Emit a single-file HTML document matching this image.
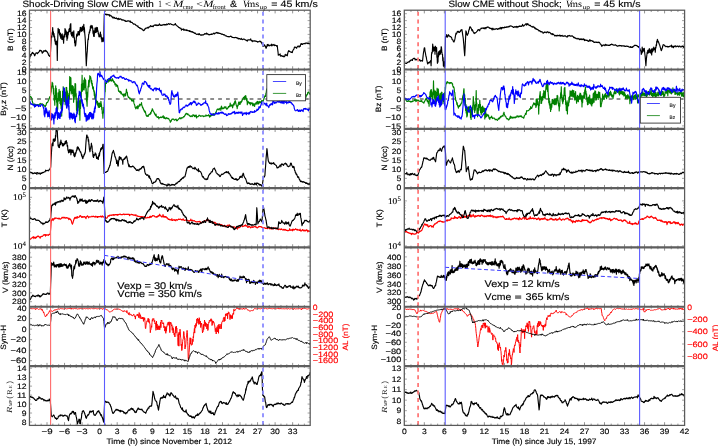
<!DOCTYPE html>
<html><head><meta charset="utf-8"><title>CME plots</title>
<style>html,body{margin:0;padding:0;background:#fff;width:718px;height:446px;overflow:hidden}svg{display:block;filter:blur(0.3px)}text{text-rendering:geometricPrecision}</style>
</head><body>
<svg width="718" height="446" viewBox="0 0 718 446"><defs><clipPath id="cL0"><rect x="29.45" y="10.2" width="280.75" height="59.31"/></clipPath><clipPath id="cL1"><rect x="29.45" y="69.51" width="280.75" height="59.31"/></clipPath><clipPath id="cL2"><rect x="29.45" y="128.83" width="280.75" height="59.31"/></clipPath><clipPath id="cL3"><rect x="29.45" y="188.14" width="280.75" height="59.31"/></clipPath><clipPath id="cL4"><rect x="29.45" y="247.46" width="280.75" height="59.31"/></clipPath><clipPath id="cL5"><rect x="29.45" y="306.77" width="280.75" height="59.31"/></clipPath><clipPath id="cL6"><rect x="29.45" y="366.09" width="280.75" height="59.31"/></clipPath><clipPath id="cR0"><rect x="404.3" y="10.2" width="280.3" height="59.31"/></clipPath><clipPath id="cR1"><rect x="404.3" y="69.51" width="280.3" height="59.31"/></clipPath><clipPath id="cR2"><rect x="404.3" y="128.83" width="280.3" height="59.31"/></clipPath><clipPath id="cR3"><rect x="404.3" y="188.14" width="280.3" height="59.31"/></clipPath><clipPath id="cR4"><rect x="404.3" y="247.46" width="280.3" height="59.31"/></clipPath><clipPath id="cR5"><rect x="404.3" y="306.77" width="280.3" height="59.31"/></clipPath><clipPath id="cR6"><rect x="404.3" y="366.09" width="280.3" height="59.31"/></clipPath></defs><rect width="718" height="446" fill="#fff"/>
<line x1="29.45" y1="99" x2="310.2" y2="99" stroke="#6a6a6a" stroke-width="1.3" stroke-dasharray="3.8,4.07" stroke-dashoffset="0.2"/>
<line x1="404.3" y1="99" x2="684.6" y2="99" stroke="#6a6a6a" stroke-width="1.3" stroke-dasharray="3.8,4.07" stroke-dashoffset="0.2"/>
<path d="M29.4 57.7l .3-.1 .3-.7 .2-.6 .3-1.9 .3 1.3 .3-.5 .3-.7 .2-.6 .3-.5 .3-.5 .3-.5 .3 .2 .2 .5 .3 .5 .3 0 .3 0 .3 .6 .2 1 .3 .6 .3-.5 .3-1.1 .3-.5 .3-.7 .3-.1 .3-.1 .2 .1 .3 .3 .3 .5 .3-.2 .3-.4 .2-.5 .3-.2 .3-.2 .3-.5 .3-.2 .4-1.2 .3 .5 .3-.5 .3 0 .3 .5 .3-.1 .3 .3 .3 .8 .2 .5 .3 .9 .3-.5 .2-.6 .3 .3 .3-1.6 .3 .4 .3 0 .2 .1 .3-.6 .3 .1 .3 0 .3 .4 .2-1 .3 1 .3 .1 .3-.3 .3 .4 .3 .4 .2 .6 .3 .4 .3 .2 .3 1.1 .3 .6 .3 .8 .3 .1 .3 .4 .2 .2 .3 .2 .3-.1 .3-4.3 .3-5.2 .2-3.9 .3-6.1 .3-1 .3 1.3 .2-4.4 .3 .2 .3-5.3 .3 6.5 .4-2.2 .3 4.4 .3-2.8 .3 4 .3-1.4 .2 5 .3-2.2 .3 5.1 .3-2.8 .3 3.5 .4-3.6 .3 3.8 .3 .1 .3 15.4 .3-19.2 .2-3.4 .3-9.4 .3 4.5 .3-3.6 .3 2.4 .3-2.2 .3 5.3 .3-2.2 .3 3.7 .3-2.9 .2 4.8 .3-3.6 .3 1.9 .3-1.7 .3 4.7 .3-5.6 .3 5.5 .2-3.6 .3 3.6 .3-.3 .3 4 .3-6.1 .3-2.4 .3 .9 .2 1.4 .3-8.3 .3 2.6 .3-1.5 .3 4.6 .3-3.2 .3 5.5 .2-3.5 .3 7.2 .3-8.1 .3 5.9 .3-5.4 .3 2.3 .3-3.5 .3 .4 .2-2.9 .3 2.8 .3-3.4 .3 3.1 .3-6.8 .3 6.8 .3-8 .2 10.6 .3-1.9 .3 3.8 .3-2.6 .3 2.1 .3-3.5 .4 5.3 .3-5.3 .3 2.8 .3-4 .3 7.1 .3-.3 .2 5.2 .3-2.2 .3 5.4 .3-.2 .3-1.5 .4-4.5 .3-3.7 .3-2.1 .3 2.1 .3-2.3 .3 2 .3-4.3 .2 2.1 .3-2.1 .3 3.2 .3-2.8 .3 3.1 .3-5 .3 2.1 .3-4.7 .3 2.3 .3-2 .3 3.2 .3-1.7 .3 2.1 .3-4.3 .3 3.5 .3-4.1 .3 3.4 .3-4 .2 3.3 .3-4.8 .3 7.7 .3-4.5 .3 5.6 .4 3.9 .3 5.2 .3 8.1 .3 7.5 .3 7.9 .3-5.8 .4-5.9 .3-3.1 .3-6.2 .3-4.7 .3-1.4 .2 1.1 .3-5.3 .3-.2 .3-2.3 .3 .8 .3-3 .3 .9 .2-4.2 .3 1.6 .3-2.7 .3 2.5 .3-.8 .3 1 .3-2.3 .2 1.4 .3 .8 .3 5.4 .3-.8 .3 3.7 .3-5.4 .3 5.6 .3-5.1 .3 1.7 .2-4.9 .3 4 .3-2.9 .3 3.2 .3-5.1 .3 4.7 .3-2.9 .3 1.4 .3-2.9 .3 3.8 .3-.7 .3 3.3 .3-.8 .3 3.4 .3-1.8 .3 2.1 .3-1.9 .3 1.6 .3-4.5 .3 4.4 .3-1.9 .3 4.3 .3-1.8 .3 4.5 .3-3 .3 2.3 .4-3 .3 3.7 .3-1.3 .3 0 .2-12.7 .3-13.6 .3 .8 .3-.3 .3-.1 .3-.3 .4 0 .3 .8 .3-.6 .3 .1 .3 .3 .3-.3 .3 .2 .3 .3 .3-.2 .3 .3 .3-.2 .3-.2 .3 1.5 .3-.6 .3-.3 .3 .3 .3 .2 .3 .2 .3 0 .3 .3 .2 .7 .3 0 .3 .2 .3 .7 .3-.9 .3 1.1 .3-.2 .3 0 .3 .1 .3-.5 .3 .6 .3 .5 .3 0 .3-.2 .3 0 .3-.4 .3 .7 .3-.2 .3 .2 .3 .2 .3 .5 .3 .3 .3-1.1 .3-.2 .3 .6 .3 .2 .3 .3 .3-.1 .3-.5 .3 .1 .3 .3 .3 0 .3 .1 .3 .5 .3 .5 .3-.4 .3 .1 .3-.1 .3-.1 .3 .3 .3 .1 .3 .1 .3 .4 .3-.2 .3-.1 .3 1 .3-.5 .3 .2 .3 .2 .3 .1 .3 0 .3-.3 .3-.1 .3-.2 .3 .3 .3-.3 .3 .1 .3 .1 .3 0 .3 .1 .3 .6 .3 .2 .3-.9 .3 1.2 .3 .3 .3-.1 .3-.1 .3 .1 .2 .2 .3 .2 .3 .4 .3 .3 .3 .4 .3 .3 .3-.3 .3 .3 .3 0 .3 0 .3 .1 .3 .2 .3 .4 .3 .5 .3 .2 .3 .1 .4 .1 .3 .2 .3 .3 .3-.3 .3 1.1 .3 .1 .3 .3 .3 0 .3 .1 .3 .4 .3 .5 .3-.1 .3-.2 .3 .4 .3 .3 .4-.1 .3 .1 .3 .4 .3 .5 .3 0 .3 .3 .3 .5 .3-.1 .3-.1 .3-.7 .3 .1 .2-.9 .3 0 .3-.2 .3-.4 .3-.2 .3 .1 .3-.1 .3-.2 .3 .1 .3-.5 .3-.1 .3 .7 .4-.7 .3-.1 .3-.4 .3 .1 .3 0 .3-.2 .3-.8 .3-.4 .3 .4 .3 .2 .3 .2 .3-.1 .3 .3 .3-.3 .3-.2 .3 .2 .3 .3 .3-.9 .3-.2 .3-.3 .4-.1 .3 .1 .3-.2 .3-.1 .3 .6 .3-.7 .3 .3 .3 0 .3 .5 .3-.1 .3-.4 .3 .2 .3-.1 .3 .2 .3-.5 .3 .1 .3-1.2 .3 1.2 .3-.3 .3 .4 .3 .3 .3-.2 .3-.2 .3 .4 .3-.1 .3-.3 .3 .2 .4-.3 .3 .1 .3-.2 .3-.1 .3-.3 .3 .5 .3-.2 .3-.2 .3 .3 .3-.1 .3 0 .3 .4 .3-.8 .3-.3 .3 .3 .3 0 .3 .3 .3-.6 .3 0 .3-.2 .3-.2 .3 .4 .3 .4 .3-.3 .3-.2 .3 .1 .3-.1 .3 .1 .3 0 .3 .5 .3 0 .3 .1 .3 .1 .3 .1 .3 .1 .3 .1 .3 0 .3 .1 .3-.4 .3-.2 .3-.3 .3 0 .3-.6 .3 1.3 .3 0 .3 .2 .3 .3 .3 .3 .3 .2 .3 .3 .3 .2 .3 .3 .3 .2 .3 .5 .3 .2 .3 0 .3 .2 .3 .3 .3 0 .3 .2 .3 .2 .3-.2 .3 1.9 .3-.6 .3-.1 .3 0 .3-.2 .3 0 .3-.3 .3 1.2 .3-1.1 .3 .3 .3 .3 .3 .6 .3 0 .4 0 .3-.1 .3-.7 .3 .7 .3 .2 .3 .2 .3-.5 .3 .3 .3 .2 .3-.1 .3 .2 .3 .1 .3 .2 .3 .4 .3-.8 .3 .7 .3-.1 .3 .2 .3-.2 .3 .8 .3-.2 .3-.1 .3 0 .3 .4 .3-.3 .3 .1 .3 .7 .3 0 .3 0 .3 .1 .3 .3 .3 .4 .3-.2 .3-.2 .3 .6 .3 .3 .3 .1 .3 .3 .3 .1 .3 0 .3-.3 .4 .1 .3 0 .3 .4 .3-.1 .3-.9 .3 0 .3 .8 .3 .2 .3 .3 .3 0 .3 .1 .3 .3 .3-.4 .3 0 .3 0 .3 .2 .3-.2 .3-.2 .4 .3 .3-.3 .3-.2 .3-.1 .3-.5 .3-.1 .3-.2 .3 .1 .3 .1 .3 .5 .3-.5 .3-.7 .3 .3 .3 .6 .3 .1 .2-.2 .3 .3 .3 .1 .3 .3 .3-.2 .3 .4 .3-.3 .3 .1 .3 0 .3-.2 .3 .1 .3 0 .3-.6 .3 .2 .3 .3 .3-.3 .3 0 .3-.3 .3 .1 .3-.4 .3-.4 .3 .3 .3-.1 .3 .6 .3-.5 .3-.1 .3-.1 .3-.3 .3-.3 .3 .3 .3-.4 .3-.1 .3 .2 .3 .6 .3 .1 .4-.5 .3 .1 .3 .2 .3 .3 .3-.1 .3 0 .3 .2 .3 .2 .3-.1 .3 .1 .3 .1 .3 .5 .3 .1 .3 0 .3-.3 .3 .2 .3 0 .3 .4 .3 .3 .3-.4 .3 .4 .3-.1 .3 .3 .3 .5 .3 .1 .3 .1 .3 0 .3 0 .3 .3 .3 .3 .3 0 .3 0 .3 .2 .3-.2 .3 .2 .3 0 .3 .2 .3-.1 .3-.2 .3-.1 .3 0 .3-.2 .3-.2 .3 .3 .3 .5 .3 .1 .3 0 .2 .4 .3 0 .3-.1 .3 .3 .3-.1 .3 0 .3 0 .3 .2 .3-.1 .3 .1 .3-.3 .3 .1 .3 0 .3 .1 .3 .3 .3 .1 .3-.2 .3 .2 .3 .3 .3-.1 .3 .8 .3-.6 .3 .3 .3-.1 .3-.1 .3 .4 .3 .1 .3 .2 .3-.1 .3 .3 .3-1 .3 .8 .3 0 .3 .1 .3 .3 .3-.1 .3-.2 .3-.2 .3-.1 .3 .1 .3 .1 .3 .1 .3 .5 .3 0 .3 .1 .3 .1 .3 .4 .3 .2 .3-.3 .3-.1 .3 1 .3-1.2 .3 .2 .3-.3 .3 0 .4-.1 .3 .1 .3-.1 .3 .1 .3 0 .3-.1 .3-.9 .3 1.4 .3 0 .3 .3 .3-.2 .3 1.3 .3-.5 .3-.4 .3 .4 .3-.1 .3-.2 .3 0 .3-.1 .3 .1 .2 .3 .3-.3 .3 .1 .3 .3 .3 0 .3 .2 .3-.1 .3 .1 .3 .1 .3 .5 .3-.2 .3-.2 .3 .1 .3-.1 .3 0 .3-.2 .2-.3 .3 0 .3 0 .3 .1 .3 .7 .3 .1 .3 0 .3 0 .3 1.7 .3-.9 .3 1.4 .2 1 .3 1 .3-.1 .3 0 .4-1.2 .3-.1 .3 0 .3 1.3 .3-.3 .2 .3 .3 1.2 .3 .8 .3-.2 .3-1.3 .3-.8 .3-1.4 .2 .8 .3 .6 .3-1.5 .3 1.1 .3-.5 .3 .3 .3 .7 .3-.7 .3 0 .3-.1 .4 .1 .3-.2 .3 .5 .3 0 .3-1.6 .3 1.8 .3-.4 .3-.4 .3-.2 .3 .1 .3 .3 .3-.3 .3-.5 .3 1 .3 .3 .2-.1 .3-.3 .3-.1 .3 .1 .3 .3 .3 .2 .3 .5 .3-.6 .3 0 .3 3.2 .4 2.9 .3 3.4 .3-.4 .3-.1 .3 .1 .3-.2 .3 .1 .3-.8 .3 2 .3 .3 .3-.3 .3-.3 .3 .2 .3 .1 .3 .5 .3-.3 .3-.1 .3 .3 .3-.1 .3 0 .3 .7 .3-.3 .3-.5 .3 0 .3-1.8 .3 .8 .3 0 .3 .2 .3-.3 .3-.2 .3 .1 .3 .9 .3-1.9 .4-1.5 .3-1 .3-.7 .3 .7 .3-.5 .2 .2 .3 .3 .3 .3 .3 .1 .3 0 .3 .5 .3-.3 .2 .4 .3-.4 .3 .1 .3 .5 .3-1.7 .2-.1 .3-.9 .3-.2 .3-.5 .3-.2 .3-1.4 .3-.5 .3-.1 .3 .1 .3 .3 .3 0 .3 .2 .3 .6 .3-.1 .3-.8 .3-.5 .3-.5 .3-.1 .3-.2 .3 0 .3 .6 .2 .5 .3-.5 .3-.3 .3-.5 .3 .6 .3-1.3 .3-.8 .3-.7 .3 0 .3 .8 .3-.6 .3 .5 .3 .2 .3-.5 .3-.2 .3-.1 .3 0 .2 0 .3 0 .3-.3 .3 .3 .3 .1 .3-.5 .3-.2 .3-.2 .3 .2 .3 .1 .3 .1 .3-.3 .3 .5 .3 .1 .3-.4 .2 .4 .3-.4 .3-.1 .3 .6 .3-.2 .3 .4 .3-.3 .3 .5" fill="none" stroke="#000" stroke-width="1.15" stroke-linejoin="round" clip-path="url(#cL0)"/>
<path d="M29.7 95.9l .3 1.4 .3-.6 .3-.3 .4 .8 .3-.1 .3 .8 .3 1.5 .3 1.4 .2 1 .3 .7 .3 1.2 .3 .9 .3 .1 .3-.4 .3-.3 .3 .5 .3 .2 .3-.3 .3 1.1 .3-1 .3 .5 .3-.1 .3 0 .3-.2 .3 .2 .3-.4 .3 .3 .3 .5 .3-.3 .4-.4 .3 0 .3-.2 .3-.3 .3-.2 .3-.5 .3 .3 .3 0 .3 .8 .3 .1 .3-.8 .3 0 .3 .2 .3 .3 .3 0 .4 1 .3-.4 .3 .4 .3 .3 .3 .5 .3-.4 .3 1.1 .3-.6 .3-1 .3-.1 .3-1.7 .3-.7 .2 .1 .3-.2 .3 0 .3-.6 .3-.7 .3-1 .3-.3 .3-.7 .3-.8 .3-1.4 .3-.4 .3-.3 .3-.4 .3-2.8 .4-1.6 .3-5.1 .3-.8 .3-3.5 .3 4.5 .3-3.6 .2 5.1 .3-2.5 .3 8.4 .3-5.7 .4 12.2 .3-1.7 .3 6.3 .3-9.9 .3 3.9 .3-13.4 .3 11 .3-8.4 .3 13.9 .2-3.9 .3 12.8 .3-11.5 .3 9.5 .3-16.3 .2 8.5 .3-7.6 .3 2 .3-6.4 .3 11 .3-7.5 .3 10.6 .3-12.3 .3 13.7 .3-6.2 .2 9.7 .3-6 .3 13.7 .3-17.8 .3 7.6 .3-14.8 .3 9.1 .3-13.5 .3 10.2 .3-8.1 .2 12.7 .3-11.9 .3 11 .3-7.2 .3 11.4 .3-12.6 .3 10.5 .3-15.4 .3 9.5 .3-9.2 .3 17 .3-13.8 .3 11.6 .4-9.2 .3 13.4 .3-11.3 .3 8.5 .3-8.3 .2 2.8 .3-21.7 .3 13.2 .3-12.3 .3 13.2 .3-13 .3 16.2 .4-7 .3 4.9 .3-6.2 .3 7.8 .3-7.3 .3 9.8 .2-9.3 .3 15.7 .3-6.5 .3 3.6 .3-10.5 .2 7.4 .3-12.8 .3 6.2 .3-5.8 .3 15.4 .3-5.7 .3 16.7 .3-3 .3 5.9 .3-11.4 .2 9.4 .3-11.1 .3 6.6 .3-9.2 .3 9.7 .3-6.6 .2 14.1 .3-7 .3 12.6 .3-20.2 .3 8.3 .3-7.4 .4-1.6 .3-15.4 .3 4.8 .3-13.6 .3 16 .2-7.9 .3 5.4 .3-4.4 .3 5.3 .3-9.3 .3 9.7 .4-12.1 .3 9.9 .3-8.4 .3 3.4 .3-2.6 .3 13.6 .2-5.2 .3 12.4 .3 .3 .3 4.9 .3-14 .3 5 .4-10.9 .3-.5 .3-5.5 .3 6.5 .3-6.9 .3 2.1 .2-6.3 .3 3 .3-2.2 .3 .8 .3 1.5 .4 4.3 .3-2.5 .3 4.5 .3-1.9 .3 5.1 .3-1.9 .3 3.1 .2-2.5 .3 4.2 .3-1 .3 5.3 .3-3.6 .2 6.4 .3-4.6 .3 2.8 .3 2.2 .3 2.2 .3-.9 .3 3 .3-1.6 .3 3.1 .3-3.1 .2 3.9 .3-2.7 .3 4.7 .3-3.6 .3 3 .2-3.4 .3 4.2 .3-4.5 .3 3.7 .3-1.8 .3 1.5 .3-5.1 .3 2.2 .3 1.7 .3 4.4 .3-2.3 .2 6.2 .3-1.3 .3 5.9 .3-6.3 .2 1.4 .3-5.9 .3 3.8 .3-8.8 .3-3.1 .3-7.4 .3 0 .3-8.1 .3-1.4 .3 1.1 .3 0 .3-2.4 .3 .9 .3-2.2 .3 1.2 .3-1.2 .3 2.4 .3-1.7 .4 .2 .3-.9 .3 1.4 .3-1.5 .3-.4 .3-1.2 .3 2.8 .3-.9 .4 1.2 .3-1 .3 .7 .3-2.2 .3 2.1 .3-.8 .3 .4 .3 1.2 .3 .9 .3-.8 .3 .7 .3 .5 .3 2 .3-1.2 .3 .8 .2-.3 .3 2.2 .3-1.7 .3 1.2 .3-.7 .3 1.3 .3-.9 .3 2.3 .3 .2 .3 3.1 .3-.1 .3 .4 .3-.4 .3 1.3 .3-.7 .3 .6 .3-.8 .3 2.2 .3-1.6 .3 1.5 .3 0 .3 1.1 .3-.1 .3 .4 .3-.5 .3 1.5 .3-1.8 .3 2.9 .3-1.8 .2-1.1 .3 .4 .3 .7 .3-1.5 .3 2.1 .3-2.2 .2-1 .3-3.4 .3 2.2 .3 1.1 .3-.3 .3 3.1 .3 .8 .3 .9 .3 .6 .3-.5 .3 .8 .4 0 .3 1.1 .3-1 .3 .9 .3-.1 .3 .8 .3-.7 .3 1.8 .3 .2 .2 .2 .3-.8 .3-.3 .3 .4 .3 .9 .3-1.6 .3 3.2 .3 1 .3 .6 .4 1.3 .3 1.8 .3-.3 .3 1.6 .3-1.6 .3 .3 .3-.9 .3 1.4 .3-.4 .3-1.9 .3 3 .3-1.2 .3-1.3 .3 .3 .3-1.5 .3 .7 .3-1.6 .3 1.7 .3-1.2 .3-.1 .3-.4 .3 .3 .3-1.9 .3 2.9 .3 0 .3 1.8 .4-.3 .3 1.8 .3-.2 .3 1.5 .3-.3 .3 1.7 .3-.7 .3 1.6 .4-1.1 .3 1.7 .3 1.2 .3 1.2 .3 .2 .3 .8 .3-1 .3 .6 .3-.1 .3 .6 .2-.1 .3-1.4 .3-.5 .3 0 .3-.5 .3 .7 .3-.9 .3 .3 .3-1.7 .3 1.4 .2-1.7 .3-.3 .3-1.5 .3 .2 .3-1.8 .3 1 .3 .1 .3 1.6 .3 .1 .4 .8 .3 .1 .3 1.5 .3-.1 .3 1 .3-.4 .3 1.4 .3-1.7 .3 1.8 .3 .4 .2 .1 .3 .8 .3 .2 .3-.6 .3 .3 .3-.4 .3 1.2 .3 1 .3-1.4 .3 0 .3 0 .4-.2 .3-.3 .3 .6 .3-.2 .3-.2 .3 .4 .3-.3 .3-.4 .3 .2 .3-.7 .3-.7 .3 1.8 .3 .5 .3 .3 .3-1.5 .4 1.4 .3 0 .3 .6 .3-.8 .3 .1 .3-.4 .3 .3 .3 .6 .3-.5 .3 .2 .3 .4 .3-.1 .3-.3 .4 .4 .3 .8 .3 .6 .3 .2 .3 .2 .3 1.8 .3-1.3 .3 .1 .3 .1 .3-1 .3-.6 .3-.5 .3 .3 .3-.3 .3-.1 .3 .1 .3-.1 .3 .7 .3 .1 .3 .4 .3-.4 .3 .1 .3-.4 .3-.1 .3-.4 .3 .6 .3 .9 .3 .3 .3-.3 .3-.1 .3-.6 .3-.3 .3-.2 .3-.4 .3-.2 .3-.2 .4-.8 .3 .3 .3 .2 .3 .6 .3-.9 .3 .7 .3-.8 .3 .2 .3-.1 .3-.2 .3 .1 .3-.1 .3-.7 .3-.5 .3 .2 .3 .1 .4-1.1 .3 0 .3-.6 .3-.8 .3-.3 .3-.7 .3 .1 .3 .2 .3 .7 .3 .1 .3 .3 .3-1 .2 .9 .3 .4 .3-.1 .3 .2 .3 .3 .3 0 .3 .8 .3 .1 .3 .3 .3-.2 .3-.6 .3 .3 .4-.2 .3 .8 .3-.3 .3-.3 .3-1.5 .3 .9 .3 0 .3-.3 .3 .4 .3 .9 .3-1.1 .3 1.4 .3-1.6 .3 .6 .3 .1 .3-.8 .3 2.9 .3-1.2 .3-.1 .3-.1 .3-.1 .3 .2 .3-.3 .3-.5 .3-.7 .3 0 .3 .5 .3 0 .3 0 .3 .2 .3 .6 .3-.5 .3 0 .3-.2 .3 0 .3 0 .3 .2 .3-.2 .3 .6 .3 .3 .3-.7 .3 .3 .3-.1 .3-.1 .3 .2 .3-.4 .3-.4 .3-.6 .3 1 .3-.2 .3-.3 .3 .3 .3-.1 .3 .1 .3-.3 .4 .3 .3-1 .3 1 .3 .2 .3 1.2 .3-1.6 .3 1.1 .3-1.1 .3 .6 .3-.3 .3-.3 .3-.7 .3 .2 .3 .2 .3-.9 .3 1 .3-.1 .3-1.7 .3 .9 .3-.4 .3 0 .3 1.2 .3-1.3 .3-.4 .3-.7 .3-.8 .3-.1 .3-1 .3-.7 .3-.8 .3-.3 .3-.1 .3 .4 .2-.3 .3 .5 .3-.4 .3 .8 .3-1 .3-.5 .3-.1 .3-.2 .3 .3 .2 1.8 .3-1.4 .3-2.8 .3 1 .3 .6 .3 1.1 .3-.1 .3-.5 .3 .5 .3-.6 .3 .4 .3-1.3 .3 .2 .3-.6 .3 1 .3-.1 .3 .2 .3-1.2 .3 1.3 .3 .3 .3 1 .4-.2 .3-.8 .3-.1 .3-.6 .3-1 .3 .7 .3-1 .3 .2 .3-.8 .3 .9 .3-3.6 .3 3 .3-.6 .3 .4 .3-.5 .3 .5 .3-1.3 .3 1.9 .3 1.4 .3-1.4 .3-1.1 .3-.5 .3-1.4 .4 1.5 .3-3.1 .3 1.5 .3-2.4 .3-.1 .3 1.6 .3 1.7 .3 1.2 .3 1 .3 0 .3 2.3 .3-2.9 .3-.5 .3 .6 .3-2.2 .2-1.1 .3-.6 .3 .7 .3 1.8 .3-2.3 .3 2.4 .3-2.6 .3-.2 .3 1.1 .3-.9 .3-1.1 .2 .9 .3-1.8 .3 0 .3-.5 .3-.3 .3-1.6 .3 .2 .3-.5 .3 .9 .4-1.6 .3 3.1 .3-3.7 .3 .5 .3-.7 .3 2.1 .3 1.2 .3 1.9 .3-2.4 .3 6.3 .3-2.7 .3 .7 .3-1.5 .3 1.3 .3-.3 .3 1.1 .3-1 .3 1.1 .3-.5 .3 2 .3-2.4 .3 .4 .3-.1 .3 .9 .3-1 .3 .4 .3-.2 .3 2.7 .3-2.5 .4 1.3 .3-.3 .3 1.7 .3-2 .3 2.6 .3-2.4 .3 .1 .3-.1 .3-.9 .3-.8 .3 .7 .3-1 .3 2.2 .4-2.9 .3 1.9 .3-1.5 .3 1.4 .3 .7 .3-1.4 .3-1.2 .3 1.5 .3-.8 .3 .8 .3-.9 .3 .7 .3-1.1 .3 .8 .3-1.8 .3 1.1 .3-1 .3 1.3 .3-.2 .3 0 .3-1.4 .3-.5 .3-1.6 .3-.2 .4-1.9 .3-.3 .3-.5 .3 1.2 .3-3.2 .3-.5 .4-3.4 .3-.6 .3 1.9 .3 .6 .3-.1 .3 .2 .3 .2 .4 .4 .3-2.4 .3 .4 .3-1.2 .3 1.5 .3-1.5 .3 2 .3-.1 .3 .1 .3-1.8 .3 .8 .3 0 .3-.7 .3-1.1 .3 1.8 .3-2.6 .3 2.5 .3-1 .3 1.8 .3-1.4 .3 .4 .4-.1 .3 1.7 .3-3.6 .3 2.2 .3 .4 .3 0 .3-.6 .3-1.3 .3 .7 .3 1.3 .3-.5 .3 .8 .3-3.4 .3 3.4 .3-1.5 .3-.9 .3-.9 .3 1.5 .3-.7 .3 .8 .3-.5 .3 .6 .3-.6 .3 .1 .3-.6 .3 1.4 .3 1.1 .3-1.8 .3-1.5 .3 2.4 .3-1 .3-1.4 .3-.4 .4 1.2 .3-1.2 .3 .4 .3-.3 .3 1.8 .3 .3 .3 1.5 .3-1.1 .3 .5 .3-2.8 .3 2.1 .3-1.1 .3 .1 .3-.3 .3 .9 .3 .7 .3 .2 .3 .7 .3 0 .3-1.3 .3 .6 .3-.5 .3 1.2 .3 .1 .3 .6 .3-.6 .3 .5 .3-.6 .3-.1 .3-.3 .3 0 .3 0 .3 .5 .4-.4 .3 .7 .3-.2 .3 1.2 .3-.7 .3 .8 .3-.7 .3 .3 .3 .1 .3 .3 .3 .5 .3-.1 .3 .1 .3 .8 .3-.2 .3 .9 .3-.3 .3 .2 .3 .5 .3-.8 .3-.2 .3 .2 .3-.1 .3 .6 .3 1.3 .3-1.5 .3-.4 .3 0 .3 .1 .3 .4 .3-.9 .3 .7 .3 .1 .3 .1 .3 .7 .3 .9 .3 2 .3-1.5 .3-.9 .2 .2 .3-.1 .3-.7 .3-1.8 .3 .7 .3-1.2 .3 .7 .3-.7 .3 .9 .4 1 .3 .2 .3-.4 .3 1.3" fill="none" stroke="#008000" stroke-width="1.15" stroke-linejoin="round" clip-path="url(#cL1)"/>
<path d="M29.7 100.6l .3 1.2 .3 1.7 .3-.7 .3 1.5 .3-.6 .3 .1 .3 .5 .3-.2 .4 .2 .3 .7 .3-.2 .3 .4 .3-.2 .3 .4 .3 .6 .3 1.2 .3-3.1 .3 .8 .3 1.5 .3-.4 .4-.5 .3-.4 .3 .1 .3 .6 .3-.6 .3-.4 .3 .1 .3 .5 .3 1.2 .3-1.2 .3 .8 .3-.4 .3 .1 .4 0 .3 .5 .3-1.3 .3-.4 .3-.4 .3 .3 .3-.1 .3 .3 .3 1 .3 .5 .3 .7 .3 1.5 .3-1.4 .4 7.9 .3-1 .3 2.8 .3-6.2 .2 3.2 .3-6 .3 2.7 .3-2.5 .3 4.5 .3-2.8 .3 4.1 .3-1.9 .3 4.9 .3-4 .3 2.9 .3-3.7 .3 4.5 .3-5.8 .3 5.3 .3-.2 .4 2.8 .3-3 .3 4.8 .3-4.2 .3 3.4 .4-6.3 .3 3.7 .3-2.1 .3 2.9 .3-3.5 .3 5.3 .3-3.3 .3 7.6 .3-8.4 .3 2.8 .3-5.1 .3 4.7 .3-5.6 .4 3 .3-6.9 .3 4 .3-5.2 .3 6.1 .3-3.6 .2 9.6 .3-6.5 .3 4.2 .3-4.4 .3 5.2 .3-2.8 .4 3.2 .3-4.8 .3 5 .3-6.1 .3 4.2 .3-5 .3 1.6 .3-4 .3 3.1 .3-5.7 .3 3.8 .3-7.1 .3 1.1 .3-8.2 .3 .5 .3-9.1 .3 6.6 .2-5.8 .3 7.4 .3-3.8 .3 6.4 .3-1.7 .3 7 .3-3.9 .3 7.6 .3 .9 .3-.9 .3-6.6 .2 4.9 .3-6.5 .3 1.8 .3-4.2 .3 13 .2-4.2 .3 12.1 .3-1.8 .3 3.3 .3-6.3 .3 2.1 .4-1.6 .3 4.5 .3-4.6 .3 4.4 .3-2.9 .3 4.3 .3-4.9 .3 4.2 .3-2.4 .3 2.2 .3-5.1 .3 3.7 .3-2.2 .2 6.7 .3-4.7 .3 6.2 .3-6.4 .3 .5 .3-2.2 .4 2.1 .3-4.9 .3 2.1 .3-5.2 .3 2 .3-9.4 .2 .3 .3-6 .3 2.4 .3-6.8 .3 4.3 .3-3.4 .3 2.2 .3-2.3 .3 5.5 .3-1.7 .3 5.4 .3-2.3 .3 4.2 .3-3.3 .3 6 .3-2.9 .3 4 .3-2.7 .4 4.4 .3-1.1 .3 6.1 .3 1.2 .3 1.9 .3-3.3 .3 .3 .3 .4 .3 7.1 .3-5.6 .3 4.5 .3 .1 .3-4.6 .3 .8 .4 3.3 .3-5.1 .3 3.7 .3-4.7 .3 5.3 .3-6.3 .3 4.6 .3-4.8 .3 3.8 .3-3.6 .3 3.9 .3-3.1 .3 5.2 .3-4.6 .4 2.5 .3-2.6 .3 5.1 .3-2.8 .3 1.8 .3-6.9 .3 .7 .3-4 .3 4.4 .3-6.1 .3 2.3 .3-8.4 .3-1.9 .3-2.4 .3-7.2 .3-4.5 .4-3.5 .3-6.6 .3 .3 .3-1 .3 .9 .3 .7 .3 .4 .3-.3 .3 2 .3-5.2 .3 4.1 .3-1.1 .4 1.6 .3-.9 .3 .9 .3-.6 .3 1.3 .3-.1 .3 1.2 .3 .2 .3 .9 .3-.5 .3 1.1 .3 0 .3 .5 .3-.9 .4 1.4 .3-.4 .3 .8 .3 .8 .3 .4 .3-.9 .3 .3 .3-1 .3-.2 .3-1 .3-.7 .3 .1 .3 .2 .3-.7 .3-.2 .3 .3 .3 .1 .3-.7 .4-1.2 .3 1 .3-.4 .3-.6 .3-.5 .3-.5 .3 .4 .3 0 .3-.3 .3-.2 .3-.7 .3 1.1 .3 .8 .3-.4 .2 .9 .3 0 .3 0 .3 0 .3 .7 .3-.1 .3-.2 .3 .1 .3 .1 .3 0 .3-.6 .3 .5 .3 .4 .3-.2 .4-1 .3-.3 .3 .1 .3-.7 .3 .2 .3 .4 .3-.5 .3 .7 .3 0 .3 .7 .3 .6 .3-.5 .3 .4 .3-.7 .3 .3 .4-.1 .3 .6 .3 .1 .3 .9 .3-.2 .3 .1 .3 .3 .3-.3 .3-.6 .3 .1 .3 .4 .3 .3 .3 .3 .4 .1 .3-.4 .3 .6 .3 1.2 .3-.8 .3 .3 .3-.6 .3 .3 .3 .4 .3 .2 .3-.1 .3 0 .3 .1 .4 .2 .3 1.2 .3 .2 .3 .1 .3-.1 .3-.4 .3-.4 .3-.2 .3 .3 .3 0 .3-.1 .3 1.5 .3-.3 .3 1 .3 .2 .3 .6 .3 .9 .3 .1 .3-.6 .3 1.3 .3 .6 .3 1.4 .3 2 .3 1.6 .3 .6 .3 1.2 .3-1.5 .3-.5 .3-1.7 .3 .6 .3-2.3 .3-.1 .3-1.3 .3-.4 .3-1.9 .3-1.5 .3-.2 .3 .1 .3 .2 .3 .1 .3 1.2 .4-2.4 .3-1 .3 .1 .3 .3 .3 .3 .3-.1 .3 .4 .3 .4 .3 1.3 .2-.9 .3 1.4 .3 .9 .3 .4 .3-.3 .3 .7 .3 .9 .3-1.8 .3 1.7 .3 .4 .3-2 .2 2.5 .3 .7 .3 .4 .3-.4 .3-.3 .3 .5 .3 .3 .3 .5 .3 .5 .3 .1 .3-.7 .3 1.4 .3-1 .4-1.1 .3 .1 .3-.8 .3 .7 .3-.5 .3-.3 .3 .1 .3 2.6 .3-2.5 .3 .4 .3 .4 .3 .2 .3-.6 .3 .7 .3 .1 .3 .2 .3-.7 .3 1 .3-1.9 .3 2.8 .3-.1 .3-.1 .3 1.2 .3 .4 .2-1.9 .3 2.8 .3 .2 .3 1.5 .3 .5 .3 0 .3-.1 .3-.1 .3 0 .3-1.2 .2 .5 .3 0 .3 .3 .3-.6 .3 1.3 .3 1 .3-1 .3 .4 .3 .1 .4 1 .3-.8 .3 1.7 .3-.8 .3 1.7 .3-1.1 .3 2.5 .3-.5 .3 1.5 .2 1.5 .3 .4 .3 1.5 .3-1.4 .3 .9 .3-2.5 .4-6.4 .3-3.2 .3-1.3 .3 2.6 .3-.3 .3 2.3 .2-1.2 .3 1.6 .3 1.2 .3-.2 .3-.8 .3 1.4 .3-1 .3 .4 .3-1.9 .3 1.6 .3-1.4 .3 1.2 .3-2.1 .3 1.8 .3-1.9 .3 .9 .3-2.8 .3 3 .3 2.6 .2 6.7 .3 3.9 .3 4.5 .3 .1 .3-.9 .3-1.3 .3-.7 .4-.5 .3 .4 .3-.9 .3 0 .3-.1 .3 .3 .3-.3 .3-.8 .3-.8 .3 .2 .3 0 .3 .2 .3-.4 .3 0 .3-.7 .3-.6 .3-.2 .3-.3 .3-.5 .3 .6 .3 .4 .3 .4 .3-.7 .4 .4 .3-.5 .3-.7 .3 .1 .3-.2 .3-.9 .3 .8 .3-.1 .3-1.6 .3-.4 .3 1.2 .3-1 .3 2.1 .3-1.9 .3 .7 .2-.8 .3 .4 .3-.6 .3-.4 .3-1.1 .3 .9 .3-.5 .3 1.1 .3-1.6 .3 .6 .3 .6 .3 .7 .3 0 .3 1 .3 1.5 .3-.5 .3-.3 .3 .2 .3-.7 .3 .1 .3-1.3 .3 .3 .3 .2 .4 0 .3 .3 .3 .2 .3 .1 .3 .9 .3-.3 .3 .9 .3-.4 .3-.4 .3 0 .3-.1 .3-.7 .3 .5 .4-.9 .3-.5 .3 .1 .3-.2 .3 .1 .3-.2 .3 .4 .3-.8 .3-1.7 .3 2.2 .3 .5 .4 .2 .3-.1 .3 1.6 .3-1.1 .3 1.4 .3 .6 .3 .8 .3 .5 .3 1.8 .2 1.3 .3 1.2 .3 .7 .3 1.3 .3 .1 .3 .4 .3-.3 .3 1.3 .3-1.2 .4 .2 .3-.2 .3 .5 .3-.1 .3 .4 .3 .5 .3-.5 .3 .1 .3 .1 .3-.5 .3-.6 .3 0 .3 .1 .3-.8 .3 .6 .3-.8 .3 .9 .3 .4 .3-.2 .3-.4 .3-.2 .3-.8 .3 1.2 .3 .3 .3-.8 .3 .2 .3-.9 .3 .5 .3-.7 .3 0 .3 .3 .3 .4 .3-1.1 .3 .9 .3-.3 .3-.4 .3 .9 .3 .3 .3-.6 .4 .5 .3 .6 .3 .4 .3 0 .3 .2 .3-.4 .3-.2 .3-.1 .3 .7 .3 1 .3 .2 .3-.3 .3-.4 .3 .2 .3-.3 .3-1.3 .3 .4 .3-.2 .3 .5 .3-.5 .3 0 .3 .5 .3-.3 .3-.4 .3-.1 .3 .3 .3-.7 .3 .3 .3-.7 .3 .1 .3-.8 .3 .6 .3-.7 .3 .7 .3 .2 .3 .1 .3-1.6 .3 2.7 .4-1.3 .3 .6 .3 .1 .3-.1 .3-1 .3 .7 .3-.4 .3 .5 .3-.7 .3 1 .3-.2 .3-1.2 .3 .6 .3 0 .3 .4 .3-.2 .3-1 .3 1.1 .3-.2 .3 .6 .3-1 .3 0 .3-.4 .3 1.2 .3 2.4 .3-1.2 .3 0 .3-.3 .3-.7 .3-.4 .3-.1 .3 .8 .3 .4 .3-.4 .3 .1 .3-.9 .3-.5 .3 2.4 .3-1.7 .3 .4 .3-.2 .3 .4 .3-.6 .3 .1 .3 .1 .3 1.1 .3-1.9 .3 .8 .3 .5 .3-1.2 .3-.8 .3 .3 .3-.6 .3 .1 .4 .5 .3 .3 .3 .2 .3 0 .3-.9 .3 .5 .3 .2 .3-.1 .3-.3 .3 .4 .3-1.8 .3 1.2 .3 .1 .3-.2 .3-.3 .3 0 .3-.8 .3-.2 .3-1.2 .3 1.3 .3-.3 .3-.2 .3-.9 .3 .3 .3-1.7 .2-1 .3 1.5 .3-1 .3 .4 .3 .1 .3-1.6 .3-.4 .3-1.3 .3-.3 .3-1.6 .3 .5 .3-1.2 .3 2.8 .3-2 .3 0 .4 .2 .3 .4 .3 .2 .3 .6 .3-.2 .3-.3 .3 .4 .4 1.3 .3 .1 .3-.4 .3-1.8 .3 2.9 .3-.5 .3 .6 .3-.1 .3 .3 .3 .3 .3 1.1 .3-1.2 .3-.8 .3-.9 .4 .7 .3-.9 .3-.6 .3 0 .3 .8 .3-1 .3 .4 .3-1.1 .4 2 .3-4.2 .3 1 .3-.1 .3-.4 .3 1.7 .3 .4 .3-1.1 .3 .9 .2-1.3 .3 1.1 .3-.3 .3 .3 .3-.6 .3-.4 .3-.7 .3 .6 .3-.2 .3 .2 .3-.5 .3 .7 .3 0 .4-.7 .3-.9 .3 1 .3 1 .3 .1 .3-.8 .3 1 .3-1.5 .3 .6 .3-1.2 .3 2.7 .3-.9 .3-1.1 .4-.6 .3 1 .3 1.9 .3-.4 .3-2.4 .3 .8 .3 0 .3 .1 .3 .6 .3-.3 .3-.7 .3 1 .3 1.4 .2-1.8 .3 .1 .3 .2 .3 .1 .3 .5 .3-1.2 .3 .4 .3-.3 .3 .6 .4-1 .3 .9 .3-.3 .3 .8 .3-.1 .3-.2 .3 .5 .3 1 .4-.2 .3 .9 .3 .1 .3 0 .3 .5 .3 .8 .2 .3 .3 2.1 .3 .7 .3 1 .3 .3 .3 .2 .3 .1 .3-.1 .3-.3 .3-.4 .3 .2 .3 .1 .3-.7 .3 .5 .3 1.2 .3 .1 .3-.5 .3 .3 .3-1 .3 0 .3 1.1 .4 .2 .3-1.3 .3 .3 .3-.4 .3-.2 .3 1 .3-.6 .3 .3 .3-.5 .3 1.5 .3-2 .3-.9 .3 .3 .2-.4 .3 .3 .3-.4 .3 .8 .3-1 .3 .8 .3-.1 .3 .2 .3-.4 .3 .2 .3 .2 .3 .1 .3 .6 .3-.6 .3 1.6 .3-2.1 .3 .9 .3-.8 .3 0 .3-.7 .3-.5 .3 .2" fill="none" stroke="#0000ff" stroke-width="1.15" stroke-linejoin="round" clip-path="url(#cL1)"/>
<path d="M29.6 172.2l .3-.1 .3 .2 .3-.1 .3 .1 .3 0 .3 .6 .4-.4 .3 0 .3 .6 .3 .5 .3-.2 .3 .3 .3-.3 .3 0 .3-.6 .3 .4 .3 0 .3-.3 .3 .5 .3 0 .3-.1 .3-.4 .3 0 .3 1.5 .3-1.9 .3 .2 .3 .1 .3 .2 .3 0 .3 .7 .3-.4 .3-.3 .3 .4 .3 .1 .3 .9 .3-1.3 .3 .4 .3-.3 .3-.2 .3 .3 .3-.4 .3-.5 .4 .4 .3-.1 .3-.2 .3-.1 .3-.2 .3-.2 .3-.2 .3-.1 .3 .1 .3-.6 .3-1.1 .3 .8 .3-.1 .3-.3 .3 .1 .3-.2 .2 0 .3 .2 .3 0 .3 .2 .3-.1 .3-.5 .3-.7 .3-.4 .3 .1 .3-.7 .3-.8 .3-.5 .3-6.4 .4-7 .3-5.4 .3-4.6 .3 1.8 .4-3 .3 3 .3-6.5 .3 1.7 .3-1.6 .2 1.4 .3-1.3 .3 2.2 .3-3.1 .3 2 .2-5.1 .3 1.6 .3-7.2 .3 .7 .3-1 .3 1.9 .3-.6 .3 6.8 .2 2 .3 6.4 .3-1.1 .3 2.5 .3-1.6 .4 1.9 .3-3.6 .3 0 .3-2.1 .3 2.7 .3-4.6 .3 2.4 .3 0 .3 .8 .3 .4 .3 1.9 .3-2 .3 2.6 .3-1.7 .3 1.1 .3-1.8 .3 1.3 .3-1.6 .3 .9 .3-2.6 .3 1.9 .3-2.4 .3 2.1 .3-2.8 .3 1.9 .3-.1 .3 3.8 .4-.6 .3 4.7 .3-.4 .3 3 .3-2.2 .3 .7 .3-1.4 .3 2.4 .3-3 .3 2.4 .3-1.7 .3 4.8 .3-4.7 .3 .9 .3-1.1 .3 2.8 .3-1.3 .3 .8 .3-2.2 .3 2.3 .3-.2 .3 3.6 .3-2 .3 3.1 .3-2.7 .3 2.2 .3-3.4 .3 1.1 .3-1.6 .2-.2 .3-2.2 .3 .8 .3-3 .3-.8 .3-.1 .3 2.1 .3-1.8 .3 1.1 .3 0 .3 1.9 .3-.6 .3 1.4 .3 .5 .3 .7 .3-.3 .3 1.2 .3 .9 .3 1.8 .2-1.2 .3 2.3 .3-.3 .3 2 .3-.5 .3-1.9 .3 0 .3-.2 .3-1.8 .3 .4 .3-1.8 .3 .3 .3-1.8 .3-4.8 .4-5.8 .3-2.7 .3-3 .3 .1 .3 1.6 .4 1.1 .3-.8 .3 4.2 .3-1.6 .3 4.6 .2 1.2 .3 3.9 .3 1.1 .3 1.4 .3-3 .3 .1 .2-2.2 .3 0 .3-3.5 .3 2.5 .3 .1 .3 5.1 .4 .8 .3 4.4 .3 .9 .3 .5 .3-2.9 .3 .9 .4-1 .3 .7 .3-2.4 .3 1.6 .3-.5 .3 .2 .2 2.1 .3 2.3 .3-1.8 .3 2 .3-.6 .3 .5 .3-1.4 .2 2.3 .3-4 .3 1.2 .3-3.3 .3 2.3 .3-3.6 .3-.3 .2-.2 .3-2.2 .3-1.1 .3 1.5 .3-2.1 .3 1.3 .3-1.2 .2 .4 .3-1.7 .3-2.2 .3 .1 .3 11.6 .3 7.3 .3 10.2 .3-.5 .3-.3 .3-.4 .3-.1 .3 .2 .3 0 .3-.4 .3-.2 .3-.3 .3-.1 .3 .1 .3-.6 .3-.6 .3-.7 .3-1.2 .3-.6 .3-.4 .3-.9 .3-1.3 .3 .1 .3-2.3 .3-1.5 .3-.9 .2-1.4 .3-1.9 .3-1.8 .3-1.9 .3-.9 .4-.9 .3-.1 .3-1.4 .3 1.5 .3 .9 .3 1.1 .3 .5 .2 2 .3 0 .3 1.4 .3 .3 .3 1.7 .3 .1 .3 3.7 .3-2.2 .2-.9 .3 2 .3 2.6 .3 1.1 .3-.5 .3-4.9 .2 .3 .3-3.2 .3-1.1 .3 .4 .3 2.2 .3-2 .3 .9 .4-.6 .3 1.4 .3 0 .3 1.1 .3 0 .3 .8 .3 3.3 .3-4.3 .3-.7 .3 .2 .3 .1 .3-.1 .3-1.3 .3 .7 .3-1.1 .3 .4 .4-1.4 .3-.2 .3-.5 .3 1 .3 1.3 .3 1.6 .3 1.1 .3 1.9 .3 1.1 .3 1.5 .3 1.1 .3-1.7 .3 1.3 .3 .5 .3-.1 .3 .4 .3-.4 .3-.1 .3 .1 .3 .4 .3-.2 .3-.2 .3-.5 .3-.1 .3 .3 .3 .3 .3 .4 .3 .1 .3 .7 .3-.1 .4 .8 .3 .2 .3 0 .3 1 .3 .3 .3 .4 .3 .1 .3-.2 .3-.6 .3 .6 .3-.1 .3-.2 .3 0 .3 .9 .3-1.7 .3 .1 .3-.3 .3 .3 .3-.6 .3-.1 .3 .2 .3-.3 .3-1 .3 .4 .3-1.1 .3-.3 .3 .1 .3 .4 .3 .2 .3-1 .3 1.6 .3 .9 .3 1 .2 1.9 .3 1.1 .3 .8 .3 .8 .3-.1 .3 .6 .3 .5 .3-.3 .2 .2 .3-.5 .3 .6 .3-.2 .3 .7 .3 .8 .3 .6 .3 .6 .3-1.9 .3 1.9 .3 .6 .3 0 .4 1.1 .3 .7 .3 .9 .3 1.1 .3 1 .3 .2 .3 .2 .3 .2 .3-.5 .3-.9 .3-.2 .3 .3 .3-.2 .3-.1 .3 0 .3-.5 .3-.7 .3 .3 .3-1.2 .3-.1 .3-.8 .2-.6 .3 .1 .3-.2 .3 .4 .3-.1 .3-.2 .3 .6 .3 .4 .3 .4 .2 1 .3-.5 .3 2 .3 .5 .3 .3 .3 .5 .3-.4 .3 .4 .3-.5 .3 .8 .4-.6 .3 .5 .3 0 .3 .2 .3 .2 .3 .1 .3 .1 .3 0 .3 .1 .3 .1 .3 .1 .3 .3 .2-.1 .3-.2 .3 1.3 .3-.9 .3 .3 .3-.5 .3-1.2 .3 1.2 .3-.3 .3 .1 .3-.7 .3 1.1 .3-.6 .3 .4 .3 .3 .3 .1 .3-.4 .3 0 .3-.4 .3-.4 .3 .4 .3 .2 .3-.1 .3-.2 .3 .3 .3-.3 .3 0 .3 .7 .3-.1 .3-.4 .3-.4 .3-.3 .3-.2 .3-.8 .3 .5 .2-.4 .3 .4 .3-.6 .3-.3 .3-.4 .3-.2 .3-.5 .3 0 .3 0 .3-.4 .3 .2 .3-.3 .3-.8 .3-.6 .3 .2 .3-.8 .3 .5 .3-.7 .3-.6 .3 .2 .3-.8 .3-.1 .3 .7 .3-1.3 .3 .3 .3-.2 .3-.2 .3 0 .3-.4 .3-1.3 .3-1.1 .3-1.1 .3-1.7 .3-.8 .3-1.5 .3-1.1 .3 .1 .3-.1 .3-.8 .3-.5 .3 .3 .3 .4 .3-.7 .3 .6 .3-.7 .3-.9 .3 1.3 .3 0 .3 .1 .3-.5 .3 .3 .3 .5 .4 .6 .3 .3 .3 .4 .3 0 .3-.1 .3-.5 .3 .2 .3 0 .3 1 .3-2 .3 1.1 .3-.1 .3 .6 .4 .6 .3-.1 .3 .7 .3 .3 .3 .1 .3-.2 .3 .8 .3-2.3 .3 2.9 .3-1.2 .3 .4 .3 .3 .3 .3 .3 .2 .3 .2 .3 .3 .3 .7 .3 .4 .3 1.1 .3 1 .2 .9 .3 .2 .3 .5 .3 .5 .3-.7 .3 1.1 .3 .3 .3 .6 .3 .3 .3 .1 .3-.3 .3 .3 .3-.1 .3 .7 .3-.5 .3 .1 .3-.2 .3-.8 .3 1 .3-1.6 .3-.7 .3-1.1 .3-.8 .3-.1 .3-.2 .3-.7 .3-.5 .3 .2 .3-.6 .3-.4 .3-.9 .3 .1 .3-.1 .3 0 .3-.5 .3-1.5 .3-.8 .3-.1 .3-.2 .3-.2 .3-.3 .3-.2 .3 1.3 .3 .1 .4 .9 .3 .7 .3 1.3 .3 .6 .3 0 .3 .4 .3 .5 .3 .1 .3 .3 .4 .6 .3-.1 .3-.1 .3 .6 .3 .9 .3-.1 .3 .5 .3-.4 .3-.8 .3-.3 .3-.4 .3-.5 .3 0 .3 .2 .2 .1 .3-.4 .3 0 .3-.1 .3-.2 .3-.4 .3-.1 .3-.6 .3 0 .3-.1 .3-.1 .3-.4 .3 .3 .4-.9 .3 1.1 .3 0 .3 0 .3-.4 .3-.4 .3 .4 .3-.4 .3 1.8 .3-.3 .3 .2 .3 .5 .3 .2 .4 1.4 .3 0 .3 .5 .3 .8 .3 .6 .3-.1 .3 .9 .3-.9 .3 1 .3 .1 .3-.2 .3 .7 .3 .1 .3-.1 .3 .5 .2-.2 .3 .1 .3-.2 .3-.4 .3-.3 .3 1.3 .3-.3 .3-.1 .3 .9 .3-.2 .3-.7 .3 .3 .3-.3 .3-.3 .3-.3 .4-.4 .3-1.1 .3-.7 .3 .4 .3 .4 .3-1.3 .3 .9 .3-.1 .3-.4 .3 1.1 .2-2.6 .3 .3 .3-1.1 .3-1 .3 .5 .3 1.6 .3 1 .2 0 .3 1 .3 .3 .3 .8 .3 .1 .3 .7 .3 .6 .2 .9 .3 .7 .3 1.4 .3 .4 .3 .4 .3-.4 .3 .2 .3-.5 .3 .4 .3-.1 .3 0 .3 .7 .2 0 .3 0 .3 .4 .3-.2 .3 .1 .3-.3 .3 .3 .3-.1 .3 .1 .3-.5 .3 .3 .3 .2 .3 .3 .3 .1 .3-.3 .3 .4 .3-1.6 .2 .7 .3 .1 .3 .3 .3-.5 .3-.7 .3 2 .3-1.1 .3-.9 .3 0 .3 .2 .3 .2 .3 0 .3 .3 .3 .6 .3 .2 .3 .4 .3-.8 .3 1 .3 .1 .3-.4 .3-.3 .3 .7 .3 .3 .3 .6 .3 .1 .3 0 .3-3 .4-2.9 .3-4.1 .3 .6 .3 .1 .4 .2 .3-.8 .3-.7 .3-5 .4-4.5 .3-4.8 .3-4.4 .4-4 .3-4.4 .3 2.2 .3 3 .2 2.6 .3 2.2 .3 2.4 .3 .5 .3 .8 .3 .1 .2 .6 .3 .6 .3-.1 .3 .3 .3-.2 .3-.7 .3 .7 .3 .6 .3-.9 .3 .1 .3 .1 .3 .1 .3 .2 .3-.8 .3-.3 .3 .7 .3 .7 .3 .3 .3-.2 .3 .4 .4 .5 .3 .2 .3 .1 .3 .3 .3 1 .3 1.3 .3-.4 .3 .1 .3 .3 .3-.8 .3 .3 .3-.3 .3-.2 .3-.7 .3-.3 .3-.6 .3-.2 .3-.1 .3 1.8 .3-2.3 .3 .1 .3-.9 .3 0 .3 .7 .3-.1 .3 .3 .3 .8 .3-.5 .3-.2 .3-.8 .3-.1 .3-.1 .3-.3 .3-.3 .3 .3 .3 1 .3-.5 .3 .2 .3 .5 .3 1.2 .3 .4 .3-.1 .3 .2 .3 .4 .3 0 .3-.5 .3 0 .3-.4 .3 .1 .3-.6 .2-1.5 .3-.6 .3-.2 .3 .4 .3 1.3 .3 .8 .3 .4 .3 .8 .3 .7 .4-.2 .3-.8 .3 1.4 .3-1 .3 2.6 .3 1.1 .3 .2 .3 1.6 .2 .7 .3-.3 .3 1.5 .3 .4 .3-.4 .3 .8 .3 .9 .3 .6 .3 1 .3-.6 .4 0 .3 1.3 .3 .5 .3 1.1 .3-.1 .3 .7 .3 1 .3 .2 .3-.3 .3-.2 .3 .4 .3 .3 .3-.2 .4 .5 .3 .1 .3-.6 .3 .1 .3 .2 .3 .3 .3 .3 .3-.3 .3 .2 .3 .2 .3 .7 .3 .1 .3 0 .3-.5 .3-.1 .3 .6 .3 .1 .4 .6 .3-.4 .3 .1 .3 .2 .3 .7 .3-.2 .3-1.3 .3 1.2 .3-.1 .3-.5" fill="none" stroke="#000" stroke-width="1.15" stroke-linejoin="round" clip-path="url(#cL2)"/>
<path d="M29.6 239.1l .3-.2 .3 .2 .3 .1 .3-.2 .3-.5 .3-.3 .4-.3 .3 0 .3-.6 .3 0 .3 .2 .3-.8 .3 .4 .3 1.6 .3-1.7 .3 .8 .3-.3 .3 .1 .3-.3 .3 1.1 .3-1.3 .3 0 .3 .2 .3-.4 .3-.6 .3 0 .3 0 .3-.4 .3 .3 .3 .2 .3 .5 .3 .3 .3-.1 .3 .2 .3 .9 .3-1.1 .3-.6 .3 0 .3 0 .3 .1 .3-.4 .3 .2 .3-.1 .2-.3 .3-.4 .3-.6 .3 .2 .3-.5 .3 .4 .3-.4 .3-.2 .3 .1 .3 1.6 .3-1.2 .3-.3 .3 .1 .3 .2 .3 .3 .3-.2 .3-.2 .3-.2 .2 .4 .3 .2 .3-.4 .3-.4 .3-.2 .3 .2 .3 0 .3 .2 .3-3.9 .3-3.4 .2-3.3 .3-3.8 .3-.1 .3-.4 .3-1.2 .3 .4 .3 .5 .3 1.1 .3-1.6 .2-.1 .3-.3 .3 .5 .3-.2 .3-1.1 .3 .9 .3-.4 .3-.2 .3-.2 .3 .3 .3 .1 .3-.1 .3 0 .3 .2 .3 .3 .3-.2 .3-.2 .2 .6 .3-.6 .3 .5 .3-.5 .3 .7 .3-.1 .3 .3 .3-.4 .3 0 .3-.6 .3 0 .3-.8 .3 .6 .3-.2 .3-.3 .3-.3 .3 .3 .3 0 .3 .7 .3-.4 .3-.5 .3 .1 .3 .4 .3 .3 .3 .1 .3-.5 .3-.1 .3 .4 .3-.4 .3 .3 .3 .1 .3 .4 .3 .3 .3-.3 .3 1.2 .2-1.4 .3 .3 .3 .6 .3 .1 .3-.2 .3 .2 .3 .8 .3 .2 .3 .8 .2 1 .3 1 .3 .7 .3 .5 .3-1 .3-.8 .3-1.3 .2-.6 .3-.7 .3-1.2 .3-.6 .3-.6 .3 .9 .3-.1 .3-.9 .3 .1 .3 .2 .3-.4 .4 1.3 .3-2 .3 .7 .3 .1 .3 .1 .3-.1 .3-.1 .3 0 .3-.8 .3 0 .3-.9 .3 .1 .3 .6 .3-.2 .3 .7 .3 .4 .3 .3 .3-.1 .3-.8 .3 .6 .3 .3 .3-.3 .3-.4 .3-.1 .3 .1 .3-.2 .3 .1 .3 1.1 .3-.2 .3-.1 .3 1.2 .3-1.6 .3-.3 .3-.4 .3 0 .3-.5 .3 .8 .3-.1 .3 .5 .2 .8 .3-.8 .3-.2 .3 .1 .3-.2 .3 0 .3 .2 .3-.2 .3 0 .3 0 .3 0 .3-.5 .3 .5 .3-.1 .3-.1 .3-.2 .3 .1 .3-.2 .3 .5 .2 .1 .3 .2 .3-.2 .3-.4 .3-.2 .3 .9 .3 0 .3-.2 .3-.3 .3-.3 .3 .5 .3 .7 .3-1 .3 .4 .3-.4 .3 .3 .3-.2 .3-.1 .3 .2 .3 .1 .3-.6 .3 0 .3-.1 .3 .8 .3 .2 .3-.8 .3 .3 .3-.7 .3 .4 .3 .6 .3-.2 .3 .2 .3 .3 .3-.4 .3 .1 .2 .6 .3-.8 .3 .1 .3 1.2 .3-.4 .3 .4 .3 .1 .3 0 .3-.1 .3-.6 .3-.7 .3-.5 .3-.6 .3 .6 .3-.1 .3 0 .3-.5 .3-.4 .3 .2 .3-.2 .3-.1 .3 .1 .3 .1 .3 .1 .3-.5 .3 .3 .3 0 .3-.3 .3-.1 .3 0 .3-.2 .3 .9 .3-.8 .3 .3 .3-.3 .3-.1 .3 .2 .3-.3 .3 .2 .3 .1 .3-.2 .3 .2 .2-.2 .3 0 .3 .7 .3-1 .3 .3 .3-.1 .3 .1 .3-.2 .3-.2 .3 0 .3-.2 .3 .2 .3 .3 .3 .2 .3-.2 .3 .2 .3-.1 .3-.1 .3 .1 .3-.1 .3-.3 .3 .1 .3-.3 .3 0 .3 .2 .3 .4 .4-.1 .3 0 .3-.1 .3-.2 .3 .3 .3-.2 .3 0 .3 .2 .3-.2 .3-.1 .3 .1 .3 .2 .3-.2 .3-.1 .3 .1 .3 1.4 .3-1.1 .3 .3 .3 0 .3-.4 .3 0 .3-.2 .3 .1 .3 .2 .2 .2 .3-.2 .3-.1 .3 .3 .3 0 .3 .3 .3-.1 .3 .4 .3-.3 .3-.2 .3 .3 .3 .1 .3 .3 .3-.9 .3 .8 .3 .4 .3 .1 .3 0 .3-.2 .3 .7 .2-.2 .3 0 .3 .1 .3 0 .3-.1 .3 .4 .3 .1 .3 .1 .3-.4 .3 .6 .3 .3 .3-.6 .3-.2 .3 .1 .3-.1 .3 .1 .3 0 .3 .1 .3 0 .3 .2 .3 .3 .3-.6 .3 0 .3 .1 .3 1.2 .3-1 .3 .6 .3 .4 .3 0 .3-.2 .3 .2 .3-.2 .3-.5 .3-.1 .3 .2 .3 .3 .3 0 .3-.3 .3 .2 .2-.7 .3-.5 .3-.2 .3 .2 .3 1.1 .3-.8 .3 .3 .3-.6 .3-.2 .3-.1 .3-.5 .3-.1 .3 .2 .3 0 .3 .3 .3-.2 .3 .5 .3-.1 .3 .6 .3 .2 .3 0 .2-.1 .3 .2 .3-.4 .3 .5 .3-.4 .3-.3 .3 .3 .3-.4 .3-1 .3 .6 .3 .2 .3-.4 .3-.2 .3-1.4 .3 1 .3 .5 .3 0 .3-.1 .3 1 .3-.1 .3 .2 .3 .4 .3-.6 .3-.8 .3-1.1 .3 1.4 .3 .8 .3 .4 .3-.4 .3-.2 .3-.2 .3 .8 .3-.6 .3 .5 .3-.5 .2 .6 .3 0 .3 .1 .3 .9 .3-.3 .3 .4 .3 .7 .3 .3 .3-.3 .3 .3 .3-.1 .3 .6 .3-.3 .3 0 .3 .2 .3 .2 .3 0 .3 .1 .3 .2 .3-1.5 .3 1 .3 .7 .3 0 .3-.4 .3-.1 .3 .1 .3-.1 .3-.3 .3 .7 .3 .2 .3-.3 .3 .4 .3 .1 .3-1.2 .3 .2 .3 .1 .3 0 .3 .4 .3-.2 .3-.5 .3 0 .3-.5 .3 .3 .3 .1 .3-.1 .3 .1 .3-.4 .3 0 .3 .1 .3 .4 .3 .1 .3 .3 .3-.4 .3 .5 .3-.3 .3 .1 .3-1 .3 .2 .3 .8 .3 .5 .3 .1 .3 0 .3-.1 .3-.2 .3 0 .3 .1 .3-.1 .3-.1 .3 .4 .3-.5 .3 .6 .3-.2 .3 .4 .3-.1 .3 .1 .3 .2 .3 .2 .3 0 .3-.4 .3 .1 .3-.5 .3 .2 .3-1.5 .3 1.3 .3 .3 .3-.2 .3 .2 .2-.2 .3-.2 .3 .2 .3 .4 .3 .1 .3-.2 .3 0 .3-.2 .3 .6 .3 .2 .3 .1 .3 .2 .3 .2 .3-.1 .3 .2 .3-.1 .3-.1 .3 .3 .3-.2 .3-.1 .3-.2 .3 .1 .3 .1 .3-.3 .3 0 .3 .5 .3-.2 .3 .7 .3-.4 .3 .2 .3 .3 .3 .1 .3-.1 .3 .1 .3-.1 .3-.3 .3 .2 .3-.7 .3 0 .3-.7 .3 0 .3-.3 .3 .5 .3 .1 .3-.4 .3-.2 .3-.3 .3 0 .3-.5 .3-.1 .3 .3 .3 .5 .3 .2 .3-.9 .3-.1 .3 .4 .3 .5 .3 0 .3 .7 .3 .5 .3-.7 .3 0 .3 .3 .3 .5 .3 0 .3-.4 .3 0 .3 .2 .3 .2 .3 .6 .3 .1 .3-.4 .3 .2 .3 .6 .3-.3 .3-.6 .3 .1 .3 .6 .3 .4 .3-.1 .3 0 .3 .6 .3 1 .3 .2 .3 0 .3-.4 .3 .1 .3-.3 .3-.1 .3 .4 .3-.4 .3-.4 .3 .4 .3 .1 .3 .6 .3-.3 .3-.2 .3 .5 .3-.3 .3 .3 .3 .1 .3 .2 .3 .5 .3-.3 .3 0 .3 .2 .3 .1 .3-.6 .3 .9 .3 .5 .3-.2 .3 .1 .3-.3 .3-.1 .3 .5 .3-.4 .3-.5 .3-.4 .3-.1 .3 .8 .3 0 .3 .1 .3 .2 .3-1.8 .3 1.2 .3 0 .3 .7 .3-.3 .3 .3 .3 .3 .3-.3 .3 .4 .3 .2 .3-.2 .2 .2 .3 .3 .3 .3 .3 .1 .3-.6 .3-.2 .3 .1 .3 .2 .3-.1 .3-.1 .3 .6 .3 .2 .3 .4 .3-.1 .3-.2 .3-.1 .3-.2 .3 1.6 .3-1.2 .3-.4 .3 .2 .3-.1 .3-.2 .3-.2 .3 .3 .3-.2 .3-.3 .2-.8 .3 0 .3-.4 .3-.4 .3 .1 .3-.1 .3 .1 .3 1.1 .3-.5 .3 .2 .3-.2 .3 0 .3-.3 .3-.3 .3 .2 .3-.2 .3 .3 .3-1.1 .3 .8 .3 .4 .3-.6 .3 .6 .3 .2 .3 .3 .3 .3 .3 .6 .3 0 .2-.2 .3-.7 .3-.3 .3 .4 .3 0 .3-.1 .3 .7 .3 .5 .3 .1 .3-.4 .3-.3 .3 .1 .3-.3 .3-.3 .3 .8 .3-.1 .3 .1 .3-.7 .3 0 .3 0 .3 0 .3-.1 .3 .1 .3-.1 .3 0 .3 .5 .3-.2 .3 .3 .3 .4 .3 0 .3 .4 .3-.5 .3-.1 .3-.2 .3-.5 .3-.2 .3-.1 .3 .2 .3 0 .3 .1 .3-.1 .3 0 .3 .2 .3-.1 .3 .4 .3 .3 .3-.2 .3 .6 .3 0 .3 .5 .3-.2 .3-.4 .3 0 .3-.1 .2 .2 .3 0 .3 0 .3 .5 .3 .2 .3-.1 .3-.1 .3 0 .3 .1 .3 .2 .3 0 .3-.5 .3 0 .3-.2 .3-.1 .3 .4 .3 .1 .3 .5 .3-.8 .3 .1 .3-.3 .3 .7 .3 .5 .3-.2 .3 .1 .3 .1 .3-.3 .2 0 .3 .2 .3-.5 .3-.4 .3 .1 .3-.4 .3 .7 .3 .1 .3-.3 .3 .3 .3 0 .3 .3 .3-.7 .3 .3 .3 .4 .3-.1 .3 .2 .3-.3 .3 .5 .3 0 .3 .5 .3-.1 .3-.3 .3-.2 .3 .1 .3 .2 .3 .1 .2 .2 .3-.3 .3-.2 .3 .3 .3-.5 .3 .4 .3 .3 .3 .4 .3-.2 .3 .2 .3-.6 .3 0 .3 .6 .3 .2 .3-.7 .3-.1 .3 .1 .3 0 .3 .8 .3-.2 .3 .4 .3-.3 .3 .3 .3 .1 .3-.2 .3 .2 .3-.1 .2 .1 .3-.3 .3 .2 .3 0 .3-1.8 .3 1.3 .3-.3 .3 .2 .3 .5 .3-.6 .3 .3 .3-.1 .3-.3 .3-.1 .3 1.2 .3-1.8 .3 .6 .3-.3 .3 .3 .3 .5 .3-.6 .3 .1 .3-.1 .3-.2 .3-.6 .3 .6 .3 .1 .3 .4 .3-.1 .3-.4 .3 .4 .3 .5 .3-.5 .3 .2 .3 .1 .3 .1 .3-.1 .3 .5 .3 0 .3-1.4 .3 1.6 .3 .2 .3-.1 .3 .2 .3 0 .3-.7 .3-.1 .3-.7 .3 .2 .3 .2 .3 .8 .3-.3 .3 .5 .3 .1 .3-.9 .3 .1 .3 .3 .2 .1 .3 .4 .3-.4 .3-.9 .3 0 .3 .2 .3 .5 .3 .2 .3 1.3 .3-1.2 .3 .4 .3-.2 .3 .2 .3-.1 .3 .4 .3-.1 .3-.2 .3-.4" fill="none" stroke="#ff0000" stroke-width="1.15" stroke-linejoin="round" clip-path="url(#cL3)"/>
<path d="M29.6 217.3l .3 .7 .3 .1 .3 .6 .3-.6 .3 .6 .3 .1 .4 .2 .3 .1 .3 .3 .3-.1 .3 .1 .3-.4 .3 .4 .3-.4 .3-.1 .3-.2 .3-.1 .3 .3 .3 .4 .3 .6 .4 .5 .3-.2 .3 0 .3-.2 .3 .1 .3 .1 .3 .2 .3 0 .3 0 .3-.1 .3 .3 .3 .4 .3 .4 .3 .2 .3 .1 .3 .3 .3 .7 .3 .4 .3 0 .3 .1 .3-.3 .3 .4 .3 0 .3 1.3 .3-1.2 .3-.1 .4 .2 .3 .1 .3-.4 .3-.1 .3-.2 .3-.3 .3-.8 .3 .7 .3-.3 .3-.3 .3 .6 .3-.3 .3 .2 .4-.3 .3-.5 .3-.4 .3 .1 .3-.9 .3 0 .3-.6 .3-.7 .3-1.3 .3 0 .3-4.6 .4-4 .3-3.7 .3-.3 .3 .4 .3-.4 .2-1.2 .3 .8 .3-.4 .3-.4 .3-.2 .3 .5 .3-.4 .3-1 .3 .5 .3 1.8 .4-2.9 .3 .2 .3 .4 .3 .1 .3-1 .3-.2 .3 .4 .3 0 .3-.7 .3 .6 .3-.3 .3 .1 .3 .1 .3-.2 .3-1.1 .3 1.3 .3-.5 .3 .2 .3-.8 .3-.4 .3-.3 .3 .1 .3 .4 .3 .7 .3-.6 .3 .2 .4-.7 .3-2.6 .3 .7 .3 .5 .3 .6 .3 .1 .3-1.1 .3 .5 .3-1.2 .3-.1 .3-.8 .2 1 .3 0 .3 .2 .3 .1 .3-.3 .3-.5 .3 .1 .3 .4 .3 .7 .3-.6 .3 2.2 .3-2 .3 .1 .3-.9 .3-.4 .3 0 .3-.1 .3-.7 .3 .2 .3 .1 .3-.7 .3 .3 .4 .6 .3-.4 .3 1.2 .3-1.4 .3-.3 .3-.2 .3 .4 .3 .9 .3 .6 .3 0 .3 1.1 .3 .6 .2 1.3 .3 .7 .3 2.2 .3-.5 .3-.7 .3-.7 .3 .7 .3-1.2 .3-.4 .3-1.4 .3-.2 .4 1.4 .3 .8 .3-1.6 .3 .4 .3 .5 .3-1.7 .3 1.6 .3 .9 .3-.6 .3 .5 .3-.3 .3 .4 .3-.6 .3-.3 .3 .4 .4-.8 .3 2.1 .3 1.1 .3-.9 .3-1.6 .3 2.6 .3-2.1 .3 1.4 .3-.3 .3-.3 .3-1.7 .3 .4 .3 .6 .3-1.4 .4-.1 .3 .4 .3 1.4 .3-.2 .3-.4 .3-.8 .3 .2 .3-.9 .3 .4 .3-.1 .3 .5 .3 .3 .3 .1 .3 0 .4 .7 .3-.9 .3 .6 .3 0 .3-.5 .3 .5 .3-.1 .3-.4 .3 .9 .3-.9 .3 .4 .3-.8 .3 .4 .3-.7 .3 1.4 .4 0 .3 .7 .3-.9 .3 .4 .3-.9 .3 .3 .3-.5 .3 .3 .3-.1 .3 1 .3-.2 .2 0 .3-.2 .3 .5 .3 .2 .3 1.4 .3-2.5 .3-.5 .4-3.1 .3 .4 .3 7.5 .4 7.3 .3 7.6 .3 0 .3 1 .3 .1 .2-.5 .3 .8 .3 .2 .3 .9 .3-.8 .3 .1 .3 .2 .3 0 .3-.4 .3 0 .4-1.1 .3-.4 .3-.5 .3 .1 .3 .1 .3-.9 .3-.3 .3 .5 .3-.5 .3-.1 .3 .2 .3-.2 .3 .2 .3-.3 .3 .4 .3-.3 .2 0 .3 .5 .3-.5 .3 .6 .3 .1 .3 .4 .3 .6 .3-1 .3 1.6 .3-1.5 .3 .1 .3 .4 .3 .5 .3-.4 .3 0 .3 0 .3 1.3 .3-1 .3 .1 .3 .6 .3-.1 .2-.3 .3 .4 .3-.1 .3 .3 .3-.5 .3-.5 .3-.3 .3-.3 .3 .6 .3 .2 .3-.3 .3 .6 .3 .1 .3-.4 .3-.2 .3 .5 .3 .8 .3-.3 .3-.5 .3 .5 .3 .2 .3-.2 .3 1.2 .3 .2 .3-.2 .3 .4 .3 .1 .3 0 .3-.2 .3-.8 .3-.2 .3 .9 .3-.3 .3-.4 .3 .1 .3 0 .3 1 .3-.2 .3 0 .3-.2 .3 .9 .3-.1 .3-.4 .3-.3 .3-.5 .3-.6 .3-.3 .3-.5 .3 1 .3-.4 .3-.3 .3-.4 .3-.3 .3-.6 .3 0 .3-1.5 .3 .3 .3 .8 .3 0 .3 .4 .3 .2 .4-.2 .3-.6 .3-.1 .3-.5 .3 .2 .3 .5 .3-.8 .3-.1 .3-.1 .3-.5 .3 .4 .3-.2 .3 .2 .3-.5 .4 .5 .3 0 .3 .1 .3 1.4 .3-2 .3-.3 .3-.6 .3 0 .3-.7 .3-.8 .3-.5 .3-.3 .3-.9 .3-.9 .3 .1 .3-.9 .3-.6 .3-.2 .3-.2 .3 .2 .3-.1 .2-1.3 .3-.1 .3-.3 .3 .3 .3-.6 .3-2.6 .3 1.4 .3-1 .3-.9 .2-1.2 .3 .6 .3-1.4 .3-2.4 .3 2.7 .3-.4 .3-.7 .3-.2 .3 .2 .3 .4 .3 .8 .3-.2 .3-.1 .3 1.1 .3 .2 .3 .4 .3 .4 .3 .3 .2-.3 .3 .6 .3-.4 .3 .5 .3 .4 .3 1.1 .3-.9 .3 .7 .3-.4 .3-.9 .3-.5 .3 .5 .4-.3 .3-.2 .3 .5 .3-1.4 .3 1.7 .3 .4 .3-.5 .3 .3 .3-.3 .3-.2 .3 .2 .3 .6 .3-.1 .3 .7 .3 .8 .3-.8 .3-1.2 .3 .8 .3 .6 .3 1.1 .3-.3 .3 .4 .4 .8 .3 1.2 .3-1.1 .3-.2 .3-.1 .3-.8 .3-1.9 .3 1 .3 .4 .3 .1 .3-1 .3 2 .3-1.7 .3 .2 .3-.8 .3 .7 .3-1.3 .3 .2 .3-1.2 .3-.1 .3-.4 .3-.5 .3-.6 .3 1.3 .3 0 .3 .7 .3-.4 .3 .6 .3-.1 .3-.3 .3 .6 .3 .4 .3-.3 .3 .2 .3-.1 .3-1.6 .3 2.8 .3 .7 .3-1.1 .3 .3 .3 .5 .3 .9 .3-.3 .3 .1 .3 .5 .3 .4 .3-.2 .3 1.1 .3-.3 .3 1.8 .3 0 .3 .4 .3 .9 .3 .9 .3-.1 .3 .9 .3-.3 .4 .5 .3 .4 .3 1.1 .3-.6 .3 .5 .3 0 .3 1 .4 2.3 .3 2.1 .3 .3 .3-.3 .3 .2 .3-.1 .3-.6 .3 .2 .3 1 .3 .6 .2-1 .3 .6 .3 .3 .3 .2 .3-.6 .3-.3 .3-.7 .3 0 .3-.5 .3 .7 .3 .6 .3 .8 .3-.4 .3-.2 .3 0 .3 .5 .3-.4 .3 .8 .3-.4 .3 .1 .3-.2 .3 .2 .3-.2 .3 .4 .3 .2 .3-.2 .3-.7 .3 .3 .3 .7 .3-.3 .3 .6 .3-.6 .3-.3 .3-.1 .3 0 .4-.4 .3-.7 .3 .3 .3 .3 .3-.2 .3-.3 .3-.4 .3-.6 .3-.2 .3 .5 .3 .5 .3-.8 .3 .3 .3-1.5 .3 .7 .3 .7 .3 .1 .3 .3 .3-.2 .3-1.2 .3-.5 .3-.7 .3 .3 .3 0 .3-2.3 .3 2.4 .3-.2 .3 .1 .3 .3 .3 .8 .3 1.3 .3-2.1 .3 0 .3-.1 .3 2.2 .3-1 .3 .5 .3-.4 .3 .2 .3-.5 .3 2.1 .3-1.4 .3 .1 .4 1.1 .3 .3 .3-.3 .3 .6 .3 .4 .3 .7 .3 .4 .3-.1 .3-.9 .3-.1 .3 .2 .3 .2 .3-.1 .3-.1 .3-.5 .2-.1 .3 1 .3 .3 .3-.8 .3 .2 .3-.2 .3 .6 .3-.3 .3 .7 .3 .5 .3-.4 .3 .4 .3-.3 .3-.1 .3 .4 .3-.1 .3-.1 .3 .7 .4-.3 .3 .1 .3 0 .3-.3 .3-.1 .3-.1 .3 .3 .3 .3 .3 .6 .3-.2 .3 .2 .3 .1 .3-.2 .3 .1 .3 .4 .3 .3 .3 0 .3-.1 .3-1.1 .3 .2 .3-.4 .3-.1 .3 0 .3 0 .3 .1 .3-.3 .3 1.4 .3-.7 .3 .5 .3 0 .3-.1 .3 .5 .3 .4 .3-.7 .3 .6 .3 1.1 .3 .7 .3 .2 .3-.3 .3-.7 .3-.4 .3 .1 .3 .3 .2-.6 .3-.4 .3-1.1 .3-.2 .3-.2 .3 .2 .3 .7 .3 0 .3-.9 .3-.3 .3-.3 .3-.1 .3 .4 .2 .3 .3-.9 .3 0 .3 1 .3-1.2 .3 0 .3 .1 .3-.7 .3 .3 .3 .2 .3-1.6 .3-.6 .2-.2 .3-.7 .3-1.3 .3-.4 .3-1 .3-.9 .2-1.1 .3-1.3 .3-1.4 .3 1.9 .3 2.9 .4 1.3 .3 1.2 .3 1.8 .3-.3 .3 1.8 .3-1.3 .3-.2 .3 .6 .3-.6 .3 .9 .3-.4 .2 .5 .3 .3 .3-.5 .3 .3 .3 .1 .3-.1 .3 .2 .3 .7 .3-1 .3 .4 .3 0 .3 .1 .3 0 .3-.1 .3-.2 .4-.3 .3 .2 .3-.5 .3 .7 .3-.5 .3-.1 .3 .3 .3-8.6 .3-8.3 .3 4 .3 4.2 .2 3.8 .3 4.2 .3-.8 .3-1 .3-.1 .3-.4 .3-.1 .3-.8 .3-.9 .3-.7 .3 .7 .3 .1 .4 .8 .3 .2 .3 1 .3-3.4 .3-3.3 .2-2.9 .3-3.2 .3-3 .3 1.6 .3 1.4 .3 1.4 .2 1.8 .3 1.8 .3 2.1 .3 .6 .3 1.7 .3 1.5 .3 .6 .2 2.1 .3 1.6 .3 1.7 .3 1.7 .3-.4 .3 .5 .3-.3 .3-.7 .3 .3 .3 0 .3 .1 .3 .4 .2 .5 .3-.2 .3 .1 .3 0 .3 .1 .3 .3 .3-1 .3 1.3 .3-.3 .3-.3 .3-.3 .3 .4 .3 .6 .3-.7 .3 .3 .3 .1 .3-.1 .3 0 .2-.2 .3-.2 .3 .1 .3 .3 .3 0 .3 .3 .3-.6 .3 .1 .3 .3 .3 .5 .3-2.4 .2-1.7 .3-3.1 .3 .1 .3 .7 .3 .7 .3 .3 .3-.2 .3 .1 .3-.5 .3-.2 .3-.4 .3-2 .3 1.1 .3 .2 .3 .1 .3 1.1 .3-.3 .3 .3 .3 0 .3 .6 .3-.4 .3 1.2 .3-1.5 .3 .1 .3 .2 .3-1.5 .3 2.1 .3 .2 .3-.9 .3-.3 .3 .6 .3 .3 .3-.3 .3-.9 .3-.4 .3 2.4 .3 .5 .2 .4 .3 .1 .3 .8 .3-.5 .3-.5 .3-1.2 .3-.5 .2-.7 .3-1 .3-.2 .3-1.1 .3-.1 .3 0 .3 0 .3-.3 .3-.6 .3-.2 .3-.3 .2-.4 .3-.7 .3-1 .3-1.3 .3-.4 .3-.6 .3 .8 .3-.2 .3-.2 .3-1.8 .3 2.3 .3-.5 .3 .1 .4-.6 .3-.8 .3 .9 .3-.1 .3-1.1 .3 .2 .3-.3 .3 4.1 .3 .8 .4 2.8 .3 2.4 .3 2.2 .3-.9 .3-.8 .3-.9 .3 .5 .3-1.2 .3 .3 .3-.6 .3-.9 .3-.7 .3-.1 .3 .1 .3 .3 .3 .1 .3-.3 .3-.2 .3 .5 .3 0 .3 .6 .3 .2 .3 .2 .3 .2 .3-.1 .4 .2 .3-.1 .3-1.2 .3-.4 .3 .2 .3-.5" fill="none" stroke="#000" stroke-width="1.15" stroke-linejoin="round" clip-path="url(#cL3)"/>
<path d="M29.6 299.9l .3-.3 .3 0 .3-.7 .3-.3 .3-.9 .3-1.1 .3 0 .3 0 .3-.4 .3-.6 .3-.4 .3 .3 .3 .2 .3 .4 .3 .3 .3 0 .3-.2 .3 0 .3-.1 .3 .6 .3-.7 .3 0 .3-.2 .3 0 .3-.3 .3 .6 .3-.6 .4-.6 .3 1.1 .3-.6 .3 0 .3 .2 .3 1.2 .3-1 .3 .4 .3 .6 .3-.8 .3 .2 .3-.4 .3-.2 .3-.7 .3 0 .3-.7 .3 0 .3-.6 .3 .6 .3-.2 .3 .2 .3-.2 .3 .3 .3 .2 .3-.2 .3 0 .4 .2 .3-.6 .3 .2 .3-.1 .3-.8 .3-.2 .3 0 .3 .1 .3 .3 .3 .8 .3-.5 .4-.1 .3-.2 .3 1 .3 0 .3-9.9 .4-9.1 .3-9.5 .3-3.1 .3 2.5 .3-1.4 .3 .9 .3-1.1 .3 1.4 .3-.4 .3-2.7 .3 2.3 .3 2.7 .3-2.2 .3 1.8 .3-.7 .3 .6 .4-1.6 .3 2.2 .3-2.2 .3 1.8 .3-2 .3-.2 .3 .2 .3 .9 .3-.9 .3 2.2 .3-2.8 .3 3.1 .3-2.3 .3 1.5 .3-2.8 .3 3 .3-2.1 .3 1.2 .3-2 .3 2.8 .3-1.7 .3 .9 .3-.8 .3 1.4 .3-1.6 .3 .6 .3-.7 .3 .2 .3-.9 .3 1.2 .3-.4 .3 .7 .3-.8 .3 .7 .3-.9 .3 2.7 .3-1.9 .3 2.9 .3-1 .3 1 .3-1.5 .3 1.3 .3-2.5 .3 .9 .2-1.7 .3 1.3 .3-2.4 .3 .4 .3 .6 .3 2.5 .4 .1 .3 2 .3-4.1 .3 10.9 .4-.2 .3 2.6 .3-2.2 .3-1 .2-4.1 .3-1.2 .3-2.9 .3-.7 .3 2.6 .4-2.9 .3-1.5 .3-.1 .3-3.9 .3 2.7 .3-1.7 .4-1.3 .3-1.6 .3 1.3 .3-.4 .3 1.5 .3 .4 .2 3.8 .3-1.6 .3 2.9 .3-.9 .3 .3 .3-2.1 .3-2.8 .3 1.6 .3 1.6 .3-2 .4 3 .3-.9 .3 1.1 .3-1.1 .3 0 .3-.5 .3 1.2 .3-2.9 .3 1.9 .3-1.9 .3 .8 .3 0 .3 1.3 .3-1.1 .3 1.3 .3-2.6 .3 1 .3-.2 .3 1.3 .3-2 .3 2.2 .3-1.8 .3 2.2 .3-1.7 .3 .2 .3-1 .4 2 .3 .1 .3 .5 .3-.6 .3 .3 .3-.5 .3 1.8 .3-1.8 .3 .9 .3-1.1 .3 2.7 .3-3.8 .3 1.5 .3-1.9 .3 1.6 .3 .2 .3-1.3 .3 .2 .3 2.3 .3-1.6 .3 0 .3-.2 .3-.1 .3-2.4 .3 1.1 .3-1.8 .4 2.3 .3-.9 .3 .2 .3-1 .3 1.7 .3-1.2 .3 2.4 .3-.6 .3 1.5 .3-1.2 .3 0 .3-1.1 .3 1.8 .3-1.2 .3 .7 .3-1 .3 2.8 .3-3 .3 1 .4-1.4 .3 .8 .3-2.9 .3 .4 .3 .3 .3 1.5 .3-1.3 .2 1.6 .3-.4 .3 1.5 .3 .5 .3 .4 .3-1 .3 1.4 .2-.4 .3 .4 .3 .4 .3 .8 .3-1.5 .3 1 .3-.5 .3 .1 .3-.9 .3-.1 .3-1 .3-.1 .3-3.5 .3-.2 .3-.3 .3-.8 .3 .3 .3 .9 .3-.9 .3 1.5 .3-2.1 .3 1.7 .3-.6 .3 0 .3-.8 .3-.1 .3-.1 .3 0 .3 .1 .3-.2 .3-.1 .3-.4 .3 .2 .3 .5 .3-.6 .3 .1 .3-1.2 .3 1.1 .3 1.1 .3-1 .3-.1 .3 .6 .3-.3 .3 .4 .3-.7 .3 0 .3-.2 .3 .9 .3-1.2 .3 .3 .3-.3 .3-.1 .3 .2 .3 .4 .3-.5 .3-.7 .3 .2 .3-.2 .3 .2 .3 .8 .3-.2 .3-.6 .3 .2 .3 .4 .3-.1 .3 .4 .4 .1 .3 .3 .3 .5 .3 1.5 .3-2.1 .3-.3 .3-.2 .3 .3 .3 1.1 .3 .6 .3-.2 .3 0 .3-.9 .3 .3 .3 .3 .3-.1 .3 .5 .3-.6 .3 .5 .3-1.3 .3 1.3 .3 .4 .3-.9 .3 .2 .3 2.8 .3-1.4 .4 .6 .3 1.4 .3 .2 .3-.3 .3-.4 .3-.1 .3-.1 .3 1.7 .3-2 .3 .4 .3 1.1 .3 .2 .3-.2 .3 .9 .3-.4 .3 .3 .3-.3 .2-.3 .3-.2 .3 .1 .3-.4 .3 .8 .3 .4 .3 0 .3 .3 .3-.1 .3 .1 .3 0 .3 .1 .3 .8 .3 .1 .3 .9 .3 .6 .3-.1 .3-.2 .3 .6 .3 .1 .3-.1 .3 0 .3-.7 .3 .1 .2-1.3 .3 .2 .3 0 .3 .3 .3 0 .3 .6 .3-.8 .3-.6 .3 .8 .3-.4 .3 0 .3-.5 .3 .4 .3-.1 .3-.6 .3-1.1 .3 .9 .3-1.8 .3-.8 .2-1.3 .3-.1 .3-2.1 .3-.7 .3-.7 .3-1.4 .3 3 .3 2.8 .3-2 .3 2.4 .3-3 .3 2.7 .3-2.1 .3 2 .3-.8 .3 1 .4-2.3 .3 1.1 .3-3.4 .3-1.6 .3 1.7 .3 3.4 .3-.5 .2 2.6 .3-.4 .3 1.7 .3-.5 .3 .3 .3-3.2 .3-.5 .2-2.2 .3 1 .3-2.2 .3 .2 .3 1.7 .3 1.6 .3 .9 .2 1.1 .3 1.8 .3 1.1 .3 1.9 .3 0 .3-.8 .3 1.3 .4-1.8 .3-.1 .3-.9 .3 .6 .3-.5 .4 0 .3 .4 .3 .7 .3-.4 .3 .7 .3-1.6 .3 2.6 .3-.8 .3 .6 .4-.6 .3 .4 .3-.1 .3 1 .3 .4 .3 1.4 .3-.7 .3 1.9 .3-.9 .3-.2 .3-.5 .3 .5 .3 .5 .3 .6 .3-.9 .2 2.4 .3-1.5 .3 .9 .3-1.6 .3 .7 .3 .1 .3 1.1 .3-1 .3 0 .3 1 .4 2 .3 1.3 .3-3.1 .4-2.2 .3-2.7 .3 .8 .3 .3 .3 .5 .3-.2 .3-.9 .3 .1 .3 .1 .3-.2 .2 .6 .3 .5 .3 1 .3 .2 .3-.5 .3-.3 .3-.3 .3 .5 .3 .4 .3-.1 .3 1.4 .3-1.6 .3-.5 .3 2.1 .3-1.5 .3 .4 .3-.1 .3 .1 .3 .2 .4 .3 .3-.2 .3 .1 .3-2.5 .3 2.8 .3 .6 .3-.3 .3-.5 .3 .3 .3-.5 .3 .8 .3-.4 .3 .4 .3-.4 .3 .3 .3-.2 .3 .8 .3-.1 .3 .7 .3-.1 .3 .8 .3 .4 .3 0 .3 .1 .3-.4 .3-.1 .3-.4 .3-1 .3 .3 .3 .2 .3 .8 .3-.3 .3-.4 .3 .2 .3 .4 .3-.8 .3 1.3 .3-.5 .3 .8 .3-.9 .3-.9 .4 .1 .3-1.1 .3-.2 .3-.3 .3 .3 .3 2 .3-2.5 .3 2.7 .3-2.2 .3-.5 .3-.3 .3 .1 .3 0 .3 .5 .3 0 .3 .3 .3 0 .3-.8 .3-.5 .3 1.2 .2-.6 .3 .8 .3-1 .3-.3 .3 1.3 .3-.8 .3-.7 .3-.6 .3-.7 .3 1 .3 .3 .3 1.5 .3-.8 .3 1 .3 .8 .3 1.2 .3-.4 .3 .9 .3 0 .3 .4 .3-1.1 .3 .6 .3-.2 .3 1.5 .3 .2 .3-.4 .3-.6 .2 1.5 .3-.5 .3 .7 .3 .1 .3-.3 .3 .2 .3-.1 .3 0 .3 1.2 .3-.7 .3 .8 .3 .5 .3-1 .3-.6 .3 .8 .3 2.2 .3-1.6 .2 .5 .3-.4 .3-1.7 .3 2 .3-.6 .3 .7 .3 .1 .3 .3 .3-.9 .3 1.4 .3-3.3 .3 2.4 .3 .4 .3 0 .3 0 .3 .5 .3-.8 .3 1.2 .3-.9 .3 .1 .3-.2 .3-.2 .3-.3 .3 .3 .3 .1 .3-.2 .3 .2 .3 .6 .3-.1 .3 .2 .3-.4 .3 .5 .3-.3 .3 .7 .3-.3 .3 .6 .3 1.4 .3-.6 .3 0 .3 1.6 .3-1 .3-.5 .3-.1 .3 1.2 .3 .8 .3 .1 .3-.8 .3 .6 .3-.6 .3 .7 .3-.7 .3 .1 .3-.4 .3 .7 .3-.8 .3-.1 .3 .3 .3-.1 .3 .4 .3 .4 .3-.5 .3 1 .3-.9 .3-.6 .3-.2 .3 1.7 .3-.8 .3-.5 .3-1 .3 .2 .3-1 .3-2.1 .3 1.6 .3-.3 .2-.3 .3 .7 .3-1 .3 .7 .3 .4 .3-.4 .3-.6 .3 .7 .3-1.6 .3 1.3 .3-.4 .3 .6 .3-.9 .3 .9 .3 .5 .3 .4 .3 1.7 .3-.4 .3-1 .3 3.9 .3-2.8 .3 1.6 .3-1.5 .3-.3 .3 1.8 .3-2 .3-.1 .3 .3 .3 .2 .3 1.3 .3 2.2 .3-1.2 .3 .6 .3 .6 .3-.9 .3-.5 .3-.3 .3 .9 .3-.6 .3 .6 .3 .1 .3 .4 .3-.9 .3-1.8 .3 1.7 .3 .2 .3-.8 .2 1.2 .3-.5 .3 2.4 .3-1.7 .3 .3 .3-.6 .3-.3 .3 .3 .3 .4 .3 .4 .3-.7 .3-1.3 .3-.1 .4 .7 .3-.1 .3-1.6 .3 .1 .3 1.8 .3-1.6 .3 .7 .3-.8 .3 1.1 .2 .5 .3-.8 .3 1.2 .3 1 .3-.9 .3 .9 .3 .5 .3 .5 .3-.1 .3-1.2 .4 .5 .3-.3 .3 1.1 .3-.7 .3 .2 .3-.8 .3 .4 .3 .6 .3-.2 .3-.6 .3-.5 .3 1.1 .3 .7 .3 .1 .3-.3 .3-.5 .3 0 .3 .1 .3-.3 .3-.2 .3 .6 .3 .9 .3-.7 .3 .7 .3-1.1 .3 .3 .3 .4 .3 .1 .3 .3 .3 .7 .3-.7 .3-.1 .3 .3 .3 .3 .3-2 .3 1.6 .3 0 .3-.5 .3 .5 .3 .3 .3-.2 .3 .4 .3-.4 .3-.2 .3-.2 .3-.2 .3 .6 .3 0 .3-1.4 .3 1.8 .3 0 .3 .5 .3 .7 .4 0 .3-.1 .3 .3 .3-.4 .3 .8 .3 .6 .3-.1 .3-.2 .3 .7 .3-.2 .3-.2 .3-1 .3-.5 .3-.5 .3-.6 .3 .1 .3-.1 .3 .3 .3 .7 .3 1.2 .3-.6 .3-.5 .3 .1 .3 .8 .3-.4 .3 0 .3-.8 .3 .1 .3-.2 .3 .1 .3-.5 .3 .4 .3-.6 .3 .6 .3 1.2 .3-.1 .4-.3 .3 .3 .3 .1 .3 .5 .3 .3 .3-1.3 .3-.8 .3 1.7 .3 1.2 .3-.1 .3-1.1 .3-.4 .3-.3 .3 1 .3-.6 .3 0 .3-.8 .3 .2 .3-.8 .3 .8 .3 .2 .3-.2 .3-.5 .3-.2 .3 1.2 .3 .3 .3-.3 .3 .4 .3 .2 .3-.1 .3 .1 .3-.2 .3 .1 .3 0 .3-.2 .3-.6 .3 0 .3-2 .3 1 .3-.3 .3-.1 .3-.4 .3 .9 .3-.6 .3-.9 .3-1.7 .3 1.6 .3 .5 .3-.1 .3-.3 .3 .3 .3 .9 .3-.3 .3 1.2 .2 .2 .3-.6 .3 .7 .3 1.4 .3-.3 .3-.4 .3-.5 .3 .1 .3-.9 .3-.4 .3 0" fill="none" stroke="#000" stroke-width="1.15" stroke-linejoin="round" clip-path="url(#cL4)"/>
<path d="M29.6 308.4l .3 0 .3 .2 .3-.2 .3 0 .3 .4 .3 0 .4-.2 .3 .2 .3-.1 .3-.1 .3-.2 .3 .3 .3-.3 .3 .1 .3 .2 .3-.1 .3 .4 .3 .1 .3-.2 .3 .8 .4-1 .3-.4 .3 .2 .3-.1 .3 .1 .3 .3 .3 0 .3 .3 .3 .3 .3 .2 .3-.4 .3-.2 .3 .1 .3-.4 .3 0 .3 .5 .3 .1 .3 .2 .3 .1 .3-.7 .3 1.4 .3-.6 .3 1.2 .2 .4 .3 .1 .3 1.5 .3-.6 .3 1 .3 1.2 .4 .9 .3 .7 .3 .8 .3-.5 .3-.4 .3-.1 .3-1.3 .3 .8 .3-.8 .3-.2 .3-.4 .3-.1 .3-.9 .3-.4 .3-1 .3 0 .3 .2 .3-1.3 .3-.7 .3 .1 .3 .3 .3 .2 .3 .4 .4 .2 .3 .6 .3-.3 .3 0 .3-.1 .3-.2 .3-.5 .3-.3 .3-.2 .3 0 .3 .2 .3 .2 .3-.7 .3 .1 .3 .2 .3-.1 .3-.3 .2-.4 .3 .3 .3-.3 .3-.4 .3-.2 .3 .2 .3 .2 .3 0 .3 .1 .2 .2 .3-.5 .3-.2 .3-.2 .3 .2 .3 0 .3 .2 .3-.3 .3 .3 .3-.1 .3 .2 .3-.2 .3 .3 .3-.1 .3 .1 .3-.2 .4 0 .3 .2 .3-.1 .3-.4 .3 .1 .3-.1 .3 .4 .3-.1 .3 .3 .3-.2 .3-.2 .3 0 .3-.2 .3 .1 .3-.1 .3 0 .3-.3 .3 .2 .3 0 .3 .2 .3 .4 .3-.2 .3-.1 .3-.7 .3 1.1 .3-.1 .3 0 .3-.2 .2-.2 .3 .2 .3 .1 .3 0 .3-.2 .3-.5 .3 .1 .3 .1 .3 .1 .3 .2 .3-.2 .3 .1 .3-.1 .3 .4 .3-.1 .3 .1 .3 .2 .3-.2 .3 0 .3 0 .3 .1 .3-.5 .3 .1 .3 .1 .3 .1 .3-.1 .3-.2 .3 0 .3 0 .3-.1 .3 .1 .3-.1 .3 .2 .3 .1 .3-.1 .3-.1 .3 .5 .3-.1 .3 0 .3-.3 .3-.1 .3 0 .3 .1 .3 .3 .3-.2 .3 .1 .3-.2 .3-.2 .3 0 .3 .2 .3 .2 .3-.1 .3 .2 .3-.1 .3 0 .3-.4 .3 0 .3 .2 .3 0 .3 .2 .3-.1 .3-.2 .3-.2 .3-.2 .3 .1 .3 .2 .3 .1 .3 .2 .3 0 .3 .2 .3-.3 .3 .2 .3-.1 .3-.1 .3 .1 .3-.1 .3-.2 .3 .1 .3 0 .3 .2 .3 0 .3 .1 .3 0 .3 0 .3 0 .3-.1 .3 0 .3-.2 .3 .2 .3 0 .3 .1 .3 0 .3-.2 .3 0 .3 0 .3 .4 .3-.3 .3 0 .3 .2 .3 0 .3 .5 .3-.7 .3 .1 .3-.2 .3 0 .3 .2 .3 .1 .3-.1 .3 0 .3 .1 .3 .2 .3 .4 .3 .1 .3 .1 .3-.1 .3 .1 .3 .4 .3 0 .3 .3 .3 .3 .3 .2 .3 .4 .3 .4 .3 .4 .3-.1 .3 .2 .3-.3 .3-.2 .2-.3 .3-.3 .3 .1 .3-.1 .3-.1 .3 .1 .3-.8 .3-.4 .3-.2 .3 0 .2 0 .3-.3 .3-.3 .3-.1 .3 0 .3-.2 .3 .3 .3 .5 .3-.7 .3 0 .3 .1 .4 .4 .3-.3 .3-.3 .3 .1 .3 .2 .3 0 .3-.1 .3 .3 .3 0 .3 .2 .3 .4 .3-.1 .3 .2 .3 .2 .3 .3 .3-.1 .3 .4 .3 .5 .3-.2 .3 .2 .3 .2 .3-.6 .3 .7 .3-1 .3 .2 .3 .1 .4 0 .3 .3 .3 .2 .3 .5 .3 .1 .3 .4 .3-1.9 .3 2.4 .3 .4 .3-.4 .3 .2 .3 0 .3 1.6 .3-2 .3-.1 .3 1 .3 1.6 .3-.8 .3-.3 .3 .5 .3 .1 .3-.1 .3 .9 .3 0 .3-.3 .3 .7 .4-.2 .3-.6 .3-.8 .3-.1 .3 1 .3 1.4 .3-.3 .3-.3 .3 3.1 .3-3.3 .3-.2 .3-.1 .3-.4 .4-.1 .3-.8 .3 1.5 .3-1.4 .3 .2 .3 2.8 .3 .4 .3-5.1 .3 .8 .3 0 .3 4.9 .2-3.6 .3 1.4 .3-.2 .3 3.1 .3-1.2 .3 .3 .3-.5 .3 1.4 .3-2 .3 1.9 .3-.6 .3 3.1 .3-4.2 .3 1.3 .3 1.3 .3-1.9 .3 3.8 .4 6.6 .3 .4 .3-2.9 .4-2.9 .3-.7 .3-1.4 .3 .6 .3-.9 .2-.8 .3-1.4 .3 4 .3-3.6 .3 .2 .3 1.8 .3 2.3 .4 1.2 .3 8.5 .3-2.6 .3-.4 .3-2.4 .3-1.5 .2 1.6 .3-4.9 .3-2.8 .3 1.4 .3-2.6 .3 .8 .3 0 .3-.7 .3 2.5 .3 .8 .3-1.5 .3 3.5 .3-1.1 .3 1 .3 6.5 .3-.4 .3-8.8 .3 6.9 .2-4 .3 2 .3 3.6 .3-2.8 .3 3 .3-2.6 .3-1.5 .3 2.6 .3-2.1 .3 3.7 .3-1.3 .3-3.7 .3-2.7 .3 5.5 .3-7.6 .3 .9 .3-.8 .3 2.5 .3 0 .3 1.2 .3-.4 .3 .4 .3-1.2 .3 5 .3-1.5 .3 2.2 .3 2.7 .3-3.2 .3-.7 .4 6.1 .3-7 .3 4.9 .3-4 .3-.6 .4-2.7 .3 .5 .3-2 .3 1.2 .3-1.2 .3 3 .3-3.6 .3 3.3 .3 7.5 .3-7 .3-3.4 .3 1.3 .3-.9 .3 2.2 .3 1.3 .3-1.4 .3 5.6 .3-2.7 .3-1 .3 6.4 .3-4.6 .3 2 .3 4.3 .3 .5 .3-1.9 .3 3.7 .2-2.8 .3-2.7 .3-4.7 .3 6.3 .3-7.1 .3 3.1 .3-.8 .2 5.1 .3 3.1 .3 .8 .3 7.9 .3 .6 .3-12.3 .3 12.7 .2-14.2 .3 1 .3 1.8 .3-5.6 .3 2.6 .3 5.4 .3 1.6 .2 6.7 .3-1.3 .3 6.4 .3-.4 .3-3.3 .3-5.2 .4-2.3 .3-.5 .3-7.3 .3-.1 .3 3.8 .3 1.6 .2 3.4 .3 8.7 .3-3.5 .3 1.1 .3-3.4 .3-5 .3-.8 .3-5 .3-2 .3 2.3 .3 8.8 .2 4.2 .3 12.2 .3 2.3 .3-3.6 .3-4.2 .4-5.3 .3-4.9 .3-4.5 .3 6.5 .3-6.1 .3 .6 .2 4.1 .3 2.5 .3-.4 .3-.5 .3 0 .3-5.3 .3 2.5 .2-5 .3 1.3 .3-6 .3-.4 .3-3.1 .3 4.7 .3-8 .3 2.7 .3 .3 .3-4.6 .3 2.8 .3-3.3 .3-3.9 .3 1.6 .3-2.6 .3 1.1 .3 4.1 .3-2.8 .3-1.2 .3 5.2 .3-6.8 .3 1.3 .3 4.9 .3-2.2 .3-.7 .3 6.5 .3-3.8 .3 .8 .3-1.4 .3 2.9 .3 3.2 .3 3.7 .3-2.2 .3 .8 .3-7.2 .3 5.4 .3-2.9 .2-.2 .3-6.5 .3 1.5 .3 4.3 .3-3.6 .3 4.2 .3-3.3 .3 .1 .3 2.2 .3 3.5 .3-3.3 .3-1.5 .3 6.3 .3-.7 .3-6.3 .3-1 .3 .6 .3-2.4 .3 .4 .3-1 .3 1.3 .3-1.8 .3 1.3 .3-2.2 .3 2.4 .3-1.4 .3 5.8 .3-.5 .3-4.2 .3 1.7 .3-1.5 .3 1.9 .3 .2 .3-.5 .3 2.7 .3-.1 .3 3.3 .3 3.1 .3-.9 .3-2.6 .3 5.9 .3-4.9 .3-.7 .3-1.7 .3 5.3 .3-2.2 .2-3.6 .3-1.2 .3 8.3 .3-8.6 .3-.7 .3 4.1 .3-2.1 .3 3 .3-3.3 .3-1.3 .4 .4 .3 4 .3-4.8 .3-1.9 .3-.2 .3-1 .3-.2 .3 .9 .3-3.7 .3-.5 .3 .2 .3 3.9 .3-4.3 .3 3.8 .3-2.9 .3-4.1 .3 1.3 .3-1.7 .3 2 .3-1.2 .3-.1 .3-1.3 .3 5.8 .3-5.8 .3 1.2 .3-2.4 .3 .3 .3 .5 .3 1.1 .3 1 .3 4.9 .3-4.9 .3 2.5 .3 1 .3-1.7 .3-.8 .3 3 .3-3.2 .3 3 .3-4.5 .3-.6 .3-.3 .3 1.3 .3-5.2 .3 1.8 .3-.6 .3 0 .3 .2 .3-.4 .3-1 .3-.4 .3-.1 .3-.4 .3-1.8 .3 1.4 .3 .4 .3 .7 .3-.5 .3 0 .3 .2 .3 .8 .3-1.3 .3 .5 .2 .5 .3-.2 .3-.2 .3-.1 .3 .2 .3-.3 .3 .6 .3-.1 .3 0 .3 0 .3 .1 .3-.5 .3 .3 .3-.9 .3 1.1 .3 0 .3-.1 .2-.2 .3 0 .3-.2 .3 0 .3-.1 .3 0 .3 0 .3 .3 .3 .3 .3 .7 .3 .4 .3-.1 .3 .1 .3 0 .3 .3 .3 .2 .3-.1 .3 .7 .3-.2 .3-.1 .3-.5 .3 0 .3 0 .3-.1 .3 .3 .4-.2 .3 .1 .3-.1 .3-.1 .3-.8 .3-.5 .3-.3 .3-.4 .3 .1 .3 0 .3 0 .3 .2 .3-.1 .3 .2 .3 .1 .3-.2 .3-.5 .4-.1 .3-.1 .3 .1 .3 .2 .3 .4 .3 0 .3-.3 .3 .2 .3-.2 .3 .2 .3 .2 .3 0 .3-.4 .3-.1 .3 0 .3 .3 .3-.2 .3 0 .3-.1 .3 .1 .3 .1 .3 0 .3 .2 .2-.3 .3 0 .3 .1 .3-.3 .3-.1 .3 .2 .3 .2 .3-.1 .3 .4 .3 .2 .3-.3 .3 0 .3-.2 .3-.1 .3 .1 .3 .3 .3-.2 .3-.3 .3 0 .3 .3 .3-.1 .3 .1 .3 .3 .3-.4 .3 .1 .3 .2 .3-.2 .3 .1 .3 .1 .3 0 .4-.4 .3-.1 .3 .1 .3 0 .3 .3 .3 .3 .3-.3 .3-.1 .3-.2 .3 .2 .3-.1 .3 .1 .3-.1 .3-.1 .3-.2 .3 .2 .3 .2 .3-.9 .3 .8 .3 .1 .3 0 .3 0 .3 .1 .3-.6 .3 .5 .3 0 .3 .1 .3-.2 .3 0 .3 .2 .3 .1 .3-.3 .3 .1 .4 0 .3 .1 .3 0 .3 .1 .3-.1 .3 .2 .3-.3 .3 .1 .3 0 .3 0 .3-.1 .3 .2 .3 .1 .3 .1 .3-.2 .3 0 .3-.5 .3 .2 .3 0 .3 .3 .3 .1 .3 0 .3-.2 .3 0 .3-.1 .3-.1 .3-.2 .3 .3 .3 .4 .3-.1 .3-.4 .3 .2 .3 0 .3-.1 .2 .8 .3-.7 .3-.2 .3-.1 .3 .1 .3 .4 .3 0 .3 0 .3 0 .3-.2 .3 0 .3 .1 .3-.1 .3 0 .3-.1 .3 0 .3 .2 .3-.2 .3 0 .3-.2 .3 .1 .3 .1 .3 0 .3 0 .3 .2 .3 0 .3 .9 .3-.9 .3-.2 .3-.7 .3 .9 .3-.2 .3-.1 .3-.2 .3 .1 .3-.2 .3-.1 .4 .3 .3 0 .3 0 .3 .1 .3 .1 .3 .1 .3 .2 .3 0 .3 0 .3 .1 .3-.2 .3 0 .3-.1 .3-.2 .3-.1 .3 .1 .3 .2 .3 .1 .3 0 .3-.3" fill="none" stroke="#ff0000" stroke-width="0.95" stroke-linejoin="round" clip-path="url(#cL5)"/>
<path d="M29.6 324.7l .3 .2 .3-.1 .3 .1 .3-.1 .3-.5 .3 .5 .4 .3 .3 .4 .3-.1 .3 0 .3 .1 .3-.2 .3 .1 .3 0 .3 .2 .3 .1 .3-.3 .3 .1 .3-.1 .3-.1 .4-.2 .3 .3 .3-.1 .3-.5 .3-.2 .3 .2 .3 .5 .3 .9 .3-1 .3 .1 .3 .2 .3-.9 .3 .8 .3-.1 .3-.3 .3 .1 .3 .1 .3 0 .3 .9 .3-.3 .3 .4 .3-.5 .3 .3 .3-.3 .3 .3 .3-.1 .3-.1 .3-.7 .3 0 .3-.6 .3 .4 .3-.4 .3 0 .3 0 .3 .4 .3 .1 .3 0 .3 .1 .3 .1 .3 .3 .3-.3 .3-.1 .3 .1 .3-.1 .3 .2 .3 .1 .3-.4 .3-.2 .3-1.9 .3-2.9 .2-2.7 .3-2.9 .3-.5 .3-.1 .3-.3 .3-.3 .3 .2 .4-.3 .3 .2 .3-.1 .3 .1 .3 0 .3-.5 .3-.4 .3 .2 .3-.6 .3 0 .3 .2 .3 .7 .3-1.3 .3 0 .3-.7 .3 .9 .3-.1 .3 1.2 .3 .6 .4-.1 .3 .5 .3 .5 .3-.4 .3-.6 .3 1.3 .3-.3 .3-.4 .3 0 .4-.1 .3-.3 .3 .2 .3 .2 .3 0 .3 .1 .3-.1 .3 .3 .3-.3 .3 .3 .3 .3 .3-.3 .3 .4 .4-.1 .3-.1 .3-.4 .3-.1 .3 .4 .3-.3 .3 .2 .3 .5 .3-.3 .3 1.3 .3-1.2 .3 .6 .3 .4 .3 .1 .3 0 .3 0 .3 .4 .3 .7 .3 .2 .3-.5 .3 .4 .3-.3 .3 .4 .3 .4 .3-.2 .3 .6 .3-.4 .3 1.2 .3 .1 .3-.1 .3-.1 .3-.4 .3-.3 .3-.9 .3-.4 .2-.5 .3-.7 .3-.3 .3-.9 .3-.2 .3 .3 .3 .5 .3 .6 .3 .4 .3 .6 .3 .3 .3 .4 .3 1 .3 0 .3 .8 .3 .2 .3 .6 .3 .8 .3 .7 .3 .2 .4 .6 .3 .4 .3 1 .3 .1 .3 .7 .3 .2 .3-1.3 .3-.7 .3-.7 .3-1.2 .4-1.2 .3-.3 .3-1 .3-1.1 .3 .5 .3-.4 .3 .5 .3-.1 .3 .2 .3 .3 .3 .3 .3 .5 .3 .3 .3 .3 .3 .1 .3-.3 .3 .9 .3-1.2 .3 .2 .3-.2 .4-1 .3-.3 .3 .8 .3-.1 .3 .6 .3-.6 .3-.1 .3-.2 .3-.3 .3-.1 .3-.2 .3-.3 .3 .9 .3 0 .3-.7 .3 .1 .3-.6 .3 .1 .3-.1 .3-.5 .3 .3 .3 0 .3-.2 .3 .2 .3 .1 .3-.1 .4 0 .3-.4 .3-.2 .3 .1 .3-.3 .3-.2 .3-.1 .3 .7 .3 .1 .3 .4 .3 .4 .3 .6 .3 .5 .3 .4 .3 .1 .3 2.9 .3 3.3 .3 3.4 .3-.4 .3-.7 .4-1 .3-1 .3-1.1 .3-.2 .3 .1 .3-.2 .3 .2 .3-.1 .3-1.7 .3 1.4 .3-.4 .3-.1 .3 .6 .3-.6 .3 .2 .3-.3 .2-1.1 .3 .3 .3 .2 .3-.6 .3-.6 .3-.9 .3-.9 .4-.8 .3-.9 .3-1 .3 .5 .3 .1 .3 0 .2 .2 .3 .1 .3-.7 .3 .2 .3 .5 .3 .4 .3 .6 .2 .9 .3 .4 .3-.4 .3 1.5 .3-.3 .3-.6 .3-.7 .2-.3 .3-.4 .3 0 .3-.2 .3 0 .3-.3 .3 0 .3 .8 .3-.2 .3 0 .3-.4 .3 .1 .3 .4 .3 .1 .3 .2 .3-.4 .3 .1 .3 .8 .3 .2 .3 .6 .3 .3 .3 .9 .3 .4 .3 .3 .3 .1 .3 .7 .3 0 .3 .7 .3 .8 .3 .8 .3 .8 .3 .6 .3 .3 .3 .9 .3 .7 .3 .6 .3 .9 .3 .3 .3 .2 .3 .1 .3 .2 .3 .4 .3 .3 .3 .5 .3 0 .3 .2 .3 .5 .2 .2 .3 .2 .3-.2 .3 .7 .3 .6 .3 0 .3 .5 .3 .5 .3 .2 .3 .7 .3 0 .3 .3 .3 .6 .3 .1 .3 .6 .3 .1 .3 .8 .3 .3 .3-.2 .3 1 .2 .2 .3 .4 .3-.9 .3 1.1 .3 .3 .3 .5 .3 .5 .3 .6 .3-.1 .3 .4 .3 .7 .3 0 .3 .1 .3 .6 .3 .1 .3 .5 .3 .5 .3 .3 .3 .4 .3 .3 .3 .3 .3 .5 .3 .6 .3 .2 .3 .2 .3 .7 .3 .4 .3 .6 .3 .4 .3 .5 .3 .2 .3-.1 .3 .8 .3-.2 .2 .4 .3 .3 .3 .7 .3 .4 .3-.2 .3 1.4 .3-.2 .3 .7 .3 .4 .3 .3 .3 .5 .3 0 .3 .1 .3 .5 .3 .5 .3 .4 .3-.7 .3-.6 .3-.4 .3-.9 .3-.6 .3-.8 .3-.6 .3-.2 .3-1.7 .3-.8 .3-.5 .3-.7 .3-.5 .3-.3 .3-.3 .3-.7 .3-.3 .3-.5 .3-.8 .3-.4 .3-.8 .3 1.5 .3 .1 .3 .6 .3 .6 .2 .5 .3 .5 .3 .7 .3 1.4 .3 0 .3 .4 .3 .3 .3 .5 .3-.2 .3 .3 .3 .1 .4 .2 .3 .8 .3 0 .3 .4 .3 .3 .3 .3 .3 .4 .3 .4 .3 .1 .3-.2 .4 .2 .3-1.2 .3 1.6 .3 0 .3-.5 .3 .5 .3 .2 .3-.1 .3 .4 .3-.1 .3 .3 .4-.3 .3 .3 .3 .3 .3 .4 .3 .2 .3 .5 .3 1.1 .3 .6 .3-1 .3-.4 .3 .1 .3-.2 .3 .4 .3 0 .3 .2 .3-.1 .3 0 .3 .3 .3 0 .3-.2 .3-.6 .3 1.1 .3 .3 .3 .1 .3 .2 .3-.1 .3-.2 .3 .8 .3-.5 .3 .1 .3-.1 .3 0 .3 .3 .3 .1 .3 .3 .3-.7 .3 .8 .3 0 .3 .1 .3 .1 .3-.4 .3 0 .3 .1 .3-.3 .3 .3 .3 .6 .3-.2 .3-.1 .3 0 .3 1.1 .3-1 .3 .1 .3 .1 .2 .2 .3-.1 .3 .2 .3 .4 .3-.1 .3 .2 .3-.1 .3 .4 .3-.9 .3-1.1 .3-.9 .2-.9 .3-.8 .3-.5 .3-1.3 .3-.7 .3-.6 .3 0 .3-.7 .3 0 .3-1 .3-.5 .3-.2 .3-.3 .3-.3 .3 .1 .3-.2 .3 .3 .3 .3 .3 0 .3 .3 .3 0 .3 .7 .2-.8 .3-.1 .3 .4 .3 .5 .3 0 .3 0 .3 1.2 .3-1.1 .3-.2 .3-.1 .3 .3 .3 .3 .3 0 .3 .4 .3 .1 .3 .1 .3 .3 .2 .1 .3 .1 .3 .9 .3-.5 .3-.2 .3 .4 .3-.1 .3 .1 .3 .6 .3 0 .3 .2 .3 .1 .3 .2 .3 .1 .3 0 .3 .2 .3 .3 .2 0 .3 .1 .3-.5 .3 1.1 .3 .1 .3 0 .3 .3 .3 .1 .3 .4 .3 .4 .3 .6 .3 0 .3 .1 .3 .2 .3 .1 .3 .1 .3 0 .2 .6 .3-.1 .3-.5 .3 .6 .3 0 .3 .2 .3 1.1 .3-1.1 .3 .2 .3 .3 .3 .3 .3 0 .3 .2 .3 .1 .3 .2 .3 .4 .3 .3 .3 1.5 .3-.6 .3-.7 .3-.3 .3-.3 .2-.2 .3-.1 .3-.5 .3-.9 .3-.3 .3-.2 .3 .5 .3 .1 .3 0 .3-1 .3 .6 .2-.4 .3-.4 .3 .5 .3-.3 .3-.6 .3 0 .3-.5 .3 .1 .3-.6 .3-.1 .3 .1 .3-.5 .3-.2 .4 .1 .3-.4 .3-.4 .3-.3 .3-.2 .3-.5 .3-.2 .3 0 .3-.3 .3-.8 .3 .6 .3-.3 .3-.1 .4-.2 .3 .2 .3-.2 .3-.2 .3-.2 .3-.2 .3-.5 .3-.3 .3-.4 .3 .3 .3-.2 .3 0 .3-.2 .3 .4 .3-.2 .3 .2 .3 .2 .3 .1 .3-.1 .3 0 .3-.3 .3 .2 .3-.1 .3 .2 .3-.2 .3-.1 .3 0 .3-.4 .3-.3 .3-.2 .3 .4 .3 .7 .3-.7 .4 .2 .3-.3 .3-.4 .3 .1 .3-.3 .3 .1 .3 .4 .3-.4 .3-.1 .3-.1 .3-.5 .3 .1 .3 0 .3 .1 .3-.5 .3-.3 .3 .1 .3 .6 .3-.9 .3 .4 .3 .4 .3 .2 .3 .5 .3 .2 .3 0 .3 0 .2 .5 .3 0 .3-.3 .3 .1 .3 .1 .3 .8 .3-.1 .3 .1 .3 0 .3 .2 .3-.3 .3-.6 .3 .7 .3-1.1 .4 .1 .3-.2 .3-.2 .3-.4 .3 .1 .3-.1 .3-.1 .3 .7 .3-.6 .3 0 .3-.2 .3 0 .3-.4 .3 0 .3 .4 .2-.2 .3-.2 .3-.1 .3-.5 .3 0 .3 .2 .3-.4 .3-.4 .3-.1 .3 .2 .3 0 .3-.3 .3-.1 .3 .1 .3 .8 .3-1 .3 .1 .3-.2 .3 .3 .3-.1 .3-.2 .3-.1 .3 1.1 .3-.8 .3 0 .3 .1 .3-.7 .3-.4 .3-.4 .3-.5 .3-.9 .3-.4 .3 .1 .3-.3 .3-.4 .3 0 .3-1.1 .3-.5 .3-.7 .2-.9 .3-.9 .3-1.1 .3-.3 .3-.5 .3-.5 .3-.4 .2-.1 .3-.3 .3-.1 .3-.6 .3 .4 .3 .6 .3 .7 .2 .4 .3 .6 .3 .7 .3 .2 .3-.4 .3 .1 .3-.3 .3-.3 .3-.1 .3-.3 .3-.3 .3 .1 .3-.3 .3-.2 .3 .1 .3 .2 .3-.5 .3 1 .3-.1 .3 .4 .4 .1 .3 .2 .3 0 .3-.4 .3 .2 .3 .5 .3 .6 .3-.3 .3-.1 .3-.1 .3-.7 .3 .3 .3 .1 .3 .3 .3-.4 .3 .1 .3 .3 .3-.2 .3 .2 .3-.5 .3 .3 .3 .1 .3-.1 .3-.3 .3 .4 .3-.1 .3 .1 .3-.4 .3 .1 .3 .1 .3 .1 .3-.2 .3-.3 .3-.2 .3-.1 .3-.3 .3-.1 .3 0 .3 .4 .3-.4 .2 0 .3 0 .3-.3 .3 0 .3-.1 .3 .2 .3-.3 .3-.2 .3 .2 .3-.2 .3 0 .3-.1 .3-.3 .3-.3 .3 .3 .3 .3 .3 .2 .3 .1 .3 .3 .3-.1 .3 0 .3-.1 .3-.1 .4 .3 .3 .8 .3 .1 .3 .1 .3-.1 .3-1 .3 1.1 .3 .1 .3 .2 .3 .1 .3 .6 .3-.2 .3 .1 .3 0 .3 .4 .3 0 .3 .1 .3 .5 .3-.3 .3 .4 .3-.6 .3 .8 .3 .1 .3 .1 .3 .2 .3-.1 .3 .5 .3 .2 .3 .3 .3-.1 .3 .3 .3 .2 .3-.2 .3-.2 .3-.3 .3 .4 .3-.6 .3 1 .3-.7 .3-.3 .3 .4 .4 .3 .3 .3 .3 .3 .3 0 .3-.5 .3 0 .3 1.1 .3-1.2 .3 .2 .3 .1" fill="none" stroke="#000" stroke-width="1.0" stroke-linejoin="round" clip-path="url(#cL5)"/>
<path d="M29.6 397.5l .3-.9 .3 .4 .3-.6 .3 .4 .3 .2 .3 .4 .3-.3 .3 0 .3 .2 .3 .3 .3 .1 .3 .2 .3 0 .3 .4 .3 .4 .3 .5 .3 .2 .3 .1 .3 .5 .3 .5 .3 0 .3 0 .3-.3 .3-.2 .3-.9 .3-.4 .3 .3 .4-.1 .3-.6 .3 .1 .3-1.7 .3 1.5 .3-.4 .3-.2 .3 .3 .3 .2 .3 .2 .3 .8 .2-.2 .3 .2 .3-.3 .3-.3 .3 .5 .3 .1 .3 .3 .3-.1 .3 .5 .3 1 .3-1 .3 .2 .3 .2 .3 .1 .3 .2 .3 .4 .3-.2 .3 .2 .3-.1 .3 .1 .3-.7 .3 .6 .3-.3 .2 .2 .3 .1 .3-.1 .3-1 .3-.7 .3 1.2 .3 .4 .3 .1 .3 3.1 .3 4.2 .2 3.5 .3 4.3 .3 .3 .3 .1 .3 .6 .3-.6 .3-.1 .3-.6 .3-.2 .3-.3 .3 .5 .3 .5 .3 .9 .3 .8 .3 .1 .3 .7 .3-.6 .3 .3 .3 .7 .3 .4 .3-.9 .3 .2 .3-.2 .3-.3 .3-.6 .2-1.3 .3-.1 .3 .1 .3-.4 .3-.1 .3 .2 .3-1.1 .3 .5 .3 .4 .3-.4 .3-.1 .4-.2 .3 .1 .3 .7 .3 .2 .3 .2 .3 0 .3-.6 .3 .2 .3-.2 .3 0 .3-.6 .3 .1 .3 .3 .4 .3 .3 0 .3 .2 .3 0 .3-.1 .3 .9 .3 .3 .3 2.2 .3 .2 .3 1.2 .3-2.1 .4-2.5 .3-.9 .3-1 .3 .1 .3-.7 .3-.2 .3 .6 .3-.5 .3 0 .3-1.3 .3-.5 .3-.3 .3 0 .3 1.3 .3-1.3 .3 .8 .3 .8 .3 1.5 .3-1.3 .3 0 .3-.5 .3-.1 .3 2.2 .3 1.7 .3 .9 .4 2.4 .3 2.2 .3 2.1 .3-1 .3-.8 .4-1.2 .3-.6 .3-1.4 .3 1.3 .3-.7 .2 3.8 .3-.2 .3 .6 .3-3.7 .3-.4 .3-1.5 .2-.9 .3-4 .3 0 .3-2.2 .3 0 .3 0 .3-.3 .2-.1 .3 1 .3 .3 .3 .9 .3 .5 .3 1.1 .4 .9 .3 2 .3-.1 .3 1.1 .3-.8 .3-1.2 .3-.3 .3-.8 .3-.5 .3 .4 .3-.2 .3-.8 .3-.1 .3-1 .3-1.1 .3-.9 .3 1 .3-.9 .3 .3 .3 .5 .3 .1 .3-.7 .3-.2 .3-.2 .3 .2 .3 .2 .3-.9 .3 2.9 .3 .6 .2 .8 .3-.1 .3 .4 .3 .3 .3 0 .3-.6 .3-.1 .3-1 .3-.1 .3-.4 .3-.6 .3-.8 .3-.5 .3 .4 .3-.6 .3 .1 .3-.5 .3 1 .3 1.2 .3-.5 .3 .6 .3 1.1 .3 .5 .3 1 .3-1.1 .3 .9 .3 .9 .3 1 .3 .2 .2 .8 .3 1.1 .3 .9 .3 1.4 .3 .5 .3-7.1 .3-7.4 .3-6.6 .3 0 .3 .8 .3-.5 .3 .1 .3 .6 .3 .3 .3-.2 .3-.3 .3 .2 .3 .2 .3 .1 .3 .1 .3-.2 .3 .3 .3 .9 .3 .6 .3 .1 .3 .1 .3 1 .3 1 .3 .8 .3 .7 .3 1.1 .2 1.2 .3 1 .3 .9 .3 .8 .3 .7 .3-.5 .3 .1 .3-.7 .3 0 .3-1.2 .3-.2 .3-.1 .3-.3 .3-.6 .3-.7 .3 .6 .3 .2 .3-.7 .3 .4 .3-.1 .3 .1 .3 .7 .3-.2 .3-.2 .3 .7 .3-.2 .3 .4 .3-.3 .3 1.2 .3-1.5 .3 .9 .3 .2 .3-.6 .3 0 .3 0 .3 .1 .3 .5 .3-.1 .3 .1 .3 .7 .3-.3 .3 1.4 .3-.8 .3 .1 .4 .3 .3 .2 .3 .8 .3-.7 .3-.5 .3-.1 .3 .4 .3-.8 .3-.3 .3-.6 .2-.2 .3-.8 .3-.1 .3-.3 .3-.1 .3 .3 .3 .3 .3-.9 .3-.3 .3-.5 .3 .1 .3-.3 .3-.3 .3 1.1 .3 0 .3-.3 .3-.5 .3 1.1 .3 .5 .3 .1 .3 .4 .3 0 .3 1.5 .3-.7 .3 .6 .3 .3 .3 .3 .3-.2 .3-.7 .3-.9 .2-.5 .3-.2 .3-.8 .3-.6 .3-.6 .3 0 .3 .7 .3 .6 .3-.3 .3-.1 .3 .5 .3 0 .3-.2 .3 .3 .3-.2 .3-.1 .3 .4 .3-.5 .3 1.3 .3 .2 .3 .1 .3 .5 .3 .5 .4 .2 .3 .1 .3 .3 .3 .1 .3-.1 .3 .3 .3 .6 .3-.9 .3-.7 .3-.8 .3-.8 .2-.4 .3 .2 .3-.7 .3-.9 .3-.5 .3 0 .3 .4 .3-1.4 .3-.2 .3-.3 .3-.3 .3 .1 .3 .2 .3 .1 .3-.9 .3 .3 .3-2.1 .3-3.1 .2-3 .3-2.4 .3-3.8 .3 1.4 .3 .9 .4 1.3 .3 1.6 .3 1.7 .3 .9 .3 1 .3 .5 .2 .3 .3 0 .3 .2 .3 .5 .3 1.3 .3 2.3 .4 0 .3 2.1 .3 1.4 .3 1.3 .3-1.9 .3-1.8 .3-2.1 .2-.8 .3-2.4 .3-1.4 .3-1.6 .3-.1 .3-.3 .3 .5 .3-.3 .3 .3 .3-1.2 .4 1 .3-.9 .3 .2 .3-1.9 .3 1.6 .3 .5 .3-.1 .3-.5 .3-.3 .3 1.2 .3-1.4 .3-1 .2 .1 .3-1.2 .3-.3 .3-1.2 .3 .7 .3 .6 .3 .1 .3 .1 .3 .3 .2-.9 .3 .7 .3 1.2 .3 .4 .3 0 .3-.9 .4-1.6 .3-.8 .3 .3 .3 .4 .3 .1 .3 .8 .3 .7 .3-.2 .3 .7 .3 .1 .3 .4 .3 .8 .3 .5 .3-.2 .3-.3 .3 .2 .3-1.1 .3 1.6 .4 1 .3 .3 .3-.3 .3-.4 .3 .7 .3 .2 .3-.6 .3 .9 .3 1.4 .3 1.5 .2 1 .3 .6 .3 .7 .3 .7 .3 .5 .3 1.8 .3-.1 .3 .6 .3 .4 .3 1 .3-.4 .3-1.1 .3 2.3 .3 .4 .3-.2 .3 .5 .3 .1 .3 .7 .4-.2 .3 .2 .3-.3 .3 .5 .3-.5 .3-1.6 .3 2.6 .3 .3 .3 0 .2 .9 .3 .2 .3 .4 .3 .7 .3-.3 .3 .7 .3 .4 .3 .4 .3-.2 .3 .4 .4 .2 .3 0 .3-.8 .3 .7 .3 .2 .3 1 .3 .1 .3 0 .3-.9 .3 .2 .3 .4 .3-.5 .3 .1 .4 1.3 .3-1.3 .3 0 .3-.1 .3-.9 .3-.6 .3-.2 .3-.1 .3 .2 .3 .3 .3-.2 .3-1.6 .3 1.3 .4 0 .3-.2 .3-.6 .3-.4 .3-.6 .3-.1 .3 .1 .3-.8 .3-.1 .3-.3 .3-.3 .3-.9 .3-.2 .3-.3 .3-.7 .3-1.3 .3-.5 .3-.5 .3-1.1 .3-.4 .3-.5 .3 .2 .3-.7 .3-.5 .3-.3 .3-.3 .3-.4 .3 1.9 .3 .8 .3 1.6 .2 .1 .3 1.2 .3 1.1 .3 .7 .3 .2 .3 .5 .3 .7 .3-.8 .3-.4 .3 1.3 .3 .6 .3-.6 .3-1.2 .3 2.3 .3 .2 .3-.4 .3-.1 .3 .2 .3 .2 .4-.9 .3 .6 .3 1.5 .3-.2 .3 .3 .3-.3 .3-.7 .3-1.8 .3 .1 .3-1.2 .2-.3 .3-.8 .3-.6 .3-.9 .3-.8 .3-.6 .3-.6 .3 .1 .3-.1 .3-1.5 .3-.6 .3-1 .3-1 .3 .1 .3-.3 .3-.6 .3 0 .3 .2 .3-.1 .3 1.5 .3 .4 .3 .3 .2-.3 .3-.4 .3-.2 .3-.4 .3 .3 .3 0 .3 .4 .3-.2 .3 0 .3 .2 .3 .3 .3-.1 .3 1.1 .4-1.7 .3 .9 .3 .8 .3-.1 .3 0 .3-.5 .3 .2 .3-1 .3-.5 .3-.3 .3-.6 .3-.5 .3-.9 .3-.5 .3-.8 .3-.5 .3-.3 .3-1.1 .3-.8 .3-.9 .2-.9 .3-1.4 .3-.3 .3-.9 .3 .1 .3 1 .3 .1 .3-.3 .3 .6 .3-.1 .3 .1 .3 .8 .3 1.1 .3 .1 .3 .2 .3 .1 .3 1.2 .3-1.8 .3 .3 .3-.5 .4 1.2 .3 .4 .3-1.3 .3 .2 .3-.3 .3 .2 .3 .3 .3 .6 .3 .1 .3 0 .3 1.1 .3 .1 .3 1.2 .3 .4 .3 .1 .3 .6 .3 .6 .3-.7 .3-1 .3-1.2 .2-1.1 .3-1.6 .3-.3 .3-1 .3-1.3 .3-3.3 .3 1.4 .2-1.7 .3-1.5 .3-1 .3-1.3 .3-.5 .3-.3 .3-2.5 .3 1.8 .3-1 .3 0 .3-1.2 .3 .3 .3 .4 .3-1 .3 .1 .3-.7 .3-.9 .2-.6 .3 0 .3 0 .3-1.7 .3 .9 .3 1.5 .3 2.1 .2-.5 .3 1 .3 .7 .3 1.3 .3-1.4 .3-.5 .3 .6 .3-.1 .3 .4 .3 1 .3-.6 .3 1 .3 0 .3 .2 .3-1.8 .3-1 .3-1 .3-1.5 .3-1.6 .3-1 .3-.6 .3-.3 .3 .2 .3-.6 .3-.5 .2-.7 .3 1.4 .3-2.2 .3-.9 .3-.8 .3 7.5 .2 7.8 .3 8.1 .3 .3 .3 0 .3 0 .2 1.1 .3 .4 .3-.2 .3 .5 .3 2.2 .3 2.6 .4 .4 .3 2.8 .3 1.9 .3 .6 .3-.2 .3-.8 .2-.6 .3-.7 .3-.6 .3-.2 .3 .6 .3-.2 .3 .4 .3-1 .3 .7 .3-.3 .4-.3 .3-.1 .3 .3 .3 .3 .3-.5 .3 .7 .3 0 .3 .6 .3-.4 .3 1.4 .3-1.5 .3-.1 .3-.7 .3-.2 .3 0 .2 0 .3 .2 .3-.4 .3 .6 .3-.3 .3-.4 .3-.4 .3-.4 .3 .8 .3-.5 .3 .2 .3-.7 .3 .6 .3 .1 .3-.1 .3 0 .3 .1 .2 .2 .3-.3 .3 .5 .3-.5 .3-.6 .3 .4 .3 0 .3 .4 .3 0 .3 .5 .3 .2 .3-.2 .3 .3 .3 .4 .3 .4 .3 0 .3-.1 .3-.1 .3-1 .3-.3 .3 .1 .3-.3 .3 .3 .3 0 .3-.4 .3 .4 .3-.2 .3 .4 .3-.4 .3-.1 .3 .5 .3 0 .3-.3 .3 .2 .3-.3 .4 0 .3-.5 .3-.2 .3-.5 .3-.2 .3-.2 .3 .2 .3-.3 .3-1 .3-.6 .3-1 .3-.2 .4-1.9 .3 .3 .3-1.2 .3-1.1 .3-1.3 .3-.2 .3-.7 .3-.7 .3-.7 .3 .2 .3-.9 .3-.3 .3-.5 .3 .2 .3-.2 .3-2 .3-.2 .3-.5 .2-.3 .3-.6 .3-.3 .3-.8 .3-1.2 .3-2.2 .4 0 .3-3.6 .3-1.9 .3 1.6 .3-.3 .3 .7 .3 .7 .3 .3 .3 .5 .3-.2 .3 2.5 .3-1 .3-1.1 .3-.7 .3-.5 .3-.6 .3-.8 .3-.9 .3-.2 .3 1.8 .3-1.9 .3-.8 .3 .6 .3-1 .3 0 .4 .1 .3-.7 .3-.3 .3-.5 .3-1.3 .3 .4" fill="none" stroke="#000" stroke-width="1.15" stroke-linejoin="round" clip-path="url(#cL6)"/>
<path d="M404.6 63l .3 .1 .3 .2 .3-.1 .3 0 .3 .1 .3 .2 .3-.3 .3-.3 .3-.1 .3-.5 .3 0 .3-.3 .3-.1 .3 0 .3-.3 .3 .4 .3-1 .3-.2 .3 .2 .3-.9 .3 0 .3 .1 .3 0 .3-.5 .3-.1 .3 .9 .3-1.3 .3-.5 .3-.1 .3-.2 .3-.2 .3 0 .3 .2 .3 0 .3 1.4 .3-.6 .3 .2 .3 .5 .3-.2 .3-.1 .3-.4 .3 0 .3-.1 .3 0 .3 .1 .3 .2 .4 .6 .3 .1 .3-.4 .3-.1 .3 .6 .3 .7 .3 .2 .3-.3 .4-.2 .3 .2 .3 .1 .3 0 .3 .3 .3-2.6 .3-2.7 .3-2.6 .4-2.4 .3-2.1 .3-1.1 .3 0 .3 3.4 .4 1.7 .3 2 .3 1.7 .3 .7 .3 2.2 .4 1.4 .3 1.5 .3 1.6 .3-.2 .3-.6 .4-.7 .3 .3 .3 .2 .3-.4 .3-.9 .3 .1 .3-.5 .3-.7 .4 5.3 .4-10.9 .3-2.6 .3 .9 .3-2.5 .3-6.7 .3 3 .3 4.2 .3-3.8 .3 2.1 .3-2.3 .3 3.2 .3-2.5 .2 6.3 .3-8 .3 .5 .3 2.2 .4 2.5 .3-3.9 .3 9.7 .2-1.5 .3 7.6 .3-7.5 .3 6.3 .2-9.3 .3 4 .3-5.1 .3 3.2 .4-4 .3 3.7 .3-2.6 .3 1.9 .3-4 .2 2.3 .3-5.5 .3 1 .3 3.7 .4 3.1 .3-.1 .3 6.4 .3-3.3 .3 8.5 .3-4.5 .3 5.1 .3-4.5 .2 5.1 .3-.9 .4-14.1 .3-15.6 .3 0 .3 .1 .3 .1 .3-2.3 .3 2.3 .3 .4 .3-.6 .3-.5 .3-.9 .3-.5 .3 .9 .3 .4 .3-.2 .3 .3 .3 .6 .3-.1 .3 0 .3 0 .3 .8 .3 0 .3 .9 .3 1.4 .3 0 .4 .1 .3 .8 .3 .9 .3 .4 .3 .1 .3-1 .3-.5 .3-1.5 .2-.8 .3-2 .3-1.5 .3-1.5 .3 .9 .3-.9 .3-.2 .3-1.1 .3-.5 .4 .5 .3-.5 .3 0 .3 1 .3-.2 .3-.1 .3 .2 .3-.5 .3-.9 .3 .4 .4-1.4 .3 .3 .3-.2 .3-.5 .3 1.8 .3 2.1 .2 1.4 .3 1.8 .3 2 .3 3.8 .3 3.1 .2 3.3 .3 3.6 .3 3.3 .3-5.2 .3-6.7 .3-5.9 .3-7 .3 .6 .3 1.1 .2 1.5 .3 .6 .3 .6 .3-.6 .3-1 .3-.1 .3-1.4 .2-1.4 .3-1.2 .3 .1 .3-2.2 .3-.7 .3 .1 .3 .2 .3 .9 .2-.2 .3 .8 .3 .8 .3 1.2 .3-1 .3 .3 .3 .9 .3 .9 .2 .2 .3 .6 .3 .5 .3 .6 .3-.5 .3-.4 .3 .4 .3-.3 .3-.1 .3-.3 .4-.3 .3-.4 .3-.3 .3-.3 .3-.8 .3-.3 .3-.5 .3 .2 .3 .4 .3-.2 .3 .2 .3 .7 .3-1.4 .3-.3 .3-.2 .3-.3 .3-.4 .3 .4 .3-.2 .3-.3 .3 0 .3 .1 .3-.1 .3 .2 .3 0 .3-.5 .3 1 .3-.3 .3-.4 .2-.4 .3-.1 .3 .3 .3 .9 .3-1.2 .3-.3 .3 .1 .3 .1 .3-.2 .3-.3 .3-.1 .3 .2 .3 .1 .3 .2 .3 .7 .3-.2 .3 .1 .3 .4 .3 .1 .2-.2 .3 .2 .3 .2 .3 .2 .3-.6 .3 1.7 .3-.9 .3 0 .3-.9 .3 1 .3 .1 .3 .3 .3-.5 .3 0 .3 0 .3 .1 .3 .1 .4-.6 .3-.1 .3 .2 .3 0 .3 0 .3 .1 .3 .5 .3-.1 .3-.1 .3-.7 .3 .1 .3 0 .3-.5 .3 .2 .3 .6 .3-.6 .3-.5 .3-.4 .3 .3 .3 1.3 .3-1.5 .3 .4 .3-.5 .3 .6 .3-.2 .3-.3 .3 .1 .3 .4 .3-.2 .3-.8 .3 .3 .3 0 .3 .2 .3-.4 .3 .3 .3-.2 .3-.1 .2-.5 .3 .6 .3-.1 .3-.2 .3 .1 .3-.1 .3 0 .3-.6 .3 .1 .3 .2 .3-.3 .3-.4 .3 .2 .3-.2 .3 .1 .3 0 .3 0 .3 .4 .3 .2 .3-.1 .3 .3 .2 0 .3 .5 .3 .2 .3-.1 .3-.3 .3-.2 .3-.4 .3 .5 .3 .2 .3-.3 .3-.3 .3-.1 .3-.1 .3 1.3 .3-.7 .3-.4 .3 .2 .3-.2 .3 .3 .3-.6 .3 0 .3-.4 .3 .4 .3 0 .3 .1 .3-.3 .3-.1 .3 .4 .3 0 .3-.6 .3 .1 .3-.2 .3-1.4 .3 1.4 .3 0 .3 .4 .3-.2 .4-.4 .3-.3 .3-.3 .3-.2 .3-.5 .3 0 .3-.6 .3 .6 .3 1 .3-1.2 .3 0 .3 .4 .3-.9 .3 1.2 .3 .2 .4 0 .3 .1 .3 .4 .3 0 .3 .3 .3-.3 .3 .1 .3 .6 .3 .4 .3 .2 .3 0 .3 .1 .3 0 .3 .3 .3-.7 .4 .7 .3 0 .3 0 .3 .3 .3-.1 .3 1.4 .3-.8 .3 .6 .3 .2 .3 .4 .3-.1 .3-.1 .3 .5 .3 .2 .4 0 .3 .2 .3 .2 .3 .4 .3 .4 .3-.2 .3 .3 .3-.3 .3 .6 .3 .1 .3 .4 .3 .3 .3-.4 .3 .3 .3-.2 .3 .1 .3 .5 .3 .3 .3 .6 .3-.1 .3-.3 .3-.3 .3-.5 .3 .3 .3-.3 .3 .1 .4 .3 .3-.1 .3 .5 .3-.4 .3 .1 .3-.8 .3 .1 .3 0 .3 .4 .3-.1 .3 .7 .3-.2 .3-.1 .3-.2 .3 .2 .3 .1 .3 .5 .3 .4 .3 .3 .3 0 .3-.1 .3 .5 .3 .5 .3-.4 .3-.8 .3 1 .3-.1 .3 .3 .3 0 .3 .5 .3 .3 .3 .6 .3-.4 .3-.3 .3 .2 .3-.2 .3 .5 .3-.2 .3 .2 .3-.1 .3-.6 .3 .1 .3 .4 .3-.1 .3 .1 .3-.3 .3 .2 .3-.4 .3 .7 .4-.5 .3 .7 .3 .1 .3-.7 .3 .1 .3-.1 .3-.1 .3 .5 .3 .1 .3 .4 .3-.4 .3 .2 .3-.1 .3 .1 .3-.3 .3 0 .4-.1 .3 .2 .3 .3 .3 .4 .3 0 .3 .1 .3 .3 .3-.5 .3-.9 .3 .4 .3-.1 .3-.1 .3-.3 .4-.2 .3 .3 .3 .3 .3-.1 .3 .2 .3 .2 .3-.1 .3-.1 .3-.3 .3 0 .3 0 .3 .5 .3 0 .4 .4 .3 .7 .3 0 .3 .4 .3-.5 .3 .1 .3 .5 .3 .1 .3 .4 .3-.2 .3 .5 .3 .1 .3-.1 .3 .1 .3 0 .3-.4 .3 0 .3 .2 .3 .1 .3 .2 .2 .8 .3-.7 .3 0 .3 .6 .3-.4 .3-.3 .3 .4 .3-.4 .3 .2 .3 .5 .3 0 .3-.3 .3-.2 .3 .3 .3 .3 .3-.9 .3 .4 .3 .3 .3 1.2 .3-1 .3 .2 .3 .2 .3 .2 .3 0 .3 .1 .3-.4 .3 0 .2 .4 .3 .4 .3 .2 .3-.2 .3 .6 .3-.1 .3-.6 .3 .1 .3 0 .3-1.3 .3 1.4 .3 .1 .3-.3 .3 .1 .3-.2 .3 .1 .3 .1 .3 .1 .3 .5 .3 .1 .3-.3 .3 1 .3 0 .3 .1 .3 0 .3-.3 .3 .3 .3-.1 .3-.1 .3 .1 .3 .3 .3-.4 .3 .2 .3 .1 .3-.1 .3 .2 .3 .1 .3-.4 .3 .3 .3 0 .3-.2 .3 .2 .3 .5 .3 .6 .2 .4 .3 .2 .3 .1 .3 .8 .3 .4 .3 .9 .3-.3 .3-.8 .3 .2 .3-.2 .3-.2 .3-.2 .3 .2 .3-.2 .3 .2 .3 .6 .3-.7 .3 .1 .3-.8 .3 .8 .3 0 .3-.2 .3 .4 .3-.1 .3-.1 .3-.1 .3 .4 .3-.3 .3 .4 .3-.3 .3 0 .3 .3 .3-.2 .3-.7 .3 .3 .3-.1 .3-.3 .3-.1 .3-.3 .3 .2 .3 .3 .3-.1 .3 .3 .3 .1 .3 .1 .3 .2 .3 0 .3 0 .3-.2 .3-.1 .3-.1 .3 .1 .3 .4 .3 .2 .3 0 .3 .2 .3 .4 .3-.1 .3 .2 .3-.3 .3 0 .3-.3 .3 .3 .3-.2 .3-.3 .3 .3 .3 0 .3-.2 .3 .1 .3 .2 .3 .3 .3-.1 .3-.3 .3 .1 .3 .1 .3 .1 .3-.1 .3 .1 .3-.1 .3 .3 .3-.4 .3 .5 .3 .1 .3 0 .3 0 .3 .1 .3-.3 .3-.1 .3-.1 .3 .3 .3 .1 .3 .1 .3-.2 .3 .1 .3 .1 .3 .4 .3 .2 .3 0 .3 0 .3 .1 .3-.1 .3-.6 .3 1 .3 0 .3-.2 .3 0 .3-.5 .3 .1 .3 .5 .3-.9 .2-.1 .3-.2 .3-.1 .3-.2 .3-.5 .3 0 .3 0 .3-.1 .3 .1 .3-.1 .3 0 .3 .4 .3-.2 .3 .2 .3 .5 .3 .2 .3 0 .3 .7 .3-.5 .3 .4 .2 .5 .3 .5 .3 .2 .3 .9 .3 .6 .4 1.1 .3 .9 .3 2.7 .3-2.8 .3 1.5 .3-6.1 .2 5.3 .3-3.3 .3 2.7 .3-3 .3 2.1 .3-1.2 .4-1.3 .3 3.4 .3 2.6 .3 2.2 .4 5.1 .3 4 .3-4.2 .4-4.1 .3-2.4 .3-2.9 .3 1.5 .3-3.1 .3 2.1 .3-2 .3 2.4 .3-3.9 .3 3 .3-3.3 .3 3.6 .3-2.3 .3 3 .3-1.2 .3 .8 .3-3.3 .3 5.6 .3-6.2 .3 3.5 .3-1.7 .3 .8 .3-3.3 .3 2.2 .3-3.1 .3 2.4 .3-1 .3 1.3 .3-1.8 .3 4.2 .3-4.8 .3 .5 .3-3.2 .3 .9 .3-4.5 .3 1.2 .3-2.9 .3 .8 .3 1.6 .3-.3 .3 .5 .2 .8 .3 1 .3 .7 .3 .6 .3 1.1 .3 1.1 .4 1.4 .3 1.2 .3 .7 .3-.4 .3-1.1 .3-.8 .2-.8 .3-1 .3-1.4 .3-.4 .3 .2 .3 0 .3 .1 .3 .6 .3-.1 .3 .7 .4 0 .3 .4 .3 0 .3 0 .3-.2 .3 .1 .3-.1 .3 .6 .3-.3 .3 .1 .3-.2 .3 .2 .3-.1 .2 0 .3-.4 .3-.1 .3-.2 .3 0 .3 .1 .3 .2 .3-1.2 .3 1 .3 1.2 .3-1.1 .3 .1 .3 .5 .3 .3 .4 .6 .3-1.6 .3 .2 .3 .1 .3-.2 .3-.2 .3-.2 .3 .7 .3 .5 .3-.5 .3 0 .3-.3 .3 .1 .3-.3 .3 .1 .3 .2 .3 .3 .3 .4 .3-.6 .3-.3 .3-.1 .3 0 .3 .6 .3 .3 .3-.1 .3 0 .3 .1 .3-.3 .3-.5 .3 .4 .3-.4 .3-.1 .3 .1 .3 1.3 .3-.7 .3-.2 .3 .2 .3 .3 .3-.5" fill="none" stroke="#000" stroke-width="1.15" stroke-linejoin="round" clip-path="url(#cR0)"/>
<path d="M404.4 98.7l .3-.1 .3 .2 .3-.1 .3 .5 .2 .9 .3-.1 .3 .8 .3 .4 .3 .2 .3 0 .3 0 .3 0 .3 0 .3-.9 .3 .7 .3-.2 .4 .3 .3-.1 .3 .2 .3 .4 .3-.4 .3 .5 .3-.3 .3-.1 .3 .3 .3-.7 .3 .4 .3-.6 .3 .2 .3-.1 .4 0 .3-.6 .3-.3 .3-.4 .3 .7 .3-.3 .3-.4 .3 1.9 .3-2 .3 1.2 .3 0 .3 .2 .3-1 .3 .5 .3 .1 .4-.4 .3 .9 .3-.3 .3 .4 .3-.1 .3 .4 .3-.5 .3-.1 .3 .5 .3 0 .3 0 .3-1 .3 1.4 .3 .1 .3 .2 .3 .1 .3 .4 .3 .3 .3 .2 .3-.5 .3-1.1 .3-.3 .4-.6 .3-1.1 .3-.6 .3-.1 .3-.9 .3 2 .3-.2 .3 1.7 .4-1 .3 1.2 .3 1.4 .3 .3 .3-2.3 .3 5.3 .3-10 .3 4.7 .4-9.1 .3 6.6 .3-8.4 .3 6.5 .3-7 .3 5.3 .2-3.4 .3 7.1 .3-4.7 .3 5.9 .3-7.3 .2 2.2 .3-13.8 .3 12.4 .3-3.5 .3 8.4 .4-6.9 .3 8 .3-8.3 .3 10.7 .3-5.7 .3 4.9 .3-8.9 .2 4.1 .3-7.9 .3 7.5 .3-6.3 .3 5.1 .3-5.4 .4 7.5 .3-1.9 .3 6 .3-1.3 .3 .7 .3-6.7 .3 12.5 .3-8.4 .3 5.6 .3-10.7 .3 3.2 .3-3.4 .3 7.8 .3-5.5 .4 9.1 .3-9.4 .3 7.3 .3-4.5 .3 3.3 .3-7.7 .3 6.4 .4-11.8 .3 2.2 .3-4.5 .3-.8 .3-1.3 .2 .6 .3-1.5 .3 .1 .3-.4 .3 1.3 .3-.7 .3 .8 .3 0 .4 0 .3-.3 .3 1 .3-.4 .3-.6 .3-.2 .3 .6 .3-.6 .4 .3 .3 0 .3 1.2 .3-.3 .3 2.2 .3 .7 .2 .7 .3-.6 .3 .7 .3 1.4 .3 3.4 .3 .2 .3 4.7 .3 0 .3 3.3 .3 0 .3 1.1 .3 .9 .3 2.1 .3-1.6 .3 2.9 .3 0 .3 .9 .3 1.5 .4-1.5 .3-1.3 .3 .7 .3 .3 .3-1.2 .3-.5 .3 .5 .3-1.2 .3-.9 .3-.1 .3 .1 .3-2.5 .3-1.4 .3-2.7 .4-1.4 .3-.3 .3-4.7 .3-1.4 .3 8.6 .4-2.5 .3 10.2 .3-6.8 .3 12.2 .3-6 .3 8.5 .3-6.7 .3 10.8 .3-5.8 .3 4.7 .3-8.3 .4 3.9 .3-4.3 .3 3.9 .3-4.6 .3 3.4 .3-2.8 .3 5.3 .3-3.2 .3 8.5 .3-6.7 .3 8.5 .3-11.5 .3 5.8 .3-6.3 .4 7.1 .3-8.7 .3-1.3 .3-8.1 .3 6.7 .3-1.3 .2 7.9 .3-4.2 .3 6.9 .3-7.5 .3 5.2 .3-5.9 .3 .1 .3-13.9 .3 15.6 .3-3.3 .2 11 .3-5.5 .3 8.4 .3-7.1 .3 5.1 .3-10.2 .4 5.6 .3-4.3 .3 1.7 .3-7.3 .3 6.9 .3-2.8 .2 8.1 .3-5.4 .3 7.6 .3-5.1 .3 3.4 .3-6.1 .3 5.9 .3-6.6 .3 4.9 .3-2.8 .3 3.2 .3-3.5 .3 4.4 .3-3.8 .3 10.5 .2-9.1 .3 7.5 .3-8.4 .3 8 .3-.3 .3-.1 .3-2.6 .3 1.7 .3-.7 .3 .5 .3-.8 .3 1.7 .3-1 .3 2.1 .3 1.2 .3-.5 .3 1.1 .3-1.9 .3 .2 .3 0 .3-.5 .3 .4 .3-1.5 .3 1.3 .3 .7 .3 .6 .3-.6 .3 .1 .3-.1 .3 .1 .3 .2 .3 0 .3-.1 .3 .8 .3 .8 .4-.3 .3 0 .3-.1 .3-.1 .3 .5 .3 .3 .3 .3 .3-.6 .3-.6 .3-.8 .3-.1 .2 .8 .3-.1 .3-1.2 .3 .7 .3-1.3 .3-.1 .3-.8 .3 1.1 .3-1 .2 .1 .3-.6 .3 0 .3 0 .3-.3 .3 .8 .3-1.2 .2-1.6 .3-.1 .3-1.3 .3 1.7 .4 1.3 .3 1 .3-.2 .3 .2 .3 .6 .3 1 .3 .3 .3 .7 .3-.2 .3 .4 .3-.3 .3 .3 .3 .8 .3 .2 .3-.2 .3-.4 .3-.7 .3-.9 .3-.2 .3-1.5 .4 2.3 .3-.6 .3-.9 .3 .3 .3 .4 .3-.3 .3-.1 .3 1.1 .3-.8 .3 .1 .3-.5 .3 .3 .3-.2 .3 .1 .3 .8 .4-1 .3-.2 .3 .5 .3-.5 .3-.4 .3-.6 .3 1.1 .3-.7 .3-.5 .3 .4 .3-.1 .3 1 .3-.1 .4-.6 .3 .1 .3-.8 .3 .3 .3 .3 .3 .3 .3-.7 .3 .2 .3 .9 .3 .2 .3 0 .4 .2 .3-.1 .3 .7 .3 .2 .3-.9 .3-1.3 .3-.5 .3-.4 .3-.6 .3-1.2 .3 .4 .3 .7 .3-1.9 .3-2 .3 .2 .2 .3 .3-.1 .3-.1 .3 0 .3-.3 .3 0 .3-.3 .3-.7 .3-.7 .3 .3 .3 .2 .2-.5 .3-2.3 .3 1.8 .3-.3 .3 .5 .3-.8 .3-.8 .3-1.4 .3 .3 .3-1.4 .3-.3 .3-1.3 .3 1.4 .3-1 .3 1.4 .4-.8 .3 1.2 .3-1.3 .3 3.7 .3-8.2 .3 6.8 .3-7 .2 4.8 .3-4.9 .3 5.8 .3-3.1 .3 2.9 .2 .6 .3 9 .3-9.4 .3 1 .3-9.5 .3-1.7 .3-2.9 .3 7.3 .3-2.2 .2 6.8 .3-6.3 .3 6.1 .3-6.5 .3 3.9 .3-4.3 .4 3.3 .3-6.2 .3 3.8 .3-6.7 .3 7 .3-6.3 .2 6.1 .3-4.4 .3 5.7 .3-6.5 .3-2.9 .3-3.8 .3 3.8 .3-6.9 .3 5.7 .3-7 .3 10.5 .3-6.7 .3 8.7 .3 3 .3 6.2 .3-4.6 .3 6.7 .3-3.8 .3 7.2 .3-4.4 .3 7.6 .3-6.5 .3 4.4 .3-5.8 .3 3.5 .4-7.7 .3 4 .3-3.7 .3 2.1 .3 .7 .3 1.4 .3-4.1 .3 4.8 .3-5.2 .3 5 .3-3.5 .3 2.4 .3-4.2 .3 5.6 .4-6.4 .3 4.9 .3-7.8 .3 1.5 .3-1.1 .3 4.4 .3 1.5 .3 4.3 .3-2.6 .3 7.5 .3-3.9 .3-1 .3-8.5 .3 .9 .3-5.7 .3 1.7 .3-7.7 .3 11 .3-2.8 .3 6.4 .3 .1 .3 2.3 .3-6 .3 3.4 .3-5.7 .3 .3 .3-7.7 .3 2.5 .3-3.1 .3 10 .2-2 .3 9.1 .3-1.9 .3 8 .3-.8 .2 .5 .3-9.5 .3 13.2 .3-8.9 .3 1 .3-3.4 .3 3.1 .3-8.2 .3 4.5 .3-5.7 .3 3.2 .3-8.9 .3 5.6 .3-4.8 .3 3.3 .3-3.3 .3 4.7 .3-5.3 .4 5.1 .3-5.9 .3 6.9 .3-5.2 .3 5.1 .3-6.4 .3 4.8 .3-1.1 .3 5.7 .3-6.5 .3 4.2 .3-6.1 .3 8.3 .3-2.6 .4 5.9 .3-4.8 .3-1.9 .3-1 .3 5.8 .3-4.4 .3 4.9 .3-5.2 .4 2.8 .3-4.5 .3 3.2 .3-4.8 .3 5.4 .3-5.3 .3 4.3 .3-2.6 .3 6.2 .3-3.5 .2 9.3 .3-11.2 .3 6.8 .3-6.3 .3 2.7 .3-3.5 .3 2.2 .3-5.4 .4 5.9 .3-8.4 .3 2.6 .3-5.6 .3 7.1 .3-2.9 .3 7.4 .3-4.7 .3 7.6 .3-3.4 .3 6.7 .3-5.8 .3 5.6 .3-7.3 .4 5.7 .3-4.7 .3 4.7 .3-7.7 .3 8.4 .3-4.9 .3 5 .3-3.8 .3 5.1 .3-6.1 .3 7.2 .3-6.2 .3 4 .3-5.7 .3 4.9 .2-9.2 .3 5.7 .3-6.5 .3 9.2 .3-10.1 .3 3.1 .3-4.5 .3 6.7 .3-6.1 .3 8.9 .3-4 .2 3.5 .3-5.4 .3 1.5 .3-1.5 .3 3.2 .3-1.1 .3 3 .3-7.6 .3 5.6 .3-5 .3 4.8 .3-4.8 .3 5.5 .3-.1 .2 8.8 .3-2.6 .3 2.8 .3-3 .3-.5 .3-3.6 .3 1.6 .3-7.2 .3 3.9 .3-2.1 .4 2.9 .3-1.2 .3 1.7 .3-4.5 .3 2 .3-1.8 .3-1.6 .3 .8 .3 3.3 .3-1.6 .3 2.7 .3-3.6 .3 2.3 .3-2.6 .3 1.4 .3-1.5 .3 .4 .3-2 .2 4.3 .3-3.9 .3-.6 .3-.5 .3 2.8 .3-3.9 .3 1.5 .3-.4 .3 3 .3-1.1 .2 2.6 .3-1.9 .3 1.8 .3-1.4 .3 3.3 .3-2.2 .3-.1 .3-3.6 .3 1.1 .3-2.6 .3 2.5 .2-1.9 .3 1.9 .3-1.9 .3 1.8 .3-4.5 .3 2.9 .3-2.4 .3-.7 .3 1.9 .3 1.4 .3-1.5 .3 .9 .3-1.7 .3 3.8 .3-3.3 .3 4.5 .3-4.4 .3 2.3 .3-3.8 .3 4.8 .3-2.1 .3 2.2 .3-2.7 .3 1.7 .3-1.3 .4 3.1 .3-2.8 .3 2.2 .3-2 .3 3.8 .3-4 .3 3 .3-2.1 .3 3 .3-1.5 .3 4.2 .3-2.5 .3 1.7 .4-2.1 .3 2.7 .3-.9 .3-1.5 .3-1.3 .3 4 .3-2.9 .3 1.4 .3-1.2 .3 2.1 .3-1.1 .3 6.7 .3-4.7 .2 .3 .3-2.9 .3 3.9 .3-3.6 .3 1.3 .3-2.6 .3 2 .3-.6 .3 1.5 .2-2.1 .3 3.6 .3-2.2 .3 .6 .3-2.8 .3 2.9 .3-1.8 .3 0 .3-1.8 .3 4.4 .4-3.2 .3 2.8 .3-2 .3 .4 .3-1.2 .3 7.2 .3-8.5 .3 2.2 .4-1.5 .3 1.4 .3-1.8 .3 1.2 .3-1 .3 2.7 .3-3.2 .3 2.4 .3-2.8 .3 1.3 .3-.9 .3 1.7 .2-3.3 .3 2 .3-3.4 .3 3.6 .3-2 .3 2.1 .3-2 .3 2.7 .3-2.9 .3 1.8 .3-1.7 .3 2.5 .3-1.2 .3 1.8 .3-1.7 .3 2.1 .3-3.7 .3 3.1 .4-3.1 .3-.8 .3-.7 .3 2.5 .3-2.3 .3 2.6 .3-2.2 .3 3.1 .3-1.8 .3 1 .3-2 .3-1.5 .3-1.2 .3 5.9 .3-.3 .3 .5 .3-2.4 .3 3.7 .3-2.5 .3 1.8 .3-4.1 .3 2.5 .3-1.9 .3 3.1 .3-6.3 .3 5.1 .3-.2 .3 4 .3-5.9 .3 3.8 .3-1.7 .3 .8 .3-1.5 .3 1.2 .3-3 .3 3.8 .3-3.6 .3 3.2 .3-1.9 .3 .9 .3-4 .3 3.5 .3-2.2 .3 3.2 .3-2.8 .3 3.2 .3-.2 .3-.9 .3-2.2 .3 1.3 .3-2.1 .3 3.3 .3-3 .3 2.4 .3 2.7 .3-.1 .3-2.3 .4 1 .3-3.7 .3 1.3 .3-1.2 .3 1.4 .3-2.3 .3 2.2 .3-2.4 .3 2.2 .3-2.7 .3 5.4 .3-4 .3 .5 .3-2.1 .3 1.4 .3-2 .3 3 .3-2 .3 2.7 .3-3.7 .3-.1 .3 1.9 .3 2.7 .3-3.2 .3 2.4 .3-1.8 .3 .1 .3-3.5 .3 4.2 .3-.8 .3 .5 .3-2.3 .3 2.2 .3-1.9 .3 4.7 .3-3.5 .3 3.1 .3-.9 .4 .6 .3-.9 .3 .2 .3-.8 .3 2.8 .3-1.6 .3 1.1 .3-1.8 .3 1.7 .3-1.9 .3 2.8 .3-2.9 .3 1.2 .3-1.3 .3 1 .3-2.2 .3 3.6 .3-2.6 .3 3.9 .3-2.9 .3 3 .3-3.1 .3 2.5 .3-3.5 .3 4.7 .3-3.1 .3 3 .3-3 .3 1.8 .3-2.7" fill="none" stroke="#008000" stroke-width="1.15" stroke-linejoin="round" clip-path="url(#cR1)"/>
<path d="M404.4 98.1l .3 .5 .3-.3 .3-.1 .3 .2 .2 .5 .3 .1 .3-.1 .3 .7 .3-.2 .3 .2 .3 .2 .3-.4 .3-.6 .3 .4 .3-.4 .2 .5 .3 .2 .3-.3 .3 0 .3-.4 .3-.2 .3-.6 .3 0 .3-.5 .4-.6 .3 0 .3-.2 .3 .2 .3-.3 .3 .3 .3-.6 .3 .5 .3 .1 .2-.2 .3 .2 .3-.1 .3-1 .3 .1 .3 0 .3-.8 .3 .2 .3-.2 .3 .2 .3 .1 .2-.1 .3-.1 .3 .5 .3-.1 .3-.1 .3 1.5 .3-1.6 .3 .3 .3-.1 .2 .2 .3 1.1 .3-1.4 .3 .1 .3 .8 .3-.9 .3-.3 .3 .1 .3-.8 .3 0 .3-.6 .3-.8 .3-.4 .3 .6 .3-.2 .3 .5 .4 .2 .3 .4 .3 .3 .3 .8 .3 .8 .3 .5 .3 .8 .3 0 .3 .8 .3-.4 .3 .3 .3 .7 .3-.2 .3-.6 .4-.3 .3 1 .3 .6 .3-1.2 .3 .2 .3 6.5 .2-2.5 .3 2.6 .3-1.8 .3 3.8 .3-3.3 .2 0 .3-3.9 .3 3.9 .3-3.4 .3 3.4 .3-4.4 .4 3.7 .3-1.9 .3 4.6 .3-.4 .3 1.1 .3-4.3 .3 2.2 .3-6.2 .3 3.6 .3-2.6 .3 .9 .3-3.2 .3 3.6 .3-4.5 .3 6.7 .3-2.9 .3 5 .3-4.6 .3 7.1 .2-7 .3 3.5 .3 .9 .3 1.3 .3-4.6 .4 3.3 .3-5.5 .3 1.9 .3-5.8 .3 2.9 .3-3.1 .2 4.8 .3-6.1 .3 5.3 .3-.6 .3 6.9 .3-2.2 .4 6.3 .3-2.7 .3 3.1 .3-1.6 .3-.3 .2-2.3 .3 .8 .3-1.7 .3-.6 .3-3.1 .3-.8 .3 .3 .3-3.3 .3-2.1 .3 .1 .3-3.4 .3 1.4 .3-.4 .3 .9 .4 .1 .3 1.3 .3-.4 .3 1.2 .3-2.8 .3 .2 .2-1.9 .3-1.3 .3 6.9 .4 8.7 .3 9.5 .3-2.1 .3 0 .3 .6 .4 .2 .3 1.5 .3 0 .3 .7 .3-.2 .3 .5 .3-.2 .3 .1 .3-.4 .2 1.5 .3-1 .3 .8 .3-1.3 .3 .3 .3 .5 .3 1.5 .3-.9 .3 .9 .3-.2 .3 .3 .3 .9 .3-1.5 .3-1.1 .2 .2 .3-1.8 .3-2.4 .3-3.5 .3-4 .3-3.7 .3-3.6 .3-3.8 .3 4.3 .4 2.4 .3 5.2 .3 .2 .3 1.8 .3-.6 .3 .6 .3-.3 .3-1.4 .3 3 .3 .8 .3 .4 .4 1.3 .3-.4 .3-.5 .3 1.8 .3-2 .3-1.2 .2-1.2 .3-1.5 .3-.9 .3 .8 .3 1.1 .3 1 .4 2.2 .3 .9 .3 2.7 .3 2 .3 .5 .3-.8 .3-.8 .3 .2 .2 .8 .3-.9 .3 3.1 .3-3.2 .3 .7 .3-1.1 .3 .5 .3-.1 .3-.4 .3-.1 .4 .4 .3-.2 .3 .2 .3-.9 .3 .7 .3 .1 .3 .2 .3-.2 .3 .2 .3 .5 .2 .7 .3 .1 .3 .9 .3 .4 .3-.1 .3-.8 .3 0 .3-1 .3-.1 .2-.1 .3-.6 .3-.9 .3 .1 .3-1.1 .3 .5 .3-.9 .3 .6 .3-.7 .3-1.2 .3-3 .3 1.8 .3-2 .3 1 .3-1.4 .3-.9 .4-1 .3 .9 .3-2.2 .3-.1 .3-1 .3 .7 .3-1.8 .3-.1 .3-1.9 .3-.1 .3-.7 .3 .5 .3-.2 .3 .5 .4-.5 .3 1.4 .3-.4 .3 .8 .3-1.1 .3-.3 .3-2.3 .3 .8 .3-1 .3-1.8 .3 .5 .3-.3 .3-1.1 .3 1.4 .4 .1 .3 .7 .3-.3 .3 .5 .3 1.7 .3 3.4 .3 1.8 .3 2.3 .3 2.1 .3 1.5 .3-4.6 .3-2.2 .3-2.5 .3-2.8 .3-3.5 .3-2.4 .3-2 .2-1.2 .3-1.7 .3 1.2 .3-1.3 .3 .8 .4 1.7 .3-.4 .3-3.4 .3 .7 .3-.9 .3 3.2 .2-1.2 .3 6.3 .3-.1 .3 5 .3-1.2 .3 3.7 .3 .5 .3 5 .3-2.7 .3 2.1 .2-2.9 .3 4 .3-4 .3 .5 .3-4.9 .2 1.8 .3-5 .3 3.1 .3-3.3 .3 2.7 .3-4.2 .4 1.6 .3-3.5 .3 .8 .3-3.1 .3 2.3 .3-.8 .3 1.9 .3-7.1 .3 7.7 .3-4.8 .3 4.8 .4 1.3 .3 8 .3-3.5 .3-.5 .3-6.6 .3 .7 .3-3.7 .3 3.3 .3-1.7 .3 2.8 .3-2.8 .2 2.2 .3-1.2 .3 3.3 .3-4.9 .3 3 .3-1.9 .3 3.8 .3-1.1 .3 1.9 .3-1.4 .4 2.4 .3-4.2 .3 .5 .3-1.9 .3 1.5 .3-4.7 .4-3.8 .3-1.2 .3 .9 .3 0 .4 .4 .3 .6 .3 .1 .3-.8 .3 .9 .3-1.2 .3 .3 .3-1.6 .2 1.9 .3-1.8 .3 .1 .3-1 .3 .4 .3-1.1 .3 .5 .3-.8 .3 1 .3 2.4 .4-1.9 .3-.6 .3-.4 .3-.2 .3-.5 .3-.1 .3 .3 .3 .5 .3-.2 .3 .2 .3 2.1 .3-3.5 .3 1.2 .3-1.6 .3-1.9 .3 1.3 .3 1.1 .3-1.3 .3 1.3 .3-.8 .4 1.5 .3-.3 .3 1.6 .3-.9 .3 1.3 .3-.2 .3 .4 .3-.6 .4 0 .3-.7 .3-.4 .3 1.4 .3-1.1 .3-1 .3 .7 .3-1.3 .3-1 .3 .1 .3 2.1 .3 .4 .3 1.2 .3 .3 .3 1.1 .3 .5 .3 1.3 .3-.2 .3 .5 .3-.7 .4-.2 .3-2.1 .3 0 .3-.5 .3 .9 .3-.5 .3 .3 .3 .2 .3 .2 .3-.9 .3-2 .3 1.6 .3 .4 .3-3 .3 3 .2-1.5 .3 1.1 .3 .3 .3 1.7 .3-2.2 .3 1.5 .3-1.8 .3 0 .3-.8 .3 1.3 .3-.8 .3 1.2 .3-.4 .3-.2 .3-.3 .3 .5 .3 .3 .3 1 .3-1 .3 1.4 .3-1.5 .3-.1 .3 .1 .3 .3 .3 .3 .4 .2 .3-.4 .3 .6 .3-1.1 .3 .9 .3-.3 .3 0 .3-1.1 .3 .3 .3-.7 .3 .7 .3 .4 .3 .4 .4-.8 .3 .9 .3-1.3 .3 1.5 .3-1.9 .3 1.5 .3-.4 .3 .7 .3-.7 .3-.7 .3 0 .3 1.1 .3-1.3 .3 1.2 .3-.2 .4 1 .3-1 .3 1.7 .3-1 .3 .3 .3-.5 .3 0 .3-1 .3-.4 .3-.3 .3 .9 .3-.1 .3-.5 .4 1.5 .3 .2 .3-.7 .3 2.8 .3-1.7 .3 .8 .3-1.2 .3 1 .3-1.5 .3 .9 .3-.4 .3-.1 .3-1.9 .3 2.2 .3-1.2 .4 1.6 .3-.9 .3 .2 .3 .6 .3 .8 .3-.1 .3-1.1 .3 .7 .3 .4 .3-.7 .3 .7 .3-.9 .3 .8 .4-1.1 .3 1.9 .3-1.5 .3 .7 .3-1 .3-1.3 .3 1.9 .3 .4 .3 1.1 .3-.8 .3-.2 .3 0 .3-.3 .3 1.7 .3-.9 .4 .2 .3-1.3 .3 1.1 .3-.1 .3 .3 .3 0 .3-.3 .3 .8 .3 .2 .3-.2 .3-2.7 .3 1.8 .3-.2 .4-.1 .3 .1 .3-.4 .3 .7 .3 .4 .3 1.4 .3-1.1 .3 .2 .3-.5 .3 1.2 .3 0 .4-1.1 .3 .9 .3-1.1 .3 2.3 .3-.6 .3-.7 .3 2.9 .3-.6 .3 .1 .2-.2 .3-1.5 .3-.1 .3 0 .3 1.5 .3-1.7 .3-.7 .3 2.5 .3-4.9 .3 2.1 .3 .6 .3 .1 .3-.3 .4 .4 .3 .7 .3 .4 .3-1.6 .3 1.2 .3-.9 .3-.1 .3-1 .3 1.3 .3-.8 .3-.6 .3 .2 .3 .1 .4 .2 .3 .6 .3-.6 .3 .3 .3-2.4 .3 2.4 .3-.9 .3 .5 .3 .3 .3-1 .3 .6 .3 1.1 .4 .9 .3 .3 .3-.1 .3 .1 .3-1.3 .3 2.2 .3-.5 .3 1 .3-1.7 .3 2.7 .2-.6 .3 2.1 .3 0 .3 1.2 .3-.6 .3 .5 .3-1.5 .3 3.2 .4-5 .3 .3 .3-.8 .3-.1 .3-2.5 .3 .9 .3-.4 .3 .3 .3-.5 .3 .7 .3-.5 .3-.1 .3 .6 .3 1.4 .3-2.1 .3 .5 .3 1 .3-.2 .3 .3 .3 .3 .3 .3 .3 1.2 .2-.8 .3 .3 .3-.4 .3 .4 .3-1 .3-.4 .3 1.6 .3 .8 .3-.5 .3 1.7 .3-2.6 .3 .9 .3-1.8 .3 .5 .3 .1 .3 .4 .3-1.8 .3 1.1 .3 1.6 .3-.7 .3 0 .3-1.2 .3-.1 .3 1.5 .3-1.6 .3 .1 .3 .5 .3-1.4 .3 .2 .3 1.6 .3-.1 .3 .7 .3-.4 .3 .9 .3-.3 .3 .3 .3-.7 .3 0 .3-2.1 .3 1.8 .3 0 .3 1.2 .3-.7 .3 .1 .3 .2 .4 .5 .3-.5 .3-1.1 .3 2.2 .3 1.7 .3 1.8 .3 1.7 .3 .7 .3 2.4 .3 .6 .3 2.6 .3-2.5 .3-1.9 .2-2.1 .3-1.6 .3-2.9 .3 .7 .3 .4 .3 .6 .3-.8 .2-.6 .3-.6 .3 .2 .3-.8 .3 1 .3-.7 .3 1.9 .3-.7 .3 3 .3 .4 .2 1.5 .3 1.7 .3 .1 .3 1.1 .3 1.7 .3 .8 .3-2.3 .3-1.5 .2-2.2 .3-1.4 .3-1.4 .3-.9 .3 .1 .3-.4 .3 .4 .3-1.5 .2 .6 .3-2.9 .3 .6 .3-.9 .3-.6 .3-.4 .3 .7 .3 0 .3 2.2 .3-.4 .2-.7 .3 1.1 .3 .9 .3-1.2 .3 4.1 .3-4.3 .3 .5 .3 .4 .3 1.4 .4 0 .3-.1 .3-.4 .3 2 .3-1.7 .3 .8 .3-.5 .3-1.3 .3-2.6 .2 .7 .3-.9 .3-1.3 .3 .4 .3 .9 .3-.9 .3 2 .3-.1 .3 1.8 .3-.7 .3 .8 .2-1.3 .3 .8 .3-.7 .3 .9 .3 .8 .3-1.2 .3-1.2 .3 .1 .3-3.2 .4 3 .3-1.9 .3-1.1 .3 .8 .3 .5 .3-.4 .3 1 .3-.1 .3 1.3 .2-.7 .3 3.1 .3-.5 .3 2.1 .3-1.2 .3 1.9 .3-1.8 .3 .8 .3-2.7 .3 .7 .3-2.8 .2 .3 .3-1.4 .3 .7 .3 .7 .3-.3 .3-1.7 .3 2.3 .3-1 .3 1.4 .4-2 .3 2 .3-.7 .3 1.5 .3-1.5 .3 1.4 .3-.8 .3-.8 .3-1.2 .2 .8 .3-.6 .3 1.5 .3-1.7 .3 .9 .3-.7 .3 .8 .3-.5 .3 1 .3 .4 .2 .7 .3-1.1 .3 1.2 .3-1.5 .3 2.5 .3 .1 .3 .8 .3-1.4 .3 .6 .3-1.4 .3-.7 .3-.2 .4 .6 .3-.8 .3 .8 .3-.2 .3 1.6 .3-1.6 .3 1.1 .3-1.6 .3-3.1 .3 2 .3 4.3 .3-3.7 .3 .7 .3-.5 .3 1 .4-.2 .3 1.6 .3-.7 .3-.7 .3-1.6 .3 2 .3-.1 .3 1.5 .3-.9 .3 .7 .3-1.8 .3 .2 .3-.9 .3 1.7 .4-1.3 .3 .4 .3-.2 .3 .3 .3-.6 .3 1.1 .3-.8 .3 .3" fill="none" stroke="#0000ff" stroke-width="1.15" stroke-linejoin="round" clip-path="url(#cR1)"/>
<path d="M404.6 173.6l .3 .3 .3-.1 .3-.2 .3 0 .3-.2 .3 .4 .4-1.4 .3 1.4 .3 .3 .3-.1 .3 .9 .3-.6 .3-.1 .3-.1 .3 .4 .3-.1 .3 .9 .3-.1 .3-1.6 .3 .7 .4-.2 .3 .5 .3-1.1 .3 .3 .3-.5 .3 .4 .3 0 .3 .7 .3 .2 .3 0 .3 .1 .3-.2 .3-.9 .3 1.3 .4-.1 .3 .5 .3 .1 .3 .3 .3-.5 .3 0 .3 0 .3 .2 .3 .1 .3-1.2 .3-.6 .2-.9 .3-.8 .3-1.6 .3-.5 .3-.4 .3-.5 .3 0 .2-.8 .3-.3 .3-.7 .3 .2 .3-.6 .3-1.4 .3-1.3 .3-1.3 .2-1.3 .3-.6 .3-1.5 .3-1.6 .3 .2 .3 .4 .3-.4 .3-.1 .2 .3 .3 .1 .3 .5 .3 .1 .3-.7 .3-.1 .3 .7 .3-.2 .3 .5 .3 0 .3 .4 .3 .2 .4 .3 .3 0 .3 .2 .3-.1 .3 .2 .3-.3 .3-.3 .3-.7 .3 .4 .3-.3 .3 0 .3-.8 .3-.2 .3 1 .3-1.5 .3 .5 .3-.8 .3 1.8 .3-.1 .3 .7 .4 .7 .3 .9 .3 .5 .3-2.7 .4-2.7 .3-2.6 .3-.9 .3-.5 .3-.4 .3-.3 .3-1.2 .3 .1 .3-.6 .3 .1 .3 .5 .3-.7 .3-.7 .3-1 .3 1 .2 .6 .3 .6 .3 .4 .3 .5 .3-1.8 .4-.9 .3-.8 .3-.8 .3 .3 .4-.8 .3-.5 .3 .3 .3-.4 .3 1.9 .4 2.2 .3 2.7 .3 6.3 .3 6.3 .3-.1 .3-1.1 .3-1.3 .3-1 .3-.1 .3-1 .3-.5 .3-.3 .3 .6 .3 .5 .3 .5 .2 .3 .3 .4 .3 .5 .3 .3 .3-.6 .3-1.2 .3-.8 .4-.6 .3-.4 .3-1.6 .3 1.6 .3 1 .3 1.4 .2 .7 .3 1.1 .3 .5 .3 .4 .3 1.3 .3 3.1 .3 0 .2 1.3 .3 .9 .3 .9 .3 .5 .3 .1 .3-.6 .3-.8 .3 .4 .3 .4 .3-.9 .3-.4 .3 .5 .3 .7 .3 .3 .3-.6 .3-1.2 .4-.9 .3-.1 .3-.2 .3 .6 .3-4.2 .3-3.4 .3-2.7 .2-3.5 .3-3.2 .3-3.1 .3-3.5 .3 .7 .3 1.3 .2 1.3 .3 .6 .3 .5 .3 4 .3 4.4 .4 3.9 .3 3.9 .3 4.8 .3-1.4 .3-.5 .3-.8 .2-.7 .3 .1 .3-1 .3-.8 .3 3.2 .3 1.1 .3 2.9 .4 2.5 .3 2 .3 1.5 .3 .4 .3-.4 .3-.8 .2 .7 .3-.4 .3 0 .3 .2 .3-1.1 .3-1.3 .3-1.3 .2-1.2 .3-1.6 .3-1.5 .3-1.6 .3 .4 .3 0 .3-.2 .3 .2 .3 .4 .3 .9 .4 .1 .3 .5 .3 1.1 .3-.3 .3 .9 .3-.7 .3-.1 .3-.6 .3 .1 .3-.1 .3-.4 .3 .3 .3 .3 .3 0 .3-.1 .3 0 .3 0 .3-.5 .3-.1 .3-.7 .3-.3 .3 0 .3 .7 .3 0 .3-.8 .3-.1 .3-.3 .3-.3 .3 .6 .2-.1 .3-.6 .3-.1 .3-.1 .3 .1 .3 .5 .3 .2 .3 .4 .3-.6 .3 .4 .3-.1 .3-.2 .3-.5 .3-.4 .3 .2 .3 .7 .3 .9 .3-.9 .3-.6 .3 .2 .3 0 .3 .3 .3-.1 .3 .4 .3 .8 .3-1.4 .3-.1 .3-.6 .3-.1 .3-.5 .3 .5 .3 .4 .3-.1 .3-.7 .3 .1 .3 .3 .3 .2 .3 .1 .3 .2 .3 0 .3 .2 .2 .6 .3 .1 .3-.1 .3 .1 .3 .9 .3-.3 .3-.1 .3 .2 .3 0 .3 .1 .3 .6 .3-.3 .3 .2 .3 .2 .3-.4 .3 .3 .3-.1 .3 .1 .3 0 .2 .2 .3-.1 .3 .1 .3 .8 .3-.8 .3 .9 .3-.4 .3 1 .3-.5 .3-.6 .3 .2 .3 .6 .3 .1 .3 .2 .3 .4 .3 .2 .3-1.1 .3 .8 .3 .1 .3-.4 .3 .8 .3 .1 .3-.1 .3 .1 .3 1.1 .3 .1 .3-.4 .3 .4 .3 .7 .3-.1 .3 .6 .3-.4 .3 .1 .3 .6 .3 .4 .3 .5 .3-.2 .3 0 .3 .2 .3 .5 .3 .1 .3-.2 .3 0 .3-.3 .3 0 .3-1 .3 .2 .3 .3 .3 .4 .3-.3 .3-.2 .3 .3 .3-.2 .3 .4 .3-.2 .3-.1 .3 .3 .3-.8 .3 0 .3-.4 .3 .7 .3-.6 .3 .1 .3-.4 .3 .1 .3 .5 .3 .5 .3 .4 .3 0 .3 .2 .3 .7 .4-.1 .3-.7 .3-.1 .3 .1 .3 .1 .3 .1 .3 .6 .3 .4 .3 .2 .3 .2 .3-.7 .3-.8 .3 .6 .3-.2 .3 .1 .4 .5 .3-.1 .3 .1 .3-.7 .3 .1 .3 .1 .3-.2 .3 .8 .3-.1 .3 0 .3-.4 .3-.4 .3 .4 .3-.2 .3 0 .3 .2 .3 0 .3 .8 .3-.5 .3 .4 .3-.6 .3-.2 .3-.6 .3-1 .2-.2 .3-.1 .3-.5 .3-.4 .3-.5 .3-.3 .3-.3 .3 .3 .3 .3 .3 1 .3-.8 .3-.2 .2-.1 .3-.3 .3 .1 .3-.1 .3-.5 .3-.2 .3 .2 .3 .7 .3-.8 .3 0 .3-.8 .3-.1 .3 .5 .3 0 .3-.3 .3-1 .3 .3 .3-.2 .3-1 .3-.4 .3-.5 .3-.4 .3 .1 .3 .4 .3 .6 .3 .4 .3 .7 .3 0 .3 .2 .3 .4 .3 .9 .3 .1 .3 .2 .3 .1 .3-.1 .3 .3 .3 .2 .3-.5 .3 0 .3-.6 .3 1 .3-.7 .3-.2 .3-.1 .3-.2 .3 .3 .3 .5 .3 1.4 .3-1.1 .3-.3 .3-.6 .3 .6 .3 0 .3-.3 .3 .3 .3 .5 .3 .4 .3-.9 .3 .1 .4-.2 .3-.1 .3 .2 .3-.4 .3-.2 .3 .2 .3 .6 .3-.5 .3-.7 .3-1 .3 1.5 .4-1.7 .3-.5 .3-.1 .3-1 .3-.9 .3-1.1 .3 .5 .3 .1 .3 0 .3 .1 .3-1.6 .3 1.2 .3-.2 .3 .5 .3-.5 .3 0 .3 .7 .3 .1 .3-.1 .3 .5 .3 1.9 .3-1.4 .4-.3 .3 .1 .3 .4 .3-1.4 .3 1.3 .3-.2 .3 .2 .3 .3 .3 .4 .3 .7 .3 .2 .3-.1 .3 0 .4 .6 .3-1.1 .3 .9 .3-.5 .3 0 .3 .7 .3-.5 .3-.5 .3 .1 .3 0 .3 0 .3 .3 .3 0 .4-.3 .3-.4 .3-.8 .3 .6 .3 .2 .3 .2 .3-.5 .3-.1 .3 0 .3-.2 .3-.3 .3-.6 .3 .4 .3-.3 .3 .6 .3-.2 .3-.1 .3 .2 .3 .1 .3-.6 .2-.3 .3 .7 .3 .4 .3 .8 .3-1.1 .3-.4 .3-.3 .3 .4 .3 .2 .3 .1 .3-.3 .3 .4 .3 .1 .3-.1 .3-.2 .3-.2 .3-.9 .3-.1 .3-.1 .3 .2 .3-.1 .3 .3 .3 .3 .3 .3 .3 0 .3-.4 .3 .2 .2-.5 .3 .8 .3-.1 .3 .2 .3-.5 .3 .3 .3 .5 .3-.1 .3-.5 .3-.3 .3 .2 .3 .6 .3 .4 .3-.3 .3 .3 .3-.2 .3-.3 .3-.3 .3 0 .3 .1 .3-.3 .3 .6 .3 .8 .3-1 .3 .1 .3-.3 .3-.4 .3-.4 .3 .2 .3 .7 .3 .2 .3-.7 .3-.2 .3-.2 .3 .3 .3-.4 .3-.2 .3-.5 .3-.2 .3 .6 .3-.4 .3-.2 .3 .4 .3 .1 .3 1 .3-.4 .3-.2 .3 .6 .3-.1 .3-.2 .3-.4 .3 0 .3-.2 .3 .2 .3-.4 .3-.3 .3 .6 .3 .5 .3-.4 .3 .3 .3 .1 .3 0 .3 .1 .3 0 .3 .5 .3-.4 .3 .1 .3-.2 .3 .5 .3-.8 .3 .6 .3 .2 .3 .1 .3-.2 .2 .1 .3-.3 .3 .6 .3 .3 .3-1.1 .3 1 .3-.1 .3-.5 .3 .1 .3-.2 .3 0 .3 .3 .3 .1 .3 .4 .3 .1 .3-.1 .3 0 .3-.2 .3 .2 .3-.1 .3-.1 .3-.2 .3 .1 .3 1.2 .3-.7 .3 .4 .3-.4 .2 0 .3-.2 .3-.4 .3 .4 .3 0 .3-.1 .3 .5 .3 .3 .3 .1 .3 .2 .3 .1 .3-.1 .3 .3 .3-.1 .3 .3 .3-.4 .3-.4 .3-.4 .3 .4 .3 .6 .3 .1 .3-.4 .3-.1 .3 .4 .3-.2 .3 0 .3-.2 .2 .4 .3-.1 .3 .1 .3-.2 .3-1 .3 1.2 .3 .6 .3-.4 .3 .6 .3 0 .3 .1 .3-.3 .3 .2 .3-.1 .3-.3 .3-.1 .3-.2 .3 .1 .3 .9 .3-.5 .3 .5 .3 0 .3-.2 .3-.7 .3 0 .3-.1 .3-.4 .3 .5 .3-.5 .3 .2 .3-.1 .3-.3 .3 .1 .3 .2 .3 1 .3-.1 .3-.3 .3-.7 .3-.1 .3 .3 .3-.6 .3 .1 .3 .1 .3-.1 .3 0 .3 .1 .3-.1 .4 .2 .3 0 .3-.2 .3 .3 .3-.2 .3-.1 .3-.1 .3 0 .3-.2 .3 .3 .3 .2 .3 0 .3-.1 .3 0 .3 .4 .3-.3 .3 .3 .3 .3 .3-.3 .3 .2 .2 .9 .3 0 .3 0 .3 .3 .3 0 .3-.2 .3 .3 .3 .1 .3-.6 .3 .1 .3-.1 .3 .3 .3-.3 .3-.1 .3-.4 .3-.2 .3 .2 .3-.1 .3 .5 .3-.2 .3 .2 .3 0 .3 .1 .3 .1 .3 .4 .3-.4 .3 .4 .2-.1 .3-.1 .3 .1 .3-.2 .3 .1 .3 0 .3-.1 .3 .5 .3 .4 .3-.2 .3-.3 .3-.2 .3-.4 .3 .1 .3 0 .3 0 .3 .3 .3 .2 .3-.5 .3-.1 .3 .2 .3-.2 .3-.1 .3 .4 .3 0 .3-.2 .3 .1 .2-.2 .3-.1 .3 0 .3 .1 .3-.1 .3-.3 .3 .3 .3 .1 .3-.8 .3 .3 .3 .3 .3 0 .3 .1 .3-.2 .3 .2 .3 .3 .3-.5 .3 .3 .3 .2 .3 .2 .3-.6 .3 .4 .3-.2 .3 .8 .4-.3 .3-.7 .3-.1 .3 .4 .3 .5 .3 0 .3-.1 .3-.1 .3 .1 .3 .3 .3 .2 .3-.4 .3-.1 .3-.3 .3 .5 .3 0 .3-.4 .3 .2 .3-.1 .3 .4 .3-.7 .3 .3 .3 0 .2 0 .3 .1 .3 .3 .3 .1 .3 .2 .3 .1 .3-.3 .3-.3 .3 .3 .3-.5 .3-.5 .3 .2 .3 .2 .3 .1 .3-.2 .3-.8 .3 0 .3-.3 .3-.2 .3 .1 .3 .1 .3 .3 .3-.5 .3-.1 .3-.3 .3 .7" fill="none" stroke="#000" stroke-width="1.15" stroke-linejoin="round" clip-path="url(#cR2)"/>
<path d="M404.6 231.9l .3 .2 .3-.6 .3 .2 .3-.2 .3 .5 .3-.8 .4 .6 .3 .2 .3 .5 .3 0 .3 .1 .3 .3 .3-.3 .3 .4 .3 0 .3 .3 .3-.1 .3-.2 .3 .6 .3-.1 .3 .3 .3-.3 .3 1.1 .3-1.3 .3 .2 .3-.1 .3 .4 .3 .2 .3-.2 .3-.1 .3 .5 .3 0 .3 0 .3-.1 .3-.1 .3-.2 .3 .2 .3-.3 .3-.6 .3-.4 .3-1.2 .3 1.2 .3 .1 .3-.1 .3 0 .3 .4 .3-.6 .3-.8 .3 0 .3 .1 .3-.7 .3 .2 .3-.3 .3 0 .3-.1 .3-.3 .3-.2 .3-.8 .3-.7 .3-.9 .3-.6 .2-.8 .3-.3 .3-1 .3-.4 .3-.5 .3-.5 .3 .4 .3-.1 .3 .9 .3-.1 .3 0 .3-.6 .3 .7 .3 .5 .3 .1 .3-1 .3 1.8 .3 .3 .3 .2 .3-.4 .3-.5 .3 .3 .4-.6 .3-.1 .3-.1 .3 0 .3 0 .3 .6 .3 .8 .3-.4 .3 0 .3-.2 .3-.4 .3 1.3 .3-1.9 .3 0 .3-.6 .3-.4 .3-.6 .3 .3 .3-.1 .3-.3 .3-.4 .3-.3 .3 .1 .3-.4 .3 .2 .3-.5 .4-.7 .3-.1 .3-.1 .3-.1 .3 .3 .3-.7 .3 .1 .3 .2 .3-.1 .3-.3 .3 .2 .3 .3 .3 .2 .3 .2 .3-.1 .4 .4 .3-.6 .3 .2 .3 .3 .3 .1 .3 0 .3-.1 .3 0 .3-.2 .3 0 .3-.7 .3 .2 .3-.6 .3 0 .3-.4 .3-.2 .3 1 .3-.8 .3-.4 .3 .2 .3 .1 .3-.2 .3 .6 .3-.3 .3-.3 .3-.2 .3-.2 .3 0 .3 .3 .3-2.1 .3 .7 .3-.1 .3-.2 .3 .1 .3 0 .3-.1 .3 .2 .2 .2 .3-.4 .3 0 .3 .1 .3-2 .3 1.8 .3-.4 .3-.4 .3 .1 .3 .6 .3-.4 .3 .6 .3 .1 .3-.5 .3 .6 .3-.4 .3-.3 .3-.7 .3-.1 .3 .1 .3-.2 .2-.1 .3 1.1 .3-.4 .3-.1 .3 1.2 .3-1.2 .3-.1 .3 0 .3-.7 .3-1.7 .3 2.1 .3 .1 .3 .1 .3 .4 .3 0 .3 0 .3-.8 .3-.4 .3-.1 .3 .6 .3-.2 .3 .7 .3-.3 .4 .2 .3-1 .3 .6 .3-.7 .3-.3 .3-.5 .3 .3 .3-.3 .3 .2 .3-.1 .3 .4 .3 .3 .3 .5 .3-.8 .3-1.1 .3 2.2 .3-.6 .3-.5 .3 .2 .3 .2 .3-.2 .3-.1 .3-1.5 .3 1.7 .3 0 .3 .2 .2 0 .3-.2 .3 1.2 .3-1.6 .3 .1 .3 .5 .3-.1 .3 0 .3 .3 .3-.5 .3-.5 .3 .5 .3-.3 .3-.3 .3 .1 .3 .5 .3-.6 .3 .9 .3-.2 .3-.2 .3 0 .3 .4 .3-.5 .3-.8 .3 0 .3 .1 .4 .3 .3 .5 .3-.3 .3 .4 .3 0 .3 .3 .3 .4 .3-.8 .3 .3 .3 .4 .3-.2 .3-.3 .3 .2 .3 .4 .3-.9 .3 .5 .3-.1 .3-.2 .3-.5 .3 .1 .3 .2 .3 .4 .3 .1 .3-.8 .3 .1 .3 .6 .3-.1 .4-1.1 .3 1.2 .3 .4 .3-.1 .3-.6 .3 .1 .3-.3 .3 .2 .3 .4 .3 1.4 .3-1.3 .3-.1 .3 .2 .3 .4 .3 .1 .3 .1 .3-.3 .3 .1 .3 .5 .3 .4 .3 0 .3-.9 .3 .4 .3 .3 .3-.6 .3-.3 .3 .1 .2 .5 .3-.5 .3-.2 .3 .4 .3-.2 .3-.1 .3 .2 .3-.4 .3-.1 .3 .3 .3-.1 .3 .2 .3 .2 .3-.5 .3-.4 .3 0 .3 .4 .3 .8 .3 0 .3 .6 .3 .3 .2 .1 .3 .7 .3 .2 .3 .3 .3-.2 .3 .1 .3-.8 .3 .7 .3-.4 .3 .2 .3 .1 .3-.3 .3 .6 .3-.3 .3 0 .3-1.4 .3 1.3 .3-.2 .2 .4 .3 .3 .3 0 .3-.3 .3 .5 .3-.3 .3-.3 .3-.2 .3-.2 .3 .3 .3-.5 .3 .1 .3 .2 .3-.5 .3-.2 .3 0 .3-.1 .3 .4 .3 .2 .3-.3 .3 .5 .3 0 .3 0 .3-.8 .3 .2 .3 .4 .4 .3 .3 .3 .3-.8 .3 0 .3 1.3 .3-.9 .3-1.6 .3 1.2 .3 0 .3 .2 .3 .2 .3 .4 .3-.1 .3 .1 .3-.3 .3-.5 .3-.6 .3 0 .3-.2 .3-.1 .3 .2 .3 .1 .3 1.3 .3-1.2 .3-.2 .3-.2 .4 .8 .3-1.2 .3 2.3 .3-.2 .3 .2 .3-.4 .3 .3 .3 .1 .3-.6 .3-.4 .3 .1 .3-.4 .3 .1 .3 .6 .3-.9 .3-1.4 .3 1.8 .3 .3 .3-.3 .3 .2 .3-.1 .3-.2 .3-.3 .3 .4 .3-.2 .3-.3 .4 1 .3 0 .3-.1 .3-.4 .3-.2 .3 0 .3 .2 .3 .3 .3-.1 .3 .1 .3 .7 .3 .2 .3-.2 .3-.5 .3-.1 .3-.6 .3 .7 .3-1 .3 .6 .3 .2 .3 1 .3 .5 .3-1.2 .4 .3 .3-.3 .3-.5 .3 0 .3 .6 .3 .4 .3-.2 .3-.5 .3-.5 .3 .6 .3-.2 .3 .6 .3-.9 .3 .4 .3-1.2 .3 .6 .3 .5 .3 .3 .3 .4 .3 .3 .3 .1 .3-.2 .2-.4 .3 1.1 .3-.4 .3 0 .3 .1 .3 0 .3 0 .3-.6 .3-.3 .3-.1 .3 .1 .3 .1 .3-.8 .3-.1 .3 .1 .3 .8 .3-.4 .3 .3 .3 .2 .3 .6 .3 .2 .3-.7 .3 .2 .3 .2 .3 .1 .3-.4 .3 .3 .2-.9 .3 .5 .3-.3 .3-.4 .3 1.1 .3 .5 .3 0 .3-.5 .3-.4 .3 .6 .3-.6 .3-.1 .3-.5 .3 .4 .3-.2 .3-1.3 .3 1.1 .3 .2 .3 .2 .3 .2 .3 .5 .3 .4 .3-.3 .3-.1 .3-.4 .3-.4 .3-.1 .3 0 .4 0 .3 .4 .3 .6 .3-.2 .3-.3 .3-.3 .3-.4 .3-.1 .3 .1 .3 .1 .3-.1 .3-.6 .3-.2 .3 .7 .3-.4 .3 .4 .3 .2 .3 0 .3 1.3 .3-.2 .3-.3 .3 .2 .3-.5 .3 .4 .3 .1 .3 1.3 .3-.6 .3 .1 .3 .9 .3-.2 .3 1.4 .3-1.6 .3-.5 .3 1.1 .3-.1 .3-.1 .3-.1 .3 .2 .3 .2 .2 .6 .3-.9 .3-.8 .3 .5 .3-.2 .3-.7 .3 .1 .3 .7 .3-.2 .3 .6 .3-.6 .3-.7 .3 .1 .3 .2 .3 .1 .3 .5 .3 .1 .3-.2 .3 .4 .3 0 .3 .2 .3-.3 .3-1.2 .3 .6 .3-1.3 .3 1.3 .3-1 .2 0 .3 .5 .3 .3 .3-.2 .3 0 .3-.4 .3 .6 .3-.4 .3 0 .3 .3 .3-.1 .3-.2 .3 .3 .3-.3 .3 .7 .3-.3 .3 .9 .2 .5 .3-.6 .3 .1 .3 .8 .3 .3 .3 .1 .3-.4 .3 .5 .3-.6 .3 .2 .3-.7 .3 .1 .3-.5 .3-.5 .3-.6 .3-.1 .3 .1 .3 .9 .3-.2 .3-.2 .3-.1 .3 0 .3-.6 .3-.2 .3 .1 .3-.3 .3-.1 .3 .3 .3-.1 .3-.7 .3-.3 .3 .4 .3 .4 .4-.4 .3-.1 .3 0 .3-.4 .3-.4 .3-.2 .3 .2 .3-.1 .3 .1 .3-.3 .3-.1 .3-.2 .3 1 .3-.5 .3-.2 .3-.2 .3 0 .3-.2 .3 .3 .3 .3 .3 .4 .3-.8 .3 .8 .3-.3 .2 .1 .3-.1 .3 .7 .3-.1 .3-.3 .3-.1 .3 .4 .3 .3 .3-.5 .3 .4 .3 .6 .3-.1 .3-.2 .3-.4 .3 .5 .3-1 .3 1.1 .3 .5 .3 .8 .3-1.2 .3 .6 .3-.3 .3 .3 .3-.3 .3-.3 .3-.3 .3 0 .2-.3 .3-.3 .3-.4 .3 .2 .3-.1 .3 .1 .3 .4 .3 .3 .3-.4 .3 .3 .3-.6 .3 .7 .3-.1 .3 0 .3 .4 .3 .3 .3 .5 .3-.2 .3 .3 .3-.1 .3-.2 .3 .3 .3-.3 .3 0 .3-.3 .3 .3 .3-.2 .2 .8 .3-.3 .3 .8 .3-.2 .3 .3 .3 .3 .3-1 .3 .2 .3-.8 .3 .1 .3-.3 .3 .6 .3-.3 .3-.1 .3 .4 .3 .8 .3-.1 .3 .1 .3 .1 .3 .5 .3 1 .3 .2 .3 .2 .3-.4 .3 .4 .3 0 .3 .1 .3 .1 .3-2 .3 1.7 .3 .3 .3 .2 .3 0 .3 .6 .3-.5 .3-.3 .3 0 .3 .9 .3 .3 .3-.9 .3 .2 .3-.2 .3-.1 .3-.2 .3 .2 .3 .3 .2-.9 .3-.2 .3 .2 .3 .8 .3-.4 .3 0 .3 .9 .3-.2 .3 0 .3 .1 .3-.2 .3-.1 .3-1.6 .3-1.2 .3 0 .2-.9 .3-.5 .3-.4 .3 .1 .3-.1 .3 .2 .3-.4 .3 .1 .3-.2 .3-.1 .3-.4 .3 1 .3-.6 .3 .3 .3 .1 .4-.9 .3-.4 .3 .1 .3-.2 .3 .1 .3-.4 .3 .4 .3-.4 .3-.6 .3 0 .3-.8 .3 .3 .3-.3 .3 .4 .3 .4 .3 .1 .3 .4 .3-.4 .3 .6 .3 0 .3 0 .3-1 .3 .1 .3-.3 .3-.2 .2-.2 .3 .6 .3 .2 .3 0 .3 .7 .3 0 .3-.1 .3 .5 .3 .6 .3-.7 .3 0 .3 0 .3 .2 .3-.7 .3 1 .3 0 .3-.3 .3 1.1 .3-.1 .3 .8 .4 .5 .3-.1 .3 .2 .3-.3 .3 0 .3-.2 .3 .3 .3-.3 .3 .3 .3 .1 .3 .4 .3 .4 .3-1.2 .3 .8 .3 .1 .3 .7 .3-.7 .3 .7 .3 .2 .3 0 .2 .1 .3 .1 .3-.1 .3 .5 .3-.3 .3-.5 .3 0 .3 .2 .3 .5 .3-.2 .3 .5 .3-.8 .3 2.8 .3-1.2 .3-.5 .3-.6 .3-.4 .3 .2 .3-.5 .3 0 .3 .1 .3 .5 .3 .7 .3-1.2 .3 1.4 .3 .5 .3-.5 .3 0 .3 .2 .3-.5 .3 .2 .3 .2 .3-.3 .3-.8 .3-.2 .3 .1 .3-.2 .3 1.2 .3-1 .3 .2 .3 .3 .3 1.5 .3-1.2 .3 .5 .3-.7 .3 .5 .3-.3 .3 .8 .3-.5 .3-.8 .3 .3 .3 .9 .3 .3 .3 .2 .3 .4 .3 .7 .3-.2 .3 .3 .3-.8 .3 .3 .3-.6 .3 .4 .3-.3 .3 .6 .3-.2 .3 .9 .3-1.5 .3 .5 .3-.2 .3-.1 .3 .6 .3-.5 .3 .4" fill="none" stroke="#ff0000" stroke-width="1.15" stroke-linejoin="round" clip-path="url(#cR3)"/>
<path d="M404.6 230.1l .3-.8 .3 .3 .3 .9 .3-.5 .3 0 .3-.5 .4 .1 .3-.5 .3-.2 .3 .1 .3 .1 .3 .1 .3-.2 .3-.5 .3-.3 .3 .6 .3 .5 .3 .2 .3-.3 .3 0 .3-.1 .3-.1 .2 .3 .3 .3 .3 .2 .3 .1 .3-.5 .3-.2 .3 .3 .3 .3 .3-.3 .3 .2 .3 1 .3-.1 .3-.8 .3 .6 .3 .1 .3 .5 .3 0 .3 .1 .3 .9 .3-1.3 .3 0 .3-.4 .3 0 .3-.6 .3-.6 .3 0 .3 .8 .3-1.5 .3 .3 .3-.5 .3-.4 .3-1.1 .3-.2 .3-.3 .3-1 .2-.8 .3 .8 .3-1.3 .3-.4 .3-.5 .3-.5 .3-.6 .2-.5 .3-.8 .3-.7 .3-.9 .3-.1 .3-.1 .3 .2 .3 1.3 .2-.2 .3 .9 .3 .2 .3-.3 .3 .2 .3-.3 .3-.3 .3-.2 .3-.4 .3-.1 .3 .6 .3 .1 .3-.7 .3-.3 .3 0 .3-.9 .3 0 .3 .6 .3 1.4 .3-1.5 .3-.5 .3 0 .3-.4 .3 .2 .3-.3 .3-.2 .3 .4 .3 .8 .3-1.3 .3-.6 .3 .2 .2 .2 .3-.4 .3 .2 .3 .7 .3-1.5 .3-.1 .3 .2 .3-.2 .3 .2 .3-.1 .3-.3 .4-.4 .3 .5 .3-.6 .3-.6 .3 .4 .3-.3 .3 .7 .3 .2 .3-.4 .3 .7 .3-.6 .3-.6 .3 .3 .3-.1 .3-.1 .3 .1 .3-.2 .3 .5 .3-.5 .3-.2 .3 .8 .3 .4 .3 1.5 .2-1.6 .3-.1 .3 0 .3 .5 .3-.5 .3-.4 .3-.2 .3 .3 .3 .4 .3 0 .4 .1 .3-.5 .3-1 .3-.2 .3-.2 .3-.3 .3-.1 .3-.1 .3-.4 .3-.4 .4-.5 .3-.5 .3-.3 .3 .4 .3-1.2 .3-2.1 .3 .3 .3-.5 .3 .8 .3-1.8 .3-.3 .3 .7 .3 .6 .4 2.2 .3-.6 .3 1.2 .3 0 .3 1 .3 .5 .3 0 .3 .1 .3-1.3 .3 .3 .3 1 .3-.2 .3-.3 .3 1.2 .3 .8 .4 0 .3 .1 .3-.1 .3 1.1 .3 .5 .3-1 .3 1.7 .2 .4 .3 .4 .3-.2 .3-.1 .3-1.1 .3-1.4 .3-.9 .2 .1 .3-2.6 .3-.6 .3-.3 .3 1.7 .3 1.5 .3 .9 .2 .7 .3 1.4 .3 1.3 .3 .2 .3 .1 .3-.3 .3 .2 .2-1.3 .3 .1 .3-.9 .3-.8 .3-1 .3-1 .3-1.2 .4 0 .3-.8 .3-.9 .3-.4 .3 .1 .3 0 .3 .6 .3-.4 .3 .7 .3-.9 .3 .7 .2-.3 .3 .1 .3 .2 .3 .4 .3-.5 .3-.7 .3 2.1 .3-.4 .3-.8 .3-.2 .3-.3 .3 .4 .3 .1 .3-.4 .3 .9 .3-1.1 .3 0 .3 .5 .3 .3 .2-.3 .3 0 .3-.2 .3 0 .3 .1 .3 0 .3-.4 .3 .8 .3-.6 .3-.3 .3 .9 .3-.5 .3 .3 .3 .6 .3-.8 .3-1.6 .3 .2 .3 .7 .3-.5 .2 .6 .3 .1 .3 .2 .3-.4 .3 .3 .3 .5 .3 0 .3 .5 .3-.7 .3-.5 .3 1.4 .3-1 .3 0 .3-.8 .3 0 .3 1.5 .3-.9 .3 1.5 .3-2 .3 .5 .3-.1 .3-.8 .3-.1 .3 .6 .3 .4 .3 .1 .3 .2 .3-.7 .3 .6 .3-.2 .3-1 .3 .1 .3-.5 .3 0 .3 .2 .3-.2 .3-.3 .3-.2 .3 .1 .3-.2 .3 .1 .3 .3 .3 .3 .4 .1 .3-.2 .3 .3 .3-.2 .3-.3 .3 .1 .3-.2 .3 1.7 .3-1.4 .3 .2 .3 .3 .3-.8 .3 0 .3 .3 .3 .3 .3 .3 .3 .3 .3-.8 .3 1.4 .3 0 .3 0 .3 .5 .3 .5 .3-.3 .3 .4 .3 .2 .3 .6 .3 1.2 .3-1.3 .3-.3 .3-.1 .3-.9 .3 0 .4-.6 .3-.5 .3-.1 .3 .1 .3-.5 .3 .3 .3-.5 .3 .5 .3 .2 .3 .4 .3-.3 .3 .2 .3-.5 .4 .5 .3 .4 .3 .1 .3 0 .3-.1 .3 .3 .3 0 .3-.4 .3 .4 .3-.2 .3-.2 .3 0 .3 .2 .3-.1 .3-.2 .3 .7 .3-.5 .3 1.2 .3-1.4 .3-.8 .3 1.2 .3-.6 .3-.1 .3-.3 .3-.2 .3 .5 .4 .2 .3-.1 .3 .5 .3 .2 .3-.1 .3 0 .3-.2 .3 .4 .3-.2 .4 2.6 .3 .6 .3 .6 .3 1.3 .3 .4 .3 0 .3 .1 .3 .7 .3-.8 .3-.5 .3 .4 .3-1.8 .3 1.8 .3-.8 .3-2 .3 1.2 .3-.2 .3-.9 .3-.4 .3 .4 .3-.3 .3 .1 .3-.4 .3 .7 .3-.9 .3-.1 .3-1.1 .3-.5 .2 0 .3 0 .3-.7 .3-.6 .3 1.4 .3-2.5 .3 1.3 .3 .8 .3 1.1 .2 1.7 .3 .8 .3 .8 .3 1 .3-.7 .3 0 .3-.2 .3-.3 .3-.3 .3 .9 .3-.1 .3-.6 .3 .3 .3-.3 .3-.4 .3-.9 .3-.4 .3-.5 .3-.5 .3-.9 .3 2.1 .3-2.9 .3-1.1 .3-.9 .3 2 .3-.3 .3 .9 .4 .4 .3 .2 .3 .7 .3 1.4 .3 1.1 .3-.6 .3 .4 .3 .5 .3 0 .3-.3 .3-.3 .3 1.4 .3-1.3 .3-.4 .3 .4 .3-.2 .3-.2 .3 .3 .3-.8 .3 0 .3 .5 .3 .3 .3 .1 .3-.1 .3-.2 .3-.2 .3 .8 .3-1.7 .3 1.1 .3 .2 .3 .4 .3-.1 .3 .4 .3 .3 .3 .3 .3-.6 .3-.2 .3 .7 .3-2.3 .3 1.7 .3-.1 .3-.2 .3 .1 .3 .1 .3 .7 .3-.6 .3-.5 .3 .3 .3 .2 .3 .4 .3-.4 .3-.2 .3 .1 .3 .2 .3-.3 .4-1.9 .3 1.3 .3-.6 .3 .7 .3-.4 .3 .4 .3-.3 .3 .5 .3 0 .3-.8 .3 .2 .3 .1 .3 .1 .3-.8 .3 .5 .3 0 .3 .5 .3 .1 .3-.5 .3-.4 .3-.2 .4 0 .3-.2 .3-.3 .3 .4 .3 .3 .3-.2 .3-.4 .3 .4 .3 .6 .3-.5 .3 0 .3-.1 .3 0 .3-.3 .3 .6 .3 .6 .3 .8 .3 1.4 .3 1 .3 0 .3 .3 .3 0 .3-.4 .3-.7 .3 .2 .3 .2 .3 .4 .3-.2 .4 .1 .3-.9 .3 .2 .3-.2 .3-.7 .3-.1 .3-.5 .3 .3 .3 .2 .3-.3 .3 .1 .3 0 .3 .1 .3 0 .3-.3 .3 0 .3 .5 .3-1.3 .3 .7 .3 .4 .2-.4 .3 .5 .3 .7 .3-.8 .3 .6 .3-.4 .3-.1 .3 .2 .3-.3 .3-.5 .3-1.6 .3 .8 .3 .1 .3 0 .3-.2 .3 .3 .3 .2 .3 0 .3 .7 .3-.1 .3 .3 .3 .3 .3 .3 .3 .1 .3-.1 .3 0 .3-.3 .2-.5 .3 0 .3 .1 .3 .1 .3 .5 .3-.5 .3 .1 .3 2.4 .3-1 .3-.4 .3-.7 .3 .2 .3-.4 .3-.7 .3-.4 .3 .3 .3 .4 .3-.5 .3 .5 .3-2 .3 1.2 .3 .4 .3 .6 .3 .1 .3 .1 .3-.4 .3-.2 .3-.4 .3 .6 .3 .1 .3-.3 .3 0 .3 1.5 .3-1.5 .3-.2 .3 0 .3 .1 .3 .2 .3-.8 .3 .7 .3-.2 .3 .2 .3 .2 .3-.7 .2-.4 .3-.2 .3-.4 .3-1.1 .3-.4 .3 .5 .3-.1 .3-.5 .3 .4 .3-.6 .3 0 .3 .4 .3-.3 .3 0 .3 0 .3-.5 .3 .6 .3-.4 .3 .9 .3-1.6 .3 .2 .3 .6 .3 .1 .3 .2 .3-.1 .3 .1 .3-.1 .3-.4 .3 .3 .3-.4 .3 .4 .3 .2 .3-.8 .3 .8 .3 0 .3 .5 .3-.4 .2-.5 .3-.2 .3 .2 .3 0 .3-.3 .3 .7 .3-.1 .3-.5 .3 .3 .3 .2 .3-.1 .3 .3 .3-.1 .3-.4 .3-.2 .3-.8 .3 .1 .3 .4 .3-.6 .3 .3 .3 0 .3 .2 .3 .4 .3-.7 .3 .5 .3-.3 .3-.4 .2 .7 .3-.2 .3 .2 .3-.4 .3 .7 .3 1 .3 .1 .3 .3 .3-.1 .3 .1 .3-.3 .3-.2 .3-.3 .3-.7 .3 .4 .3-.3 .3 .4 .3 .3 .3 1.5 .3-.5 .3-.4 .3-.1 .3 1 .3-.1 .3-.4 .3-.3 .3 .5 .2-.2 .3 .4 .3 .3 .3-.3 .3 .8 .3 0 .3 .5 .3-.8 .3 .1 .3 1.2 .3-.7 .3 .6 .3-.1 .3 .2 .3-.6 .3 .1 .3-.4 .3-.9 .4-1.1 .3-.6 .3-.1 .3-.4 .3-1.4 .3-.5 .3-.1 .3-.3 .3 0 .3-.5 .3 .4 .3-.1 .3 .1 .3 0 .3 .2 .3-.8 .3-.1 .3-.3 .3 .2 .3-.5 .3-.5 .3-.6 .3-.8 .3-1.2 .3-.6 .3-.1 .3 .6 .3 .1 .3 0 .3-.4 .3 .2 .3 .7 .3 0 .3-1.5 .2 .5 .3 .1 .3-.3 .3 .1 .3 .5 .3-.6 .3 .3 .3 .5 .3 1.6 .3-1.2 .3-.8 .3-.1 .3 .1 .3 .2 .3-.2 .3 .2 .3 .5 .3 .1 .3-.1 .3-.4 .3 .8 .3 .1 .3-.1 .3 .1 .3-.2 .3 .3 .3-.1 .3 0 .3-.2 .3 .3 .3-.4 .3 0 .3-.2 .3-.5 .3 .3 .3 0 .3-.3 .3 .1 .3 0 .3 .6 .3-.7 .3-.2 .3 .4 .3 .7 .3-.5 .3-.6 .3-.1 .3-.3 .3 .5 .3 .6 .3 .3 .3 .8 .2 .8 .3 1.1 .3 0 .3 .7 .3-.3 .3-.1 .3 .5 .3 .1 .3-.6 .3 1 .3-.2 .3-.1 .3 .2 .3-.3 .3-.1 .3-.2 .3 .4 .3 .1 .3-.8 .3 .5 .3 0 .3 .3 .3-.7 .3 0 .3 .1 .3-.2 .3-.3 .3-.5 .3 .3 .3 0 .3 .8 .3-1.1 .3 .2 .3 .4 .4 .9 .3-1.3 .3 .4 .3-.6 .3-.1 .3-.1 .3 .4 .3 .3 .3-.1 .3 0 .3 .7 .3-.2 .3 1 .2-.2 .3 .6 .3 .7 .3 .3 .3 .2 .3 0 .3 .2 .3-.1 .3 .3 .3 .7 .3 0 .3-.2 .3 .3 .3-.5 .3-.3 .3 .1 .3 1.5 .3-1.9 .3 .4 .3 .3 .3 .3 .3 .8 .3-.2 .3-1.1 .3 .2 .3 .3 .3 0 .3 .2 .3 .2 .3 .9 .3-.5 .3-.2 .3 .7 .2-.5 .3 0 .3-.1 .3-.5 .3 0 .3 1 .3-.2 .3 .2 .3-.2 .3 .3" fill="none" stroke="#000" stroke-width="1.15" stroke-linejoin="round" clip-path="url(#cR3)"/>
<path d="M404.6 297.4l .3 .1 .3-.4 .3 .3 .3-.1 .3-.3 .3-.1 .3 .1 .3 .2 .3-.5 .3 .1 .3-.1 .3 .4 .3 .3 .3 .1 .3 .2 .3-.4 .3-.3 .3 .2 .3 .1 .3 0 .3 .5 .3 .3 .3 .6 .3-.7 .3 .1 .3 .6 .3 .1 .3 0 .3 .3 .3 1 .3-.9 .3-.1 .3 .5 .3-1.1 .3-.2 .3 .3 .3-.1 .3 .3 .3-.2 .3-.3 .3 .9 .3-.9 .3-.2 .3 0 .3-.6 .3-.5 .3-.9 .3-.5 .3 .1 .3-.3 .3-1 .3-.6 .3-.9 .3-.6 .3-1 .3-1.7 .3-.8 .2-1.1 .3-1 .3-1 .3-1.3 .3-.3 .3-1.1 .4-1.5 .3-.6 .3-1.1 .3 .6 .3 .9 .3-.3 .3 .4 .2 .4 .3 .5 .3 .2 .3 1 .3 0 .3 .5 .3 .5 .2 .4 .3 .1 .3 .3 .3 .5 .3-.3 .3 0 .3-.5 .2 .7 .3-.7 .3 .1 .3-.1 .3 .9 .3 .1 .3-.5 .3 .3 .3-.2 .3 1.1 .3 .8 .3 .4 .3 .6 .3-.2 .3-.1 .3-1.1 .3-.2 .4-1.2 .3 .1 .3 0 .3-2.7 .3-.7 .3-1 .2-1.5 .3-1.5 .3-1.4 .3-1 .3 .6 .3 .2 .3-.2 .3-.3 .3 .7 .3-.1 .3 .3 .3 .2 .3-.3 .3 .2 .3-.3 .3-1.6 .3 1.2 .3 .6 .2 .1 .3-.3 .3-.3 .3-.6 .3 1.2 .3-2 .3 .4 .3 1.1 .3-1 .2 1.8 .3 .3 .3 1.6 .3-2.2 .3 3.1 .3-2 .3 1.9 .2-4.2 .3 1.9 .3-3.8 .3 .1 .3-1.7 .3 2.9 .3-3.8 .3 3.9 .3-2.4 .3 1.1 .3-2.5 .3 1.7 .3-3.3 .3 3.8 .3-4.2 .3 1.5 .3-1.6 .4 2.8 .3-7 .3 6.8 .3-1.2 .3 1.8 .3-1.9 .3 1.5 .3-1.2 .3 1.2 .3-2.4 .3 1.2 .3-2.2 .3 1.3 .3-1.6 .3 1.7 .3-2.7 .3 2.4 .3-2.4 .3 2.4 .3-2.8 .3 2.8 .3-4.1 .3 2.7 .3-1.8 .3-.5 .3-1.7 .3 1.2 .3-4.8 .3 5.5 .3-1.5 .3 1.7 .3-3.3 .3 1.9 .3-1.1 .3 2.3 .3-2.5 .3 3.4 .3-2.7 .3 1.6 .3-1.2 .3 1.6 .3-2.1 .4 1.9 .3-1.4 .3 1.9 .3-1.8 .3 2.2 .3-3 .3-.1 .3-.2 .3 3 .3-2.8 .3 2.8 .3-3.4 .3-.5 .3-1.9 .3 4 .3-3.8 .3 1.1 .3-2.6 .3 2 .3-2.7 .3 3.5 .3-2.2 .3 1.1 .3-2.7 .3 4.1 .3-1.5 .4 2 .3-1.4 .3 .8 .3-.9 .3 1.2 .3-2.3 .3 1.9 .3-2 .3 .7 .3-1.6 .3 2.3 .3-.1 .3 3 .4-2 .3 2.4 .3-2.4 .3 .7 .3-2.4 .3 2.8 .3-3.9 .3 3.5 .3-2.7 .3 .6 .3-2 .3 4.4 .3-5.3 .3-.3 .3 .4 .3 2.2 .3-1 .3 1 .3-1.2 .3 4.1 .3-4.3 .3 2.3 .3-2.2 .3 2.7 .3-3.2 .3 1.9 .4-1.7 .3 1.1 .3-.2 .3-1.2 .3 2.5 .3 1.1 .3-1.6 .3 1.8 .3-.1 .3 1.2 .3-1.7 .3 1.9 .3-1.9 .3 2.3 .3-2.3 .3 .5 .3 1.1 .3-1 .3-1 .3 1.2 .3-1.1 .3 1.9 .3 .2 .3-1.4 .3-1.2 .3 3.2 .4-.6 .3-.2 .3-2.7 .3 3.2 .3-1.8 .3 1.4 .3-1 .3 .5 .3-2.8 .3 3.9 .3-6.1 .3 5.1 .3-2.5 .3 2.1 .3-1.1 .3 2.8 .3-1.2 .3 1.7 .3-1.2 .3-.7 .3 2 .3-.7 .3-1.6 .3 4.6 .3-4.7 .3 2.7 .4-5.2 .3 4 .3-3.4 .3-1.3 .3 0 .3 1.8 .3-1.6 .3 1.9 .3 .7 .3-1.4 .3 2.9 .3 1.6 .3 1.3 .3 .7 .3-2 .3 2.3 .3-3.9 .3 3 .3 .4 .3 1.7 .4 .4 .3 3.3 .3-.4 .3 2 .3-3.8 .3 3.2 .3-1.9 .3-.7 .3-1.3 .4 0 .3-.2 .3 .8 .3-1.7 .3 1.9 .3-2.6 .3 1.3 .3-.7 .3 1.4 .3 .6 .3 1.4 .3-1.6 .3 1.5 .3-2.6 .3 2.5 .3-2.1 .3 2.5 .3-2 .3 2.9 .3-1.4 .3 1.9 .3-2.2 .3 .7 .3-4.7 .3 4.4 .3-3.4 .3 1.2 .3-1.8 .3-1.3 .3 1.6 .3 3.5 .3-4.5 .3 1.8 .3-2.1 .3-.4 .3 1.1 .4 2.4 .3-1.3 .3 2.9 .3-1.7 .3 1.4 .3-3.9 .3 3 .3-4.4 .3 2.2 .4-2.8 .3 4.9 .3-6.2 .3 1.7 .3-.7 .3 1.9 .3 .1 .2 1.9 .3-.3 .3 3.2 .3 .2 .3 1.5 .3-.8 .3-.9 .3-1.3 .3 1.9 .3-3.6 .4 1 .3-2.4 .3 1.8 .3-1 .3 3.5 .3-3.5 .3 3.5 .3-.8 .3 2.3 .3-2.2 .3 1.3 .3-2 .3 3.3 .3-2.9 .3 1.5 .3-.9 .3 3.9 .3-3.8 .3 .9 .3-3 .3 1.3 .3-2 .3 3.5 .3-4.9 .3 3.9 .3-1.7 .4 2 .3-1.1 .3 1.9 .3-.8 .3 .9 .3-.9 .3 1.5 .3-3.2 .3-1.3 .3-3.6 .2-.4 .3-2.1 .3-.5 .3-3.8 .3 3 .3-1.4 .3 4.4 .2-1.4 .3 3.5 .3-.1 .3 3.5 .3-1.6 .3 2.2 .3-4 .3 1.4 .3-1.3 .2 2.5 .3-2.5 .3 1.6 .3 .4 .3-.3 .3-2.1 .3 2.7 .3-2 .3 2.9 .3-2.9 .2 1.8 .3-1.9 .3 2.4 .3-.7 .3 .3 .3 1.2 .3 2.6 .3-2.7 .3 1.2 .3-1.4 .4 1.3 .3-1.9 .3 3.1 .3-.8 .3 1.4 .3 .2 .3 .6 .3-2 .3 .7 .3-1 .3-.6 .3 2.5 .3 1.4 .4-1.1 .3 0 .3-2.5 .3 .4 .3-1.6 .3 .7 .3-1.2 .3 .6 .3 .7 .3-.6 .3-3.7 .3 3.8 .3-.8 .3 2.4 .3-.9 .3 1.5 .3-2 .4 .7 .3-1.2 .3 2.3 .3-3.3 .3 1.6 .3-1.5 .3 2.9 .3 .3 .3 1.9 .3-1.7 .3-2.1 .3 .8 .3 1.1 .3-2.2 .3 4 .3-1.4 .3 .5 .3 1.9 .3-1 .3-1.3 .3-.3 .3-1 .3 .2 .3 .6 .3 .7 .3-1.6 .3 2.8 .3-3.3 .3 1.7 .3-1.6 .3-1.4 .3-1.5 .3 .6 .2-3.2 .3 1.1 .3-3.2 .3-.5 .3 3.9 .4 3.8 .3 2.5 .3 2.7 .3-2.7 .3 1.3 .3-.3 .3 2 .3-1.6 .3 1.1 .3-2.1 .2 .8 .3-1.6 .3 1 .3 0 .3 1.2 .3-1.3 .3 1.9 .3-1.6 .3 1.5 .3-2.1 .3 1.4 .3-3.6 .3 .4 .3 .6 .3 2.4 .3-2.2 .3 1.2 .3-1.6 .3 4 .3-1.8 .3 3.6 .3-3.9 .3 1.8 .3-2.8 .3 4.4 .3-3.2 .3 .8 .3-2.6 .3 2.8 .3-1.7 .3 .8 .3-2.4 .3 .8 .3-.9 .3 .9 .3-2.8 .3 3.6 .2-1.5 .3 .4 .3-1.1 .3 2.6 .3-1.7 .3-.1 .3-2.3 .3 .3 .3-.5 .3 2.1 .3 .3 .3 1.1 .2 1.1 .3 1.1 .3 .8 .3 2.5 .3-1 .3 .2 .3-1.2 .3 .3 .3-1.3 .3 1.8 .3-3.6 .3 2.2 .2-1.2 .3 2.8 .3-.6 .3 .8 .3-.9 .3-.3 .3-.3 .3 .8 .3-.7 .3 .9 .3-.2 .3 .5 .3-1.8 .3 .8 .3-1.6 .3-.2 .2 2.1 .3-1.2 .3-1.1 .3 1 .3-.3 .3 1.1 .3-1.7 .3 1.7 .3-3.4 .3 1 .3-2.2 .3 1.4 .3-2.1 .4 .4 .3-1 .3 .2 .3-3.9 .3 3.2 .3-1.9 .3-.1 .3-1.8 .3 3.4 .3-1.2 .3 1 .3-1 .3 .5 .4-.4 .3 1.5 .3-1.5 .3 .9 .3-1.8 .3 .8 .3-1.5 .3 2.3 .3-1.7 .3 1.6 .3 0 .3 .9 .3-.6 .4-.8 .3-.9 .3 .7 .3-.1 .3 1.2 .3-.6 .3 .4 .3-1.1 .3 1.3 .3 .1 .3 2.2 .3-2 .3 2.6 .3-1 .3 .5 .3-2.2 .3 1.1 .3-1.1 .3 3.3 .3-3.5 .3 1.8 .3-1.3 .3 1.2 .3 1.5 .3-1.7 .3-.8 .3 1.2 .3-2.2 .3 3.1 .3-2.2 .3 4.1 .3-4.9 .3 1.1 .3 0 .3 1.3 .3-.2 .3-.3 .3-1.4 .3 3.1 .3-3.4 .3 2.8 .3-1.7 .3 1.2 .3-1.5 .3 2.3 .3-.3 .3 1.7 .3-2.7 .3 1.7 .3 .4 .3-.8 .3-2.1 .3-.4 .4 .9 .3 1.9 .3-.8 .3-.1 .3 1.3 .3 1.2 .3-1.4 .3 1.1 .3-1.4 .3 2.2 .3-.4 .3 .1 .3-.4 .4 2 .3-1.3 .3 2.3 .3-1.1 .3 2.2 .3-.4 .3 .2 .3-1.5 .3 4 .3-2.5 .3 1.5 .3-1.6 .3 1.8 .2 0 .3 .4 .3-.5 .3 1 .3-.2 .3 1.6 .3-1.8 .3 3.6 .3-1.7 .3 3.3 .3-5.1 .3 2.8 .3-1.7 .3 .2 .3-1.4 .3 1.2 .2-1.4 .3 2.8 .3-2.6 .3 .3 .3-2.1 .3 .8 .3 .3 .3 2.9 .3-2 .3 0 .3-3.5 .3 1.8 .2-5 .3-.1 .3-2.9 .3 .5 .3-1.6 .3 1 .3-3.9 .3 2.2 .3-2 .3 .9 .3-1 .3 1.4 .3-.8 .3 .9 .3-1.4 .3 1.6 .3-1.9 .3 .5 .3-1 .3 .1 .3-.2 .3 .3 .2-2.3 .3 1.6 .3-.5 .3-.3 .3-.9 .3 1.6 .3-1.5 .3 1.9 .3-1.4 .3 .1 .3-.8 .3 1.9 .3 0 .3 2.1 .3 1 .4-.9 .3-1.6 .3 2.6 .3-1 .3 2.2 .3-.9 .3 1.1 .3-.9 .3 1.6 .3-3.5 .3 1.3 .3-1 .3 1.1 .4-2.4 .3 .3 .3-.8 .3 .9 .3-1.6 .3 1.7 .3-1.3 .3 2 .3-.4 .3 2.3 .3-.9 .3 3.4 .3-1.4 .3 2 .3-1.1 .3 3.6 .3-.9 .3 1.8 .3-.8 .3 1.2 .3-.9 .3 .3 .3-1.7 .4 .8 .3-2.5 .3 3.3 .3-2.4 .3 1.7 .3-.8 .3 .7 .3-1.3 .3 1.2 .3-1.3 .3 1.6 .3 .1 .3 3 .3-2.5 .3 1.8 .3 .9 .3 1.5 .3-.9 .3 1.2 .3-.4 .3 .1 .3-.8 .3 3 .3-.3 .3 .9 .3-1.7 .3 .8 .3-2.6 .3 1.4 .3-1.7 .3 .3 .3-1.5 .3 .7 .3-2.1 .3 .6 .3-1.3 .3 2.2 .3-.4 .3 1.8 .3 0 .4-.7 .3-.3 .3 1.2 .3 1.1 .3 3 .3-2.6 .3 .1 .3-1.2 .3 .8 .3-1.1 .3 .8 .3-1 .3 .3 .4 0 .3-.6 .3-.5 .3 1.3 .3-.3 .3 .1 .3-1.3 .3 1.8 .3-.8 .3 .5 .3-1.6 .3 1.1 .3-1.2 .3 2.6 .3-2.5 .3 1.9 .2-1 .3 1.5 .3-.8 .3-.8 .3 1.9 .3 2.1 .3-.9 .3 2.1 .3-.8 .3 .5" fill="none" stroke="#000" stroke-width="1.15" stroke-linejoin="round" clip-path="url(#cR4)"/>
<path d="M404.6 308.8l .3 0 .3 .1 .3 .1 .3 0 .3 .2 .3 .2 .3 .1 .3 .4 .3-.8 .3-.3 .3 .3 .3-.1 .3 .5 .3 .2 .3-.3 .3-.2 .3-.2 .3 .1 .3 .1 .3 .1 .3-.1 .3 .3 .3 .1 .3-.2 .3 .2 .3 0 .3-.4 .4 .7 .3-.5 .3 .3 .3 .1 .3 .1 .3-.2 .3 .1 .3 .6 .3 .8 .3 .6 .4 .7 .3 .7 .3 .5 .3-.8 .3 .4 .4-1.4 .3-.4 .3-.5 .3 0 .3 0 .3 .3 .3-.2 .3-.3 .3 .1 .3 0 .2-1 .3 .6 .3 .2 .3 0 .3-.1 .3-.1 .3-.3 .3-.2 .3 .3 .3 .2 .3 .1 .3 .2 .3 .1 .3 .2 .3 0 .3 .1 .3 .2 .3-.1 .3-.1 .3 .5 .3 0 .3 .3 .3 .1 .3 .1 .3-.2 .3 .4 .3 .5 .4 .4 .3 .3 .3-.4 .3 .3 .3 .2 .3 0 .3 .3 .3-.7 .3 0 .3 .3 .3-.4 .3-.2 .3 .2 .3-.1 .3 .3 .3-.4 .3-.1 .3-.1 .3-.2 .3-.1 .3-.4 .3 0 .2-.3 .3 .1 .3-.3 .3 .1 .3-.2 .3 1.2 .3 1.5 .4 1.6 .3 1.3 .3 1.7 .3 .5 .3 .7 .2 1.2 .3 .7 .3 .4 .3-1.4 .3-2.3 .2-.8 .3-2.1 .3-1.8 .3-.7 .3-.6 .3-.6 .3-.8 .4-.4 .3-.6 .3-.6 .3-.9 .3 0 .3 .1 .3 .1 .3 .1 .3 0 .3 .1 .4-.2 .3 .3 .3-.4 .3-.1 .3-.1 .3 .1 .3 0 .3 0 .3 .8 .3-.3 .3 .2 .3-.3 .3 .2 .3-.3 .4 0 .3 .2 .3 .1 .3-.1 .3 .1 .3 .4 .3 0 .3-.3 .3 .4 .3-.1 .3-.1 .3-.2 .3-.1 .3-.3 .3 0 .3-.3 .3 .2 .3 0 .3 0 .3 .1 .3-.4 .3 .4 .3-.1 .3 .2 .3 0 .3-.1 .3 .7 .3-1.4 .3 .6 .3 0 .3 .1 .3 .1 .3 .3 .3-.1 .3 0 .3 .3 .3 .4 .3-.1 .3 0 .3 0 .3 .1 .3-.1 .3 1 .3 .3 .3 .2 .3 .5 .3-.2 .3 0 .3 .5 .3 .6 .3 .2 .3 .4 .3 .4 .3 .3 .3 .4 .2 .2 .3-.1 .3 .8 .3 .9 .3-.4 .3 .1 .3-.6 .3-.3 .3-.2 .2-.6 .3 .4 .3-.5 .3-.3 .3-.1 .3 .5 .3 0 .3 .4 .3 .3 .3 .5 .3 .5 .3 .6 .3 .6 .3 1 .3 1 .3 .4 .3-.1 .3 1.7 .2 .6 .3 .9 .3-.4 .3 1.1 .3 2.2 .3 2.8 .2 2.8 .3 2.5 .3 2.4 .3 2.4 .3 3 .3 2 .3 3.5 .3-1.9 .3-2.1 .4-2.3 .3-2.9 .3-1.9 .3-1.5 .3-1.1 .2-2 .3-1.5 .3-1.3 .3 1.6 .3-4.4 .3-.2 .3 .1 .2 1 .3-1.6 .3 3.1 .3-4.7 .3 .5 .3-1 .3 1.7 .3 1.6 .3-3.4 .3 1.5 .3 4 .3-5.4 .3 4.6 .3-1.9 .3 1.4 .3-.6 .3-.1 .3-.5 .3 .8 .2 .3 .3 5.4 .3-4.7 .3 0 .3-1.1 .3 6 .3-4.3 .3 1.4 .3 .8 .3 1.2 .3 .4 .3 1.2 .3 .8 .3 .5 .3-1.4 .3 .8 .3 .7 .3 5.5 .3-4.9 .3-.3 .3-.2 .3 1.5 .3 .3 .3-.3 .3 .9 .3 1.3 .3-.4 .3 3.9 .3-.3 .4 1.1 .3-.3 .3 1.6 .3 .1 .3 5.4 .3-4.9 .3 6.1 .3-4.6 .3-.7 .3-2.7 .3 1.9 .3 3.3 .3-.1 .3-.8 .3 3.7 .2 .5 .3 4.2 .3 6 .3-2 .3 4.8 .4-.8 .3 1.5 .3-1.7 .3-2.1 .2-2.5 .3-3.6 .3 2 .3-1.8 .3-4.6 .3 .8 .3-1.6 .3-2.4 .3 2.2 .3 3.7 .4 7.2 .3-1.7 .3 4.4 .3-2.2 .3 1.7 .3-6.4 .2-2.5 .3-.9 .3 2.2 .3-5.7 .3 2.8 .3 4.1 .3-.8 .2 1.2 .3 2.2 .3-1.1 .3 7.4 .3-2.8 .3-5.3 .3-2.3 .2 .2 .3-2.9 .3-1.2 .3-2.3 .3 .4 .3 3.5 .3-5.5 .3-2.1 .2 .2 .3 .5 .3-2.5 .3-1.6 .3-1.2 .3-1.2 .3-.4 .2-1.4 .3 4.2 .3-5 .3-1.9 .3 7 .3 0 .3-1.3 .2 2.7 .3-.6 .3 4.4 .3 2.3 .3 3.9 .3-8.8 .3 2.6 .2-5.2 .3-4.7 .3-8.4 .3 .6 .3 1.3 .3 .6 .3 2.1 .3-2.8 .3-.9 .2 3 .3-.9 .3-.1 .3-1.4 .3 8.7 .3-8.6 .3-1.1 .3 2.2 .2-3.6 .3-2 .3 1.4 .3-1.7 .3-.2 .3-2.3 .3 5.7 .3-4.5 .3 .6 .3 6.9 .3-2.2 .3-7.9 .3 1.2 .3-1.5 .3 2.1 .3 3.8 .3 .1 .2-1.2 .3 7.1 .3 1.6 .3 2.6 .3-7.2 .3-.5 .4-1.1 .3 .3 .3-2.5 .3-.1 .3-.4 .3 2.2 .3 3.8 .2 1 .3-1.9 .3 2.9 .3 .8 .3 .6 .3-2.8 .3 1 .2-2.8 .3 4.1 .3-9.1 .3 1.3 .3-3.5 .3 3.8 .3-5.4 .2 2.2 .3-2.7 .3 1.4 .3 3.3 .3-2.4 .3-2.1 .3 2.9 .3-2.2 .3 2.4 .2 0 .3 1.7 .3-1 .3 .6 .3-.5 .3 1.7 .3-1.2 .3 4.6 .3-5.1 .4 1.3 .3-1.1 .3 1.1 .3 .6 .3-3.3 .3 2.2 .3-.5 .3-5.3 .3-.6 .3-1.9 .3 2.1 .3-2.7 .3-.2 .3-.5 .3-1.2 .3 1.4 .3-.3 .4-.3 .3 .1 .3-1 .3 1.3 .3-2.3 .3-.6 .3-.7 .3 .2 .3 .3 .3-.3 .3 1 .3-.3 .3-.3 .4 .1 .3-.7 .3 .1 .3 .2 .3-.3 .3-.8 .3-.4 .3 0 .3 0 .3-.5 .3-1.1 .3 1.7 .3 .3 .4 .2 .3 .4 .3 .4 .3-.1 .3-.4 .3-.4 .3-.2 .3-.2 .3-.2 .3-.2 .3 .3 .3 .5 .3-.1 .2 1 .3-.9 .3-.6 .3 .4 .3 0 .3 0 .3 .1 .3-.2 .3 .3 .3 .4 .3-.1 .3-.2 .3 .1 .3-.1 .4 .4 .3 .4 .3 0 .3 2 .3-1 .3 .2 .3 .2 .3 .3 .3 .4 .3 .2 .3 .6 .3 .2 .3 .5 .3 .2 .3-.2 .3 .1 .3 .1 .3 .2 .3 0 .3-.4 .3-.3 .3-.1 .3-.9 .3 .3 .3-.1 .3-.4 .3-.4 .3-.7 .3-.6 .3-.2 .3-.3 .3 .1 .3 .1 .4-.4 .3-.1 .3 .1 .3-.3 .3-.2 .3 .2 .3-.9 .3-.4 .3-.2 .3 .2 .3-.2 .3-.3 .3 0 .4-.1 .3-.3 .3 .2 .3 .1 .3-.4 .3-.6 .3 .2 .3-.2 .3-.1 .3 .7 .3-.1 .3-.3 .3-.2 .3 0 .3-.3 .3 .4 .3-.9 .3 .5 .3 0 .3 .1 .3-.2 .3-.4 .3-.4 .3 .2 .3-.3 .3 .1 .3-.1 .3-.9 .3 1 .3-.2 .3 .8 .3 0 .3 1 .3-1 .3-.3 .3 .3 .3 .1 .3-.1 .3-.1 .3 .3 .2-.5 .3 0 .3-.1 .3-.3 .3 .3 .3 .3 .3 .2 .3-.2 .3-.2 .3 1.1 .3-.7 .3-.3 .3 .2 .3 0 .3-.1 .3-.4 .3 .4 .3-.4 .3-.9 .3 .8 .3 .2 .3 .1 .3 .1 .4-.3 .3-.1 .3-.3 .3 .4 .3 .2 .3-.1 .3-.2 .3 0 .3 .1 .3 0 .3-.1 .3 2.7 .4 2.3 .3 2.3 .3-.1 .3 .4 .3 .6 .3 1 .2 .7 .3 .7 .3 .6 .3 .6 .3 .6 .3-1.4 .3-.3 .3-.1 .3-.4 .3 .1 .3-.8 .3-1.2 .3-.4 .3-.2 .3-.8 .3 .1 .3-.1 .3 .2 .3-.4 .3-.9 .3 .3 .3-.4 .3-.9 .3-.5 .3-.6 .3 .8 .3-1.2 .3-.2 .3 0 .3-.6 .3-.5 .3-.6 .3-.3 .3-.3 .3 0 .3-.2 .3 .1 .3-.4 .3 .3 .3 .3 .3 .1 .3-.4 .3-.2 .3-.2 .3-.3 .3 0 .3-.1 .3 .3 .3 0 .3 .2 .3-.1 .3-.3 .3 0 .3 0 .3 .6 .3-.3 .3 0 .3 0 .3-.1 .3 .2 .3 .4 .3 0 .3-.3 .3 .1 .3 .5 .3 0 .2-.1 .3-.2 .3-.5 .3 .1 .3-.1 .3 .2 .3 .1 .3 .3 .3 .1 .3-.1 .3-.2 .3-.1 .3 0 .3 .1 .3 .3 .3-.3 .3 .3 .3-.3 .3 .2 .3-.2 .3 .1 .3 .3 .3-.2 .3 0 .3 .2 .3-.1 .3 .1 .3 0 .3 .2 .3-.6 .3 .1 .3-.2 .3-.1 .3-.2 .3 .1 .3 0 .3 .2 .3 .1 .3 .1 .3-.3 .3-.2 .3 .1 .3 .1 .3 0 .3-.2 .3 0 .3 .1 .3 .2 .3 .1 .3-.1 .3 .2 .3-.2 .3 .3 .3-.2 .2-.2 .3 .4 .3-.2 .3 .3 .3 .2 .3-.3 .3 .2 .3 .1 .3 .2 .3-.2 .3 .2 .3-.2 .3-.2 .3-1.2 .3 2.1 .4 1.1 .3 .8 .3-.4 .3 .4 .3-.6 .3-.2 .3-.5 .3-1.3 .3 .9 .3 0 .3-.2 .3-.4 .3-.3 .3 0 .3 .4 .3-.8 .3 .6 .3 0 .3-.3 .3 .2 .3 .2 .3 .5 .3 0 .3 .1 .3 0 .2-.1 .3-.2 .3-.1 .3 0 .3 .3 .3-.1 .3-.2 .3 .1 .3 0 .3-.3 .3-.1 .3 .1 .3 .2 .3-.2 .3 0 .3-.1 .3-.1 .3 0 .3-.3 .3-.1 .4-.1 .3-.1 .3 0 .3 0 .3-.2 .3 .2 .3-.4 .3 .3 .3-.4 .3 .4 .3-.1 .3 .1 .3 1 .4 0 .3-.2 .3-.2 .3 .3 .3 .2 .3 0 .3-.2 .3-.1 .3-.1 .3 .1 .3-.1 .3 0 .3-.8 .3 1.2 .3 0 .3-1.2 .3 .5 .3-.2 .3 0 .3-.3 .3-.1 .3 0 .3-.2 .3 .4 .3-.9 .3 1.2 .3 0 .3-.1 .3 .9 .3-1.3 .3 0 .3 0 .3-.5 .3 .2 .3 .1 .3 0 .3 .4 .3-.3 .3 .5 .3-.1 .3-1.1 .3 1.2 .3-.1 .3-.2 .3 0 .3-.3 .3 .8 .2-.3 .3 .2 .3-.3 .3 0 .3 .3 .3 .3 .3-.2 .3-.3 .3 .2 .3-.2 .3 0 .3 .1 .3-1 .3 .9 .3 .1 .3 0 .3-.3 .3 .1 .3-.9 .3 1.1 .3-.1 .3-.2 .3 .5 .2 .3 .3-1.2 .3 1.1 .3-.1 .3 .2 .3-.5 .3 0 .3 .3 .3 .1 .3-.1" fill="none" stroke="#ff0000" stroke-width="0.95" stroke-linejoin="round" clip-path="url(#cR5)"/>
<path d="M404.6 316.2l .3 .8 .3-.2 .3 .2 .3-.1 .3 .1 .3-.4 .4 0 .3 0 .3-.1 .3 .1 .3-.2 .3 .1 .3-.3 .3-.3 .3-.1 .3 .2 .3 0 .3 .2 .3-.2 .3-.1 .3 .1 .3 0 .3 .2 .3-.2 .3 .4 .3 .1 .3-.2 .3-.1 .3 .1 .3-.1 .3-.2 .3 .2 .3 .2 .3 0 .3 .2 .3-.1 .3 0 .3-.2 .3 .5 .3 .2 .3-.1 .3-.3 .3 .2 .2 0 .3-.3 .3 .2 .3 .1 .3 .2 .3 0 .3-.1 .3 0 .3-.1 .3 .1 .3 .1 .3-.4 .3-.2 .3-.1 .3-.3 .3-.4 .3-.4 .4-.4 .3-.6 .3 .3 .3-.2 .3-.7 .3 .7 .3-.2 .3-.1 .3-.3 .3 .1 .3-.1 .3-.2 .3-.2 .3 .5 .3-.4 .3 0 .3 .4 .2-.9 .3 0 .3 .2 .3-.3 .3 0 .3-.3 .3-.2 .3-.2 .3 .1 .3-.3 .3 .1 .3 .3 .3-.5 .3 0 .3-.2 .3 0 .3-.1 .3-.3 .3 .1 .2-.1 .3-.1 .3-.2 .3 0 .3 0 .3-.1 .3-.1 .3 0 .3 0 .3-.3 .3-.1 .3-.2 .3 0 .3-.1 .3 .1 .3-.2 .3 .1 .3-.2 .3-.2 .3 .1 .3 .1 .3 0 .3-.3 .3 .1 .3-.1 .3 .1 .3-.5 .3 .2 .3 .8 .3-.9 .3-.3 .3 .3 .3 0 .3-.3 .3 .1 .2 0 .3-.3 .3 .1 .3 .3 .3-.1 .3-.2 .3 .6 .3 .3 .3 .5 .3 .6 .3 .5 .3 .9 .3 .4 .3 .6 .3 .4 .3 .5 .3-.3 .3-.3 .3-.3 .3 .4 .3-.8 .3-1.3 .3 .9 .3-.3 .3-.2 .3-.4 .3 .1 .3 .4 .3-.8 .3 0 .3-.1 .3-.3 .3 .3 .3-.3 .3 .1 .3-.1 .3-.1 .3 .1 .3 .1 .3 0 .3-.2 .3-.1 .3 0 .3-.1 .3-.1 .3 0 .3-.4 .3 .8 .3-.1 .3-.2 .3-.1 .3-.3 .3 .2 .3-.1 .3-.2 .3 1 .3-1.1 .3-.4 .3 0 .2-.1 .3-.1 .3-.1 .3-.3 .3-.1 .3-.9 .3 .4 .3-.2 .3-.1 .3 0 .3 .2 .3-.2 .3 0 .2-.1 .3-.2 .3-.1 .3-.1 .3 1.4 .3 .3 .3-.3 .3 .1 .3 .4 .3 .2 .3 .4 .3 .2 .3 .2 .3 .1 .3 1.1 .3 1 .3 .7 .4 .9 .3 1.2 .3 .6 .3 1.6 .3 1.5 .2 1.3 .3 1 .3 1.4 .3-.8 .3 .6 .3-.2 .3 .1 .2-.9 .3 .7 .3 0 .3-.4 .3 0 .3-.3 .3-.1 .3-.1 .3 0 .3-.2 .3 0 .3-.1 .3 .1 .3-.1 .3-.5 .3-.1 .3 .1 .3-.1 .3 .2 .3-.1 .3 .2 .3-.2 .3 .1 .3-.1 .3-.1 .3 .3 .3 .2 .3-.2 .3-.2 .3 0 .3-1 .3 1.6 .3-.6 .3-.5 .4-.3 .3 .1 .3 .3 .3-.3 .3-.2 .3 0 .3 0 .3 .1 .3 0 .3 .3 .3 .2 .3 .3 .3-.4 .3 .9 .3 .1 .3 .5 .3 .3 .3 .2 .3 .5 .3 .4 .3 .3 .3 .2 .3 0 .3 .3 .3 0 .3 .3 .3 .1 .3 .4 .3 .2 .4 0 .3 .1 .3 .3 .3 .1 .3 .5 .3-.4 .3 .7 .3 .1 .3 .4 .3 0 .3 0 .3 .1 .3 .3 .3 .1 .3 .4 .3-.1 .3 .3 .3-.2 .3 .2 .3 0 .4 .2 .3 .3 .3 0 .3 .1 .3-1 .3 .9 .3 .2 .3 .3 .3 .2 .3-.1 .3 .1 .3 .4 .3 .7 .2 .2 .3 .5 .3 .2 .3 .6 .3-.6 .3 .3 .3-.8 .3-.1 .3-.2 .3-.2 .3-.1 .4-.4 .3 0 .3-.4 .3 .2 .3-.1 .3-.2 .3-.7 .3-.5 .3-.1 .3 .4 .3 .2 .3 .1 .3 .3 .3 .3 .3 .1 .3 .1 .3 .3 .2 .6 .3 .2 .3 .1 .3-.3 .3 .7 .3 .4 .3 .4 .3 .1 .3 0 .3 .1 .3-.8 .3 .7 .3-.1 .3-.1 .3 0 .3 .1 .3-.1 .3-.1 .3-.3 .2-.4 .3-.1 .3 0 .3 .2 .3 0 .3-.1 .3-.1 .3 0 .3 .2 .3-.1 .3-.2 .3-.4 .3 .7 .3 .2 .3-.2 .3 .2 .3 0 .3 .2 .3 0 .3 .3 .2 .2 .3-.1 .3 .1 .3 .1 .3-.1 .3-.1 .3-.1 .3 .1 .3 .1 .3 .1 .3 .3 .3 .2 .3 0 .3 .1 .3 .4 .3-.2 .3 .3 .3 0 .3 0 .3 .1 .3 .1 .3 .3 .3 0 .3 .1 .3-.1 .3 .1 .3 0 .3 0 .3 .3 .3 .1 .3 .2 .3 .6 .3-.7 .3 .1 .3 .1 .3 .2 .3 0 .3 .1 .3 .1 .3-.2 .2 1.1 .3-1.3 .3 .3 .3 .1 .3-.1 .3 .2 .3 .1 .3-.1 .3 .3 .3 .1 .3 0 .3-.1 .3 .1 .3-.1 .3 0 .3-.1 .3-.1 .3-.1 .3 .2 .4 0 .3-.7 .3 .9 .3-.1 .3 .1 .3-1.3 .3 .8 .3-.1 .3 .4 .3 0 .3 .3 .3-.2 .2 .4 .3 0 .3 .4 .3 .1 .3 0 .3 0 .3 .1 .3-.4 .3-.5 .3 0 .3 0 .3-.4 .3 .2 .3-.2 .3-.4 .3-.1 .3-.3 .3 .1 .3-.3 .3-.5 .3 .1 .3 0 .3-.1 .3-.2 .3-.1 .3-.2 .3 .1 .3-.1 .3 .7 .3-.7 .3 0 .3 0 .3 0 .3-.4 .3-.2 .3-.2 .3 .1 .2 0 .3-.1 .3 0 .3 0 .3-1.1 .3 .9 .3-.3 .3 .8 .3-.9 .3 .7 .3-.8 .3 0 .3 .3 .3-.2 .3 0 .3-.3 .3 0 .3-.1 .3 .1 .3-.3 .3-.1 .3 .1 .3-.6 .3 0 .3-.3 .3 0 .3-.3 .3-.1 .3-.1 .3 .1 .3-.3 .3-.1 .3 0 .3 .1 .3-.3 .3 .2 .3-.1 .3-.5 .3-.4 .3 0 .3 0 .3 0 .3-.1 .3 0 .3-.3 .3-.1 .3 .2 .3 0 .3-.3 .2-.4 .3 .7 .3-.8 .3 0 .3-.2 .3 .2 .3-.3 .3-.2 .3-.4 .3 .1 .3 .5 .3 .1 .3 0 .3-.7 .3 1.2 .3 0 .3 .1 .3-.1 .3 .4 .3-.2 .3-.2 .3-.1 .3-.1 .3-.4 .3-.3 .4-.2 .3-.4 .3 0 .3-.5 .3 .2 .3-.2 .3-.3 .3-.2 .3 .1 .3 0 .3 .3 .3-.8 .3 .5 .3 .2 .3-.1 .3-.2 .3 0 .3-.1 .3 1.1 .3-1 .2-.3 .3 .3 .3 0 .3 .2 .3-1 .3 .5 .3-.1 .3 .1 .3 .1 .3-.2 .3 .9 .3-.8 .3-.2 .3-.2 .3 0 .3 .2 .3 .1 .3 .1 .3 .1 .3-.3 .3 .1 .3-.2 .3 .1 .3 .1 .3 0 .3 .2 .3 .1 .2-.1 .3 .2 .3 .2 .3 0 .3-.1 .3 0 .3 .3 .3-.1 .3-.3 .3-.3 .3 .2 .3 .3 .3-1.1 .3 1 .3-.4 .3 0 .3 0 .3-.2 .3 0 .3-.3 .3-.2 .3 .2 .3-.2 .3-.1 .3-.1 .3-.1 .3 .2 .3-.2 .3 .1 .3 .1 .3-.3 .3 0 .3-.4 .3-.3 .3 .1 .3-.5 .3 .1 .3 .1 .3 0 .3-.4 .3-.4 .3 .5 .3 .2 .3 .3 .3 .2 .3 .5 .3 .6 .3 .1 .3 .3 .3 .2 .3 .3 .3 0 .3-.1 .3-.1 .3-.1 .3-.1 .3 0 .3-.9 .3 .8 .2-.2 .3 .3 .3 0 .3-.1 .3-.1 .3 .1 .3-.2 .3 .2 .3-.2 .3 0 .3-.2 .3 0 .3-.1 .3-.2 .3-.4 .3-.1 .3 .1 .3 0 .3 0 .3 0 .3-.2 .3 .1 .3-.1 .3-.7 .3-.1 .3 0 .3-.2 .3 0 .3-.1 .3-.2 .3 .1 .3 .1 .3-.3 .3 0 .3-.1 .3 .2 .3-.4 .3-.3 .3 .4 .3-.3 .3-.4 .3 .6 .3-.9 .3 .3 .3-.3 .3-.1 .3-.1 .3-.2 .3-.2 .3 .1 .3 .2 .3 .1 .3 .1 .3 .1 .3-.2 .3 0 .3 .1 .3 0 .3-.1 .3 0 .3 0 .3 0 .2 .1 .3-.7 .3 1 .3 .3 .3 0 .3 .1 .3-.1 .3 .1 .3 0 .3-.3 .3 0 .3 .1 .3 0 .3 0 .3 0 .3 0 .3-.2 .3-.1 .3 .3 .3-.2 .3-.2 .3-.1 .3 .2 .3-.1 .3 0 .3-.4 .3 .2 .3 .2 .3-.5 .3 .1 .3-1.1 .3 1.2 .3 .1 .3-.1 .3 0 .3-.4 .3 0 .3 0 .3 0 .3 0 .3 .3 .3 0 .3-.2 .3-.1 .3 0 .3 0 .3 0 .3-.1 .3 .1 .3-.1 .3 .3 .3 .2 .3-.7 .3 1 .3-1.2 .3 1.3 .3 .1 .3-.2 .3 .2 .3-.1 .3-.1 .3 .2 .3-.1 .3 .3 .3-.6 .3-.1 .3-.1 .3 .1 .3 0 .3 .4 .3 .2 .3 .1 .3 0 .3-.1 .3 .1 .3-.1 .3 0 .3 .2 .3-.1 .3-.1 .3-.1 .3 .5 .3-.1 .3 0 .3 .2 .3-.2 .3 .2 .3-.1 .3-.6 .3 1 .3-.1 .3 .2 .3 .1 .3-.3 .2 .2 .3 0 .3-.1 .3 .3 .3-.1 .3 .2 .3-.4 .3-.1 .3-.3 .3 0 .3 .2 .3 .2 .3-.6 .3 .7 .3 .2 .3 .2 .3 .2 .3 .1 .3-.1 .3-.3 .3 .2 .3 .1 .3 .1 .3-.1 .3-.2 .3-.1 .3 .1 .2 .1 .3-.1 .3 .5 .3 .1 .3 .2 .3 .7 .3-.8 .3 .3 .3-.1 .3-.3 .3 .2 .3 .2 .3 .2 .3 .1 .3-.2 .3-.2 .3 .2 .3-.1 .3-.2 .3-.2 .3-.2 .3 .2 .3-.1 .3 .1 .3 .2 .3-.1 .3-.2 .3-.2 .3 0 .3-.8 .3 .7 .3 0 .3-.2 .3-.3 .3-.1 .3 0 .3-.2 .3-.2 .3 .2 .3 .2 .3 0 .3-.1 .3 0 .3-.1 .3 0 .3 .5 .3 0 .3-.9 .3 .4 .3-.2 .3-.3 .3 .1 .3 .1 .3 0 .3 .3 .3-.2 .3 0 .3 0 .3-.5 .3 .8 .3-.2 .3 .1 .3-.2 .3 0 .3 .1 .3-.2 .3 .1 .3-.1 .3 0 .3-.1 .3 0 .3 0 .3 .1" fill="none" stroke="#000" stroke-width="1.0" stroke-linejoin="round" clip-path="url(#cR5)"/>
<path d="M404.6 392l .3-.1 .3 .4 .3 .2 .3-.4 .3 .2 .3 .5 .3-.4 .3 .4 .3 .5 .3-.5 .3 0 .3 .3 .2 .2 .3 0 .3-.2 .3 0 .3 .1 .3-.3 .3-.1 .3 .4 .3-1.2 .3 1.1 .3 .3 .3-.3 .3 0 .3-.4 .3 .1 .3-.6 .3 0 .3-.1 .3-.1 .3-.7 .3 0 .3-.4 .3 .1 .3 .1 .3-.1 .3-.5 .3-.1 .3-.1 .3 .3 .3 .4 .3 .8 .3-.2 .2 .1 .3 .1 .3 .4 .3 .4 .3 1.8 .4 2 .3 1.9 .3 1 .3 .3 .3 .9 .2-.2 .3 1.1 .3-.5 .3 1.6 .3 .3 .3 1.7 .3 .3 .2 .8 .3 1.4 .3-.1 .3 1.6 .3 .2 .3-.4 .3 .5 .3 .2 .2-.4 .3-.5 .3 .2 .3 .1 .3-.2 .3 .3 .3 .3 .3-.3 .3-.7 .3 .1 .3-.3 .3 .2 .3 .1 .3-.7 .3-.3 .3-.5 .3-.1 .3 .2 .3-.9 .2-.2 .3-.7 .3-.5 .3-.9 .3 .8 .3 .4 .3 .5 .3 .4 .3-.5 .2 0 .3 .6 .3 .8 .3-.2 .3-.3 .3 1.2 .3 .6 .3 .3 .2 .8 .3 .1 .3 1.3 .3 .4 .3-.6 .3 .1 .3-.2 .3 1.2 .3-.6 .3 .5 .3 .5 .3 .5 .3-.6 .3 .1 .3-.4 .3 .4 .3-.1 .3 .2 .3 1.1 .3 0 .3-.5 .3 0 .3 .7 .3 .5 .3 .2 .3-.3 .3 .2 .3-.2 .2 .3 .3-.2 .3 0 .3 .3 .3-1.9 .3-2.4 .3-2.2 .3-1.8 .3 .2 .3-.1 .3-.2 .3 .6 .3-.3 .3 0 .3 0 .3 .8 .3-.2 .3 .6 .3-.5 .3-.3 .3 1 .3 .1 .3-.6 .3-.4 .3-.6 .3-.2 .3-.9 .3 .4 .3 0 .3 .1 .3-1.2 .3 .2 .3-.5 .3-1.7 .3 .2 .3-.9 .3-.9 .3-.7 .3-.7 .3 .7 .3 .7 .3 1.1 .3 .4 .3 .2 .3 .9 .3 .3 .3 .3 .3 .6 .3-.2 .3 .4 .3-.4 .3 .3 .3-.1 .2-1.6 .3 1 .3 .4 .3-.9 .3 0 .3-.5 .3 1.2 .3 1.6 .3 2.6 .2 1.3 .3 1.6 .3 1.3 .3 .8 .3 0 .3 .5 .3 .4 .3-.4 .3 .5 .3 1.3 .3-.3 .3 1 .3 .2 .3 .2 .3-.4 .3-.3 .3 .9 .2-2 .3 .2 .3 .2 .3-.9 .3-1.2 .3-.9 .3-1.5 .3-1.7 .3-.9 .2-.5 .3-.7 .3-1 .3-2.2 .3-1.8 .3 1.1 .3-.6 .3 .7 .3 1.5 .3-.6 .3 .4 .3-.3 .3 .3 .3 1 .3-.4 .3-1.3 .3 .5 .3-.4 .2 .1 .3 .2 .3-.5 .3 .3 .3-.6 .3 1.1 .3 .4 .3 .6 .3 .2 .3 .6 .3-1.3 .3 2.2 .3-.7 .3 1.2 .3 .4 .3 .8 .3-.3 .3-.4 .3 .1 .3 1.4 .3 .2 .3 .8 .3-.6 .4 0 .3 .8 .3 .4 .3 1 .3 .1 .3-.4 .3 .4 .3 .8 .3 .6 .3-.3 .3 .2 .3 1 .3-.4 .3-.1 .3 1.1 .3-.1 .3 .9 .3 .6 .3 0 .3 1.2 .3-1.1 .3 .4 .3 .1 .3-.1 .3-.1 .3-.4 .4 .5 .3 .1 .3 .4 .3 .2 .3-.3 .3-.2 .3-.4 .3 .8 .3 .3 .3 .1 .3-.5 .3 .5 .3-.4 .4 .1 .3 .7 .3 0 .3 0 .3-.4 .3 .2 .3 .3 .3-.6 .3 .4 .3-.6 .3-.3 .3 .2 .3 .6 .3 .7 .3-.1 .3 .1 .3-.2 .3 .1 .3 .5 .3-.1 .3-2 .3 0 .3-.7 .3 0 .3 .7 .3-.1 .3-.7 .3-.2 .3-.3 .3 .1 .3-2.4 .3-1 .2-2.3 .3-.9 .3-1.2 .3 .5 .3 1.3 .3 1.4 .4 1.3 .3 1.2 .3 .9 .3 .1 .3 .4 .3-1.2 .3 1.4 .3-.6 .3-.7 .3 .5 .3 .7 .3-.2 .3 .1 .3 0 .3 0 .3-.4 .3-.9 .3-.6 .3-.5 .3-1 .3-.2 .3-.9 .3-.5 .3-1.1 .3-.6 .3-.6 .3-.3 .3-.3 .3-.2 .2 0 .3-1 .3 .3 .3-.2 .3-.3 .3-.1 .3-1.1 .3 1.2 .3 .9 .3 .9 .3 0 .3 .4 .4 .1 .3 .7 .3-1.6 .3 2.1 .3 0 .3 0 .3 1 .3-1.9 .3-.1 .3-1.1 .3-.3 .3-.8 .3-.5 .3 .4 .3-.2 .3-1.2 .3-.5 .3 .9 .3-.7 .3-.9 .3-1.2 .3-.9 .3 .1 .3-.3 .3-.6 .3-.6 .3-.5 .3-.9 .3-.5 .3-.2 .3-.2 .3-.4 .3 .1 .3-.9 .3-.6 .3 .1 .4 1.2 .3-.6 .3 .1 .3 .1 .3-.8 .3-.9 .3-.2 .3-.4 .3-.2 .3-.2 .3 .3 .3-.3 .3-.1 .3-.9 .3-.3 .3 .5 .3-.6 .3-.6 .3-1.7 .3 0 .3-.2 .3 0 .3 .4 .3 .9 .3 .2 .3 1.2 .3 .9 .3 .2 .3 .9 .3 .2 .3 2.6 .3 2.9 .4 3.8 .3 3 .3 2.9 .3-2.4 .3-2.9 .2-3.3 .3-3.4 .3-2.5 .3 0 .3-.5 .3 .7 .4-.3 .3-.3 .3 .2 .3 .2 .3 .3 .3 .3 .3 .9 .3-.1 .3 .4 .3-.4 .3 .3 .4 .3 .3 .6 .3-.1 .3 .8 .3 .5 .3 .1 .3-.8 .3-1 .3-.9 .3 1.2 .3-1.3 .3 .9 .3 .1 .4-.6 .3 .4 .3 .3 .3-.2 .3 .4 .3-1.1 .3-.2 .3 .6 .3 .1 .3-.5 .3-.7 .3 1.1 .3-.2 .3-.2 .3-.1 .3 .2 .3 0 .3 .4 .3-.6 .3-.2 .3-.8 .3 .6 .3-.4 .3-.1 .3 0 .3-.4 .3-.1 .3 .7 .3-.4 .3 .2 .3 1.5 .3 .4 .3 0 .3 .3 .3 .3 .3 .7 .3-.4 .3 1.3 .3 1 .3 0 .3 0 .3-.1 .3 1.4 .3 .6 .3-.1 .3 .2 .3-.1 .3-.9 .3 0 .3 0 .3-.4 .3-.4 .3-.6 .3-.7 .3 .9 .3 .5 .3 .4 .3 1.3 .3 1 .3 0 .3 1.6 .3 .7 .3-1.1 .3-.9 .3-.5 .3-.8 .2-.5 .3-.9 .3-.8 .3-1.3 .3-.3 .3-.3 .3 .1 .3 1.4 .3-.6 .3-2.1 .3 0 .3 .2 .3-.1 .3-1 .3 0 .3 .4 .3 .1 .3 .4 .3 .2 .3-.1 .3 1 .3-.1 .3-.3 .3-.2 .3 .4 .3-.1 .3 .3 .3-.2 .3 .5 .3 .8 .3-.2 .3-.2 .3-.3 .3 1.8 .3-1.4 .3-.3 .4 0 .3 .5 .3-.3 .3 .1 .3-.1 .3 .1 .3-.1 .3 .4 .3-.2 .3-.4 .3-.1 .3-.2 .3-.6 .3 1.4 .3-.9 .3 .6 .3-.4 .3 .4 .3 0 .3-.6 .3 .4 .3 .2 .3 .5 .3 .3 .3-.4 .2 0 .3 .3 .3 .2 .3 .2 .3-.2 .3 .2 .3-.7 .3-.5 .3-.2 .3 .2 .3 .5 .3-.1 .3 0 .3-.1 .3-.1 .3-1.4 .3 1 .3 .4 .3 1 .3-1 .3-.3 .3-.2 .3 .3 .3 0 .3 0 .3 .5 .2-.4 .3 .5 .3 .3 .3 .1 .3 0 .3 .2 .3-.2 .3 .1 .3-.1 .3-.3 .3-.6 .3 .7 .3 .5 .3 .4 .3 .4 .3 1 .3 .7 .3 .5 .3-.3 .3-.2 .3 .6 .3 .6 .3-.5 .3-.1 .3-1.3 .2 .3 .3-.2 .3-.3 .3-.2 .3 .2 .3-.2 .3 .5 .3-.3 .3-.1 .3 .2 .4 0 .3 .1 .3 .2 .3 0 .3-.4 .3 1 .3-.1 .3 .4 .3 0 .3-.8 .3-.4 .3 0 .3-.1 .3 .3 .3 0 .3-.3 .3-.1 .3-.2 .3 .9 .3-.4 .3-.4 .3-.1 .3 .4 .3 .2 .3-.4 .3 .1 .3-.4 .3-.2 .3 0 .3-.3 .3-.1 .3-.2 .3-.1 .3-.3 .3-.6 .3 .8 .3-.7 .3-.1 .3 .2 .3 .3 .3-.2 .3 .3 .3-.4 .4-.3 .3 .3 .3 .3 .3 .3 .3-.8 .3 .1 .3 .5 .3-.9 .3-.8 .3-.3 .3 .6 .3 .3 .3 .4 .3 0 .3 0 .3-.6 .3-.3 .3-.3 .3 0 .3 .2 .3-.4 .3 0 .3 .2 .3 .4 .3-.1 .3-.2 .3-.8 .3 .4 .3 .1 .3-.4 .2 .5 .3 .2 .3-.4 .3 .3 .3 .1 .3-.7 .3-.6 .3 .2 .3 .4 .3 .9 .3-.8 .3 0 .3-.5 .3-.2 .3-.2 .3 0 .3 .5 .3 .2 .3 .5 .3-.1 .3-.7 .3 0 .3-.3 .3-.1 .3 0 .3-.2 .3 0 .3 .1 .3-.3 .3 .1 .3-.1 .3 .1 .3-.4 .3 .3 .3 1 .3-1.9 .3-1.1 .3 1.5 .3-.4 .3-.1 .3 .3 .3 1 .3 1.4 .3-.4 .2 .7 .3 .3 .3 1.1 .3 .9 .3 0 .3 .4 .3-.1 .3 .2 .3 .2 .3 0 .3 .6 .3-.5 .3 .7 .3-.2 .3-.9 .3-.2 .3-.2 .3-.7 .3 1 .3-.3 .3-.4 .3-.2 .3 .6 .3 0 .3 .1 .3 0 .3 .2 .3-.4 .3-.9 .3-.4 .4 .2 .3 .7 .3-1.3 .3-.3 .3-.4 .3 .1 .3-.1 .3-.4 .3 .1 .3 0 .3 .4 .3 0 .3-.1 .3 0 .3-.3 .3-1.9 .3 1.7 .3-.5 .3-.4 .3 .7 .3 0 .3-.1 .3 .7 .3 .2 .3-.5 .3-.3 .3-.2 .3 .2 .3 .1 .3 .6 .3-.5 .3 1 .3 .3 .4 .4 .3 .8 .3-.2 .3 .1 .3 .3 .3 .5 .3 .2 .3-.9 .3-.3 .3-.2 .3-.3 .3-.5 .3-.1 .4-.4 .3 .2 .3-.4 .3 0 .3-.7 .3 .2 .3 .1 .3-.9 .3-.3 .3-.6 .3-.2 .3-.4 .3 .1 .3-.9 .3 .7 .3 .4 .3-.4 .4 .2 .3-.4 .3 .2 .3-.5 .3-.7 .3 .1 .3 .5 .3-.4 .3-.1 .3-.2 .3-.1 .3 0 .3 .7 .3 .5 .3 .5 .3-.1 .3 .3 .3-.3 .3 .1 .3 .2 .3-.3 .3-.4 .3 .3 .3 .1 .3 .6 .3 0 .3-.5 .3-.1 .3-.1 .3 .5 .3-.1 .3-.4 .3-.4 .3 .5 .3 0 .3-.3 .4-.3 .3-1.1 .3 .6 .3 .1 .3-.3 .3-.3 .3-.6 .3 .3 .3 .8 .3-.7 .3 .4 .3 .4 .3 .1 .3-.4 .3 .9 .3 .3 .3 .6 .3-.8 .3 .5" fill="none" stroke="#000" stroke-width="1.15" stroke-linejoin="round" clip-path="url(#cR6)"/>
<line x1="104.3" y1="255.3" x2="262.3" y2="283.1" stroke="#3b3bff" stroke-width="1.0" stroke-dasharray="4,2.5"/>
<line x1="445.1" y1="267.3" x2="639.3" y2="278.5" stroke="#3b3bff" stroke-width="1.0" stroke-dasharray="4,2.5"/>
<line x1="50.6" y1="69.51" x2="50.6" y2="10.2" stroke="#ff6a6a" stroke-width="1.1" />
<line x1="104.5" y1="69.51" x2="104.5" y2="10.2" stroke="#5c5cff" stroke-width="1.1" />
<line x1="263" y1="10.2" x2="263" y2="69.51" stroke="#8a8aff" stroke-width="1.8" stroke-dasharray="4,3.6" stroke-dashoffset="6.0"/>
<line x1="418.1" y1="10.2" x2="418.1" y2="69.51" stroke="#ff7a7a" stroke-width="1.8" stroke-dasharray="4,3.6" stroke-dashoffset="6.0"/>
<line x1="445.2" y1="69.51" x2="445.2" y2="10.2" stroke="#5c5cff" stroke-width="1.1" />
<line x1="639.6" y1="69.51" x2="639.6" y2="10.2" stroke="#5c5cff" stroke-width="1.1" />
<line x1="50.6" y1="128.83" x2="50.6" y2="69.51" stroke="#ff6a6a" stroke-width="1.1" />
<line x1="104.5" y1="128.83" x2="104.5" y2="69.51" stroke="#5c5cff" stroke-width="1.1" />
<line x1="263" y1="69.51" x2="263" y2="128.83" stroke="#8a8aff" stroke-width="1.8" stroke-dasharray="4,3.6" stroke-dashoffset="6.0"/>
<line x1="418.1" y1="69.51" x2="418.1" y2="128.83" stroke="#ff7a7a" stroke-width="1.8" stroke-dasharray="4,3.6" stroke-dashoffset="6.0"/>
<line x1="445.2" y1="128.83" x2="445.2" y2="69.51" stroke="#5c5cff" stroke-width="1.1" />
<line x1="639.6" y1="128.83" x2="639.6" y2="69.51" stroke="#5c5cff" stroke-width="1.1" />
<line x1="50.6" y1="188.14" x2="50.6" y2="128.83" stroke="#ff6a6a" stroke-width="1.1" />
<line x1="104.5" y1="188.14" x2="104.5" y2="128.83" stroke="#5c5cff" stroke-width="1.1" />
<line x1="263" y1="128.83" x2="263" y2="188.14" stroke="#8a8aff" stroke-width="1.8" stroke-dasharray="4,3.6" stroke-dashoffset="6.0"/>
<line x1="418.1" y1="128.83" x2="418.1" y2="188.14" stroke="#ff7a7a" stroke-width="1.8" stroke-dasharray="4,3.6" stroke-dashoffset="6.0"/>
<line x1="445.2" y1="188.14" x2="445.2" y2="128.83" stroke="#5c5cff" stroke-width="1.1" />
<line x1="639.6" y1="188.14" x2="639.6" y2="128.83" stroke="#5c5cff" stroke-width="1.1" />
<line x1="50.6" y1="247.46" x2="50.6" y2="188.14" stroke="#ff6a6a" stroke-width="1.1" />
<line x1="104.5" y1="247.46" x2="104.5" y2="188.14" stroke="#5c5cff" stroke-width="1.1" />
<line x1="263" y1="188.14" x2="263" y2="247.46" stroke="#8a8aff" stroke-width="1.8" stroke-dasharray="4,3.6" stroke-dashoffset="6.0"/>
<line x1="418.1" y1="188.14" x2="418.1" y2="247.46" stroke="#ff7a7a" stroke-width="1.8" stroke-dasharray="4,3.6" stroke-dashoffset="6.0"/>
<line x1="445.2" y1="247.46" x2="445.2" y2="188.14" stroke="#5c5cff" stroke-width="1.1" />
<line x1="639.6" y1="247.46" x2="639.6" y2="188.14" stroke="#5c5cff" stroke-width="1.1" />
<line x1="50.6" y1="306.77" x2="50.6" y2="247.46" stroke="#ff6a6a" stroke-width="1.1" />
<line x1="104.5" y1="306.77" x2="104.5" y2="247.46" stroke="#5c5cff" stroke-width="1.1" />
<line x1="263" y1="247.46" x2="263" y2="306.77" stroke="#8a8aff" stroke-width="1.8" stroke-dasharray="4,3.6" stroke-dashoffset="6.0"/>
<line x1="418.1" y1="247.46" x2="418.1" y2="306.77" stroke="#ff7a7a" stroke-width="1.8" stroke-dasharray="4,3.6" stroke-dashoffset="6.0"/>
<line x1="445.2" y1="306.77" x2="445.2" y2="247.46" stroke="#5c5cff" stroke-width="1.1" />
<line x1="639.6" y1="306.77" x2="639.6" y2="247.46" stroke="#5c5cff" stroke-width="1.1" />
<line x1="50.6" y1="366.09" x2="50.6" y2="306.77" stroke="#ff6a6a" stroke-width="1.1" />
<line x1="104.5" y1="366.09" x2="104.5" y2="306.77" stroke="#5c5cff" stroke-width="1.1" />
<line x1="263" y1="306.77" x2="263" y2="366.09" stroke="#8a8aff" stroke-width="1.8" stroke-dasharray="4,3.6" stroke-dashoffset="6.0"/>
<line x1="418.1" y1="306.77" x2="418.1" y2="366.09" stroke="#ff7a7a" stroke-width="1.8" stroke-dasharray="4,3.6" stroke-dashoffset="6.0"/>
<line x1="445.2" y1="366.09" x2="445.2" y2="306.77" stroke="#5c5cff" stroke-width="1.1" />
<line x1="639.6" y1="366.09" x2="639.6" y2="306.77" stroke="#5c5cff" stroke-width="1.1" />
<line x1="50.6" y1="425.4" x2="50.6" y2="366.09" stroke="#ff6a6a" stroke-width="1.1" />
<line x1="104.5" y1="425.4" x2="104.5" y2="366.09" stroke="#5c5cff" stroke-width="1.1" />
<line x1="263" y1="366.09" x2="263" y2="425.4" stroke="#8a8aff" stroke-width="1.8" stroke-dasharray="4,3.6" stroke-dashoffset="6.0"/>
<line x1="418.1" y1="366.09" x2="418.1" y2="425.4" stroke="#ff7a7a" stroke-width="1.8" stroke-dasharray="4,3.6" stroke-dashoffset="6.0"/>
<line x1="445.2" y1="425.4" x2="445.2" y2="366.09" stroke="#5c5cff" stroke-width="1.1" />
<line x1="639.6" y1="425.4" x2="639.6" y2="366.09" stroke="#5c5cff" stroke-width="1.1" />
<rect x="266.8" y="74.6" width="38.7" height="26.2" fill="#fff" stroke="#333" stroke-width="0.9"/>
<line x1="272.9" y1="81.5" x2="286.2" y2="81.5" stroke="#4848ff" stroke-width="1.0" />
<line x1="272.9" y1="93.4" x2="286.2" y2="93.4" stroke="#3c9a3c" stroke-width="1.0" />
<text x="295.9" y="84.8" font-family='"Liberation Sans", sans-serif' font-size="5.15" text-anchor="start" fill="#222" stroke="#222" stroke-width="0.14" textLength="5.9" lengthAdjust="spacingAndGlyphs" >By</text>
<text x="295.9" y="96.7" font-family='"Liberation Sans", sans-serif' font-size="5.15" text-anchor="start" fill="#222" stroke="#222" stroke-width="0.14" textLength="5.5" lengthAdjust="spacingAndGlyphs" >Bz</text>
<rect x="640.3" y="97.3" width="40.2" height="25.8" fill="#fff" stroke="#333" stroke-width="0.9"/>
<line x1="646.9" y1="103.5" x2="659.9" y2="103.5" stroke="#4848ff" stroke-width="1.0" />
<line x1="646.9" y1="115.6" x2="659.9" y2="115.6" stroke="#3c9a3c" stroke-width="1.0" />
<text x="669.6" y="106.8" font-family='"Liberation Sans", sans-serif' font-size="5.15" text-anchor="start" fill="#222" stroke="#222" stroke-width="0.14" textLength="5.9" lengthAdjust="spacingAndGlyphs" >By</text>
<text x="669.6" y="118.9" font-family='"Liberation Sans", sans-serif' font-size="5.15" text-anchor="start" fill="#222" stroke="#222" stroke-width="0.14" textLength="5.5" lengthAdjust="spacingAndGlyphs" >Bz</text>
<line x1="35.3" y1="69.51" x2="35.3" y2="67.71" stroke="#666" stroke-width="0.7" />
<line x1="35.3" y1="10.2" x2="35.3" y2="12" stroke="#666" stroke-width="0.7" />
<line x1="41.15" y1="69.51" x2="41.15" y2="67.71" stroke="#666" stroke-width="0.7" />
<line x1="41.15" y1="10.2" x2="41.15" y2="12" stroke="#666" stroke-width="0.7" />
<line x1="47" y1="69.51" x2="47" y2="66.31" stroke="#666" stroke-width="0.7" />
<line x1="47" y1="10.2" x2="47" y2="13.4" stroke="#666" stroke-width="0.7" />
<line x1="52.85" y1="69.51" x2="52.85" y2="67.71" stroke="#666" stroke-width="0.7" />
<line x1="52.85" y1="10.2" x2="52.85" y2="12" stroke="#666" stroke-width="0.7" />
<line x1="58.69" y1="69.51" x2="58.69" y2="67.71" stroke="#666" stroke-width="0.7" />
<line x1="58.69" y1="10.2" x2="58.69" y2="12" stroke="#666" stroke-width="0.7" />
<line x1="64.54" y1="69.51" x2="64.54" y2="66.31" stroke="#666" stroke-width="0.7" />
<line x1="64.54" y1="10.2" x2="64.54" y2="13.4" stroke="#666" stroke-width="0.7" />
<line x1="70.39" y1="69.51" x2="70.39" y2="67.71" stroke="#666" stroke-width="0.7" />
<line x1="70.39" y1="10.2" x2="70.39" y2="12" stroke="#666" stroke-width="0.7" />
<line x1="76.24" y1="69.51" x2="76.24" y2="67.71" stroke="#666" stroke-width="0.7" />
<line x1="76.24" y1="10.2" x2="76.24" y2="12" stroke="#666" stroke-width="0.7" />
<line x1="82.09" y1="69.51" x2="82.09" y2="66.31" stroke="#666" stroke-width="0.7" />
<line x1="82.09" y1="10.2" x2="82.09" y2="13.4" stroke="#666" stroke-width="0.7" />
<line x1="87.94" y1="69.51" x2="87.94" y2="67.71" stroke="#666" stroke-width="0.7" />
<line x1="87.94" y1="10.2" x2="87.94" y2="12" stroke="#666" stroke-width="0.7" />
<line x1="93.79" y1="69.51" x2="93.79" y2="67.71" stroke="#666" stroke-width="0.7" />
<line x1="93.79" y1="10.2" x2="93.79" y2="12" stroke="#666" stroke-width="0.7" />
<line x1="99.64" y1="69.51" x2="99.64" y2="66.31" stroke="#666" stroke-width="0.7" />
<line x1="99.64" y1="10.2" x2="99.64" y2="13.4" stroke="#666" stroke-width="0.7" />
<line x1="105.49" y1="69.51" x2="105.49" y2="67.71" stroke="#666" stroke-width="0.7" />
<line x1="105.49" y1="10.2" x2="105.49" y2="12" stroke="#666" stroke-width="0.7" />
<line x1="111.34" y1="69.51" x2="111.34" y2="67.71" stroke="#666" stroke-width="0.7" />
<line x1="111.34" y1="10.2" x2="111.34" y2="12" stroke="#666" stroke-width="0.7" />
<line x1="117.18" y1="69.51" x2="117.18" y2="66.31" stroke="#666" stroke-width="0.7" />
<line x1="117.18" y1="10.2" x2="117.18" y2="13.4" stroke="#666" stroke-width="0.7" />
<line x1="123.03" y1="69.51" x2="123.03" y2="67.71" stroke="#666" stroke-width="0.7" />
<line x1="123.03" y1="10.2" x2="123.03" y2="12" stroke="#666" stroke-width="0.7" />
<line x1="128.88" y1="69.51" x2="128.88" y2="67.71" stroke="#666" stroke-width="0.7" />
<line x1="128.88" y1="10.2" x2="128.88" y2="12" stroke="#666" stroke-width="0.7" />
<line x1="134.73" y1="69.51" x2="134.73" y2="66.31" stroke="#666" stroke-width="0.7" />
<line x1="134.73" y1="10.2" x2="134.73" y2="13.4" stroke="#666" stroke-width="0.7" />
<line x1="140.58" y1="69.51" x2="140.58" y2="67.71" stroke="#666" stroke-width="0.7" />
<line x1="140.58" y1="10.2" x2="140.58" y2="12" stroke="#666" stroke-width="0.7" />
<line x1="146.43" y1="69.51" x2="146.43" y2="67.71" stroke="#666" stroke-width="0.7" />
<line x1="146.43" y1="10.2" x2="146.43" y2="12" stroke="#666" stroke-width="0.7" />
<line x1="152.28" y1="69.51" x2="152.28" y2="66.31" stroke="#666" stroke-width="0.7" />
<line x1="152.28" y1="10.2" x2="152.28" y2="13.4" stroke="#666" stroke-width="0.7" />
<line x1="158.13" y1="69.51" x2="158.13" y2="67.71" stroke="#666" stroke-width="0.7" />
<line x1="158.13" y1="10.2" x2="158.13" y2="12" stroke="#666" stroke-width="0.7" />
<line x1="163.98" y1="69.51" x2="163.98" y2="67.71" stroke="#666" stroke-width="0.7" />
<line x1="163.98" y1="10.2" x2="163.98" y2="12" stroke="#666" stroke-width="0.7" />
<line x1="169.82" y1="69.51" x2="169.82" y2="66.31" stroke="#666" stroke-width="0.7" />
<line x1="169.82" y1="10.2" x2="169.82" y2="13.4" stroke="#666" stroke-width="0.7" />
<line x1="175.67" y1="69.51" x2="175.67" y2="67.71" stroke="#666" stroke-width="0.7" />
<line x1="175.67" y1="10.2" x2="175.67" y2="12" stroke="#666" stroke-width="0.7" />
<line x1="181.52" y1="69.51" x2="181.52" y2="67.71" stroke="#666" stroke-width="0.7" />
<line x1="181.52" y1="10.2" x2="181.52" y2="12" stroke="#666" stroke-width="0.7" />
<line x1="187.37" y1="69.51" x2="187.37" y2="66.31" stroke="#666" stroke-width="0.7" />
<line x1="187.37" y1="10.2" x2="187.37" y2="13.4" stroke="#666" stroke-width="0.7" />
<line x1="193.22" y1="69.51" x2="193.22" y2="67.71" stroke="#666" stroke-width="0.7" />
<line x1="193.22" y1="10.2" x2="193.22" y2="12" stroke="#666" stroke-width="0.7" />
<line x1="199.07" y1="69.51" x2="199.07" y2="67.71" stroke="#666" stroke-width="0.7" />
<line x1="199.07" y1="10.2" x2="199.07" y2="12" stroke="#666" stroke-width="0.7" />
<line x1="204.92" y1="69.51" x2="204.92" y2="66.31" stroke="#666" stroke-width="0.7" />
<line x1="204.92" y1="10.2" x2="204.92" y2="13.4" stroke="#666" stroke-width="0.7" />
<line x1="210.77" y1="69.51" x2="210.77" y2="67.71" stroke="#666" stroke-width="0.7" />
<line x1="210.77" y1="10.2" x2="210.77" y2="12" stroke="#666" stroke-width="0.7" />
<line x1="216.62" y1="69.51" x2="216.62" y2="67.71" stroke="#666" stroke-width="0.7" />
<line x1="216.62" y1="10.2" x2="216.62" y2="12" stroke="#666" stroke-width="0.7" />
<line x1="222.47" y1="69.51" x2="222.47" y2="66.31" stroke="#666" stroke-width="0.7" />
<line x1="222.47" y1="10.2" x2="222.47" y2="13.4" stroke="#666" stroke-width="0.7" />
<line x1="228.31" y1="69.51" x2="228.31" y2="67.71" stroke="#666" stroke-width="0.7" />
<line x1="228.31" y1="10.2" x2="228.31" y2="12" stroke="#666" stroke-width="0.7" />
<line x1="234.16" y1="69.51" x2="234.16" y2="67.71" stroke="#666" stroke-width="0.7" />
<line x1="234.16" y1="10.2" x2="234.16" y2="12" stroke="#666" stroke-width="0.7" />
<line x1="240.01" y1="69.51" x2="240.01" y2="66.31" stroke="#666" stroke-width="0.7" />
<line x1="240.01" y1="10.2" x2="240.01" y2="13.4" stroke="#666" stroke-width="0.7" />
<line x1="245.86" y1="69.51" x2="245.86" y2="67.71" stroke="#666" stroke-width="0.7" />
<line x1="245.86" y1="10.2" x2="245.86" y2="12" stroke="#666" stroke-width="0.7" />
<line x1="251.71" y1="69.51" x2="251.71" y2="67.71" stroke="#666" stroke-width="0.7" />
<line x1="251.71" y1="10.2" x2="251.71" y2="12" stroke="#666" stroke-width="0.7" />
<line x1="257.56" y1="69.51" x2="257.56" y2="66.31" stroke="#666" stroke-width="0.7" />
<line x1="257.56" y1="10.2" x2="257.56" y2="13.4" stroke="#666" stroke-width="0.7" />
<line x1="263.41" y1="69.51" x2="263.41" y2="67.71" stroke="#666" stroke-width="0.7" />
<line x1="263.41" y1="10.2" x2="263.41" y2="12" stroke="#666" stroke-width="0.7" />
<line x1="269.26" y1="69.51" x2="269.26" y2="67.71" stroke="#666" stroke-width="0.7" />
<line x1="269.26" y1="10.2" x2="269.26" y2="12" stroke="#666" stroke-width="0.7" />
<line x1="275.11" y1="69.51" x2="275.11" y2="66.31" stroke="#666" stroke-width="0.7" />
<line x1="275.11" y1="10.2" x2="275.11" y2="13.4" stroke="#666" stroke-width="0.7" />
<line x1="280.96" y1="69.51" x2="280.96" y2="67.71" stroke="#666" stroke-width="0.7" />
<line x1="280.96" y1="10.2" x2="280.96" y2="12" stroke="#666" stroke-width="0.7" />
<line x1="286.8" y1="69.51" x2="286.8" y2="67.71" stroke="#666" stroke-width="0.7" />
<line x1="286.8" y1="10.2" x2="286.8" y2="12" stroke="#666" stroke-width="0.7" />
<line x1="292.65" y1="69.51" x2="292.65" y2="66.31" stroke="#666" stroke-width="0.7" />
<line x1="292.65" y1="10.2" x2="292.65" y2="13.4" stroke="#666" stroke-width="0.7" />
<line x1="298.5" y1="69.51" x2="298.5" y2="67.71" stroke="#666" stroke-width="0.7" />
<line x1="298.5" y1="10.2" x2="298.5" y2="12" stroke="#666" stroke-width="0.7" />
<line x1="304.35" y1="69.51" x2="304.35" y2="67.71" stroke="#666" stroke-width="0.7" />
<line x1="304.35" y1="10.2" x2="304.35" y2="12" stroke="#666" stroke-width="0.7" />
<line x1="35.3" y1="128.83" x2="35.3" y2="127.03" stroke="#666" stroke-width="0.7" />
<line x1="35.3" y1="69.51" x2="35.3" y2="71.31" stroke="#666" stroke-width="0.7" />
<line x1="41.15" y1="128.83" x2="41.15" y2="127.03" stroke="#666" stroke-width="0.7" />
<line x1="41.15" y1="69.51" x2="41.15" y2="71.31" stroke="#666" stroke-width="0.7" />
<line x1="47" y1="128.83" x2="47" y2="125.63" stroke="#666" stroke-width="0.7" />
<line x1="47" y1="69.51" x2="47" y2="72.71" stroke="#666" stroke-width="0.7" />
<line x1="52.85" y1="128.83" x2="52.85" y2="127.03" stroke="#666" stroke-width="0.7" />
<line x1="52.85" y1="69.51" x2="52.85" y2="71.31" stroke="#666" stroke-width="0.7" />
<line x1="58.69" y1="128.83" x2="58.69" y2="127.03" stroke="#666" stroke-width="0.7" />
<line x1="58.69" y1="69.51" x2="58.69" y2="71.31" stroke="#666" stroke-width="0.7" />
<line x1="64.54" y1="128.83" x2="64.54" y2="125.63" stroke="#666" stroke-width="0.7" />
<line x1="64.54" y1="69.51" x2="64.54" y2="72.71" stroke="#666" stroke-width="0.7" />
<line x1="70.39" y1="128.83" x2="70.39" y2="127.03" stroke="#666" stroke-width="0.7" />
<line x1="70.39" y1="69.51" x2="70.39" y2="71.31" stroke="#666" stroke-width="0.7" />
<line x1="76.24" y1="128.83" x2="76.24" y2="127.03" stroke="#666" stroke-width="0.7" />
<line x1="76.24" y1="69.51" x2="76.24" y2="71.31" stroke="#666" stroke-width="0.7" />
<line x1="82.09" y1="128.83" x2="82.09" y2="125.63" stroke="#666" stroke-width="0.7" />
<line x1="82.09" y1="69.51" x2="82.09" y2="72.71" stroke="#666" stroke-width="0.7" />
<line x1="87.94" y1="128.83" x2="87.94" y2="127.03" stroke="#666" stroke-width="0.7" />
<line x1="87.94" y1="69.51" x2="87.94" y2="71.31" stroke="#666" stroke-width="0.7" />
<line x1="93.79" y1="128.83" x2="93.79" y2="127.03" stroke="#666" stroke-width="0.7" />
<line x1="93.79" y1="69.51" x2="93.79" y2="71.31" stroke="#666" stroke-width="0.7" />
<line x1="99.64" y1="128.83" x2="99.64" y2="125.63" stroke="#666" stroke-width="0.7" />
<line x1="99.64" y1="69.51" x2="99.64" y2="72.71" stroke="#666" stroke-width="0.7" />
<line x1="105.49" y1="128.83" x2="105.49" y2="127.03" stroke="#666" stroke-width="0.7" />
<line x1="105.49" y1="69.51" x2="105.49" y2="71.31" stroke="#666" stroke-width="0.7" />
<line x1="111.34" y1="128.83" x2="111.34" y2="127.03" stroke="#666" stroke-width="0.7" />
<line x1="111.34" y1="69.51" x2="111.34" y2="71.31" stroke="#666" stroke-width="0.7" />
<line x1="117.18" y1="128.83" x2="117.18" y2="125.63" stroke="#666" stroke-width="0.7" />
<line x1="117.18" y1="69.51" x2="117.18" y2="72.71" stroke="#666" stroke-width="0.7" />
<line x1="123.03" y1="128.83" x2="123.03" y2="127.03" stroke="#666" stroke-width="0.7" />
<line x1="123.03" y1="69.51" x2="123.03" y2="71.31" stroke="#666" stroke-width="0.7" />
<line x1="128.88" y1="128.83" x2="128.88" y2="127.03" stroke="#666" stroke-width="0.7" />
<line x1="128.88" y1="69.51" x2="128.88" y2="71.31" stroke="#666" stroke-width="0.7" />
<line x1="134.73" y1="128.83" x2="134.73" y2="125.63" stroke="#666" stroke-width="0.7" />
<line x1="134.73" y1="69.51" x2="134.73" y2="72.71" stroke="#666" stroke-width="0.7" />
<line x1="140.58" y1="128.83" x2="140.58" y2="127.03" stroke="#666" stroke-width="0.7" />
<line x1="140.58" y1="69.51" x2="140.58" y2="71.31" stroke="#666" stroke-width="0.7" />
<line x1="146.43" y1="128.83" x2="146.43" y2="127.03" stroke="#666" stroke-width="0.7" />
<line x1="146.43" y1="69.51" x2="146.43" y2="71.31" stroke="#666" stroke-width="0.7" />
<line x1="152.28" y1="128.83" x2="152.28" y2="125.63" stroke="#666" stroke-width="0.7" />
<line x1="152.28" y1="69.51" x2="152.28" y2="72.71" stroke="#666" stroke-width="0.7" />
<line x1="158.13" y1="128.83" x2="158.13" y2="127.03" stroke="#666" stroke-width="0.7" />
<line x1="158.13" y1="69.51" x2="158.13" y2="71.31" stroke="#666" stroke-width="0.7" />
<line x1="163.98" y1="128.83" x2="163.98" y2="127.03" stroke="#666" stroke-width="0.7" />
<line x1="163.98" y1="69.51" x2="163.98" y2="71.31" stroke="#666" stroke-width="0.7" />
<line x1="169.82" y1="128.83" x2="169.82" y2="125.63" stroke="#666" stroke-width="0.7" />
<line x1="169.82" y1="69.51" x2="169.82" y2="72.71" stroke="#666" stroke-width="0.7" />
<line x1="175.67" y1="128.83" x2="175.67" y2="127.03" stroke="#666" stroke-width="0.7" />
<line x1="175.67" y1="69.51" x2="175.67" y2="71.31" stroke="#666" stroke-width="0.7" />
<line x1="181.52" y1="128.83" x2="181.52" y2="127.03" stroke="#666" stroke-width="0.7" />
<line x1="181.52" y1="69.51" x2="181.52" y2="71.31" stroke="#666" stroke-width="0.7" />
<line x1="187.37" y1="128.83" x2="187.37" y2="125.63" stroke="#666" stroke-width="0.7" />
<line x1="187.37" y1="69.51" x2="187.37" y2="72.71" stroke="#666" stroke-width="0.7" />
<line x1="193.22" y1="128.83" x2="193.22" y2="127.03" stroke="#666" stroke-width="0.7" />
<line x1="193.22" y1="69.51" x2="193.22" y2="71.31" stroke="#666" stroke-width="0.7" />
<line x1="199.07" y1="128.83" x2="199.07" y2="127.03" stroke="#666" stroke-width="0.7" />
<line x1="199.07" y1="69.51" x2="199.07" y2="71.31" stroke="#666" stroke-width="0.7" />
<line x1="204.92" y1="128.83" x2="204.92" y2="125.63" stroke="#666" stroke-width="0.7" />
<line x1="204.92" y1="69.51" x2="204.92" y2="72.71" stroke="#666" stroke-width="0.7" />
<line x1="210.77" y1="128.83" x2="210.77" y2="127.03" stroke="#666" stroke-width="0.7" />
<line x1="210.77" y1="69.51" x2="210.77" y2="71.31" stroke="#666" stroke-width="0.7" />
<line x1="216.62" y1="128.83" x2="216.62" y2="127.03" stroke="#666" stroke-width="0.7" />
<line x1="216.62" y1="69.51" x2="216.62" y2="71.31" stroke="#666" stroke-width="0.7" />
<line x1="222.47" y1="128.83" x2="222.47" y2="125.63" stroke="#666" stroke-width="0.7" />
<line x1="222.47" y1="69.51" x2="222.47" y2="72.71" stroke="#666" stroke-width="0.7" />
<line x1="228.31" y1="128.83" x2="228.31" y2="127.03" stroke="#666" stroke-width="0.7" />
<line x1="228.31" y1="69.51" x2="228.31" y2="71.31" stroke="#666" stroke-width="0.7" />
<line x1="234.16" y1="128.83" x2="234.16" y2="127.03" stroke="#666" stroke-width="0.7" />
<line x1="234.16" y1="69.51" x2="234.16" y2="71.31" stroke="#666" stroke-width="0.7" />
<line x1="240.01" y1="128.83" x2="240.01" y2="125.63" stroke="#666" stroke-width="0.7" />
<line x1="240.01" y1="69.51" x2="240.01" y2="72.71" stroke="#666" stroke-width="0.7" />
<line x1="245.86" y1="128.83" x2="245.86" y2="127.03" stroke="#666" stroke-width="0.7" />
<line x1="245.86" y1="69.51" x2="245.86" y2="71.31" stroke="#666" stroke-width="0.7" />
<line x1="251.71" y1="128.83" x2="251.71" y2="127.03" stroke="#666" stroke-width="0.7" />
<line x1="251.71" y1="69.51" x2="251.71" y2="71.31" stroke="#666" stroke-width="0.7" />
<line x1="257.56" y1="128.83" x2="257.56" y2="125.63" stroke="#666" stroke-width="0.7" />
<line x1="257.56" y1="69.51" x2="257.56" y2="72.71" stroke="#666" stroke-width="0.7" />
<line x1="263.41" y1="128.83" x2="263.41" y2="127.03" stroke="#666" stroke-width="0.7" />
<line x1="263.41" y1="69.51" x2="263.41" y2="71.31" stroke="#666" stroke-width="0.7" />
<line x1="269.26" y1="128.83" x2="269.26" y2="127.03" stroke="#666" stroke-width="0.7" />
<line x1="269.26" y1="69.51" x2="269.26" y2="71.31" stroke="#666" stroke-width="0.7" />
<line x1="275.11" y1="128.83" x2="275.11" y2="125.63" stroke="#666" stroke-width="0.7" />
<line x1="275.11" y1="69.51" x2="275.11" y2="72.71" stroke="#666" stroke-width="0.7" />
<line x1="280.96" y1="128.83" x2="280.96" y2="127.03" stroke="#666" stroke-width="0.7" />
<line x1="280.96" y1="69.51" x2="280.96" y2="71.31" stroke="#666" stroke-width="0.7" />
<line x1="286.8" y1="128.83" x2="286.8" y2="127.03" stroke="#666" stroke-width="0.7" />
<line x1="286.8" y1="69.51" x2="286.8" y2="71.31" stroke="#666" stroke-width="0.7" />
<line x1="292.65" y1="128.83" x2="292.65" y2="125.63" stroke="#666" stroke-width="0.7" />
<line x1="292.65" y1="69.51" x2="292.65" y2="72.71" stroke="#666" stroke-width="0.7" />
<line x1="298.5" y1="128.83" x2="298.5" y2="127.03" stroke="#666" stroke-width="0.7" />
<line x1="298.5" y1="69.51" x2="298.5" y2="71.31" stroke="#666" stroke-width="0.7" />
<line x1="304.35" y1="128.83" x2="304.35" y2="127.03" stroke="#666" stroke-width="0.7" />
<line x1="304.35" y1="69.51" x2="304.35" y2="71.31" stroke="#666" stroke-width="0.7" />
<line x1="35.3" y1="188.14" x2="35.3" y2="186.34" stroke="#666" stroke-width="0.7" />
<line x1="35.3" y1="128.83" x2="35.3" y2="130.63" stroke="#666" stroke-width="0.7" />
<line x1="41.15" y1="188.14" x2="41.15" y2="186.34" stroke="#666" stroke-width="0.7" />
<line x1="41.15" y1="128.83" x2="41.15" y2="130.63" stroke="#666" stroke-width="0.7" />
<line x1="47" y1="188.14" x2="47" y2="184.94" stroke="#666" stroke-width="0.7" />
<line x1="47" y1="128.83" x2="47" y2="132.03" stroke="#666" stroke-width="0.7" />
<line x1="52.85" y1="188.14" x2="52.85" y2="186.34" stroke="#666" stroke-width="0.7" />
<line x1="52.85" y1="128.83" x2="52.85" y2="130.63" stroke="#666" stroke-width="0.7" />
<line x1="58.69" y1="188.14" x2="58.69" y2="186.34" stroke="#666" stroke-width="0.7" />
<line x1="58.69" y1="128.83" x2="58.69" y2="130.63" stroke="#666" stroke-width="0.7" />
<line x1="64.54" y1="188.14" x2="64.54" y2="184.94" stroke="#666" stroke-width="0.7" />
<line x1="64.54" y1="128.83" x2="64.54" y2="132.03" stroke="#666" stroke-width="0.7" />
<line x1="70.39" y1="188.14" x2="70.39" y2="186.34" stroke="#666" stroke-width="0.7" />
<line x1="70.39" y1="128.83" x2="70.39" y2="130.63" stroke="#666" stroke-width="0.7" />
<line x1="76.24" y1="188.14" x2="76.24" y2="186.34" stroke="#666" stroke-width="0.7" />
<line x1="76.24" y1="128.83" x2="76.24" y2="130.63" stroke="#666" stroke-width="0.7" />
<line x1="82.09" y1="188.14" x2="82.09" y2="184.94" stroke="#666" stroke-width="0.7" />
<line x1="82.09" y1="128.83" x2="82.09" y2="132.03" stroke="#666" stroke-width="0.7" />
<line x1="87.94" y1="188.14" x2="87.94" y2="186.34" stroke="#666" stroke-width="0.7" />
<line x1="87.94" y1="128.83" x2="87.94" y2="130.63" stroke="#666" stroke-width="0.7" />
<line x1="93.79" y1="188.14" x2="93.79" y2="186.34" stroke="#666" stroke-width="0.7" />
<line x1="93.79" y1="128.83" x2="93.79" y2="130.63" stroke="#666" stroke-width="0.7" />
<line x1="99.64" y1="188.14" x2="99.64" y2="184.94" stroke="#666" stroke-width="0.7" />
<line x1="99.64" y1="128.83" x2="99.64" y2="132.03" stroke="#666" stroke-width="0.7" />
<line x1="105.49" y1="188.14" x2="105.49" y2="186.34" stroke="#666" stroke-width="0.7" />
<line x1="105.49" y1="128.83" x2="105.49" y2="130.63" stroke="#666" stroke-width="0.7" />
<line x1="111.34" y1="188.14" x2="111.34" y2="186.34" stroke="#666" stroke-width="0.7" />
<line x1="111.34" y1="128.83" x2="111.34" y2="130.63" stroke="#666" stroke-width="0.7" />
<line x1="117.18" y1="188.14" x2="117.18" y2="184.94" stroke="#666" stroke-width="0.7" />
<line x1="117.18" y1="128.83" x2="117.18" y2="132.03" stroke="#666" stroke-width="0.7" />
<line x1="123.03" y1="188.14" x2="123.03" y2="186.34" stroke="#666" stroke-width="0.7" />
<line x1="123.03" y1="128.83" x2="123.03" y2="130.63" stroke="#666" stroke-width="0.7" />
<line x1="128.88" y1="188.14" x2="128.88" y2="186.34" stroke="#666" stroke-width="0.7" />
<line x1="128.88" y1="128.83" x2="128.88" y2="130.63" stroke="#666" stroke-width="0.7" />
<line x1="134.73" y1="188.14" x2="134.73" y2="184.94" stroke="#666" stroke-width="0.7" />
<line x1="134.73" y1="128.83" x2="134.73" y2="132.03" stroke="#666" stroke-width="0.7" />
<line x1="140.58" y1="188.14" x2="140.58" y2="186.34" stroke="#666" stroke-width="0.7" />
<line x1="140.58" y1="128.83" x2="140.58" y2="130.63" stroke="#666" stroke-width="0.7" />
<line x1="146.43" y1="188.14" x2="146.43" y2="186.34" stroke="#666" stroke-width="0.7" />
<line x1="146.43" y1="128.83" x2="146.43" y2="130.63" stroke="#666" stroke-width="0.7" />
<line x1="152.28" y1="188.14" x2="152.28" y2="184.94" stroke="#666" stroke-width="0.7" />
<line x1="152.28" y1="128.83" x2="152.28" y2="132.03" stroke="#666" stroke-width="0.7" />
<line x1="158.13" y1="188.14" x2="158.13" y2="186.34" stroke="#666" stroke-width="0.7" />
<line x1="158.13" y1="128.83" x2="158.13" y2="130.63" stroke="#666" stroke-width="0.7" />
<line x1="163.98" y1="188.14" x2="163.98" y2="186.34" stroke="#666" stroke-width="0.7" />
<line x1="163.98" y1="128.83" x2="163.98" y2="130.63" stroke="#666" stroke-width="0.7" />
<line x1="169.82" y1="188.14" x2="169.82" y2="184.94" stroke="#666" stroke-width="0.7" />
<line x1="169.82" y1="128.83" x2="169.82" y2="132.03" stroke="#666" stroke-width="0.7" />
<line x1="175.67" y1="188.14" x2="175.67" y2="186.34" stroke="#666" stroke-width="0.7" />
<line x1="175.67" y1="128.83" x2="175.67" y2="130.63" stroke="#666" stroke-width="0.7" />
<line x1="181.52" y1="188.14" x2="181.52" y2="186.34" stroke="#666" stroke-width="0.7" />
<line x1="181.52" y1="128.83" x2="181.52" y2="130.63" stroke="#666" stroke-width="0.7" />
<line x1="187.37" y1="188.14" x2="187.37" y2="184.94" stroke="#666" stroke-width="0.7" />
<line x1="187.37" y1="128.83" x2="187.37" y2="132.03" stroke="#666" stroke-width="0.7" />
<line x1="193.22" y1="188.14" x2="193.22" y2="186.34" stroke="#666" stroke-width="0.7" />
<line x1="193.22" y1="128.83" x2="193.22" y2="130.63" stroke="#666" stroke-width="0.7" />
<line x1="199.07" y1="188.14" x2="199.07" y2="186.34" stroke="#666" stroke-width="0.7" />
<line x1="199.07" y1="128.83" x2="199.07" y2="130.63" stroke="#666" stroke-width="0.7" />
<line x1="204.92" y1="188.14" x2="204.92" y2="184.94" stroke="#666" stroke-width="0.7" />
<line x1="204.92" y1="128.83" x2="204.92" y2="132.03" stroke="#666" stroke-width="0.7" />
<line x1="210.77" y1="188.14" x2="210.77" y2="186.34" stroke="#666" stroke-width="0.7" />
<line x1="210.77" y1="128.83" x2="210.77" y2="130.63" stroke="#666" stroke-width="0.7" />
<line x1="216.62" y1="188.14" x2="216.62" y2="186.34" stroke="#666" stroke-width="0.7" />
<line x1="216.62" y1="128.83" x2="216.62" y2="130.63" stroke="#666" stroke-width="0.7" />
<line x1="222.47" y1="188.14" x2="222.47" y2="184.94" stroke="#666" stroke-width="0.7" />
<line x1="222.47" y1="128.83" x2="222.47" y2="132.03" stroke="#666" stroke-width="0.7" />
<line x1="228.31" y1="188.14" x2="228.31" y2="186.34" stroke="#666" stroke-width="0.7" />
<line x1="228.31" y1="128.83" x2="228.31" y2="130.63" stroke="#666" stroke-width="0.7" />
<line x1="234.16" y1="188.14" x2="234.16" y2="186.34" stroke="#666" stroke-width="0.7" />
<line x1="234.16" y1="128.83" x2="234.16" y2="130.63" stroke="#666" stroke-width="0.7" />
<line x1="240.01" y1="188.14" x2="240.01" y2="184.94" stroke="#666" stroke-width="0.7" />
<line x1="240.01" y1="128.83" x2="240.01" y2="132.03" stroke="#666" stroke-width="0.7" />
<line x1="245.86" y1="188.14" x2="245.86" y2="186.34" stroke="#666" stroke-width="0.7" />
<line x1="245.86" y1="128.83" x2="245.86" y2="130.63" stroke="#666" stroke-width="0.7" />
<line x1="251.71" y1="188.14" x2="251.71" y2="186.34" stroke="#666" stroke-width="0.7" />
<line x1="251.71" y1="128.83" x2="251.71" y2="130.63" stroke="#666" stroke-width="0.7" />
<line x1="257.56" y1="188.14" x2="257.56" y2="184.94" stroke="#666" stroke-width="0.7" />
<line x1="257.56" y1="128.83" x2="257.56" y2="132.03" stroke="#666" stroke-width="0.7" />
<line x1="263.41" y1="188.14" x2="263.41" y2="186.34" stroke="#666" stroke-width="0.7" />
<line x1="263.41" y1="128.83" x2="263.41" y2="130.63" stroke="#666" stroke-width="0.7" />
<line x1="269.26" y1="188.14" x2="269.26" y2="186.34" stroke="#666" stroke-width="0.7" />
<line x1="269.26" y1="128.83" x2="269.26" y2="130.63" stroke="#666" stroke-width="0.7" />
<line x1="275.11" y1="188.14" x2="275.11" y2="184.94" stroke="#666" stroke-width="0.7" />
<line x1="275.11" y1="128.83" x2="275.11" y2="132.03" stroke="#666" stroke-width="0.7" />
<line x1="280.96" y1="188.14" x2="280.96" y2="186.34" stroke="#666" stroke-width="0.7" />
<line x1="280.96" y1="128.83" x2="280.96" y2="130.63" stroke="#666" stroke-width="0.7" />
<line x1="286.8" y1="188.14" x2="286.8" y2="186.34" stroke="#666" stroke-width="0.7" />
<line x1="286.8" y1="128.83" x2="286.8" y2="130.63" stroke="#666" stroke-width="0.7" />
<line x1="292.65" y1="188.14" x2="292.65" y2="184.94" stroke="#666" stroke-width="0.7" />
<line x1="292.65" y1="128.83" x2="292.65" y2="132.03" stroke="#666" stroke-width="0.7" />
<line x1="298.5" y1="188.14" x2="298.5" y2="186.34" stroke="#666" stroke-width="0.7" />
<line x1="298.5" y1="128.83" x2="298.5" y2="130.63" stroke="#666" stroke-width="0.7" />
<line x1="304.35" y1="188.14" x2="304.35" y2="186.34" stroke="#666" stroke-width="0.7" />
<line x1="304.35" y1="128.83" x2="304.35" y2="130.63" stroke="#666" stroke-width="0.7" />
<line x1="35.3" y1="247.46" x2="35.3" y2="245.66" stroke="#666" stroke-width="0.7" />
<line x1="35.3" y1="188.14" x2="35.3" y2="189.94" stroke="#666" stroke-width="0.7" />
<line x1="41.15" y1="247.46" x2="41.15" y2="245.66" stroke="#666" stroke-width="0.7" />
<line x1="41.15" y1="188.14" x2="41.15" y2="189.94" stroke="#666" stroke-width="0.7" />
<line x1="47" y1="247.46" x2="47" y2="244.26" stroke="#666" stroke-width="0.7" />
<line x1="47" y1="188.14" x2="47" y2="191.34" stroke="#666" stroke-width="0.7" />
<line x1="52.85" y1="247.46" x2="52.85" y2="245.66" stroke="#666" stroke-width="0.7" />
<line x1="52.85" y1="188.14" x2="52.85" y2="189.94" stroke="#666" stroke-width="0.7" />
<line x1="58.69" y1="247.46" x2="58.69" y2="245.66" stroke="#666" stroke-width="0.7" />
<line x1="58.69" y1="188.14" x2="58.69" y2="189.94" stroke="#666" stroke-width="0.7" />
<line x1="64.54" y1="247.46" x2="64.54" y2="244.26" stroke="#666" stroke-width="0.7" />
<line x1="64.54" y1="188.14" x2="64.54" y2="191.34" stroke="#666" stroke-width="0.7" />
<line x1="70.39" y1="247.46" x2="70.39" y2="245.66" stroke="#666" stroke-width="0.7" />
<line x1="70.39" y1="188.14" x2="70.39" y2="189.94" stroke="#666" stroke-width="0.7" />
<line x1="76.24" y1="247.46" x2="76.24" y2="245.66" stroke="#666" stroke-width="0.7" />
<line x1="76.24" y1="188.14" x2="76.24" y2="189.94" stroke="#666" stroke-width="0.7" />
<line x1="82.09" y1="247.46" x2="82.09" y2="244.26" stroke="#666" stroke-width="0.7" />
<line x1="82.09" y1="188.14" x2="82.09" y2="191.34" stroke="#666" stroke-width="0.7" />
<line x1="87.94" y1="247.46" x2="87.94" y2="245.66" stroke="#666" stroke-width="0.7" />
<line x1="87.94" y1="188.14" x2="87.94" y2="189.94" stroke="#666" stroke-width="0.7" />
<line x1="93.79" y1="247.46" x2="93.79" y2="245.66" stroke="#666" stroke-width="0.7" />
<line x1="93.79" y1="188.14" x2="93.79" y2="189.94" stroke="#666" stroke-width="0.7" />
<line x1="99.64" y1="247.46" x2="99.64" y2="244.26" stroke="#666" stroke-width="0.7" />
<line x1="99.64" y1="188.14" x2="99.64" y2="191.34" stroke="#666" stroke-width="0.7" />
<line x1="105.49" y1="247.46" x2="105.49" y2="245.66" stroke="#666" stroke-width="0.7" />
<line x1="105.49" y1="188.14" x2="105.49" y2="189.94" stroke="#666" stroke-width="0.7" />
<line x1="111.34" y1="247.46" x2="111.34" y2="245.66" stroke="#666" stroke-width="0.7" />
<line x1="111.34" y1="188.14" x2="111.34" y2="189.94" stroke="#666" stroke-width="0.7" />
<line x1="117.18" y1="247.46" x2="117.18" y2="244.26" stroke="#666" stroke-width="0.7" />
<line x1="117.18" y1="188.14" x2="117.18" y2="191.34" stroke="#666" stroke-width="0.7" />
<line x1="123.03" y1="247.46" x2="123.03" y2="245.66" stroke="#666" stroke-width="0.7" />
<line x1="123.03" y1="188.14" x2="123.03" y2="189.94" stroke="#666" stroke-width="0.7" />
<line x1="128.88" y1="247.46" x2="128.88" y2="245.66" stroke="#666" stroke-width="0.7" />
<line x1="128.88" y1="188.14" x2="128.88" y2="189.94" stroke="#666" stroke-width="0.7" />
<line x1="134.73" y1="247.46" x2="134.73" y2="244.26" stroke="#666" stroke-width="0.7" />
<line x1="134.73" y1="188.14" x2="134.73" y2="191.34" stroke="#666" stroke-width="0.7" />
<line x1="140.58" y1="247.46" x2="140.58" y2="245.66" stroke="#666" stroke-width="0.7" />
<line x1="140.58" y1="188.14" x2="140.58" y2="189.94" stroke="#666" stroke-width="0.7" />
<line x1="146.43" y1="247.46" x2="146.43" y2="245.66" stroke="#666" stroke-width="0.7" />
<line x1="146.43" y1="188.14" x2="146.43" y2="189.94" stroke="#666" stroke-width="0.7" />
<line x1="152.28" y1="247.46" x2="152.28" y2="244.26" stroke="#666" stroke-width="0.7" />
<line x1="152.28" y1="188.14" x2="152.28" y2="191.34" stroke="#666" stroke-width="0.7" />
<line x1="158.13" y1="247.46" x2="158.13" y2="245.66" stroke="#666" stroke-width="0.7" />
<line x1="158.13" y1="188.14" x2="158.13" y2="189.94" stroke="#666" stroke-width="0.7" />
<line x1="163.98" y1="247.46" x2="163.98" y2="245.66" stroke="#666" stroke-width="0.7" />
<line x1="163.98" y1="188.14" x2="163.98" y2="189.94" stroke="#666" stroke-width="0.7" />
<line x1="169.82" y1="247.46" x2="169.82" y2="244.26" stroke="#666" stroke-width="0.7" />
<line x1="169.82" y1="188.14" x2="169.82" y2="191.34" stroke="#666" stroke-width="0.7" />
<line x1="175.67" y1="247.46" x2="175.67" y2="245.66" stroke="#666" stroke-width="0.7" />
<line x1="175.67" y1="188.14" x2="175.67" y2="189.94" stroke="#666" stroke-width="0.7" />
<line x1="181.52" y1="247.46" x2="181.52" y2="245.66" stroke="#666" stroke-width="0.7" />
<line x1="181.52" y1="188.14" x2="181.52" y2="189.94" stroke="#666" stroke-width="0.7" />
<line x1="187.37" y1="247.46" x2="187.37" y2="244.26" stroke="#666" stroke-width="0.7" />
<line x1="187.37" y1="188.14" x2="187.37" y2="191.34" stroke="#666" stroke-width="0.7" />
<line x1="193.22" y1="247.46" x2="193.22" y2="245.66" stroke="#666" stroke-width="0.7" />
<line x1="193.22" y1="188.14" x2="193.22" y2="189.94" stroke="#666" stroke-width="0.7" />
<line x1="199.07" y1="247.46" x2="199.07" y2="245.66" stroke="#666" stroke-width="0.7" />
<line x1="199.07" y1="188.14" x2="199.07" y2="189.94" stroke="#666" stroke-width="0.7" />
<line x1="204.92" y1="247.46" x2="204.92" y2="244.26" stroke="#666" stroke-width="0.7" />
<line x1="204.92" y1="188.14" x2="204.92" y2="191.34" stroke="#666" stroke-width="0.7" />
<line x1="210.77" y1="247.46" x2="210.77" y2="245.66" stroke="#666" stroke-width="0.7" />
<line x1="210.77" y1="188.14" x2="210.77" y2="189.94" stroke="#666" stroke-width="0.7" />
<line x1="216.62" y1="247.46" x2="216.62" y2="245.66" stroke="#666" stroke-width="0.7" />
<line x1="216.62" y1="188.14" x2="216.62" y2="189.94" stroke="#666" stroke-width="0.7" />
<line x1="222.47" y1="247.46" x2="222.47" y2="244.26" stroke="#666" stroke-width="0.7" />
<line x1="222.47" y1="188.14" x2="222.47" y2="191.34" stroke="#666" stroke-width="0.7" />
<line x1="228.31" y1="247.46" x2="228.31" y2="245.66" stroke="#666" stroke-width="0.7" />
<line x1="228.31" y1="188.14" x2="228.31" y2="189.94" stroke="#666" stroke-width="0.7" />
<line x1="234.16" y1="247.46" x2="234.16" y2="245.66" stroke="#666" stroke-width="0.7" />
<line x1="234.16" y1="188.14" x2="234.16" y2="189.94" stroke="#666" stroke-width="0.7" />
<line x1="240.01" y1="247.46" x2="240.01" y2="244.26" stroke="#666" stroke-width="0.7" />
<line x1="240.01" y1="188.14" x2="240.01" y2="191.34" stroke="#666" stroke-width="0.7" />
<line x1="245.86" y1="247.46" x2="245.86" y2="245.66" stroke="#666" stroke-width="0.7" />
<line x1="245.86" y1="188.14" x2="245.86" y2="189.94" stroke="#666" stroke-width="0.7" />
<line x1="251.71" y1="247.46" x2="251.71" y2="245.66" stroke="#666" stroke-width="0.7" />
<line x1="251.71" y1="188.14" x2="251.71" y2="189.94" stroke="#666" stroke-width="0.7" />
<line x1="257.56" y1="247.46" x2="257.56" y2="244.26" stroke="#666" stroke-width="0.7" />
<line x1="257.56" y1="188.14" x2="257.56" y2="191.34" stroke="#666" stroke-width="0.7" />
<line x1="263.41" y1="247.46" x2="263.41" y2="245.66" stroke="#666" stroke-width="0.7" />
<line x1="263.41" y1="188.14" x2="263.41" y2="189.94" stroke="#666" stroke-width="0.7" />
<line x1="269.26" y1="247.46" x2="269.26" y2="245.66" stroke="#666" stroke-width="0.7" />
<line x1="269.26" y1="188.14" x2="269.26" y2="189.94" stroke="#666" stroke-width="0.7" />
<line x1="275.11" y1="247.46" x2="275.11" y2="244.26" stroke="#666" stroke-width="0.7" />
<line x1="275.11" y1="188.14" x2="275.11" y2="191.34" stroke="#666" stroke-width="0.7" />
<line x1="280.96" y1="247.46" x2="280.96" y2="245.66" stroke="#666" stroke-width="0.7" />
<line x1="280.96" y1="188.14" x2="280.96" y2="189.94" stroke="#666" stroke-width="0.7" />
<line x1="286.8" y1="247.46" x2="286.8" y2="245.66" stroke="#666" stroke-width="0.7" />
<line x1="286.8" y1="188.14" x2="286.8" y2="189.94" stroke="#666" stroke-width="0.7" />
<line x1="292.65" y1="247.46" x2="292.65" y2="244.26" stroke="#666" stroke-width="0.7" />
<line x1="292.65" y1="188.14" x2="292.65" y2="191.34" stroke="#666" stroke-width="0.7" />
<line x1="298.5" y1="247.46" x2="298.5" y2="245.66" stroke="#666" stroke-width="0.7" />
<line x1="298.5" y1="188.14" x2="298.5" y2="189.94" stroke="#666" stroke-width="0.7" />
<line x1="304.35" y1="247.46" x2="304.35" y2="245.66" stroke="#666" stroke-width="0.7" />
<line x1="304.35" y1="188.14" x2="304.35" y2="189.94" stroke="#666" stroke-width="0.7" />
<line x1="35.3" y1="306.77" x2="35.3" y2="304.97" stroke="#666" stroke-width="0.7" />
<line x1="35.3" y1="247.46" x2="35.3" y2="249.26" stroke="#666" stroke-width="0.7" />
<line x1="41.15" y1="306.77" x2="41.15" y2="304.97" stroke="#666" stroke-width="0.7" />
<line x1="41.15" y1="247.46" x2="41.15" y2="249.26" stroke="#666" stroke-width="0.7" />
<line x1="47" y1="306.77" x2="47" y2="303.57" stroke="#666" stroke-width="0.7" />
<line x1="47" y1="247.46" x2="47" y2="250.66" stroke="#666" stroke-width="0.7" />
<line x1="52.85" y1="306.77" x2="52.85" y2="304.97" stroke="#666" stroke-width="0.7" />
<line x1="52.85" y1="247.46" x2="52.85" y2="249.26" stroke="#666" stroke-width="0.7" />
<line x1="58.69" y1="306.77" x2="58.69" y2="304.97" stroke="#666" stroke-width="0.7" />
<line x1="58.69" y1="247.46" x2="58.69" y2="249.26" stroke="#666" stroke-width="0.7" />
<line x1="64.54" y1="306.77" x2="64.54" y2="303.57" stroke="#666" stroke-width="0.7" />
<line x1="64.54" y1="247.46" x2="64.54" y2="250.66" stroke="#666" stroke-width="0.7" />
<line x1="70.39" y1="306.77" x2="70.39" y2="304.97" stroke="#666" stroke-width="0.7" />
<line x1="70.39" y1="247.46" x2="70.39" y2="249.26" stroke="#666" stroke-width="0.7" />
<line x1="76.24" y1="306.77" x2="76.24" y2="304.97" stroke="#666" stroke-width="0.7" />
<line x1="76.24" y1="247.46" x2="76.24" y2="249.26" stroke="#666" stroke-width="0.7" />
<line x1="82.09" y1="306.77" x2="82.09" y2="303.57" stroke="#666" stroke-width="0.7" />
<line x1="82.09" y1="247.46" x2="82.09" y2="250.66" stroke="#666" stroke-width="0.7" />
<line x1="87.94" y1="306.77" x2="87.94" y2="304.97" stroke="#666" stroke-width="0.7" />
<line x1="87.94" y1="247.46" x2="87.94" y2="249.26" stroke="#666" stroke-width="0.7" />
<line x1="93.79" y1="306.77" x2="93.79" y2="304.97" stroke="#666" stroke-width="0.7" />
<line x1="93.79" y1="247.46" x2="93.79" y2="249.26" stroke="#666" stroke-width="0.7" />
<line x1="99.64" y1="306.77" x2="99.64" y2="303.57" stroke="#666" stroke-width="0.7" />
<line x1="99.64" y1="247.46" x2="99.64" y2="250.66" stroke="#666" stroke-width="0.7" />
<line x1="105.49" y1="306.77" x2="105.49" y2="304.97" stroke="#666" stroke-width="0.7" />
<line x1="105.49" y1="247.46" x2="105.49" y2="249.26" stroke="#666" stroke-width="0.7" />
<line x1="111.34" y1="306.77" x2="111.34" y2="304.97" stroke="#666" stroke-width="0.7" />
<line x1="111.34" y1="247.46" x2="111.34" y2="249.26" stroke="#666" stroke-width="0.7" />
<line x1="117.18" y1="306.77" x2="117.18" y2="303.57" stroke="#666" stroke-width="0.7" />
<line x1="117.18" y1="247.46" x2="117.18" y2="250.66" stroke="#666" stroke-width="0.7" />
<line x1="123.03" y1="306.77" x2="123.03" y2="304.97" stroke="#666" stroke-width="0.7" />
<line x1="123.03" y1="247.46" x2="123.03" y2="249.26" stroke="#666" stroke-width="0.7" />
<line x1="128.88" y1="306.77" x2="128.88" y2="304.97" stroke="#666" stroke-width="0.7" />
<line x1="128.88" y1="247.46" x2="128.88" y2="249.26" stroke="#666" stroke-width="0.7" />
<line x1="134.73" y1="306.77" x2="134.73" y2="303.57" stroke="#666" stroke-width="0.7" />
<line x1="134.73" y1="247.46" x2="134.73" y2="250.66" stroke="#666" stroke-width="0.7" />
<line x1="140.58" y1="306.77" x2="140.58" y2="304.97" stroke="#666" stroke-width="0.7" />
<line x1="140.58" y1="247.46" x2="140.58" y2="249.26" stroke="#666" stroke-width="0.7" />
<line x1="146.43" y1="306.77" x2="146.43" y2="304.97" stroke="#666" stroke-width="0.7" />
<line x1="146.43" y1="247.46" x2="146.43" y2="249.26" stroke="#666" stroke-width="0.7" />
<line x1="152.28" y1="306.77" x2="152.28" y2="303.57" stroke="#666" stroke-width="0.7" />
<line x1="152.28" y1="247.46" x2="152.28" y2="250.66" stroke="#666" stroke-width="0.7" />
<line x1="158.13" y1="306.77" x2="158.13" y2="304.97" stroke="#666" stroke-width="0.7" />
<line x1="158.13" y1="247.46" x2="158.13" y2="249.26" stroke="#666" stroke-width="0.7" />
<line x1="163.98" y1="306.77" x2="163.98" y2="304.97" stroke="#666" stroke-width="0.7" />
<line x1="163.98" y1="247.46" x2="163.98" y2="249.26" stroke="#666" stroke-width="0.7" />
<line x1="169.82" y1="306.77" x2="169.82" y2="303.57" stroke="#666" stroke-width="0.7" />
<line x1="169.82" y1="247.46" x2="169.82" y2="250.66" stroke="#666" stroke-width="0.7" />
<line x1="175.67" y1="306.77" x2="175.67" y2="304.97" stroke="#666" stroke-width="0.7" />
<line x1="175.67" y1="247.46" x2="175.67" y2="249.26" stroke="#666" stroke-width="0.7" />
<line x1="181.52" y1="306.77" x2="181.52" y2="304.97" stroke="#666" stroke-width="0.7" />
<line x1="181.52" y1="247.46" x2="181.52" y2="249.26" stroke="#666" stroke-width="0.7" />
<line x1="187.37" y1="306.77" x2="187.37" y2="303.57" stroke="#666" stroke-width="0.7" />
<line x1="187.37" y1="247.46" x2="187.37" y2="250.66" stroke="#666" stroke-width="0.7" />
<line x1="193.22" y1="306.77" x2="193.22" y2="304.97" stroke="#666" stroke-width="0.7" />
<line x1="193.22" y1="247.46" x2="193.22" y2="249.26" stroke="#666" stroke-width="0.7" />
<line x1="199.07" y1="306.77" x2="199.07" y2="304.97" stroke="#666" stroke-width="0.7" />
<line x1="199.07" y1="247.46" x2="199.07" y2="249.26" stroke="#666" stroke-width="0.7" />
<line x1="204.92" y1="306.77" x2="204.92" y2="303.57" stroke="#666" stroke-width="0.7" />
<line x1="204.92" y1="247.46" x2="204.92" y2="250.66" stroke="#666" stroke-width="0.7" />
<line x1="210.77" y1="306.77" x2="210.77" y2="304.97" stroke="#666" stroke-width="0.7" />
<line x1="210.77" y1="247.46" x2="210.77" y2="249.26" stroke="#666" stroke-width="0.7" />
<line x1="216.62" y1="306.77" x2="216.62" y2="304.97" stroke="#666" stroke-width="0.7" />
<line x1="216.62" y1="247.46" x2="216.62" y2="249.26" stroke="#666" stroke-width="0.7" />
<line x1="222.47" y1="306.77" x2="222.47" y2="303.57" stroke="#666" stroke-width="0.7" />
<line x1="222.47" y1="247.46" x2="222.47" y2="250.66" stroke="#666" stroke-width="0.7" />
<line x1="228.31" y1="306.77" x2="228.31" y2="304.97" stroke="#666" stroke-width="0.7" />
<line x1="228.31" y1="247.46" x2="228.31" y2="249.26" stroke="#666" stroke-width="0.7" />
<line x1="234.16" y1="306.77" x2="234.16" y2="304.97" stroke="#666" stroke-width="0.7" />
<line x1="234.16" y1="247.46" x2="234.16" y2="249.26" stroke="#666" stroke-width="0.7" />
<line x1="240.01" y1="306.77" x2="240.01" y2="303.57" stroke="#666" stroke-width="0.7" />
<line x1="240.01" y1="247.46" x2="240.01" y2="250.66" stroke="#666" stroke-width="0.7" />
<line x1="245.86" y1="306.77" x2="245.86" y2="304.97" stroke="#666" stroke-width="0.7" />
<line x1="245.86" y1="247.46" x2="245.86" y2="249.26" stroke="#666" stroke-width="0.7" />
<line x1="251.71" y1="306.77" x2="251.71" y2="304.97" stroke="#666" stroke-width="0.7" />
<line x1="251.71" y1="247.46" x2="251.71" y2="249.26" stroke="#666" stroke-width="0.7" />
<line x1="257.56" y1="306.77" x2="257.56" y2="303.57" stroke="#666" stroke-width="0.7" />
<line x1="257.56" y1="247.46" x2="257.56" y2="250.66" stroke="#666" stroke-width="0.7" />
<line x1="263.41" y1="306.77" x2="263.41" y2="304.97" stroke="#666" stroke-width="0.7" />
<line x1="263.41" y1="247.46" x2="263.41" y2="249.26" stroke="#666" stroke-width="0.7" />
<line x1="269.26" y1="306.77" x2="269.26" y2="304.97" stroke="#666" stroke-width="0.7" />
<line x1="269.26" y1="247.46" x2="269.26" y2="249.26" stroke="#666" stroke-width="0.7" />
<line x1="275.11" y1="306.77" x2="275.11" y2="303.57" stroke="#666" stroke-width="0.7" />
<line x1="275.11" y1="247.46" x2="275.11" y2="250.66" stroke="#666" stroke-width="0.7" />
<line x1="280.96" y1="306.77" x2="280.96" y2="304.97" stroke="#666" stroke-width="0.7" />
<line x1="280.96" y1="247.46" x2="280.96" y2="249.26" stroke="#666" stroke-width="0.7" />
<line x1="286.8" y1="306.77" x2="286.8" y2="304.97" stroke="#666" stroke-width="0.7" />
<line x1="286.8" y1="247.46" x2="286.8" y2="249.26" stroke="#666" stroke-width="0.7" />
<line x1="292.65" y1="306.77" x2="292.65" y2="303.57" stroke="#666" stroke-width="0.7" />
<line x1="292.65" y1="247.46" x2="292.65" y2="250.66" stroke="#666" stroke-width="0.7" />
<line x1="298.5" y1="306.77" x2="298.5" y2="304.97" stroke="#666" stroke-width="0.7" />
<line x1="298.5" y1="247.46" x2="298.5" y2="249.26" stroke="#666" stroke-width="0.7" />
<line x1="304.35" y1="306.77" x2="304.35" y2="304.97" stroke="#666" stroke-width="0.7" />
<line x1="304.35" y1="247.46" x2="304.35" y2="249.26" stroke="#666" stroke-width="0.7" />
<line x1="35.3" y1="366.09" x2="35.3" y2="364.29" stroke="#666" stroke-width="0.7" />
<line x1="35.3" y1="306.77" x2="35.3" y2="308.57" stroke="#666" stroke-width="0.7" />
<line x1="41.15" y1="366.09" x2="41.15" y2="364.29" stroke="#666" stroke-width="0.7" />
<line x1="41.15" y1="306.77" x2="41.15" y2="308.57" stroke="#666" stroke-width="0.7" />
<line x1="47" y1="366.09" x2="47" y2="362.89" stroke="#666" stroke-width="0.7" />
<line x1="47" y1="306.77" x2="47" y2="309.97" stroke="#666" stroke-width="0.7" />
<line x1="52.85" y1="366.09" x2="52.85" y2="364.29" stroke="#666" stroke-width="0.7" />
<line x1="52.85" y1="306.77" x2="52.85" y2="308.57" stroke="#666" stroke-width="0.7" />
<line x1="58.69" y1="366.09" x2="58.69" y2="364.29" stroke="#666" stroke-width="0.7" />
<line x1="58.69" y1="306.77" x2="58.69" y2="308.57" stroke="#666" stroke-width="0.7" />
<line x1="64.54" y1="366.09" x2="64.54" y2="362.89" stroke="#666" stroke-width="0.7" />
<line x1="64.54" y1="306.77" x2="64.54" y2="309.97" stroke="#666" stroke-width="0.7" />
<line x1="70.39" y1="366.09" x2="70.39" y2="364.29" stroke="#666" stroke-width="0.7" />
<line x1="70.39" y1="306.77" x2="70.39" y2="308.57" stroke="#666" stroke-width="0.7" />
<line x1="76.24" y1="366.09" x2="76.24" y2="364.29" stroke="#666" stroke-width="0.7" />
<line x1="76.24" y1="306.77" x2="76.24" y2="308.57" stroke="#666" stroke-width="0.7" />
<line x1="82.09" y1="366.09" x2="82.09" y2="362.89" stroke="#666" stroke-width="0.7" />
<line x1="82.09" y1="306.77" x2="82.09" y2="309.97" stroke="#666" stroke-width="0.7" />
<line x1="87.94" y1="366.09" x2="87.94" y2="364.29" stroke="#666" stroke-width="0.7" />
<line x1="87.94" y1="306.77" x2="87.94" y2="308.57" stroke="#666" stroke-width="0.7" />
<line x1="93.79" y1="366.09" x2="93.79" y2="364.29" stroke="#666" stroke-width="0.7" />
<line x1="93.79" y1="306.77" x2="93.79" y2="308.57" stroke="#666" stroke-width="0.7" />
<line x1="99.64" y1="366.09" x2="99.64" y2="362.89" stroke="#666" stroke-width="0.7" />
<line x1="99.64" y1="306.77" x2="99.64" y2="309.97" stroke="#666" stroke-width="0.7" />
<line x1="105.49" y1="366.09" x2="105.49" y2="364.29" stroke="#666" stroke-width="0.7" />
<line x1="105.49" y1="306.77" x2="105.49" y2="308.57" stroke="#666" stroke-width="0.7" />
<line x1="111.34" y1="366.09" x2="111.34" y2="364.29" stroke="#666" stroke-width="0.7" />
<line x1="111.34" y1="306.77" x2="111.34" y2="308.57" stroke="#666" stroke-width="0.7" />
<line x1="117.18" y1="366.09" x2="117.18" y2="362.89" stroke="#666" stroke-width="0.7" />
<line x1="117.18" y1="306.77" x2="117.18" y2="309.97" stroke="#666" stroke-width="0.7" />
<line x1="123.03" y1="366.09" x2="123.03" y2="364.29" stroke="#666" stroke-width="0.7" />
<line x1="123.03" y1="306.77" x2="123.03" y2="308.57" stroke="#666" stroke-width="0.7" />
<line x1="128.88" y1="366.09" x2="128.88" y2="364.29" stroke="#666" stroke-width="0.7" />
<line x1="128.88" y1="306.77" x2="128.88" y2="308.57" stroke="#666" stroke-width="0.7" />
<line x1="134.73" y1="366.09" x2="134.73" y2="362.89" stroke="#666" stroke-width="0.7" />
<line x1="134.73" y1="306.77" x2="134.73" y2="309.97" stroke="#666" stroke-width="0.7" />
<line x1="140.58" y1="366.09" x2="140.58" y2="364.29" stroke="#666" stroke-width="0.7" />
<line x1="140.58" y1="306.77" x2="140.58" y2="308.57" stroke="#666" stroke-width="0.7" />
<line x1="146.43" y1="366.09" x2="146.43" y2="364.29" stroke="#666" stroke-width="0.7" />
<line x1="146.43" y1="306.77" x2="146.43" y2="308.57" stroke="#666" stroke-width="0.7" />
<line x1="152.28" y1="366.09" x2="152.28" y2="362.89" stroke="#666" stroke-width="0.7" />
<line x1="152.28" y1="306.77" x2="152.28" y2="309.97" stroke="#666" stroke-width="0.7" />
<line x1="158.13" y1="366.09" x2="158.13" y2="364.29" stroke="#666" stroke-width="0.7" />
<line x1="158.13" y1="306.77" x2="158.13" y2="308.57" stroke="#666" stroke-width="0.7" />
<line x1="163.98" y1="366.09" x2="163.98" y2="364.29" stroke="#666" stroke-width="0.7" />
<line x1="163.98" y1="306.77" x2="163.98" y2="308.57" stroke="#666" stroke-width="0.7" />
<line x1="169.82" y1="366.09" x2="169.82" y2="362.89" stroke="#666" stroke-width="0.7" />
<line x1="169.82" y1="306.77" x2="169.82" y2="309.97" stroke="#666" stroke-width="0.7" />
<line x1="175.67" y1="366.09" x2="175.67" y2="364.29" stroke="#666" stroke-width="0.7" />
<line x1="175.67" y1="306.77" x2="175.67" y2="308.57" stroke="#666" stroke-width="0.7" />
<line x1="181.52" y1="366.09" x2="181.52" y2="364.29" stroke="#666" stroke-width="0.7" />
<line x1="181.52" y1="306.77" x2="181.52" y2="308.57" stroke="#666" stroke-width="0.7" />
<line x1="187.37" y1="366.09" x2="187.37" y2="362.89" stroke="#666" stroke-width="0.7" />
<line x1="187.37" y1="306.77" x2="187.37" y2="309.97" stroke="#666" stroke-width="0.7" />
<line x1="193.22" y1="366.09" x2="193.22" y2="364.29" stroke="#666" stroke-width="0.7" />
<line x1="193.22" y1="306.77" x2="193.22" y2="308.57" stroke="#666" stroke-width="0.7" />
<line x1="199.07" y1="366.09" x2="199.07" y2="364.29" stroke="#666" stroke-width="0.7" />
<line x1="199.07" y1="306.77" x2="199.07" y2="308.57" stroke="#666" stroke-width="0.7" />
<line x1="204.92" y1="366.09" x2="204.92" y2="362.89" stroke="#666" stroke-width="0.7" />
<line x1="204.92" y1="306.77" x2="204.92" y2="309.97" stroke="#666" stroke-width="0.7" />
<line x1="210.77" y1="366.09" x2="210.77" y2="364.29" stroke="#666" stroke-width="0.7" />
<line x1="210.77" y1="306.77" x2="210.77" y2="308.57" stroke="#666" stroke-width="0.7" />
<line x1="216.62" y1="366.09" x2="216.62" y2="364.29" stroke="#666" stroke-width="0.7" />
<line x1="216.62" y1="306.77" x2="216.62" y2="308.57" stroke="#666" stroke-width="0.7" />
<line x1="222.47" y1="366.09" x2="222.47" y2="362.89" stroke="#666" stroke-width="0.7" />
<line x1="222.47" y1="306.77" x2="222.47" y2="309.97" stroke="#666" stroke-width="0.7" />
<line x1="228.31" y1="366.09" x2="228.31" y2="364.29" stroke="#666" stroke-width="0.7" />
<line x1="228.31" y1="306.77" x2="228.31" y2="308.57" stroke="#666" stroke-width="0.7" />
<line x1="234.16" y1="366.09" x2="234.16" y2="364.29" stroke="#666" stroke-width="0.7" />
<line x1="234.16" y1="306.77" x2="234.16" y2="308.57" stroke="#666" stroke-width="0.7" />
<line x1="240.01" y1="366.09" x2="240.01" y2="362.89" stroke="#666" stroke-width="0.7" />
<line x1="240.01" y1="306.77" x2="240.01" y2="309.97" stroke="#666" stroke-width="0.7" />
<line x1="245.86" y1="366.09" x2="245.86" y2="364.29" stroke="#666" stroke-width="0.7" />
<line x1="245.86" y1="306.77" x2="245.86" y2="308.57" stroke="#666" stroke-width="0.7" />
<line x1="251.71" y1="366.09" x2="251.71" y2="364.29" stroke="#666" stroke-width="0.7" />
<line x1="251.71" y1="306.77" x2="251.71" y2="308.57" stroke="#666" stroke-width="0.7" />
<line x1="257.56" y1="366.09" x2="257.56" y2="362.89" stroke="#666" stroke-width="0.7" />
<line x1="257.56" y1="306.77" x2="257.56" y2="309.97" stroke="#666" stroke-width="0.7" />
<line x1="263.41" y1="366.09" x2="263.41" y2="364.29" stroke="#666" stroke-width="0.7" />
<line x1="263.41" y1="306.77" x2="263.41" y2="308.57" stroke="#666" stroke-width="0.7" />
<line x1="269.26" y1="366.09" x2="269.26" y2="364.29" stroke="#666" stroke-width="0.7" />
<line x1="269.26" y1="306.77" x2="269.26" y2="308.57" stroke="#666" stroke-width="0.7" />
<line x1="275.11" y1="366.09" x2="275.11" y2="362.89" stroke="#666" stroke-width="0.7" />
<line x1="275.11" y1="306.77" x2="275.11" y2="309.97" stroke="#666" stroke-width="0.7" />
<line x1="280.96" y1="366.09" x2="280.96" y2="364.29" stroke="#666" stroke-width="0.7" />
<line x1="280.96" y1="306.77" x2="280.96" y2="308.57" stroke="#666" stroke-width="0.7" />
<line x1="286.8" y1="366.09" x2="286.8" y2="364.29" stroke="#666" stroke-width="0.7" />
<line x1="286.8" y1="306.77" x2="286.8" y2="308.57" stroke="#666" stroke-width="0.7" />
<line x1="292.65" y1="366.09" x2="292.65" y2="362.89" stroke="#666" stroke-width="0.7" />
<line x1="292.65" y1="306.77" x2="292.65" y2="309.97" stroke="#666" stroke-width="0.7" />
<line x1="298.5" y1="366.09" x2="298.5" y2="364.29" stroke="#666" stroke-width="0.7" />
<line x1="298.5" y1="306.77" x2="298.5" y2="308.57" stroke="#666" stroke-width="0.7" />
<line x1="304.35" y1="366.09" x2="304.35" y2="364.29" stroke="#666" stroke-width="0.7" />
<line x1="304.35" y1="306.77" x2="304.35" y2="308.57" stroke="#666" stroke-width="0.7" />
<line x1="35.3" y1="425.4" x2="35.3" y2="423.6" stroke="#666" stroke-width="0.7" />
<line x1="35.3" y1="366.09" x2="35.3" y2="367.89" stroke="#666" stroke-width="0.7" />
<line x1="41.15" y1="425.4" x2="41.15" y2="423.6" stroke="#666" stroke-width="0.7" />
<line x1="41.15" y1="366.09" x2="41.15" y2="367.89" stroke="#666" stroke-width="0.7" />
<line x1="47" y1="425.4" x2="47" y2="422.2" stroke="#666" stroke-width="0.7" />
<line x1="47" y1="366.09" x2="47" y2="369.29" stroke="#666" stroke-width="0.7" />
<line x1="52.85" y1="425.4" x2="52.85" y2="423.6" stroke="#666" stroke-width="0.7" />
<line x1="52.85" y1="366.09" x2="52.85" y2="367.89" stroke="#666" stroke-width="0.7" />
<line x1="58.69" y1="425.4" x2="58.69" y2="423.6" stroke="#666" stroke-width="0.7" />
<line x1="58.69" y1="366.09" x2="58.69" y2="367.89" stroke="#666" stroke-width="0.7" />
<line x1="64.54" y1="425.4" x2="64.54" y2="422.2" stroke="#666" stroke-width="0.7" />
<line x1="64.54" y1="366.09" x2="64.54" y2="369.29" stroke="#666" stroke-width="0.7" />
<line x1="70.39" y1="425.4" x2="70.39" y2="423.6" stroke="#666" stroke-width="0.7" />
<line x1="70.39" y1="366.09" x2="70.39" y2="367.89" stroke="#666" stroke-width="0.7" />
<line x1="76.24" y1="425.4" x2="76.24" y2="423.6" stroke="#666" stroke-width="0.7" />
<line x1="76.24" y1="366.09" x2="76.24" y2="367.89" stroke="#666" stroke-width="0.7" />
<line x1="82.09" y1="425.4" x2="82.09" y2="422.2" stroke="#666" stroke-width="0.7" />
<line x1="82.09" y1="366.09" x2="82.09" y2="369.29" stroke="#666" stroke-width="0.7" />
<line x1="87.94" y1="425.4" x2="87.94" y2="423.6" stroke="#666" stroke-width="0.7" />
<line x1="87.94" y1="366.09" x2="87.94" y2="367.89" stroke="#666" stroke-width="0.7" />
<line x1="93.79" y1="425.4" x2="93.79" y2="423.6" stroke="#666" stroke-width="0.7" />
<line x1="93.79" y1="366.09" x2="93.79" y2="367.89" stroke="#666" stroke-width="0.7" />
<line x1="99.64" y1="425.4" x2="99.64" y2="422.2" stroke="#666" stroke-width="0.7" />
<line x1="99.64" y1="366.09" x2="99.64" y2="369.29" stroke="#666" stroke-width="0.7" />
<line x1="105.49" y1="425.4" x2="105.49" y2="423.6" stroke="#666" stroke-width="0.7" />
<line x1="105.49" y1="366.09" x2="105.49" y2="367.89" stroke="#666" stroke-width="0.7" />
<line x1="111.34" y1="425.4" x2="111.34" y2="423.6" stroke="#666" stroke-width="0.7" />
<line x1="111.34" y1="366.09" x2="111.34" y2="367.89" stroke="#666" stroke-width="0.7" />
<line x1="117.18" y1="425.4" x2="117.18" y2="422.2" stroke="#666" stroke-width="0.7" />
<line x1="117.18" y1="366.09" x2="117.18" y2="369.29" stroke="#666" stroke-width="0.7" />
<line x1="123.03" y1="425.4" x2="123.03" y2="423.6" stroke="#666" stroke-width="0.7" />
<line x1="123.03" y1="366.09" x2="123.03" y2="367.89" stroke="#666" stroke-width="0.7" />
<line x1="128.88" y1="425.4" x2="128.88" y2="423.6" stroke="#666" stroke-width="0.7" />
<line x1="128.88" y1="366.09" x2="128.88" y2="367.89" stroke="#666" stroke-width="0.7" />
<line x1="134.73" y1="425.4" x2="134.73" y2="422.2" stroke="#666" stroke-width="0.7" />
<line x1="134.73" y1="366.09" x2="134.73" y2="369.29" stroke="#666" stroke-width="0.7" />
<line x1="140.58" y1="425.4" x2="140.58" y2="423.6" stroke="#666" stroke-width="0.7" />
<line x1="140.58" y1="366.09" x2="140.58" y2="367.89" stroke="#666" stroke-width="0.7" />
<line x1="146.43" y1="425.4" x2="146.43" y2="423.6" stroke="#666" stroke-width="0.7" />
<line x1="146.43" y1="366.09" x2="146.43" y2="367.89" stroke="#666" stroke-width="0.7" />
<line x1="152.28" y1="425.4" x2="152.28" y2="422.2" stroke="#666" stroke-width="0.7" />
<line x1="152.28" y1="366.09" x2="152.28" y2="369.29" stroke="#666" stroke-width="0.7" />
<line x1="158.13" y1="425.4" x2="158.13" y2="423.6" stroke="#666" stroke-width="0.7" />
<line x1="158.13" y1="366.09" x2="158.13" y2="367.89" stroke="#666" stroke-width="0.7" />
<line x1="163.98" y1="425.4" x2="163.98" y2="423.6" stroke="#666" stroke-width="0.7" />
<line x1="163.98" y1="366.09" x2="163.98" y2="367.89" stroke="#666" stroke-width="0.7" />
<line x1="169.82" y1="425.4" x2="169.82" y2="422.2" stroke="#666" stroke-width="0.7" />
<line x1="169.82" y1="366.09" x2="169.82" y2="369.29" stroke="#666" stroke-width="0.7" />
<line x1="175.67" y1="425.4" x2="175.67" y2="423.6" stroke="#666" stroke-width="0.7" />
<line x1="175.67" y1="366.09" x2="175.67" y2="367.89" stroke="#666" stroke-width="0.7" />
<line x1="181.52" y1="425.4" x2="181.52" y2="423.6" stroke="#666" stroke-width="0.7" />
<line x1="181.52" y1="366.09" x2="181.52" y2="367.89" stroke="#666" stroke-width="0.7" />
<line x1="187.37" y1="425.4" x2="187.37" y2="422.2" stroke="#666" stroke-width="0.7" />
<line x1="187.37" y1="366.09" x2="187.37" y2="369.29" stroke="#666" stroke-width="0.7" />
<line x1="193.22" y1="425.4" x2="193.22" y2="423.6" stroke="#666" stroke-width="0.7" />
<line x1="193.22" y1="366.09" x2="193.22" y2="367.89" stroke="#666" stroke-width="0.7" />
<line x1="199.07" y1="425.4" x2="199.07" y2="423.6" stroke="#666" stroke-width="0.7" />
<line x1="199.07" y1="366.09" x2="199.07" y2="367.89" stroke="#666" stroke-width="0.7" />
<line x1="204.92" y1="425.4" x2="204.92" y2="422.2" stroke="#666" stroke-width="0.7" />
<line x1="204.92" y1="366.09" x2="204.92" y2="369.29" stroke="#666" stroke-width="0.7" />
<line x1="210.77" y1="425.4" x2="210.77" y2="423.6" stroke="#666" stroke-width="0.7" />
<line x1="210.77" y1="366.09" x2="210.77" y2="367.89" stroke="#666" stroke-width="0.7" />
<line x1="216.62" y1="425.4" x2="216.62" y2="423.6" stroke="#666" stroke-width="0.7" />
<line x1="216.62" y1="366.09" x2="216.62" y2="367.89" stroke="#666" stroke-width="0.7" />
<line x1="222.47" y1="425.4" x2="222.47" y2="422.2" stroke="#666" stroke-width="0.7" />
<line x1="222.47" y1="366.09" x2="222.47" y2="369.29" stroke="#666" stroke-width="0.7" />
<line x1="228.31" y1="425.4" x2="228.31" y2="423.6" stroke="#666" stroke-width="0.7" />
<line x1="228.31" y1="366.09" x2="228.31" y2="367.89" stroke="#666" stroke-width="0.7" />
<line x1="234.16" y1="425.4" x2="234.16" y2="423.6" stroke="#666" stroke-width="0.7" />
<line x1="234.16" y1="366.09" x2="234.16" y2="367.89" stroke="#666" stroke-width="0.7" />
<line x1="240.01" y1="425.4" x2="240.01" y2="422.2" stroke="#666" stroke-width="0.7" />
<line x1="240.01" y1="366.09" x2="240.01" y2="369.29" stroke="#666" stroke-width="0.7" />
<line x1="245.86" y1="425.4" x2="245.86" y2="423.6" stroke="#666" stroke-width="0.7" />
<line x1="245.86" y1="366.09" x2="245.86" y2="367.89" stroke="#666" stroke-width="0.7" />
<line x1="251.71" y1="425.4" x2="251.71" y2="423.6" stroke="#666" stroke-width="0.7" />
<line x1="251.71" y1="366.09" x2="251.71" y2="367.89" stroke="#666" stroke-width="0.7" />
<line x1="257.56" y1="425.4" x2="257.56" y2="422.2" stroke="#666" stroke-width="0.7" />
<line x1="257.56" y1="366.09" x2="257.56" y2="369.29" stroke="#666" stroke-width="0.7" />
<line x1="263.41" y1="425.4" x2="263.41" y2="423.6" stroke="#666" stroke-width="0.7" />
<line x1="263.41" y1="366.09" x2="263.41" y2="367.89" stroke="#666" stroke-width="0.7" />
<line x1="269.26" y1="425.4" x2="269.26" y2="423.6" stroke="#666" stroke-width="0.7" />
<line x1="269.26" y1="366.09" x2="269.26" y2="367.89" stroke="#666" stroke-width="0.7" />
<line x1="275.11" y1="425.4" x2="275.11" y2="422.2" stroke="#666" stroke-width="0.7" />
<line x1="275.11" y1="366.09" x2="275.11" y2="369.29" stroke="#666" stroke-width="0.7" />
<line x1="280.96" y1="425.4" x2="280.96" y2="423.6" stroke="#666" stroke-width="0.7" />
<line x1="280.96" y1="366.09" x2="280.96" y2="367.89" stroke="#666" stroke-width="0.7" />
<line x1="286.8" y1="425.4" x2="286.8" y2="423.6" stroke="#666" stroke-width="0.7" />
<line x1="286.8" y1="366.09" x2="286.8" y2="367.89" stroke="#666" stroke-width="0.7" />
<line x1="292.65" y1="425.4" x2="292.65" y2="422.2" stroke="#666" stroke-width="0.7" />
<line x1="292.65" y1="366.09" x2="292.65" y2="369.29" stroke="#666" stroke-width="0.7" />
<line x1="298.5" y1="425.4" x2="298.5" y2="423.6" stroke="#666" stroke-width="0.7" />
<line x1="298.5" y1="366.09" x2="298.5" y2="367.89" stroke="#666" stroke-width="0.7" />
<line x1="304.35" y1="425.4" x2="304.35" y2="423.6" stroke="#666" stroke-width="0.7" />
<line x1="304.35" y1="366.09" x2="304.35" y2="367.89" stroke="#666" stroke-width="0.7" />
<rect x="29.45" y="10.2" width="280.75" height="415.2" fill="none" stroke="#5a5a5a" stroke-width="1.25"/>
<line x1="29.45" y1="69.51" x2="310.2" y2="69.51" stroke="#5e5e5e" stroke-width="2.2" />
<line x1="29.45" y1="128.83" x2="310.2" y2="128.83" stroke="#5e5e5e" stroke-width="2.2" />
<line x1="29.45" y1="188.14" x2="310.2" y2="188.14" stroke="#5e5e5e" stroke-width="2.2" />
<line x1="29.45" y1="247.46" x2="310.2" y2="247.46" stroke="#5e5e5e" stroke-width="2.2" />
<line x1="29.45" y1="306.77" x2="310.2" y2="306.77" stroke="#5e5e5e" stroke-width="2.2" />
<line x1="29.45" y1="366.09" x2="310.2" y2="366.09" stroke="#5e5e5e" stroke-width="2.2" />
<line x1="410.97" y1="69.51" x2="410.97" y2="67.71" stroke="#666" stroke-width="0.7" />
<line x1="410.97" y1="10.2" x2="410.97" y2="12" stroke="#666" stroke-width="0.7" />
<line x1="417.65" y1="69.51" x2="417.65" y2="67.71" stroke="#666" stroke-width="0.7" />
<line x1="417.65" y1="10.2" x2="417.65" y2="12" stroke="#666" stroke-width="0.7" />
<line x1="424.32" y1="69.51" x2="424.32" y2="66.31" stroke="#666" stroke-width="0.7" />
<line x1="424.32" y1="10.2" x2="424.32" y2="13.4" stroke="#666" stroke-width="0.7" />
<line x1="431" y1="69.51" x2="431" y2="67.71" stroke="#666" stroke-width="0.7" />
<line x1="431" y1="10.2" x2="431" y2="12" stroke="#666" stroke-width="0.7" />
<line x1="437.67" y1="69.51" x2="437.67" y2="67.71" stroke="#666" stroke-width="0.7" />
<line x1="437.67" y1="10.2" x2="437.67" y2="12" stroke="#666" stroke-width="0.7" />
<line x1="444.34" y1="69.51" x2="444.34" y2="66.31" stroke="#666" stroke-width="0.7" />
<line x1="444.34" y1="10.2" x2="444.34" y2="13.4" stroke="#666" stroke-width="0.7" />
<line x1="451.02" y1="69.51" x2="451.02" y2="67.71" stroke="#666" stroke-width="0.7" />
<line x1="451.02" y1="10.2" x2="451.02" y2="12" stroke="#666" stroke-width="0.7" />
<line x1="457.69" y1="69.51" x2="457.69" y2="67.71" stroke="#666" stroke-width="0.7" />
<line x1="457.69" y1="10.2" x2="457.69" y2="12" stroke="#666" stroke-width="0.7" />
<line x1="464.36" y1="69.51" x2="464.36" y2="66.31" stroke="#666" stroke-width="0.7" />
<line x1="464.36" y1="10.2" x2="464.36" y2="13.4" stroke="#666" stroke-width="0.7" />
<line x1="471.04" y1="69.51" x2="471.04" y2="67.71" stroke="#666" stroke-width="0.7" />
<line x1="471.04" y1="10.2" x2="471.04" y2="12" stroke="#666" stroke-width="0.7" />
<line x1="477.71" y1="69.51" x2="477.71" y2="67.71" stroke="#666" stroke-width="0.7" />
<line x1="477.71" y1="10.2" x2="477.71" y2="12" stroke="#666" stroke-width="0.7" />
<line x1="484.39" y1="69.51" x2="484.39" y2="66.31" stroke="#666" stroke-width="0.7" />
<line x1="484.39" y1="10.2" x2="484.39" y2="13.4" stroke="#666" stroke-width="0.7" />
<line x1="491.06" y1="69.51" x2="491.06" y2="67.71" stroke="#666" stroke-width="0.7" />
<line x1="491.06" y1="10.2" x2="491.06" y2="12" stroke="#666" stroke-width="0.7" />
<line x1="497.73" y1="69.51" x2="497.73" y2="67.71" stroke="#666" stroke-width="0.7" />
<line x1="497.73" y1="10.2" x2="497.73" y2="12" stroke="#666" stroke-width="0.7" />
<line x1="504.41" y1="69.51" x2="504.41" y2="66.31" stroke="#666" stroke-width="0.7" />
<line x1="504.41" y1="10.2" x2="504.41" y2="13.4" stroke="#666" stroke-width="0.7" />
<line x1="511.08" y1="69.51" x2="511.08" y2="67.71" stroke="#666" stroke-width="0.7" />
<line x1="511.08" y1="10.2" x2="511.08" y2="12" stroke="#666" stroke-width="0.7" />
<line x1="517.75" y1="69.51" x2="517.75" y2="67.71" stroke="#666" stroke-width="0.7" />
<line x1="517.75" y1="10.2" x2="517.75" y2="12" stroke="#666" stroke-width="0.7" />
<line x1="524.43" y1="69.51" x2="524.43" y2="66.31" stroke="#666" stroke-width="0.7" />
<line x1="524.43" y1="10.2" x2="524.43" y2="13.4" stroke="#666" stroke-width="0.7" />
<line x1="531.1" y1="69.51" x2="531.1" y2="67.71" stroke="#666" stroke-width="0.7" />
<line x1="531.1" y1="10.2" x2="531.1" y2="12" stroke="#666" stroke-width="0.7" />
<line x1="537.78" y1="69.51" x2="537.78" y2="67.71" stroke="#666" stroke-width="0.7" />
<line x1="537.78" y1="10.2" x2="537.78" y2="12" stroke="#666" stroke-width="0.7" />
<line x1="544.45" y1="69.51" x2="544.45" y2="66.31" stroke="#666" stroke-width="0.7" />
<line x1="544.45" y1="10.2" x2="544.45" y2="13.4" stroke="#666" stroke-width="0.7" />
<line x1="551.12" y1="69.51" x2="551.12" y2="67.71" stroke="#666" stroke-width="0.7" />
<line x1="551.12" y1="10.2" x2="551.12" y2="12" stroke="#666" stroke-width="0.7" />
<line x1="557.8" y1="69.51" x2="557.8" y2="67.71" stroke="#666" stroke-width="0.7" />
<line x1="557.8" y1="10.2" x2="557.8" y2="12" stroke="#666" stroke-width="0.7" />
<line x1="564.47" y1="69.51" x2="564.47" y2="66.31" stroke="#666" stroke-width="0.7" />
<line x1="564.47" y1="10.2" x2="564.47" y2="13.4" stroke="#666" stroke-width="0.7" />
<line x1="571.15" y1="69.51" x2="571.15" y2="67.71" stroke="#666" stroke-width="0.7" />
<line x1="571.15" y1="10.2" x2="571.15" y2="12" stroke="#666" stroke-width="0.7" />
<line x1="577.82" y1="69.51" x2="577.82" y2="67.71" stroke="#666" stroke-width="0.7" />
<line x1="577.82" y1="10.2" x2="577.82" y2="12" stroke="#666" stroke-width="0.7" />
<line x1="584.49" y1="69.51" x2="584.49" y2="66.31" stroke="#666" stroke-width="0.7" />
<line x1="584.49" y1="10.2" x2="584.49" y2="13.4" stroke="#666" stroke-width="0.7" />
<line x1="591.17" y1="69.51" x2="591.17" y2="67.71" stroke="#666" stroke-width="0.7" />
<line x1="591.17" y1="10.2" x2="591.17" y2="12" stroke="#666" stroke-width="0.7" />
<line x1="597.84" y1="69.51" x2="597.84" y2="67.71" stroke="#666" stroke-width="0.7" />
<line x1="597.84" y1="10.2" x2="597.84" y2="12" stroke="#666" stroke-width="0.7" />
<line x1="604.51" y1="69.51" x2="604.51" y2="66.31" stroke="#666" stroke-width="0.7" />
<line x1="604.51" y1="10.2" x2="604.51" y2="13.4" stroke="#666" stroke-width="0.7" />
<line x1="611.19" y1="69.51" x2="611.19" y2="67.71" stroke="#666" stroke-width="0.7" />
<line x1="611.19" y1="10.2" x2="611.19" y2="12" stroke="#666" stroke-width="0.7" />
<line x1="617.86" y1="69.51" x2="617.86" y2="67.71" stroke="#666" stroke-width="0.7" />
<line x1="617.86" y1="10.2" x2="617.86" y2="12" stroke="#666" stroke-width="0.7" />
<line x1="624.54" y1="69.51" x2="624.54" y2="66.31" stroke="#666" stroke-width="0.7" />
<line x1="624.54" y1="10.2" x2="624.54" y2="13.4" stroke="#666" stroke-width="0.7" />
<line x1="631.21" y1="69.51" x2="631.21" y2="67.71" stroke="#666" stroke-width="0.7" />
<line x1="631.21" y1="10.2" x2="631.21" y2="12" stroke="#666" stroke-width="0.7" />
<line x1="637.88" y1="69.51" x2="637.88" y2="67.71" stroke="#666" stroke-width="0.7" />
<line x1="637.88" y1="10.2" x2="637.88" y2="12" stroke="#666" stroke-width="0.7" />
<line x1="644.56" y1="69.51" x2="644.56" y2="66.31" stroke="#666" stroke-width="0.7" />
<line x1="644.56" y1="10.2" x2="644.56" y2="13.4" stroke="#666" stroke-width="0.7" />
<line x1="651.23" y1="69.51" x2="651.23" y2="67.71" stroke="#666" stroke-width="0.7" />
<line x1="651.23" y1="10.2" x2="651.23" y2="12" stroke="#666" stroke-width="0.7" />
<line x1="657.9" y1="69.51" x2="657.9" y2="67.71" stroke="#666" stroke-width="0.7" />
<line x1="657.9" y1="10.2" x2="657.9" y2="12" stroke="#666" stroke-width="0.7" />
<line x1="664.58" y1="69.51" x2="664.58" y2="66.31" stroke="#666" stroke-width="0.7" />
<line x1="664.58" y1="10.2" x2="664.58" y2="13.4" stroke="#666" stroke-width="0.7" />
<line x1="671.25" y1="69.51" x2="671.25" y2="67.71" stroke="#666" stroke-width="0.7" />
<line x1="671.25" y1="10.2" x2="671.25" y2="12" stroke="#666" stroke-width="0.7" />
<line x1="677.93" y1="69.51" x2="677.93" y2="67.71" stroke="#666" stroke-width="0.7" />
<line x1="677.93" y1="10.2" x2="677.93" y2="12" stroke="#666" stroke-width="0.7" />
<line x1="410.97" y1="128.83" x2="410.97" y2="127.03" stroke="#666" stroke-width="0.7" />
<line x1="410.97" y1="69.51" x2="410.97" y2="71.31" stroke="#666" stroke-width="0.7" />
<line x1="417.65" y1="128.83" x2="417.65" y2="127.03" stroke="#666" stroke-width="0.7" />
<line x1="417.65" y1="69.51" x2="417.65" y2="71.31" stroke="#666" stroke-width="0.7" />
<line x1="424.32" y1="128.83" x2="424.32" y2="125.63" stroke="#666" stroke-width="0.7" />
<line x1="424.32" y1="69.51" x2="424.32" y2="72.71" stroke="#666" stroke-width="0.7" />
<line x1="431" y1="128.83" x2="431" y2="127.03" stroke="#666" stroke-width="0.7" />
<line x1="431" y1="69.51" x2="431" y2="71.31" stroke="#666" stroke-width="0.7" />
<line x1="437.67" y1="128.83" x2="437.67" y2="127.03" stroke="#666" stroke-width="0.7" />
<line x1="437.67" y1="69.51" x2="437.67" y2="71.31" stroke="#666" stroke-width="0.7" />
<line x1="444.34" y1="128.83" x2="444.34" y2="125.63" stroke="#666" stroke-width="0.7" />
<line x1="444.34" y1="69.51" x2="444.34" y2="72.71" stroke="#666" stroke-width="0.7" />
<line x1="451.02" y1="128.83" x2="451.02" y2="127.03" stroke="#666" stroke-width="0.7" />
<line x1="451.02" y1="69.51" x2="451.02" y2="71.31" stroke="#666" stroke-width="0.7" />
<line x1="457.69" y1="128.83" x2="457.69" y2="127.03" stroke="#666" stroke-width="0.7" />
<line x1="457.69" y1="69.51" x2="457.69" y2="71.31" stroke="#666" stroke-width="0.7" />
<line x1="464.36" y1="128.83" x2="464.36" y2="125.63" stroke="#666" stroke-width="0.7" />
<line x1="464.36" y1="69.51" x2="464.36" y2="72.71" stroke="#666" stroke-width="0.7" />
<line x1="471.04" y1="128.83" x2="471.04" y2="127.03" stroke="#666" stroke-width="0.7" />
<line x1="471.04" y1="69.51" x2="471.04" y2="71.31" stroke="#666" stroke-width="0.7" />
<line x1="477.71" y1="128.83" x2="477.71" y2="127.03" stroke="#666" stroke-width="0.7" />
<line x1="477.71" y1="69.51" x2="477.71" y2="71.31" stroke="#666" stroke-width="0.7" />
<line x1="484.39" y1="128.83" x2="484.39" y2="125.63" stroke="#666" stroke-width="0.7" />
<line x1="484.39" y1="69.51" x2="484.39" y2="72.71" stroke="#666" stroke-width="0.7" />
<line x1="491.06" y1="128.83" x2="491.06" y2="127.03" stroke="#666" stroke-width="0.7" />
<line x1="491.06" y1="69.51" x2="491.06" y2="71.31" stroke="#666" stroke-width="0.7" />
<line x1="497.73" y1="128.83" x2="497.73" y2="127.03" stroke="#666" stroke-width="0.7" />
<line x1="497.73" y1="69.51" x2="497.73" y2="71.31" stroke="#666" stroke-width="0.7" />
<line x1="504.41" y1="128.83" x2="504.41" y2="125.63" stroke="#666" stroke-width="0.7" />
<line x1="504.41" y1="69.51" x2="504.41" y2="72.71" stroke="#666" stroke-width="0.7" />
<line x1="511.08" y1="128.83" x2="511.08" y2="127.03" stroke="#666" stroke-width="0.7" />
<line x1="511.08" y1="69.51" x2="511.08" y2="71.31" stroke="#666" stroke-width="0.7" />
<line x1="517.75" y1="128.83" x2="517.75" y2="127.03" stroke="#666" stroke-width="0.7" />
<line x1="517.75" y1="69.51" x2="517.75" y2="71.31" stroke="#666" stroke-width="0.7" />
<line x1="524.43" y1="128.83" x2="524.43" y2="125.63" stroke="#666" stroke-width="0.7" />
<line x1="524.43" y1="69.51" x2="524.43" y2="72.71" stroke="#666" stroke-width="0.7" />
<line x1="531.1" y1="128.83" x2="531.1" y2="127.03" stroke="#666" stroke-width="0.7" />
<line x1="531.1" y1="69.51" x2="531.1" y2="71.31" stroke="#666" stroke-width="0.7" />
<line x1="537.78" y1="128.83" x2="537.78" y2="127.03" stroke="#666" stroke-width="0.7" />
<line x1="537.78" y1="69.51" x2="537.78" y2="71.31" stroke="#666" stroke-width="0.7" />
<line x1="544.45" y1="128.83" x2="544.45" y2="125.63" stroke="#666" stroke-width="0.7" />
<line x1="544.45" y1="69.51" x2="544.45" y2="72.71" stroke="#666" stroke-width="0.7" />
<line x1="551.12" y1="128.83" x2="551.12" y2="127.03" stroke="#666" stroke-width="0.7" />
<line x1="551.12" y1="69.51" x2="551.12" y2="71.31" stroke="#666" stroke-width="0.7" />
<line x1="557.8" y1="128.83" x2="557.8" y2="127.03" stroke="#666" stroke-width="0.7" />
<line x1="557.8" y1="69.51" x2="557.8" y2="71.31" stroke="#666" stroke-width="0.7" />
<line x1="564.47" y1="128.83" x2="564.47" y2="125.63" stroke="#666" stroke-width="0.7" />
<line x1="564.47" y1="69.51" x2="564.47" y2="72.71" stroke="#666" stroke-width="0.7" />
<line x1="571.15" y1="128.83" x2="571.15" y2="127.03" stroke="#666" stroke-width="0.7" />
<line x1="571.15" y1="69.51" x2="571.15" y2="71.31" stroke="#666" stroke-width="0.7" />
<line x1="577.82" y1="128.83" x2="577.82" y2="127.03" stroke="#666" stroke-width="0.7" />
<line x1="577.82" y1="69.51" x2="577.82" y2="71.31" stroke="#666" stroke-width="0.7" />
<line x1="584.49" y1="128.83" x2="584.49" y2="125.63" stroke="#666" stroke-width="0.7" />
<line x1="584.49" y1="69.51" x2="584.49" y2="72.71" stroke="#666" stroke-width="0.7" />
<line x1="591.17" y1="128.83" x2="591.17" y2="127.03" stroke="#666" stroke-width="0.7" />
<line x1="591.17" y1="69.51" x2="591.17" y2="71.31" stroke="#666" stroke-width="0.7" />
<line x1="597.84" y1="128.83" x2="597.84" y2="127.03" stroke="#666" stroke-width="0.7" />
<line x1="597.84" y1="69.51" x2="597.84" y2="71.31" stroke="#666" stroke-width="0.7" />
<line x1="604.51" y1="128.83" x2="604.51" y2="125.63" stroke="#666" stroke-width="0.7" />
<line x1="604.51" y1="69.51" x2="604.51" y2="72.71" stroke="#666" stroke-width="0.7" />
<line x1="611.19" y1="128.83" x2="611.19" y2="127.03" stroke="#666" stroke-width="0.7" />
<line x1="611.19" y1="69.51" x2="611.19" y2="71.31" stroke="#666" stroke-width="0.7" />
<line x1="617.86" y1="128.83" x2="617.86" y2="127.03" stroke="#666" stroke-width="0.7" />
<line x1="617.86" y1="69.51" x2="617.86" y2="71.31" stroke="#666" stroke-width="0.7" />
<line x1="624.54" y1="128.83" x2="624.54" y2="125.63" stroke="#666" stroke-width="0.7" />
<line x1="624.54" y1="69.51" x2="624.54" y2="72.71" stroke="#666" stroke-width="0.7" />
<line x1="631.21" y1="128.83" x2="631.21" y2="127.03" stroke="#666" stroke-width="0.7" />
<line x1="631.21" y1="69.51" x2="631.21" y2="71.31" stroke="#666" stroke-width="0.7" />
<line x1="637.88" y1="128.83" x2="637.88" y2="127.03" stroke="#666" stroke-width="0.7" />
<line x1="637.88" y1="69.51" x2="637.88" y2="71.31" stroke="#666" stroke-width="0.7" />
<line x1="644.56" y1="128.83" x2="644.56" y2="125.63" stroke="#666" stroke-width="0.7" />
<line x1="644.56" y1="69.51" x2="644.56" y2="72.71" stroke="#666" stroke-width="0.7" />
<line x1="651.23" y1="128.83" x2="651.23" y2="127.03" stroke="#666" stroke-width="0.7" />
<line x1="651.23" y1="69.51" x2="651.23" y2="71.31" stroke="#666" stroke-width="0.7" />
<line x1="657.9" y1="128.83" x2="657.9" y2="127.03" stroke="#666" stroke-width="0.7" />
<line x1="657.9" y1="69.51" x2="657.9" y2="71.31" stroke="#666" stroke-width="0.7" />
<line x1="664.58" y1="128.83" x2="664.58" y2="125.63" stroke="#666" stroke-width="0.7" />
<line x1="664.58" y1="69.51" x2="664.58" y2="72.71" stroke="#666" stroke-width="0.7" />
<line x1="671.25" y1="128.83" x2="671.25" y2="127.03" stroke="#666" stroke-width="0.7" />
<line x1="671.25" y1="69.51" x2="671.25" y2="71.31" stroke="#666" stroke-width="0.7" />
<line x1="677.93" y1="128.83" x2="677.93" y2="127.03" stroke="#666" stroke-width="0.7" />
<line x1="677.93" y1="69.51" x2="677.93" y2="71.31" stroke="#666" stroke-width="0.7" />
<line x1="410.97" y1="188.14" x2="410.97" y2="186.34" stroke="#666" stroke-width="0.7" />
<line x1="410.97" y1="128.83" x2="410.97" y2="130.63" stroke="#666" stroke-width="0.7" />
<line x1="417.65" y1="188.14" x2="417.65" y2="186.34" stroke="#666" stroke-width="0.7" />
<line x1="417.65" y1="128.83" x2="417.65" y2="130.63" stroke="#666" stroke-width="0.7" />
<line x1="424.32" y1="188.14" x2="424.32" y2="184.94" stroke="#666" stroke-width="0.7" />
<line x1="424.32" y1="128.83" x2="424.32" y2="132.03" stroke="#666" stroke-width="0.7" />
<line x1="431" y1="188.14" x2="431" y2="186.34" stroke="#666" stroke-width="0.7" />
<line x1="431" y1="128.83" x2="431" y2="130.63" stroke="#666" stroke-width="0.7" />
<line x1="437.67" y1="188.14" x2="437.67" y2="186.34" stroke="#666" stroke-width="0.7" />
<line x1="437.67" y1="128.83" x2="437.67" y2="130.63" stroke="#666" stroke-width="0.7" />
<line x1="444.34" y1="188.14" x2="444.34" y2="184.94" stroke="#666" stroke-width="0.7" />
<line x1="444.34" y1="128.83" x2="444.34" y2="132.03" stroke="#666" stroke-width="0.7" />
<line x1="451.02" y1="188.14" x2="451.02" y2="186.34" stroke="#666" stroke-width="0.7" />
<line x1="451.02" y1="128.83" x2="451.02" y2="130.63" stroke="#666" stroke-width="0.7" />
<line x1="457.69" y1="188.14" x2="457.69" y2="186.34" stroke="#666" stroke-width="0.7" />
<line x1="457.69" y1="128.83" x2="457.69" y2="130.63" stroke="#666" stroke-width="0.7" />
<line x1="464.36" y1="188.14" x2="464.36" y2="184.94" stroke="#666" stroke-width="0.7" />
<line x1="464.36" y1="128.83" x2="464.36" y2="132.03" stroke="#666" stroke-width="0.7" />
<line x1="471.04" y1="188.14" x2="471.04" y2="186.34" stroke="#666" stroke-width="0.7" />
<line x1="471.04" y1="128.83" x2="471.04" y2="130.63" stroke="#666" stroke-width="0.7" />
<line x1="477.71" y1="188.14" x2="477.71" y2="186.34" stroke="#666" stroke-width="0.7" />
<line x1="477.71" y1="128.83" x2="477.71" y2="130.63" stroke="#666" stroke-width="0.7" />
<line x1="484.39" y1="188.14" x2="484.39" y2="184.94" stroke="#666" stroke-width="0.7" />
<line x1="484.39" y1="128.83" x2="484.39" y2="132.03" stroke="#666" stroke-width="0.7" />
<line x1="491.06" y1="188.14" x2="491.06" y2="186.34" stroke="#666" stroke-width="0.7" />
<line x1="491.06" y1="128.83" x2="491.06" y2="130.63" stroke="#666" stroke-width="0.7" />
<line x1="497.73" y1="188.14" x2="497.73" y2="186.34" stroke="#666" stroke-width="0.7" />
<line x1="497.73" y1="128.83" x2="497.73" y2="130.63" stroke="#666" stroke-width="0.7" />
<line x1="504.41" y1="188.14" x2="504.41" y2="184.94" stroke="#666" stroke-width="0.7" />
<line x1="504.41" y1="128.83" x2="504.41" y2="132.03" stroke="#666" stroke-width="0.7" />
<line x1="511.08" y1="188.14" x2="511.08" y2="186.34" stroke="#666" stroke-width="0.7" />
<line x1="511.08" y1="128.83" x2="511.08" y2="130.63" stroke="#666" stroke-width="0.7" />
<line x1="517.75" y1="188.14" x2="517.75" y2="186.34" stroke="#666" stroke-width="0.7" />
<line x1="517.75" y1="128.83" x2="517.75" y2="130.63" stroke="#666" stroke-width="0.7" />
<line x1="524.43" y1="188.14" x2="524.43" y2="184.94" stroke="#666" stroke-width="0.7" />
<line x1="524.43" y1="128.83" x2="524.43" y2="132.03" stroke="#666" stroke-width="0.7" />
<line x1="531.1" y1="188.14" x2="531.1" y2="186.34" stroke="#666" stroke-width="0.7" />
<line x1="531.1" y1="128.83" x2="531.1" y2="130.63" stroke="#666" stroke-width="0.7" />
<line x1="537.78" y1="188.14" x2="537.78" y2="186.34" stroke="#666" stroke-width="0.7" />
<line x1="537.78" y1="128.83" x2="537.78" y2="130.63" stroke="#666" stroke-width="0.7" />
<line x1="544.45" y1="188.14" x2="544.45" y2="184.94" stroke="#666" stroke-width="0.7" />
<line x1="544.45" y1="128.83" x2="544.45" y2="132.03" stroke="#666" stroke-width="0.7" />
<line x1="551.12" y1="188.14" x2="551.12" y2="186.34" stroke="#666" stroke-width="0.7" />
<line x1="551.12" y1="128.83" x2="551.12" y2="130.63" stroke="#666" stroke-width="0.7" />
<line x1="557.8" y1="188.14" x2="557.8" y2="186.34" stroke="#666" stroke-width="0.7" />
<line x1="557.8" y1="128.83" x2="557.8" y2="130.63" stroke="#666" stroke-width="0.7" />
<line x1="564.47" y1="188.14" x2="564.47" y2="184.94" stroke="#666" stroke-width="0.7" />
<line x1="564.47" y1="128.83" x2="564.47" y2="132.03" stroke="#666" stroke-width="0.7" />
<line x1="571.15" y1="188.14" x2="571.15" y2="186.34" stroke="#666" stroke-width="0.7" />
<line x1="571.15" y1="128.83" x2="571.15" y2="130.63" stroke="#666" stroke-width="0.7" />
<line x1="577.82" y1="188.14" x2="577.82" y2="186.34" stroke="#666" stroke-width="0.7" />
<line x1="577.82" y1="128.83" x2="577.82" y2="130.63" stroke="#666" stroke-width="0.7" />
<line x1="584.49" y1="188.14" x2="584.49" y2="184.94" stroke="#666" stroke-width="0.7" />
<line x1="584.49" y1="128.83" x2="584.49" y2="132.03" stroke="#666" stroke-width="0.7" />
<line x1="591.17" y1="188.14" x2="591.17" y2="186.34" stroke="#666" stroke-width="0.7" />
<line x1="591.17" y1="128.83" x2="591.17" y2="130.63" stroke="#666" stroke-width="0.7" />
<line x1="597.84" y1="188.14" x2="597.84" y2="186.34" stroke="#666" stroke-width="0.7" />
<line x1="597.84" y1="128.83" x2="597.84" y2="130.63" stroke="#666" stroke-width="0.7" />
<line x1="604.51" y1="188.14" x2="604.51" y2="184.94" stroke="#666" stroke-width="0.7" />
<line x1="604.51" y1="128.83" x2="604.51" y2="132.03" stroke="#666" stroke-width="0.7" />
<line x1="611.19" y1="188.14" x2="611.19" y2="186.34" stroke="#666" stroke-width="0.7" />
<line x1="611.19" y1="128.83" x2="611.19" y2="130.63" stroke="#666" stroke-width="0.7" />
<line x1="617.86" y1="188.14" x2="617.86" y2="186.34" stroke="#666" stroke-width="0.7" />
<line x1="617.86" y1="128.83" x2="617.86" y2="130.63" stroke="#666" stroke-width="0.7" />
<line x1="624.54" y1="188.14" x2="624.54" y2="184.94" stroke="#666" stroke-width="0.7" />
<line x1="624.54" y1="128.83" x2="624.54" y2="132.03" stroke="#666" stroke-width="0.7" />
<line x1="631.21" y1="188.14" x2="631.21" y2="186.34" stroke="#666" stroke-width="0.7" />
<line x1="631.21" y1="128.83" x2="631.21" y2="130.63" stroke="#666" stroke-width="0.7" />
<line x1="637.88" y1="188.14" x2="637.88" y2="186.34" stroke="#666" stroke-width="0.7" />
<line x1="637.88" y1="128.83" x2="637.88" y2="130.63" stroke="#666" stroke-width="0.7" />
<line x1="644.56" y1="188.14" x2="644.56" y2="184.94" stroke="#666" stroke-width="0.7" />
<line x1="644.56" y1="128.83" x2="644.56" y2="132.03" stroke="#666" stroke-width="0.7" />
<line x1="651.23" y1="188.14" x2="651.23" y2="186.34" stroke="#666" stroke-width="0.7" />
<line x1="651.23" y1="128.83" x2="651.23" y2="130.63" stroke="#666" stroke-width="0.7" />
<line x1="657.9" y1="188.14" x2="657.9" y2="186.34" stroke="#666" stroke-width="0.7" />
<line x1="657.9" y1="128.83" x2="657.9" y2="130.63" stroke="#666" stroke-width="0.7" />
<line x1="664.58" y1="188.14" x2="664.58" y2="184.94" stroke="#666" stroke-width="0.7" />
<line x1="664.58" y1="128.83" x2="664.58" y2="132.03" stroke="#666" stroke-width="0.7" />
<line x1="671.25" y1="188.14" x2="671.25" y2="186.34" stroke="#666" stroke-width="0.7" />
<line x1="671.25" y1="128.83" x2="671.25" y2="130.63" stroke="#666" stroke-width="0.7" />
<line x1="677.93" y1="188.14" x2="677.93" y2="186.34" stroke="#666" stroke-width="0.7" />
<line x1="677.93" y1="128.83" x2="677.93" y2="130.63" stroke="#666" stroke-width="0.7" />
<line x1="410.97" y1="247.46" x2="410.97" y2="245.66" stroke="#666" stroke-width="0.7" />
<line x1="410.97" y1="188.14" x2="410.97" y2="189.94" stroke="#666" stroke-width="0.7" />
<line x1="417.65" y1="247.46" x2="417.65" y2="245.66" stroke="#666" stroke-width="0.7" />
<line x1="417.65" y1="188.14" x2="417.65" y2="189.94" stroke="#666" stroke-width="0.7" />
<line x1="424.32" y1="247.46" x2="424.32" y2="244.26" stroke="#666" stroke-width="0.7" />
<line x1="424.32" y1="188.14" x2="424.32" y2="191.34" stroke="#666" stroke-width="0.7" />
<line x1="431" y1="247.46" x2="431" y2="245.66" stroke="#666" stroke-width="0.7" />
<line x1="431" y1="188.14" x2="431" y2="189.94" stroke="#666" stroke-width="0.7" />
<line x1="437.67" y1="247.46" x2="437.67" y2="245.66" stroke="#666" stroke-width="0.7" />
<line x1="437.67" y1="188.14" x2="437.67" y2="189.94" stroke="#666" stroke-width="0.7" />
<line x1="444.34" y1="247.46" x2="444.34" y2="244.26" stroke="#666" stroke-width="0.7" />
<line x1="444.34" y1="188.14" x2="444.34" y2="191.34" stroke="#666" stroke-width="0.7" />
<line x1="451.02" y1="247.46" x2="451.02" y2="245.66" stroke="#666" stroke-width="0.7" />
<line x1="451.02" y1="188.14" x2="451.02" y2="189.94" stroke="#666" stroke-width="0.7" />
<line x1="457.69" y1="247.46" x2="457.69" y2="245.66" stroke="#666" stroke-width="0.7" />
<line x1="457.69" y1="188.14" x2="457.69" y2="189.94" stroke="#666" stroke-width="0.7" />
<line x1="464.36" y1="247.46" x2="464.36" y2="244.26" stroke="#666" stroke-width="0.7" />
<line x1="464.36" y1="188.14" x2="464.36" y2="191.34" stroke="#666" stroke-width="0.7" />
<line x1="471.04" y1="247.46" x2="471.04" y2="245.66" stroke="#666" stroke-width="0.7" />
<line x1="471.04" y1="188.14" x2="471.04" y2="189.94" stroke="#666" stroke-width="0.7" />
<line x1="477.71" y1="247.46" x2="477.71" y2="245.66" stroke="#666" stroke-width="0.7" />
<line x1="477.71" y1="188.14" x2="477.71" y2="189.94" stroke="#666" stroke-width="0.7" />
<line x1="484.39" y1="247.46" x2="484.39" y2="244.26" stroke="#666" stroke-width="0.7" />
<line x1="484.39" y1="188.14" x2="484.39" y2="191.34" stroke="#666" stroke-width="0.7" />
<line x1="491.06" y1="247.46" x2="491.06" y2="245.66" stroke="#666" stroke-width="0.7" />
<line x1="491.06" y1="188.14" x2="491.06" y2="189.94" stroke="#666" stroke-width="0.7" />
<line x1="497.73" y1="247.46" x2="497.73" y2="245.66" stroke="#666" stroke-width="0.7" />
<line x1="497.73" y1="188.14" x2="497.73" y2="189.94" stroke="#666" stroke-width="0.7" />
<line x1="504.41" y1="247.46" x2="504.41" y2="244.26" stroke="#666" stroke-width="0.7" />
<line x1="504.41" y1="188.14" x2="504.41" y2="191.34" stroke="#666" stroke-width="0.7" />
<line x1="511.08" y1="247.46" x2="511.08" y2="245.66" stroke="#666" stroke-width="0.7" />
<line x1="511.08" y1="188.14" x2="511.08" y2="189.94" stroke="#666" stroke-width="0.7" />
<line x1="517.75" y1="247.46" x2="517.75" y2="245.66" stroke="#666" stroke-width="0.7" />
<line x1="517.75" y1="188.14" x2="517.75" y2="189.94" stroke="#666" stroke-width="0.7" />
<line x1="524.43" y1="247.46" x2="524.43" y2="244.26" stroke="#666" stroke-width="0.7" />
<line x1="524.43" y1="188.14" x2="524.43" y2="191.34" stroke="#666" stroke-width="0.7" />
<line x1="531.1" y1="247.46" x2="531.1" y2="245.66" stroke="#666" stroke-width="0.7" />
<line x1="531.1" y1="188.14" x2="531.1" y2="189.94" stroke="#666" stroke-width="0.7" />
<line x1="537.78" y1="247.46" x2="537.78" y2="245.66" stroke="#666" stroke-width="0.7" />
<line x1="537.78" y1="188.14" x2="537.78" y2="189.94" stroke="#666" stroke-width="0.7" />
<line x1="544.45" y1="247.46" x2="544.45" y2="244.26" stroke="#666" stroke-width="0.7" />
<line x1="544.45" y1="188.14" x2="544.45" y2="191.34" stroke="#666" stroke-width="0.7" />
<line x1="551.12" y1="247.46" x2="551.12" y2="245.66" stroke="#666" stroke-width="0.7" />
<line x1="551.12" y1="188.14" x2="551.12" y2="189.94" stroke="#666" stroke-width="0.7" />
<line x1="557.8" y1="247.46" x2="557.8" y2="245.66" stroke="#666" stroke-width="0.7" />
<line x1="557.8" y1="188.14" x2="557.8" y2="189.94" stroke="#666" stroke-width="0.7" />
<line x1="564.47" y1="247.46" x2="564.47" y2="244.26" stroke="#666" stroke-width="0.7" />
<line x1="564.47" y1="188.14" x2="564.47" y2="191.34" stroke="#666" stroke-width="0.7" />
<line x1="571.15" y1="247.46" x2="571.15" y2="245.66" stroke="#666" stroke-width="0.7" />
<line x1="571.15" y1="188.14" x2="571.15" y2="189.94" stroke="#666" stroke-width="0.7" />
<line x1="577.82" y1="247.46" x2="577.82" y2="245.66" stroke="#666" stroke-width="0.7" />
<line x1="577.82" y1="188.14" x2="577.82" y2="189.94" stroke="#666" stroke-width="0.7" />
<line x1="584.49" y1="247.46" x2="584.49" y2="244.26" stroke="#666" stroke-width="0.7" />
<line x1="584.49" y1="188.14" x2="584.49" y2="191.34" stroke="#666" stroke-width="0.7" />
<line x1="591.17" y1="247.46" x2="591.17" y2="245.66" stroke="#666" stroke-width="0.7" />
<line x1="591.17" y1="188.14" x2="591.17" y2="189.94" stroke="#666" stroke-width="0.7" />
<line x1="597.84" y1="247.46" x2="597.84" y2="245.66" stroke="#666" stroke-width="0.7" />
<line x1="597.84" y1="188.14" x2="597.84" y2="189.94" stroke="#666" stroke-width="0.7" />
<line x1="604.51" y1="247.46" x2="604.51" y2="244.26" stroke="#666" stroke-width="0.7" />
<line x1="604.51" y1="188.14" x2="604.51" y2="191.34" stroke="#666" stroke-width="0.7" />
<line x1="611.19" y1="247.46" x2="611.19" y2="245.66" stroke="#666" stroke-width="0.7" />
<line x1="611.19" y1="188.14" x2="611.19" y2="189.94" stroke="#666" stroke-width="0.7" />
<line x1="617.86" y1="247.46" x2="617.86" y2="245.66" stroke="#666" stroke-width="0.7" />
<line x1="617.86" y1="188.14" x2="617.86" y2="189.94" stroke="#666" stroke-width="0.7" />
<line x1="624.54" y1="247.46" x2="624.54" y2="244.26" stroke="#666" stroke-width="0.7" />
<line x1="624.54" y1="188.14" x2="624.54" y2="191.34" stroke="#666" stroke-width="0.7" />
<line x1="631.21" y1="247.46" x2="631.21" y2="245.66" stroke="#666" stroke-width="0.7" />
<line x1="631.21" y1="188.14" x2="631.21" y2="189.94" stroke="#666" stroke-width="0.7" />
<line x1="637.88" y1="247.46" x2="637.88" y2="245.66" stroke="#666" stroke-width="0.7" />
<line x1="637.88" y1="188.14" x2="637.88" y2="189.94" stroke="#666" stroke-width="0.7" />
<line x1="644.56" y1="247.46" x2="644.56" y2="244.26" stroke="#666" stroke-width="0.7" />
<line x1="644.56" y1="188.14" x2="644.56" y2="191.34" stroke="#666" stroke-width="0.7" />
<line x1="651.23" y1="247.46" x2="651.23" y2="245.66" stroke="#666" stroke-width="0.7" />
<line x1="651.23" y1="188.14" x2="651.23" y2="189.94" stroke="#666" stroke-width="0.7" />
<line x1="657.9" y1="247.46" x2="657.9" y2="245.66" stroke="#666" stroke-width="0.7" />
<line x1="657.9" y1="188.14" x2="657.9" y2="189.94" stroke="#666" stroke-width="0.7" />
<line x1="664.58" y1="247.46" x2="664.58" y2="244.26" stroke="#666" stroke-width="0.7" />
<line x1="664.58" y1="188.14" x2="664.58" y2="191.34" stroke="#666" stroke-width="0.7" />
<line x1="671.25" y1="247.46" x2="671.25" y2="245.66" stroke="#666" stroke-width="0.7" />
<line x1="671.25" y1="188.14" x2="671.25" y2="189.94" stroke="#666" stroke-width="0.7" />
<line x1="677.93" y1="247.46" x2="677.93" y2="245.66" stroke="#666" stroke-width="0.7" />
<line x1="677.93" y1="188.14" x2="677.93" y2="189.94" stroke="#666" stroke-width="0.7" />
<line x1="410.97" y1="306.77" x2="410.97" y2="304.97" stroke="#666" stroke-width="0.7" />
<line x1="410.97" y1="247.46" x2="410.97" y2="249.26" stroke="#666" stroke-width="0.7" />
<line x1="417.65" y1="306.77" x2="417.65" y2="304.97" stroke="#666" stroke-width="0.7" />
<line x1="417.65" y1="247.46" x2="417.65" y2="249.26" stroke="#666" stroke-width="0.7" />
<line x1="424.32" y1="306.77" x2="424.32" y2="303.57" stroke="#666" stroke-width="0.7" />
<line x1="424.32" y1="247.46" x2="424.32" y2="250.66" stroke="#666" stroke-width="0.7" />
<line x1="431" y1="306.77" x2="431" y2="304.97" stroke="#666" stroke-width="0.7" />
<line x1="431" y1="247.46" x2="431" y2="249.26" stroke="#666" stroke-width="0.7" />
<line x1="437.67" y1="306.77" x2="437.67" y2="304.97" stroke="#666" stroke-width="0.7" />
<line x1="437.67" y1="247.46" x2="437.67" y2="249.26" stroke="#666" stroke-width="0.7" />
<line x1="444.34" y1="306.77" x2="444.34" y2="303.57" stroke="#666" stroke-width="0.7" />
<line x1="444.34" y1="247.46" x2="444.34" y2="250.66" stroke="#666" stroke-width="0.7" />
<line x1="451.02" y1="306.77" x2="451.02" y2="304.97" stroke="#666" stroke-width="0.7" />
<line x1="451.02" y1="247.46" x2="451.02" y2="249.26" stroke="#666" stroke-width="0.7" />
<line x1="457.69" y1="306.77" x2="457.69" y2="304.97" stroke="#666" stroke-width="0.7" />
<line x1="457.69" y1="247.46" x2="457.69" y2="249.26" stroke="#666" stroke-width="0.7" />
<line x1="464.36" y1="306.77" x2="464.36" y2="303.57" stroke="#666" stroke-width="0.7" />
<line x1="464.36" y1="247.46" x2="464.36" y2="250.66" stroke="#666" stroke-width="0.7" />
<line x1="471.04" y1="306.77" x2="471.04" y2="304.97" stroke="#666" stroke-width="0.7" />
<line x1="471.04" y1="247.46" x2="471.04" y2="249.26" stroke="#666" stroke-width="0.7" />
<line x1="477.71" y1="306.77" x2="477.71" y2="304.97" stroke="#666" stroke-width="0.7" />
<line x1="477.71" y1="247.46" x2="477.71" y2="249.26" stroke="#666" stroke-width="0.7" />
<line x1="484.39" y1="306.77" x2="484.39" y2="303.57" stroke="#666" stroke-width="0.7" />
<line x1="484.39" y1="247.46" x2="484.39" y2="250.66" stroke="#666" stroke-width="0.7" />
<line x1="491.06" y1="306.77" x2="491.06" y2="304.97" stroke="#666" stroke-width="0.7" />
<line x1="491.06" y1="247.46" x2="491.06" y2="249.26" stroke="#666" stroke-width="0.7" />
<line x1="497.73" y1="306.77" x2="497.73" y2="304.97" stroke="#666" stroke-width="0.7" />
<line x1="497.73" y1="247.46" x2="497.73" y2="249.26" stroke="#666" stroke-width="0.7" />
<line x1="504.41" y1="306.77" x2="504.41" y2="303.57" stroke="#666" stroke-width="0.7" />
<line x1="504.41" y1="247.46" x2="504.41" y2="250.66" stroke="#666" stroke-width="0.7" />
<line x1="511.08" y1="306.77" x2="511.08" y2="304.97" stroke="#666" stroke-width="0.7" />
<line x1="511.08" y1="247.46" x2="511.08" y2="249.26" stroke="#666" stroke-width="0.7" />
<line x1="517.75" y1="306.77" x2="517.75" y2="304.97" stroke="#666" stroke-width="0.7" />
<line x1="517.75" y1="247.46" x2="517.75" y2="249.26" stroke="#666" stroke-width="0.7" />
<line x1="524.43" y1="306.77" x2="524.43" y2="303.57" stroke="#666" stroke-width="0.7" />
<line x1="524.43" y1="247.46" x2="524.43" y2="250.66" stroke="#666" stroke-width="0.7" />
<line x1="531.1" y1="306.77" x2="531.1" y2="304.97" stroke="#666" stroke-width="0.7" />
<line x1="531.1" y1="247.46" x2="531.1" y2="249.26" stroke="#666" stroke-width="0.7" />
<line x1="537.78" y1="306.77" x2="537.78" y2="304.97" stroke="#666" stroke-width="0.7" />
<line x1="537.78" y1="247.46" x2="537.78" y2="249.26" stroke="#666" stroke-width="0.7" />
<line x1="544.45" y1="306.77" x2="544.45" y2="303.57" stroke="#666" stroke-width="0.7" />
<line x1="544.45" y1="247.46" x2="544.45" y2="250.66" stroke="#666" stroke-width="0.7" />
<line x1="551.12" y1="306.77" x2="551.12" y2="304.97" stroke="#666" stroke-width="0.7" />
<line x1="551.12" y1="247.46" x2="551.12" y2="249.26" stroke="#666" stroke-width="0.7" />
<line x1="557.8" y1="306.77" x2="557.8" y2="304.97" stroke="#666" stroke-width="0.7" />
<line x1="557.8" y1="247.46" x2="557.8" y2="249.26" stroke="#666" stroke-width="0.7" />
<line x1="564.47" y1="306.77" x2="564.47" y2="303.57" stroke="#666" stroke-width="0.7" />
<line x1="564.47" y1="247.46" x2="564.47" y2="250.66" stroke="#666" stroke-width="0.7" />
<line x1="571.15" y1="306.77" x2="571.15" y2="304.97" stroke="#666" stroke-width="0.7" />
<line x1="571.15" y1="247.46" x2="571.15" y2="249.26" stroke="#666" stroke-width="0.7" />
<line x1="577.82" y1="306.77" x2="577.82" y2="304.97" stroke="#666" stroke-width="0.7" />
<line x1="577.82" y1="247.46" x2="577.82" y2="249.26" stroke="#666" stroke-width="0.7" />
<line x1="584.49" y1="306.77" x2="584.49" y2="303.57" stroke="#666" stroke-width="0.7" />
<line x1="584.49" y1="247.46" x2="584.49" y2="250.66" stroke="#666" stroke-width="0.7" />
<line x1="591.17" y1="306.77" x2="591.17" y2="304.97" stroke="#666" stroke-width="0.7" />
<line x1="591.17" y1="247.46" x2="591.17" y2="249.26" stroke="#666" stroke-width="0.7" />
<line x1="597.84" y1="306.77" x2="597.84" y2="304.97" stroke="#666" stroke-width="0.7" />
<line x1="597.84" y1="247.46" x2="597.84" y2="249.26" stroke="#666" stroke-width="0.7" />
<line x1="604.51" y1="306.77" x2="604.51" y2="303.57" stroke="#666" stroke-width="0.7" />
<line x1="604.51" y1="247.46" x2="604.51" y2="250.66" stroke="#666" stroke-width="0.7" />
<line x1="611.19" y1="306.77" x2="611.19" y2="304.97" stroke="#666" stroke-width="0.7" />
<line x1="611.19" y1="247.46" x2="611.19" y2="249.26" stroke="#666" stroke-width="0.7" />
<line x1="617.86" y1="306.77" x2="617.86" y2="304.97" stroke="#666" stroke-width="0.7" />
<line x1="617.86" y1="247.46" x2="617.86" y2="249.26" stroke="#666" stroke-width="0.7" />
<line x1="624.54" y1="306.77" x2="624.54" y2="303.57" stroke="#666" stroke-width="0.7" />
<line x1="624.54" y1="247.46" x2="624.54" y2="250.66" stroke="#666" stroke-width="0.7" />
<line x1="631.21" y1="306.77" x2="631.21" y2="304.97" stroke="#666" stroke-width="0.7" />
<line x1="631.21" y1="247.46" x2="631.21" y2="249.26" stroke="#666" stroke-width="0.7" />
<line x1="637.88" y1="306.77" x2="637.88" y2="304.97" stroke="#666" stroke-width="0.7" />
<line x1="637.88" y1="247.46" x2="637.88" y2="249.26" stroke="#666" stroke-width="0.7" />
<line x1="644.56" y1="306.77" x2="644.56" y2="303.57" stroke="#666" stroke-width="0.7" />
<line x1="644.56" y1="247.46" x2="644.56" y2="250.66" stroke="#666" stroke-width="0.7" />
<line x1="651.23" y1="306.77" x2="651.23" y2="304.97" stroke="#666" stroke-width="0.7" />
<line x1="651.23" y1="247.46" x2="651.23" y2="249.26" stroke="#666" stroke-width="0.7" />
<line x1="657.9" y1="306.77" x2="657.9" y2="304.97" stroke="#666" stroke-width="0.7" />
<line x1="657.9" y1="247.46" x2="657.9" y2="249.26" stroke="#666" stroke-width="0.7" />
<line x1="664.58" y1="306.77" x2="664.58" y2="303.57" stroke="#666" stroke-width="0.7" />
<line x1="664.58" y1="247.46" x2="664.58" y2="250.66" stroke="#666" stroke-width="0.7" />
<line x1="671.25" y1="306.77" x2="671.25" y2="304.97" stroke="#666" stroke-width="0.7" />
<line x1="671.25" y1="247.46" x2="671.25" y2="249.26" stroke="#666" stroke-width="0.7" />
<line x1="677.93" y1="306.77" x2="677.93" y2="304.97" stroke="#666" stroke-width="0.7" />
<line x1="677.93" y1="247.46" x2="677.93" y2="249.26" stroke="#666" stroke-width="0.7" />
<line x1="410.97" y1="366.09" x2="410.97" y2="364.29" stroke="#666" stroke-width="0.7" />
<line x1="410.97" y1="306.77" x2="410.97" y2="308.57" stroke="#666" stroke-width="0.7" />
<line x1="417.65" y1="366.09" x2="417.65" y2="364.29" stroke="#666" stroke-width="0.7" />
<line x1="417.65" y1="306.77" x2="417.65" y2="308.57" stroke="#666" stroke-width="0.7" />
<line x1="424.32" y1="366.09" x2="424.32" y2="362.89" stroke="#666" stroke-width="0.7" />
<line x1="424.32" y1="306.77" x2="424.32" y2="309.97" stroke="#666" stroke-width="0.7" />
<line x1="431" y1="366.09" x2="431" y2="364.29" stroke="#666" stroke-width="0.7" />
<line x1="431" y1="306.77" x2="431" y2="308.57" stroke="#666" stroke-width="0.7" />
<line x1="437.67" y1="366.09" x2="437.67" y2="364.29" stroke="#666" stroke-width="0.7" />
<line x1="437.67" y1="306.77" x2="437.67" y2="308.57" stroke="#666" stroke-width="0.7" />
<line x1="444.34" y1="366.09" x2="444.34" y2="362.89" stroke="#666" stroke-width="0.7" />
<line x1="444.34" y1="306.77" x2="444.34" y2="309.97" stroke="#666" stroke-width="0.7" />
<line x1="451.02" y1="366.09" x2="451.02" y2="364.29" stroke="#666" stroke-width="0.7" />
<line x1="451.02" y1="306.77" x2="451.02" y2="308.57" stroke="#666" stroke-width="0.7" />
<line x1="457.69" y1="366.09" x2="457.69" y2="364.29" stroke="#666" stroke-width="0.7" />
<line x1="457.69" y1="306.77" x2="457.69" y2="308.57" stroke="#666" stroke-width="0.7" />
<line x1="464.36" y1="366.09" x2="464.36" y2="362.89" stroke="#666" stroke-width="0.7" />
<line x1="464.36" y1="306.77" x2="464.36" y2="309.97" stroke="#666" stroke-width="0.7" />
<line x1="471.04" y1="366.09" x2="471.04" y2="364.29" stroke="#666" stroke-width="0.7" />
<line x1="471.04" y1="306.77" x2="471.04" y2="308.57" stroke="#666" stroke-width="0.7" />
<line x1="477.71" y1="366.09" x2="477.71" y2="364.29" stroke="#666" stroke-width="0.7" />
<line x1="477.71" y1="306.77" x2="477.71" y2="308.57" stroke="#666" stroke-width="0.7" />
<line x1="484.39" y1="366.09" x2="484.39" y2="362.89" stroke="#666" stroke-width="0.7" />
<line x1="484.39" y1="306.77" x2="484.39" y2="309.97" stroke="#666" stroke-width="0.7" />
<line x1="491.06" y1="366.09" x2="491.06" y2="364.29" stroke="#666" stroke-width="0.7" />
<line x1="491.06" y1="306.77" x2="491.06" y2="308.57" stroke="#666" stroke-width="0.7" />
<line x1="497.73" y1="366.09" x2="497.73" y2="364.29" stroke="#666" stroke-width="0.7" />
<line x1="497.73" y1="306.77" x2="497.73" y2="308.57" stroke="#666" stroke-width="0.7" />
<line x1="504.41" y1="366.09" x2="504.41" y2="362.89" stroke="#666" stroke-width="0.7" />
<line x1="504.41" y1="306.77" x2="504.41" y2="309.97" stroke="#666" stroke-width="0.7" />
<line x1="511.08" y1="366.09" x2="511.08" y2="364.29" stroke="#666" stroke-width="0.7" />
<line x1="511.08" y1="306.77" x2="511.08" y2="308.57" stroke="#666" stroke-width="0.7" />
<line x1="517.75" y1="366.09" x2="517.75" y2="364.29" stroke="#666" stroke-width="0.7" />
<line x1="517.75" y1="306.77" x2="517.75" y2="308.57" stroke="#666" stroke-width="0.7" />
<line x1="524.43" y1="366.09" x2="524.43" y2="362.89" stroke="#666" stroke-width="0.7" />
<line x1="524.43" y1="306.77" x2="524.43" y2="309.97" stroke="#666" stroke-width="0.7" />
<line x1="531.1" y1="366.09" x2="531.1" y2="364.29" stroke="#666" stroke-width="0.7" />
<line x1="531.1" y1="306.77" x2="531.1" y2="308.57" stroke="#666" stroke-width="0.7" />
<line x1="537.78" y1="366.09" x2="537.78" y2="364.29" stroke="#666" stroke-width="0.7" />
<line x1="537.78" y1="306.77" x2="537.78" y2="308.57" stroke="#666" stroke-width="0.7" />
<line x1="544.45" y1="366.09" x2="544.45" y2="362.89" stroke="#666" stroke-width="0.7" />
<line x1="544.45" y1="306.77" x2="544.45" y2="309.97" stroke="#666" stroke-width="0.7" />
<line x1="551.12" y1="366.09" x2="551.12" y2="364.29" stroke="#666" stroke-width="0.7" />
<line x1="551.12" y1="306.77" x2="551.12" y2="308.57" stroke="#666" stroke-width="0.7" />
<line x1="557.8" y1="366.09" x2="557.8" y2="364.29" stroke="#666" stroke-width="0.7" />
<line x1="557.8" y1="306.77" x2="557.8" y2="308.57" stroke="#666" stroke-width="0.7" />
<line x1="564.47" y1="366.09" x2="564.47" y2="362.89" stroke="#666" stroke-width="0.7" />
<line x1="564.47" y1="306.77" x2="564.47" y2="309.97" stroke="#666" stroke-width="0.7" />
<line x1="571.15" y1="366.09" x2="571.15" y2="364.29" stroke="#666" stroke-width="0.7" />
<line x1="571.15" y1="306.77" x2="571.15" y2="308.57" stroke="#666" stroke-width="0.7" />
<line x1="577.82" y1="366.09" x2="577.82" y2="364.29" stroke="#666" stroke-width="0.7" />
<line x1="577.82" y1="306.77" x2="577.82" y2="308.57" stroke="#666" stroke-width="0.7" />
<line x1="584.49" y1="366.09" x2="584.49" y2="362.89" stroke="#666" stroke-width="0.7" />
<line x1="584.49" y1="306.77" x2="584.49" y2="309.97" stroke="#666" stroke-width="0.7" />
<line x1="591.17" y1="366.09" x2="591.17" y2="364.29" stroke="#666" stroke-width="0.7" />
<line x1="591.17" y1="306.77" x2="591.17" y2="308.57" stroke="#666" stroke-width="0.7" />
<line x1="597.84" y1="366.09" x2="597.84" y2="364.29" stroke="#666" stroke-width="0.7" />
<line x1="597.84" y1="306.77" x2="597.84" y2="308.57" stroke="#666" stroke-width="0.7" />
<line x1="604.51" y1="366.09" x2="604.51" y2="362.89" stroke="#666" stroke-width="0.7" />
<line x1="604.51" y1="306.77" x2="604.51" y2="309.97" stroke="#666" stroke-width="0.7" />
<line x1="611.19" y1="366.09" x2="611.19" y2="364.29" stroke="#666" stroke-width="0.7" />
<line x1="611.19" y1="306.77" x2="611.19" y2="308.57" stroke="#666" stroke-width="0.7" />
<line x1="617.86" y1="366.09" x2="617.86" y2="364.29" stroke="#666" stroke-width="0.7" />
<line x1="617.86" y1="306.77" x2="617.86" y2="308.57" stroke="#666" stroke-width="0.7" />
<line x1="624.54" y1="366.09" x2="624.54" y2="362.89" stroke="#666" stroke-width="0.7" />
<line x1="624.54" y1="306.77" x2="624.54" y2="309.97" stroke="#666" stroke-width="0.7" />
<line x1="631.21" y1="366.09" x2="631.21" y2="364.29" stroke="#666" stroke-width="0.7" />
<line x1="631.21" y1="306.77" x2="631.21" y2="308.57" stroke="#666" stroke-width="0.7" />
<line x1="637.88" y1="366.09" x2="637.88" y2="364.29" stroke="#666" stroke-width="0.7" />
<line x1="637.88" y1="306.77" x2="637.88" y2="308.57" stroke="#666" stroke-width="0.7" />
<line x1="644.56" y1="366.09" x2="644.56" y2="362.89" stroke="#666" stroke-width="0.7" />
<line x1="644.56" y1="306.77" x2="644.56" y2="309.97" stroke="#666" stroke-width="0.7" />
<line x1="651.23" y1="366.09" x2="651.23" y2="364.29" stroke="#666" stroke-width="0.7" />
<line x1="651.23" y1="306.77" x2="651.23" y2="308.57" stroke="#666" stroke-width="0.7" />
<line x1="657.9" y1="366.09" x2="657.9" y2="364.29" stroke="#666" stroke-width="0.7" />
<line x1="657.9" y1="306.77" x2="657.9" y2="308.57" stroke="#666" stroke-width="0.7" />
<line x1="664.58" y1="366.09" x2="664.58" y2="362.89" stroke="#666" stroke-width="0.7" />
<line x1="664.58" y1="306.77" x2="664.58" y2="309.97" stroke="#666" stroke-width="0.7" />
<line x1="671.25" y1="366.09" x2="671.25" y2="364.29" stroke="#666" stroke-width="0.7" />
<line x1="671.25" y1="306.77" x2="671.25" y2="308.57" stroke="#666" stroke-width="0.7" />
<line x1="677.93" y1="366.09" x2="677.93" y2="364.29" stroke="#666" stroke-width="0.7" />
<line x1="677.93" y1="306.77" x2="677.93" y2="308.57" stroke="#666" stroke-width="0.7" />
<line x1="410.97" y1="425.4" x2="410.97" y2="423.6" stroke="#666" stroke-width="0.7" />
<line x1="410.97" y1="366.09" x2="410.97" y2="367.89" stroke="#666" stroke-width="0.7" />
<line x1="417.65" y1="425.4" x2="417.65" y2="423.6" stroke="#666" stroke-width="0.7" />
<line x1="417.65" y1="366.09" x2="417.65" y2="367.89" stroke="#666" stroke-width="0.7" />
<line x1="424.32" y1="425.4" x2="424.32" y2="422.2" stroke="#666" stroke-width="0.7" />
<line x1="424.32" y1="366.09" x2="424.32" y2="369.29" stroke="#666" stroke-width="0.7" />
<line x1="431" y1="425.4" x2="431" y2="423.6" stroke="#666" stroke-width="0.7" />
<line x1="431" y1="366.09" x2="431" y2="367.89" stroke="#666" stroke-width="0.7" />
<line x1="437.67" y1="425.4" x2="437.67" y2="423.6" stroke="#666" stroke-width="0.7" />
<line x1="437.67" y1="366.09" x2="437.67" y2="367.89" stroke="#666" stroke-width="0.7" />
<line x1="444.34" y1="425.4" x2="444.34" y2="422.2" stroke="#666" stroke-width="0.7" />
<line x1="444.34" y1="366.09" x2="444.34" y2="369.29" stroke="#666" stroke-width="0.7" />
<line x1="451.02" y1="425.4" x2="451.02" y2="423.6" stroke="#666" stroke-width="0.7" />
<line x1="451.02" y1="366.09" x2="451.02" y2="367.89" stroke="#666" stroke-width="0.7" />
<line x1="457.69" y1="425.4" x2="457.69" y2="423.6" stroke="#666" stroke-width="0.7" />
<line x1="457.69" y1="366.09" x2="457.69" y2="367.89" stroke="#666" stroke-width="0.7" />
<line x1="464.36" y1="425.4" x2="464.36" y2="422.2" stroke="#666" stroke-width="0.7" />
<line x1="464.36" y1="366.09" x2="464.36" y2="369.29" stroke="#666" stroke-width="0.7" />
<line x1="471.04" y1="425.4" x2="471.04" y2="423.6" stroke="#666" stroke-width="0.7" />
<line x1="471.04" y1="366.09" x2="471.04" y2="367.89" stroke="#666" stroke-width="0.7" />
<line x1="477.71" y1="425.4" x2="477.71" y2="423.6" stroke="#666" stroke-width="0.7" />
<line x1="477.71" y1="366.09" x2="477.71" y2="367.89" stroke="#666" stroke-width="0.7" />
<line x1="484.39" y1="425.4" x2="484.39" y2="422.2" stroke="#666" stroke-width="0.7" />
<line x1="484.39" y1="366.09" x2="484.39" y2="369.29" stroke="#666" stroke-width="0.7" />
<line x1="491.06" y1="425.4" x2="491.06" y2="423.6" stroke="#666" stroke-width="0.7" />
<line x1="491.06" y1="366.09" x2="491.06" y2="367.89" stroke="#666" stroke-width="0.7" />
<line x1="497.73" y1="425.4" x2="497.73" y2="423.6" stroke="#666" stroke-width="0.7" />
<line x1="497.73" y1="366.09" x2="497.73" y2="367.89" stroke="#666" stroke-width="0.7" />
<line x1="504.41" y1="425.4" x2="504.41" y2="422.2" stroke="#666" stroke-width="0.7" />
<line x1="504.41" y1="366.09" x2="504.41" y2="369.29" stroke="#666" stroke-width="0.7" />
<line x1="511.08" y1="425.4" x2="511.08" y2="423.6" stroke="#666" stroke-width="0.7" />
<line x1="511.08" y1="366.09" x2="511.08" y2="367.89" stroke="#666" stroke-width="0.7" />
<line x1="517.75" y1="425.4" x2="517.75" y2="423.6" stroke="#666" stroke-width="0.7" />
<line x1="517.75" y1="366.09" x2="517.75" y2="367.89" stroke="#666" stroke-width="0.7" />
<line x1="524.43" y1="425.4" x2="524.43" y2="422.2" stroke="#666" stroke-width="0.7" />
<line x1="524.43" y1="366.09" x2="524.43" y2="369.29" stroke="#666" stroke-width="0.7" />
<line x1="531.1" y1="425.4" x2="531.1" y2="423.6" stroke="#666" stroke-width="0.7" />
<line x1="531.1" y1="366.09" x2="531.1" y2="367.89" stroke="#666" stroke-width="0.7" />
<line x1="537.78" y1="425.4" x2="537.78" y2="423.6" stroke="#666" stroke-width="0.7" />
<line x1="537.78" y1="366.09" x2="537.78" y2="367.89" stroke="#666" stroke-width="0.7" />
<line x1="544.45" y1="425.4" x2="544.45" y2="422.2" stroke="#666" stroke-width="0.7" />
<line x1="544.45" y1="366.09" x2="544.45" y2="369.29" stroke="#666" stroke-width="0.7" />
<line x1="551.12" y1="425.4" x2="551.12" y2="423.6" stroke="#666" stroke-width="0.7" />
<line x1="551.12" y1="366.09" x2="551.12" y2="367.89" stroke="#666" stroke-width="0.7" />
<line x1="557.8" y1="425.4" x2="557.8" y2="423.6" stroke="#666" stroke-width="0.7" />
<line x1="557.8" y1="366.09" x2="557.8" y2="367.89" stroke="#666" stroke-width="0.7" />
<line x1="564.47" y1="425.4" x2="564.47" y2="422.2" stroke="#666" stroke-width="0.7" />
<line x1="564.47" y1="366.09" x2="564.47" y2="369.29" stroke="#666" stroke-width="0.7" />
<line x1="571.15" y1="425.4" x2="571.15" y2="423.6" stroke="#666" stroke-width="0.7" />
<line x1="571.15" y1="366.09" x2="571.15" y2="367.89" stroke="#666" stroke-width="0.7" />
<line x1="577.82" y1="425.4" x2="577.82" y2="423.6" stroke="#666" stroke-width="0.7" />
<line x1="577.82" y1="366.09" x2="577.82" y2="367.89" stroke="#666" stroke-width="0.7" />
<line x1="584.49" y1="425.4" x2="584.49" y2="422.2" stroke="#666" stroke-width="0.7" />
<line x1="584.49" y1="366.09" x2="584.49" y2="369.29" stroke="#666" stroke-width="0.7" />
<line x1="591.17" y1="425.4" x2="591.17" y2="423.6" stroke="#666" stroke-width="0.7" />
<line x1="591.17" y1="366.09" x2="591.17" y2="367.89" stroke="#666" stroke-width="0.7" />
<line x1="597.84" y1="425.4" x2="597.84" y2="423.6" stroke="#666" stroke-width="0.7" />
<line x1="597.84" y1="366.09" x2="597.84" y2="367.89" stroke="#666" stroke-width="0.7" />
<line x1="604.51" y1="425.4" x2="604.51" y2="422.2" stroke="#666" stroke-width="0.7" />
<line x1="604.51" y1="366.09" x2="604.51" y2="369.29" stroke="#666" stroke-width="0.7" />
<line x1="611.19" y1="425.4" x2="611.19" y2="423.6" stroke="#666" stroke-width="0.7" />
<line x1="611.19" y1="366.09" x2="611.19" y2="367.89" stroke="#666" stroke-width="0.7" />
<line x1="617.86" y1="425.4" x2="617.86" y2="423.6" stroke="#666" stroke-width="0.7" />
<line x1="617.86" y1="366.09" x2="617.86" y2="367.89" stroke="#666" stroke-width="0.7" />
<line x1="624.54" y1="425.4" x2="624.54" y2="422.2" stroke="#666" stroke-width="0.7" />
<line x1="624.54" y1="366.09" x2="624.54" y2="369.29" stroke="#666" stroke-width="0.7" />
<line x1="631.21" y1="425.4" x2="631.21" y2="423.6" stroke="#666" stroke-width="0.7" />
<line x1="631.21" y1="366.09" x2="631.21" y2="367.89" stroke="#666" stroke-width="0.7" />
<line x1="637.88" y1="425.4" x2="637.88" y2="423.6" stroke="#666" stroke-width="0.7" />
<line x1="637.88" y1="366.09" x2="637.88" y2="367.89" stroke="#666" stroke-width="0.7" />
<line x1="644.56" y1="425.4" x2="644.56" y2="422.2" stroke="#666" stroke-width="0.7" />
<line x1="644.56" y1="366.09" x2="644.56" y2="369.29" stroke="#666" stroke-width="0.7" />
<line x1="651.23" y1="425.4" x2="651.23" y2="423.6" stroke="#666" stroke-width="0.7" />
<line x1="651.23" y1="366.09" x2="651.23" y2="367.89" stroke="#666" stroke-width="0.7" />
<line x1="657.9" y1="425.4" x2="657.9" y2="423.6" stroke="#666" stroke-width="0.7" />
<line x1="657.9" y1="366.09" x2="657.9" y2="367.89" stroke="#666" stroke-width="0.7" />
<line x1="664.58" y1="425.4" x2="664.58" y2="422.2" stroke="#666" stroke-width="0.7" />
<line x1="664.58" y1="366.09" x2="664.58" y2="369.29" stroke="#666" stroke-width="0.7" />
<line x1="671.25" y1="425.4" x2="671.25" y2="423.6" stroke="#666" stroke-width="0.7" />
<line x1="671.25" y1="366.09" x2="671.25" y2="367.89" stroke="#666" stroke-width="0.7" />
<line x1="677.93" y1="425.4" x2="677.93" y2="423.6" stroke="#666" stroke-width="0.7" />
<line x1="677.93" y1="366.09" x2="677.93" y2="367.89" stroke="#666" stroke-width="0.7" />
<rect x="404.3" y="10.2" width="280.3" height="415.2" fill="none" stroke="#5a5a5a" stroke-width="1.25"/>
<line x1="404.3" y1="69.51" x2="684.6" y2="69.51" stroke="#5e5e5e" stroke-width="2.2" />
<line x1="404.3" y1="128.83" x2="684.6" y2="128.83" stroke="#5e5e5e" stroke-width="2.2" />
<line x1="404.3" y1="188.14" x2="684.6" y2="188.14" stroke="#5e5e5e" stroke-width="2.2" />
<line x1="404.3" y1="247.46" x2="684.6" y2="247.46" stroke="#5e5e5e" stroke-width="2.2" />
<line x1="404.3" y1="306.77" x2="684.6" y2="306.77" stroke="#5e5e5e" stroke-width="2.2" />
<line x1="404.3" y1="366.09" x2="684.6" y2="366.09" stroke="#5e5e5e" stroke-width="2.2" />
<line x1="29.45" y1="68.9" x2="32.05" y2="68.9" stroke="#666" stroke-width="0.6" />
<line x1="310.2" y1="68.9" x2="307.6" y2="68.9" stroke="#666" stroke-width="0.6" />
<text x="26.45" y="71.63" font-family='"Liberation Sans", sans-serif' font-size="7.73" text-anchor="end" fill="#000" stroke="#000" stroke-width="0.14" textLength="4.77" lengthAdjust="spacingAndGlyphs" >0</text>
<line x1="29.45" y1="62" x2="32.05" y2="62" stroke="#666" stroke-width="0.6" />
<line x1="310.2" y1="62" x2="307.6" y2="62" stroke="#666" stroke-width="0.6" />
<text x="26.45" y="64.73" font-family='"Liberation Sans", sans-serif' font-size="7.73" text-anchor="end" fill="#000" stroke="#000" stroke-width="0.14" textLength="4.77" lengthAdjust="spacingAndGlyphs" >2</text>
<line x1="29.45" y1="55.1" x2="32.05" y2="55.1" stroke="#666" stroke-width="0.6" />
<line x1="310.2" y1="55.1" x2="307.6" y2="55.1" stroke="#666" stroke-width="0.6" />
<text x="26.45" y="57.83" font-family='"Liberation Sans", sans-serif' font-size="7.73" text-anchor="end" fill="#000" stroke="#000" stroke-width="0.14" textLength="4.77" lengthAdjust="spacingAndGlyphs" >4</text>
<line x1="29.45" y1="48.2" x2="32.05" y2="48.2" stroke="#666" stroke-width="0.6" />
<line x1="310.2" y1="48.2" x2="307.6" y2="48.2" stroke="#666" stroke-width="0.6" />
<text x="26.45" y="50.93" font-family='"Liberation Sans", sans-serif' font-size="7.73" text-anchor="end" fill="#000" stroke="#000" stroke-width="0.14" textLength="4.77" lengthAdjust="spacingAndGlyphs" >6</text>
<line x1="29.45" y1="41.3" x2="32.05" y2="41.3" stroke="#666" stroke-width="0.6" />
<line x1="310.2" y1="41.3" x2="307.6" y2="41.3" stroke="#666" stroke-width="0.6" />
<text x="26.45" y="44.03" font-family='"Liberation Sans", sans-serif' font-size="7.73" text-anchor="end" fill="#000" stroke="#000" stroke-width="0.14" textLength="4.77" lengthAdjust="spacingAndGlyphs" >8</text>
<line x1="29.45" y1="34.4" x2="32.05" y2="34.4" stroke="#666" stroke-width="0.6" />
<line x1="310.2" y1="34.4" x2="307.6" y2="34.4" stroke="#666" stroke-width="0.6" />
<text x="26.45" y="37.13" font-family='"Liberation Sans", sans-serif' font-size="7.73" text-anchor="end" fill="#000" stroke="#000" stroke-width="0.14" textLength="9.54" lengthAdjust="spacingAndGlyphs" >10</text>
<line x1="29.45" y1="27.5" x2="32.05" y2="27.5" stroke="#666" stroke-width="0.6" />
<line x1="310.2" y1="27.5" x2="307.6" y2="27.5" stroke="#666" stroke-width="0.6" />
<text x="26.45" y="30.23" font-family='"Liberation Sans", sans-serif' font-size="7.73" text-anchor="end" fill="#000" stroke="#000" stroke-width="0.14" textLength="9.54" lengthAdjust="spacingAndGlyphs" >12</text>
<line x1="29.45" y1="20.6" x2="32.05" y2="20.6" stroke="#666" stroke-width="0.6" />
<line x1="310.2" y1="20.6" x2="307.6" y2="20.6" stroke="#666" stroke-width="0.6" />
<text x="26.45" y="23.33" font-family='"Liberation Sans", sans-serif' font-size="7.73" text-anchor="end" fill="#000" stroke="#000" stroke-width="0.14" textLength="9.54" lengthAdjust="spacingAndGlyphs" >14</text>
<line x1="29.45" y1="13.7" x2="32.05" y2="13.7" stroke="#666" stroke-width="0.6" />
<line x1="310.2" y1="13.7" x2="307.6" y2="13.7" stroke="#666" stroke-width="0.6" />
<text x="26.45" y="16.43" font-family='"Liberation Sans", sans-serif' font-size="7.73" text-anchor="end" fill="#000" stroke="#000" stroke-width="0.14" textLength="9.54" lengthAdjust="spacingAndGlyphs" >16</text>
<line x1="29.45" y1="65.45" x2="30.85" y2="65.45" stroke="#666" stroke-width="0.5" />
<line x1="310.2" y1="65.45" x2="308.8" y2="65.45" stroke="#666" stroke-width="0.5" />
<line x1="29.45" y1="58.55" x2="30.85" y2="58.55" stroke="#666" stroke-width="0.5" />
<line x1="310.2" y1="58.55" x2="308.8" y2="58.55" stroke="#666" stroke-width="0.5" />
<line x1="29.45" y1="51.65" x2="30.85" y2="51.65" stroke="#666" stroke-width="0.5" />
<line x1="310.2" y1="51.65" x2="308.8" y2="51.65" stroke="#666" stroke-width="0.5" />
<line x1="29.45" y1="44.75" x2="30.85" y2="44.75" stroke="#666" stroke-width="0.5" />
<line x1="310.2" y1="44.75" x2="308.8" y2="44.75" stroke="#666" stroke-width="0.5" />
<line x1="29.45" y1="37.85" x2="30.85" y2="37.85" stroke="#666" stroke-width="0.5" />
<line x1="310.2" y1="37.85" x2="308.8" y2="37.85" stroke="#666" stroke-width="0.5" />
<line x1="29.45" y1="30.95" x2="30.85" y2="30.95" stroke="#666" stroke-width="0.5" />
<line x1="310.2" y1="30.95" x2="308.8" y2="30.95" stroke="#666" stroke-width="0.5" />
<line x1="29.45" y1="24.05" x2="30.85" y2="24.05" stroke="#666" stroke-width="0.5" />
<line x1="310.2" y1="24.05" x2="308.8" y2="24.05" stroke="#666" stroke-width="0.5" />
<line x1="29.45" y1="17.15" x2="30.85" y2="17.15" stroke="#666" stroke-width="0.5" />
<line x1="310.2" y1="17.15" x2="308.8" y2="17.15" stroke="#666" stroke-width="0.5" />
<line x1="29.45" y1="125.9" x2="32.05" y2="125.9" stroke="#666" stroke-width="0.6" />
<line x1="310.2" y1="125.9" x2="307.6" y2="125.9" stroke="#666" stroke-width="0.6" />
<text x="26.45" y="128.63" font-family='"Liberation Sans", sans-serif' font-size="7.73" text-anchor="end" fill="#000" stroke="#000" stroke-width="0.14" textLength="15.83" lengthAdjust="spacingAndGlyphs" >−15</text>
<line x1="29.45" y1="116.93" x2="32.05" y2="116.93" stroke="#666" stroke-width="0.6" />
<line x1="310.2" y1="116.93" x2="307.6" y2="116.93" stroke="#666" stroke-width="0.6" />
<text x="26.45" y="119.66" font-family='"Liberation Sans", sans-serif' font-size="7.73" text-anchor="end" fill="#000" stroke="#000" stroke-width="0.14" textLength="15.83" lengthAdjust="spacingAndGlyphs" >−10</text>
<line x1="29.45" y1="107.97" x2="32.05" y2="107.97" stroke="#666" stroke-width="0.6" />
<line x1="310.2" y1="107.97" x2="307.6" y2="107.97" stroke="#666" stroke-width="0.6" />
<text x="26.45" y="110.7" font-family='"Liberation Sans", sans-serif' font-size="7.73" text-anchor="end" fill="#000" stroke="#000" stroke-width="0.14" textLength="11.06" lengthAdjust="spacingAndGlyphs" >−5</text>
<line x1="29.45" y1="99" x2="32.05" y2="99" stroke="#666" stroke-width="0.6" />
<line x1="310.2" y1="99" x2="307.6" y2="99" stroke="#666" stroke-width="0.6" />
<text x="26.45" y="101.73" font-family='"Liberation Sans", sans-serif' font-size="7.73" text-anchor="end" fill="#000" stroke="#000" stroke-width="0.14" textLength="4.77" lengthAdjust="spacingAndGlyphs" >0</text>
<line x1="29.45" y1="90.03" x2="32.05" y2="90.03" stroke="#666" stroke-width="0.6" />
<line x1="310.2" y1="90.03" x2="307.6" y2="90.03" stroke="#666" stroke-width="0.6" />
<text x="26.45" y="92.76" font-family='"Liberation Sans", sans-serif' font-size="7.73" text-anchor="end" fill="#000" stroke="#000" stroke-width="0.14" textLength="4.77" lengthAdjust="spacingAndGlyphs" >5</text>
<line x1="29.45" y1="81.07" x2="32.05" y2="81.07" stroke="#666" stroke-width="0.6" />
<line x1="310.2" y1="81.07" x2="307.6" y2="81.07" stroke="#666" stroke-width="0.6" />
<text x="26.45" y="83.8" font-family='"Liberation Sans", sans-serif' font-size="7.73" text-anchor="end" fill="#000" stroke="#000" stroke-width="0.14" textLength="9.54" lengthAdjust="spacingAndGlyphs" >10</text>
<line x1="29.45" y1="72.1" x2="32.05" y2="72.1" stroke="#666" stroke-width="0.6" />
<line x1="310.2" y1="72.1" x2="307.6" y2="72.1" stroke="#666" stroke-width="0.6" />
<text x="26.45" y="74.83" font-family='"Liberation Sans", sans-serif' font-size="7.73" text-anchor="end" fill="#000" stroke="#000" stroke-width="0.14" textLength="9.54" lengthAdjust="spacingAndGlyphs" >15</text>
<line x1="29.45" y1="121.42" x2="30.85" y2="121.42" stroke="#666" stroke-width="0.5" />
<line x1="310.2" y1="121.42" x2="308.8" y2="121.42" stroke="#666" stroke-width="0.5" />
<line x1="29.45" y1="112.45" x2="30.85" y2="112.45" stroke="#666" stroke-width="0.5" />
<line x1="310.2" y1="112.45" x2="308.8" y2="112.45" stroke="#666" stroke-width="0.5" />
<line x1="29.45" y1="103.48" x2="30.85" y2="103.48" stroke="#666" stroke-width="0.5" />
<line x1="310.2" y1="103.48" x2="308.8" y2="103.48" stroke="#666" stroke-width="0.5" />
<line x1="29.45" y1="94.52" x2="30.85" y2="94.52" stroke="#666" stroke-width="0.5" />
<line x1="310.2" y1="94.52" x2="308.8" y2="94.52" stroke="#666" stroke-width="0.5" />
<line x1="29.45" y1="85.55" x2="30.85" y2="85.55" stroke="#666" stroke-width="0.5" />
<line x1="310.2" y1="85.55" x2="308.8" y2="85.55" stroke="#666" stroke-width="0.5" />
<line x1="29.45" y1="76.58" x2="30.85" y2="76.58" stroke="#666" stroke-width="0.5" />
<line x1="310.2" y1="76.58" x2="308.8" y2="76.58" stroke="#666" stroke-width="0.5" />
<line x1="29.45" y1="187.5" x2="32.05" y2="187.5" stroke="#666" stroke-width="0.6" />
<line x1="310.2" y1="187.5" x2="307.6" y2="187.5" stroke="#666" stroke-width="0.6" />
<text x="26.45" y="190.23" font-family='"Liberation Sans", sans-serif' font-size="7.73" text-anchor="end" fill="#000" stroke="#000" stroke-width="0.14" textLength="4.77" lengthAdjust="spacingAndGlyphs" >0</text>
<line x1="29.45" y1="178.35" x2="32.05" y2="178.35" stroke="#666" stroke-width="0.6" />
<line x1="310.2" y1="178.35" x2="307.6" y2="178.35" stroke="#666" stroke-width="0.6" />
<text x="26.45" y="181.08" font-family='"Liberation Sans", sans-serif' font-size="7.73" text-anchor="end" fill="#000" stroke="#000" stroke-width="0.14" textLength="4.77" lengthAdjust="spacingAndGlyphs" >5</text>
<line x1="29.45" y1="169.2" x2="32.05" y2="169.2" stroke="#666" stroke-width="0.6" />
<line x1="310.2" y1="169.2" x2="307.6" y2="169.2" stroke="#666" stroke-width="0.6" />
<text x="26.45" y="171.93" font-family='"Liberation Sans", sans-serif' font-size="7.73" text-anchor="end" fill="#000" stroke="#000" stroke-width="0.14" textLength="9.54" lengthAdjust="spacingAndGlyphs" >10</text>
<line x1="29.45" y1="160.05" x2="32.05" y2="160.05" stroke="#666" stroke-width="0.6" />
<line x1="310.2" y1="160.05" x2="307.6" y2="160.05" stroke="#666" stroke-width="0.6" />
<text x="26.45" y="162.78" font-family='"Liberation Sans", sans-serif' font-size="7.73" text-anchor="end" fill="#000" stroke="#000" stroke-width="0.14" textLength="9.54" lengthAdjust="spacingAndGlyphs" >15</text>
<line x1="29.45" y1="150.9" x2="32.05" y2="150.9" stroke="#666" stroke-width="0.6" />
<line x1="310.2" y1="150.9" x2="307.6" y2="150.9" stroke="#666" stroke-width="0.6" />
<text x="26.45" y="153.63" font-family='"Liberation Sans", sans-serif' font-size="7.73" text-anchor="end" fill="#000" stroke="#000" stroke-width="0.14" textLength="9.54" lengthAdjust="spacingAndGlyphs" >20</text>
<line x1="29.45" y1="141.75" x2="32.05" y2="141.75" stroke="#666" stroke-width="0.6" />
<line x1="310.2" y1="141.75" x2="307.6" y2="141.75" stroke="#666" stroke-width="0.6" />
<text x="26.45" y="144.48" font-family='"Liberation Sans", sans-serif' font-size="7.73" text-anchor="end" fill="#000" stroke="#000" stroke-width="0.14" textLength="9.54" lengthAdjust="spacingAndGlyphs" >25</text>
<line x1="29.45" y1="132.6" x2="32.05" y2="132.6" stroke="#666" stroke-width="0.6" />
<line x1="310.2" y1="132.6" x2="307.6" y2="132.6" stroke="#666" stroke-width="0.6" />
<text x="26.45" y="135.33" font-family='"Liberation Sans", sans-serif' font-size="7.73" text-anchor="end" fill="#000" stroke="#000" stroke-width="0.14" textLength="9.54" lengthAdjust="spacingAndGlyphs" >30</text>
<line x1="29.45" y1="182.93" x2="30.85" y2="182.93" stroke="#666" stroke-width="0.5" />
<line x1="310.2" y1="182.93" x2="308.8" y2="182.93" stroke="#666" stroke-width="0.5" />
<line x1="29.45" y1="173.78" x2="30.85" y2="173.78" stroke="#666" stroke-width="0.5" />
<line x1="310.2" y1="173.78" x2="308.8" y2="173.78" stroke="#666" stroke-width="0.5" />
<line x1="29.45" y1="164.62" x2="30.85" y2="164.62" stroke="#666" stroke-width="0.5" />
<line x1="310.2" y1="164.62" x2="308.8" y2="164.62" stroke="#666" stroke-width="0.5" />
<line x1="29.45" y1="155.47" x2="30.85" y2="155.47" stroke="#666" stroke-width="0.5" />
<line x1="310.2" y1="155.47" x2="308.8" y2="155.47" stroke="#666" stroke-width="0.5" />
<line x1="29.45" y1="146.32" x2="30.85" y2="146.32" stroke="#666" stroke-width="0.5" />
<line x1="310.2" y1="146.32" x2="308.8" y2="146.32" stroke="#666" stroke-width="0.5" />
<line x1="29.45" y1="137.17" x2="30.85" y2="137.17" stroke="#666" stroke-width="0.5" />
<line x1="310.2" y1="137.17" x2="308.8" y2="137.17" stroke="#666" stroke-width="0.5" />
<line x1="29.45" y1="301.7" x2="32.05" y2="301.7" stroke="#666" stroke-width="0.6" />
<line x1="310.2" y1="301.7" x2="307.6" y2="301.7" stroke="#666" stroke-width="0.6" />
<text x="26.45" y="304.43" font-family='"Liberation Sans", sans-serif' font-size="7.73" text-anchor="end" fill="#000" stroke="#000" stroke-width="0.14" textLength="14.32" lengthAdjust="spacingAndGlyphs" >280</text>
<line x1="29.45" y1="292.8" x2="32.05" y2="292.8" stroke="#666" stroke-width="0.6" />
<line x1="310.2" y1="292.8" x2="307.6" y2="292.8" stroke="#666" stroke-width="0.6" />
<text x="26.45" y="295.53" font-family='"Liberation Sans", sans-serif' font-size="7.73" text-anchor="end" fill="#000" stroke="#000" stroke-width="0.14" textLength="14.32" lengthAdjust="spacingAndGlyphs" >300</text>
<line x1="29.45" y1="283.9" x2="32.05" y2="283.9" stroke="#666" stroke-width="0.6" />
<line x1="310.2" y1="283.9" x2="307.6" y2="283.9" stroke="#666" stroke-width="0.6" />
<text x="26.45" y="286.63" font-family='"Liberation Sans", sans-serif' font-size="7.73" text-anchor="end" fill="#000" stroke="#000" stroke-width="0.14" textLength="14.32" lengthAdjust="spacingAndGlyphs" >320</text>
<line x1="29.45" y1="275" x2="32.05" y2="275" stroke="#666" stroke-width="0.6" />
<line x1="310.2" y1="275" x2="307.6" y2="275" stroke="#666" stroke-width="0.6" />
<text x="26.45" y="277.73" font-family='"Liberation Sans", sans-serif' font-size="7.73" text-anchor="end" fill="#000" stroke="#000" stroke-width="0.14" textLength="14.32" lengthAdjust="spacingAndGlyphs" >340</text>
<line x1="29.45" y1="266.1" x2="32.05" y2="266.1" stroke="#666" stroke-width="0.6" />
<line x1="310.2" y1="266.1" x2="307.6" y2="266.1" stroke="#666" stroke-width="0.6" />
<text x="26.45" y="268.83" font-family='"Liberation Sans", sans-serif' font-size="7.73" text-anchor="end" fill="#000" stroke="#000" stroke-width="0.14" textLength="14.32" lengthAdjust="spacingAndGlyphs" >360</text>
<line x1="29.45" y1="257.2" x2="32.05" y2="257.2" stroke="#666" stroke-width="0.6" />
<line x1="310.2" y1="257.2" x2="307.6" y2="257.2" stroke="#666" stroke-width="0.6" />
<text x="26.45" y="259.93" font-family='"Liberation Sans", sans-serif' font-size="7.73" text-anchor="end" fill="#000" stroke="#000" stroke-width="0.14" textLength="14.32" lengthAdjust="spacingAndGlyphs" >380</text>
<line x1="29.45" y1="297.25" x2="30.85" y2="297.25" stroke="#666" stroke-width="0.5" />
<line x1="310.2" y1="297.25" x2="308.8" y2="297.25" stroke="#666" stroke-width="0.5" />
<line x1="29.45" y1="288.35" x2="30.85" y2="288.35" stroke="#666" stroke-width="0.5" />
<line x1="310.2" y1="288.35" x2="308.8" y2="288.35" stroke="#666" stroke-width="0.5" />
<line x1="29.45" y1="279.45" x2="30.85" y2="279.45" stroke="#666" stroke-width="0.5" />
<line x1="310.2" y1="279.45" x2="308.8" y2="279.45" stroke="#666" stroke-width="0.5" />
<line x1="29.45" y1="270.55" x2="30.85" y2="270.55" stroke="#666" stroke-width="0.5" />
<line x1="310.2" y1="270.55" x2="308.8" y2="270.55" stroke="#666" stroke-width="0.5" />
<line x1="29.45" y1="261.65" x2="30.85" y2="261.65" stroke="#666" stroke-width="0.5" />
<line x1="310.2" y1="261.65" x2="308.8" y2="261.65" stroke="#666" stroke-width="0.5" />
<line x1="29.45" y1="252.75" x2="30.85" y2="252.75" stroke="#666" stroke-width="0.5" />
<line x1="310.2" y1="252.75" x2="308.8" y2="252.75" stroke="#666" stroke-width="0.5" />
<line x1="29.45" y1="248.3" x2="30.85" y2="248.3" stroke="#666" stroke-width="0.5" />
<line x1="310.2" y1="248.3" x2="308.8" y2="248.3" stroke="#666" stroke-width="0.5" />
<line x1="29.45" y1="360.7" x2="32.05" y2="360.7" stroke="#666" stroke-width="0.6" />
<text x="26.45" y="363.43" font-family='"Liberation Sans", sans-serif' font-size="7.73" text-anchor="end" fill="#000" stroke="#000" stroke-width="0.14" textLength="15.83" lengthAdjust="spacingAndGlyphs" >−60</text>
<line x1="29.45" y1="350.18" x2="32.05" y2="350.18" stroke="#666" stroke-width="0.6" />
<text x="26.45" y="352.91" font-family='"Liberation Sans", sans-serif' font-size="7.73" text-anchor="end" fill="#000" stroke="#000" stroke-width="0.14" textLength="15.83" lengthAdjust="spacingAndGlyphs" >−40</text>
<line x1="29.45" y1="339.66" x2="32.05" y2="339.66" stroke="#666" stroke-width="0.6" />
<text x="26.45" y="342.39" font-family='"Liberation Sans", sans-serif' font-size="7.73" text-anchor="end" fill="#000" stroke="#000" stroke-width="0.14" textLength="15.83" lengthAdjust="spacingAndGlyphs" >−20</text>
<line x1="29.45" y1="329.14" x2="32.05" y2="329.14" stroke="#666" stroke-width="0.6" />
<text x="26.45" y="331.87" font-family='"Liberation Sans", sans-serif' font-size="7.73" text-anchor="end" fill="#000" stroke="#000" stroke-width="0.14" textLength="4.77" lengthAdjust="spacingAndGlyphs" >0</text>
<line x1="29.45" y1="318.62" x2="32.05" y2="318.62" stroke="#666" stroke-width="0.6" />
<text x="26.45" y="321.35" font-family='"Liberation Sans", sans-serif' font-size="7.73" text-anchor="end" fill="#000" stroke="#000" stroke-width="0.14" textLength="9.54" lengthAdjust="spacingAndGlyphs" >20</text>
<line x1="29.45" y1="308.1" x2="32.05" y2="308.1" stroke="#666" stroke-width="0.6" />
<text x="26.45" y="310.83" font-family='"Liberation Sans", sans-serif' font-size="7.73" text-anchor="end" fill="#000" stroke="#000" stroke-width="0.14" textLength="9.54" lengthAdjust="spacingAndGlyphs" >40</text>
<line x1="29.45" y1="355.44" x2="30.85" y2="355.44" stroke="#666" stroke-width="0.5" />
<line x1="29.45" y1="344.92" x2="30.85" y2="344.92" stroke="#666" stroke-width="0.5" />
<line x1="29.45" y1="334.4" x2="30.85" y2="334.4" stroke="#666" stroke-width="0.5" />
<line x1="29.45" y1="323.88" x2="30.85" y2="323.88" stroke="#666" stroke-width="0.5" />
<line x1="29.45" y1="313.36" x2="30.85" y2="313.36" stroke="#666" stroke-width="0.5" />
<line x1="310.2" y1="360.5" x2="307.6" y2="360.5" stroke="#666" stroke-width="0.6" />
<text x="312.8" y="363.23" font-family='"Liberation Sans", sans-serif' font-size="7.73" text-anchor="start" fill="#ff0000" stroke="#ff0000" stroke-width="0.14" textLength="25.37" lengthAdjust="spacingAndGlyphs" >−1600</text>
<line x1="310.2" y1="353.84" x2="307.6" y2="353.84" stroke="#666" stroke-width="0.6" />
<text x="312.8" y="356.57" font-family='"Liberation Sans", sans-serif' font-size="7.73" text-anchor="start" fill="#ff0000" stroke="#ff0000" stroke-width="0.14" textLength="25.37" lengthAdjust="spacingAndGlyphs" >−1400</text>
<line x1="310.2" y1="347.18" x2="307.6" y2="347.18" stroke="#666" stroke-width="0.6" />
<text x="312.8" y="349.91" font-family='"Liberation Sans", sans-serif' font-size="7.73" text-anchor="start" fill="#ff0000" stroke="#ff0000" stroke-width="0.14" textLength="25.37" lengthAdjust="spacingAndGlyphs" >−1200</text>
<line x1="310.2" y1="340.51" x2="307.6" y2="340.51" stroke="#666" stroke-width="0.6" />
<text x="312.8" y="343.24" font-family='"Liberation Sans", sans-serif' font-size="7.73" text-anchor="start" fill="#ff0000" stroke="#ff0000" stroke-width="0.14" textLength="25.37" lengthAdjust="spacingAndGlyphs" >−1000</text>
<line x1="310.2" y1="333.85" x2="307.6" y2="333.85" stroke="#666" stroke-width="0.6" />
<text x="312.8" y="336.58" font-family='"Liberation Sans", sans-serif' font-size="7.73" text-anchor="start" fill="#ff0000" stroke="#ff0000" stroke-width="0.14" textLength="20.6" lengthAdjust="spacingAndGlyphs" >−800</text>
<line x1="310.2" y1="327.19" x2="307.6" y2="327.19" stroke="#666" stroke-width="0.6" />
<text x="312.8" y="329.92" font-family='"Liberation Sans", sans-serif' font-size="7.73" text-anchor="start" fill="#ff0000" stroke="#ff0000" stroke-width="0.14" textLength="20.6" lengthAdjust="spacingAndGlyphs" >−600</text>
<line x1="310.2" y1="320.52" x2="307.6" y2="320.52" stroke="#666" stroke-width="0.6" />
<text x="312.8" y="323.25" font-family='"Liberation Sans", sans-serif' font-size="7.73" text-anchor="start" fill="#ff0000" stroke="#ff0000" stroke-width="0.14" textLength="20.6" lengthAdjust="spacingAndGlyphs" >−400</text>
<line x1="310.2" y1="313.86" x2="307.6" y2="313.86" stroke="#666" stroke-width="0.6" />
<text x="312.8" y="316.59" font-family='"Liberation Sans", sans-serif' font-size="7.73" text-anchor="start" fill="#ff0000" stroke="#ff0000" stroke-width="0.14" textLength="20.6" lengthAdjust="spacingAndGlyphs" >−200</text>
<line x1="310.2" y1="307.2" x2="307.6" y2="307.2" stroke="#666" stroke-width="0.6" />
<text x="312.8" y="309.93" font-family='"Liberation Sans", sans-serif' font-size="7.73" text-anchor="start" fill="#ff0000" stroke="#ff0000" stroke-width="0.14" textLength="4.77" lengthAdjust="spacingAndGlyphs" >0</text>
<line x1="310.2" y1="363.83" x2="308.8" y2="363.83" stroke="#666" stroke-width="0.5" />
<line x1="310.2" y1="357.17" x2="308.8" y2="357.17" stroke="#666" stroke-width="0.5" />
<line x1="310.2" y1="350.51" x2="308.8" y2="350.51" stroke="#666" stroke-width="0.5" />
<line x1="310.2" y1="343.84" x2="308.8" y2="343.84" stroke="#666" stroke-width="0.5" />
<line x1="310.2" y1="337.18" x2="308.8" y2="337.18" stroke="#666" stroke-width="0.5" />
<line x1="310.2" y1="330.52" x2="308.8" y2="330.52" stroke="#666" stroke-width="0.5" />
<line x1="310.2" y1="323.86" x2="308.8" y2="323.86" stroke="#666" stroke-width="0.5" />
<line x1="310.2" y1="317.19" x2="308.8" y2="317.19" stroke="#666" stroke-width="0.5" />
<line x1="310.2" y1="310.53" x2="308.8" y2="310.53" stroke="#666" stroke-width="0.5" />
<line x1="29.45" y1="422" x2="32.05" y2="422" stroke="#666" stroke-width="0.6" />
<line x1="310.2" y1="422" x2="307.6" y2="422" stroke="#666" stroke-width="0.6" />
<text x="26.45" y="424.73" font-family='"Liberation Sans", sans-serif' font-size="7.73" text-anchor="end" fill="#000" stroke="#000" stroke-width="0.14" textLength="4.77" lengthAdjust="spacingAndGlyphs" >8</text>
<line x1="29.45" y1="413.03" x2="32.05" y2="413.03" stroke="#666" stroke-width="0.6" />
<line x1="310.2" y1="413.03" x2="307.6" y2="413.03" stroke="#666" stroke-width="0.6" />
<text x="26.45" y="415.76" font-family='"Liberation Sans", sans-serif' font-size="7.73" text-anchor="end" fill="#000" stroke="#000" stroke-width="0.14" textLength="4.77" lengthAdjust="spacingAndGlyphs" >9</text>
<line x1="29.45" y1="404.07" x2="32.05" y2="404.07" stroke="#666" stroke-width="0.6" />
<line x1="310.2" y1="404.07" x2="307.6" y2="404.07" stroke="#666" stroke-width="0.6" />
<text x="26.45" y="406.8" font-family='"Liberation Sans", sans-serif' font-size="7.73" text-anchor="end" fill="#000" stroke="#000" stroke-width="0.14" textLength="9.54" lengthAdjust="spacingAndGlyphs" >10</text>
<line x1="29.45" y1="395.1" x2="32.05" y2="395.1" stroke="#666" stroke-width="0.6" />
<line x1="310.2" y1="395.1" x2="307.6" y2="395.1" stroke="#666" stroke-width="0.6" />
<text x="26.45" y="397.83" font-family='"Liberation Sans", sans-serif' font-size="7.73" text-anchor="end" fill="#000" stroke="#000" stroke-width="0.14" textLength="9.54" lengthAdjust="spacingAndGlyphs" >11</text>
<line x1="29.45" y1="386.13" x2="32.05" y2="386.13" stroke="#666" stroke-width="0.6" />
<line x1="310.2" y1="386.13" x2="307.6" y2="386.13" stroke="#666" stroke-width="0.6" />
<text x="26.45" y="388.86" font-family='"Liberation Sans", sans-serif' font-size="7.73" text-anchor="end" fill="#000" stroke="#000" stroke-width="0.14" textLength="9.54" lengthAdjust="spacingAndGlyphs" >12</text>
<line x1="29.45" y1="377.17" x2="32.05" y2="377.17" stroke="#666" stroke-width="0.6" />
<line x1="310.2" y1="377.17" x2="307.6" y2="377.17" stroke="#666" stroke-width="0.6" />
<text x="26.45" y="379.9" font-family='"Liberation Sans", sans-serif' font-size="7.73" text-anchor="end" fill="#000" stroke="#000" stroke-width="0.14" textLength="9.54" lengthAdjust="spacingAndGlyphs" >13</text>
<line x1="29.45" y1="368.2" x2="32.05" y2="368.2" stroke="#666" stroke-width="0.6" />
<line x1="310.2" y1="368.2" x2="307.6" y2="368.2" stroke="#666" stroke-width="0.6" />
<text x="26.45" y="370.93" font-family='"Liberation Sans", sans-serif' font-size="7.73" text-anchor="end" fill="#000" stroke="#000" stroke-width="0.14" textLength="9.54" lengthAdjust="spacingAndGlyphs" >14</text>
<line x1="29.45" y1="417.52" x2="30.85" y2="417.52" stroke="#666" stroke-width="0.5" />
<line x1="310.2" y1="417.52" x2="308.8" y2="417.52" stroke="#666" stroke-width="0.5" />
<line x1="29.45" y1="408.55" x2="30.85" y2="408.55" stroke="#666" stroke-width="0.5" />
<line x1="310.2" y1="408.55" x2="308.8" y2="408.55" stroke="#666" stroke-width="0.5" />
<line x1="29.45" y1="399.58" x2="30.85" y2="399.58" stroke="#666" stroke-width="0.5" />
<line x1="310.2" y1="399.58" x2="308.8" y2="399.58" stroke="#666" stroke-width="0.5" />
<line x1="29.45" y1="390.62" x2="30.85" y2="390.62" stroke="#666" stroke-width="0.5" />
<line x1="310.2" y1="390.62" x2="308.8" y2="390.62" stroke="#666" stroke-width="0.5" />
<line x1="29.45" y1="381.65" x2="30.85" y2="381.65" stroke="#666" stroke-width="0.5" />
<line x1="310.2" y1="381.65" x2="308.8" y2="381.65" stroke="#666" stroke-width="0.5" />
<line x1="29.45" y1="372.68" x2="30.85" y2="372.68" stroke="#666" stroke-width="0.5" />
<line x1="310.2" y1="372.68" x2="308.8" y2="372.68" stroke="#666" stroke-width="0.5" />
<line x1="404.3" y1="68.9" x2="406.9" y2="68.9" stroke="#666" stroke-width="0.6" />
<line x1="684.6" y1="68.9" x2="682" y2="68.9" stroke="#666" stroke-width="0.6" />
<text x="401.3" y="71.63" font-family='"Liberation Sans", sans-serif' font-size="7.73" text-anchor="end" fill="#000" stroke="#000" stroke-width="0.14" textLength="4.77" lengthAdjust="spacingAndGlyphs" >0</text>
<line x1="404.3" y1="62" x2="406.9" y2="62" stroke="#666" stroke-width="0.6" />
<line x1="684.6" y1="62" x2="682" y2="62" stroke="#666" stroke-width="0.6" />
<text x="401.3" y="64.73" font-family='"Liberation Sans", sans-serif' font-size="7.73" text-anchor="end" fill="#000" stroke="#000" stroke-width="0.14" textLength="4.77" lengthAdjust="spacingAndGlyphs" >2</text>
<line x1="404.3" y1="55.1" x2="406.9" y2="55.1" stroke="#666" stroke-width="0.6" />
<line x1="684.6" y1="55.1" x2="682" y2="55.1" stroke="#666" stroke-width="0.6" />
<text x="401.3" y="57.83" font-family='"Liberation Sans", sans-serif' font-size="7.73" text-anchor="end" fill="#000" stroke="#000" stroke-width="0.14" textLength="4.77" lengthAdjust="spacingAndGlyphs" >4</text>
<line x1="404.3" y1="48.2" x2="406.9" y2="48.2" stroke="#666" stroke-width="0.6" />
<line x1="684.6" y1="48.2" x2="682" y2="48.2" stroke="#666" stroke-width="0.6" />
<text x="401.3" y="50.93" font-family='"Liberation Sans", sans-serif' font-size="7.73" text-anchor="end" fill="#000" stroke="#000" stroke-width="0.14" textLength="4.77" lengthAdjust="spacingAndGlyphs" >6</text>
<line x1="404.3" y1="41.3" x2="406.9" y2="41.3" stroke="#666" stroke-width="0.6" />
<line x1="684.6" y1="41.3" x2="682" y2="41.3" stroke="#666" stroke-width="0.6" />
<text x="401.3" y="44.03" font-family='"Liberation Sans", sans-serif' font-size="7.73" text-anchor="end" fill="#000" stroke="#000" stroke-width="0.14" textLength="4.77" lengthAdjust="spacingAndGlyphs" >8</text>
<line x1="404.3" y1="34.4" x2="406.9" y2="34.4" stroke="#666" stroke-width="0.6" />
<line x1="684.6" y1="34.4" x2="682" y2="34.4" stroke="#666" stroke-width="0.6" />
<text x="401.3" y="37.13" font-family='"Liberation Sans", sans-serif' font-size="7.73" text-anchor="end" fill="#000" stroke="#000" stroke-width="0.14" textLength="9.54" lengthAdjust="spacingAndGlyphs" >10</text>
<line x1="404.3" y1="27.5" x2="406.9" y2="27.5" stroke="#666" stroke-width="0.6" />
<line x1="684.6" y1="27.5" x2="682" y2="27.5" stroke="#666" stroke-width="0.6" />
<text x="401.3" y="30.23" font-family='"Liberation Sans", sans-serif' font-size="7.73" text-anchor="end" fill="#000" stroke="#000" stroke-width="0.14" textLength="9.54" lengthAdjust="spacingAndGlyphs" >12</text>
<line x1="404.3" y1="20.6" x2="406.9" y2="20.6" stroke="#666" stroke-width="0.6" />
<line x1="684.6" y1="20.6" x2="682" y2="20.6" stroke="#666" stroke-width="0.6" />
<text x="401.3" y="23.33" font-family='"Liberation Sans", sans-serif' font-size="7.73" text-anchor="end" fill="#000" stroke="#000" stroke-width="0.14" textLength="9.54" lengthAdjust="spacingAndGlyphs" >14</text>
<line x1="404.3" y1="13.7" x2="406.9" y2="13.7" stroke="#666" stroke-width="0.6" />
<line x1="684.6" y1="13.7" x2="682" y2="13.7" stroke="#666" stroke-width="0.6" />
<text x="401.3" y="16.43" font-family='"Liberation Sans", sans-serif' font-size="7.73" text-anchor="end" fill="#000" stroke="#000" stroke-width="0.14" textLength="9.54" lengthAdjust="spacingAndGlyphs" >16</text>
<line x1="404.3" y1="65.45" x2="405.7" y2="65.45" stroke="#666" stroke-width="0.5" />
<line x1="684.6" y1="65.45" x2="683.2" y2="65.45" stroke="#666" stroke-width="0.5" />
<line x1="404.3" y1="58.55" x2="405.7" y2="58.55" stroke="#666" stroke-width="0.5" />
<line x1="684.6" y1="58.55" x2="683.2" y2="58.55" stroke="#666" stroke-width="0.5" />
<line x1="404.3" y1="51.65" x2="405.7" y2="51.65" stroke="#666" stroke-width="0.5" />
<line x1="684.6" y1="51.65" x2="683.2" y2="51.65" stroke="#666" stroke-width="0.5" />
<line x1="404.3" y1="44.75" x2="405.7" y2="44.75" stroke="#666" stroke-width="0.5" />
<line x1="684.6" y1="44.75" x2="683.2" y2="44.75" stroke="#666" stroke-width="0.5" />
<line x1="404.3" y1="37.85" x2="405.7" y2="37.85" stroke="#666" stroke-width="0.5" />
<line x1="684.6" y1="37.85" x2="683.2" y2="37.85" stroke="#666" stroke-width="0.5" />
<line x1="404.3" y1="30.95" x2="405.7" y2="30.95" stroke="#666" stroke-width="0.5" />
<line x1="684.6" y1="30.95" x2="683.2" y2="30.95" stroke="#666" stroke-width="0.5" />
<line x1="404.3" y1="24.05" x2="405.7" y2="24.05" stroke="#666" stroke-width="0.5" />
<line x1="684.6" y1="24.05" x2="683.2" y2="24.05" stroke="#666" stroke-width="0.5" />
<line x1="404.3" y1="17.15" x2="405.7" y2="17.15" stroke="#666" stroke-width="0.5" />
<line x1="684.6" y1="17.15" x2="683.2" y2="17.15" stroke="#666" stroke-width="0.5" />
<line x1="404.3" y1="125.9" x2="406.9" y2="125.9" stroke="#666" stroke-width="0.6" />
<line x1="684.6" y1="125.9" x2="682" y2="125.9" stroke="#666" stroke-width="0.6" />
<text x="401.3" y="128.63" font-family='"Liberation Sans", sans-serif' font-size="7.73" text-anchor="end" fill="#000" stroke="#000" stroke-width="0.14" textLength="15.83" lengthAdjust="spacingAndGlyphs" >−15</text>
<line x1="404.3" y1="116.93" x2="406.9" y2="116.93" stroke="#666" stroke-width="0.6" />
<line x1="684.6" y1="116.93" x2="682" y2="116.93" stroke="#666" stroke-width="0.6" />
<text x="401.3" y="119.66" font-family='"Liberation Sans", sans-serif' font-size="7.73" text-anchor="end" fill="#000" stroke="#000" stroke-width="0.14" textLength="15.83" lengthAdjust="spacingAndGlyphs" >−10</text>
<line x1="404.3" y1="107.97" x2="406.9" y2="107.97" stroke="#666" stroke-width="0.6" />
<line x1="684.6" y1="107.97" x2="682" y2="107.97" stroke="#666" stroke-width="0.6" />
<text x="401.3" y="110.7" font-family='"Liberation Sans", sans-serif' font-size="7.73" text-anchor="end" fill="#000" stroke="#000" stroke-width="0.14" textLength="11.06" lengthAdjust="spacingAndGlyphs" >−5</text>
<line x1="404.3" y1="99" x2="406.9" y2="99" stroke="#666" stroke-width="0.6" />
<line x1="684.6" y1="99" x2="682" y2="99" stroke="#666" stroke-width="0.6" />
<text x="401.3" y="101.73" font-family='"Liberation Sans", sans-serif' font-size="7.73" text-anchor="end" fill="#000" stroke="#000" stroke-width="0.14" textLength="4.77" lengthAdjust="spacingAndGlyphs" >0</text>
<line x1="404.3" y1="90.03" x2="406.9" y2="90.03" stroke="#666" stroke-width="0.6" />
<line x1="684.6" y1="90.03" x2="682" y2="90.03" stroke="#666" stroke-width="0.6" />
<text x="401.3" y="92.76" font-family='"Liberation Sans", sans-serif' font-size="7.73" text-anchor="end" fill="#000" stroke="#000" stroke-width="0.14" textLength="4.77" lengthAdjust="spacingAndGlyphs" >5</text>
<line x1="404.3" y1="81.07" x2="406.9" y2="81.07" stroke="#666" stroke-width="0.6" />
<line x1="684.6" y1="81.07" x2="682" y2="81.07" stroke="#666" stroke-width="0.6" />
<text x="401.3" y="83.8" font-family='"Liberation Sans", sans-serif' font-size="7.73" text-anchor="end" fill="#000" stroke="#000" stroke-width="0.14" textLength="9.54" lengthAdjust="spacingAndGlyphs" >10</text>
<line x1="404.3" y1="72.1" x2="406.9" y2="72.1" stroke="#666" stroke-width="0.6" />
<line x1="684.6" y1="72.1" x2="682" y2="72.1" stroke="#666" stroke-width="0.6" />
<text x="401.3" y="74.83" font-family='"Liberation Sans", sans-serif' font-size="7.73" text-anchor="end" fill="#000" stroke="#000" stroke-width="0.14" textLength="9.54" lengthAdjust="spacingAndGlyphs" >15</text>
<line x1="404.3" y1="121.42" x2="405.7" y2="121.42" stroke="#666" stroke-width="0.5" />
<line x1="684.6" y1="121.42" x2="683.2" y2="121.42" stroke="#666" stroke-width="0.5" />
<line x1="404.3" y1="112.45" x2="405.7" y2="112.45" stroke="#666" stroke-width="0.5" />
<line x1="684.6" y1="112.45" x2="683.2" y2="112.45" stroke="#666" stroke-width="0.5" />
<line x1="404.3" y1="103.48" x2="405.7" y2="103.48" stroke="#666" stroke-width="0.5" />
<line x1="684.6" y1="103.48" x2="683.2" y2="103.48" stroke="#666" stroke-width="0.5" />
<line x1="404.3" y1="94.52" x2="405.7" y2="94.52" stroke="#666" stroke-width="0.5" />
<line x1="684.6" y1="94.52" x2="683.2" y2="94.52" stroke="#666" stroke-width="0.5" />
<line x1="404.3" y1="85.55" x2="405.7" y2="85.55" stroke="#666" stroke-width="0.5" />
<line x1="684.6" y1="85.55" x2="683.2" y2="85.55" stroke="#666" stroke-width="0.5" />
<line x1="404.3" y1="76.58" x2="405.7" y2="76.58" stroke="#666" stroke-width="0.5" />
<line x1="684.6" y1="76.58" x2="683.2" y2="76.58" stroke="#666" stroke-width="0.5" />
<line x1="404.3" y1="187.5" x2="406.9" y2="187.5" stroke="#666" stroke-width="0.6" />
<line x1="684.6" y1="187.5" x2="682" y2="187.5" stroke="#666" stroke-width="0.6" />
<text x="401.3" y="190.23" font-family='"Liberation Sans", sans-serif' font-size="7.73" text-anchor="end" fill="#000" stroke="#000" stroke-width="0.14" textLength="4.77" lengthAdjust="spacingAndGlyphs" >0</text>
<line x1="404.3" y1="178.35" x2="406.9" y2="178.35" stroke="#666" stroke-width="0.6" />
<line x1="684.6" y1="178.35" x2="682" y2="178.35" stroke="#666" stroke-width="0.6" />
<text x="401.3" y="181.08" font-family='"Liberation Sans", sans-serif' font-size="7.73" text-anchor="end" fill="#000" stroke="#000" stroke-width="0.14" textLength="4.77" lengthAdjust="spacingAndGlyphs" >5</text>
<line x1="404.3" y1="169.2" x2="406.9" y2="169.2" stroke="#666" stroke-width="0.6" />
<line x1="684.6" y1="169.2" x2="682" y2="169.2" stroke="#666" stroke-width="0.6" />
<text x="401.3" y="171.93" font-family='"Liberation Sans", sans-serif' font-size="7.73" text-anchor="end" fill="#000" stroke="#000" stroke-width="0.14" textLength="9.54" lengthAdjust="spacingAndGlyphs" >10</text>
<line x1="404.3" y1="160.05" x2="406.9" y2="160.05" stroke="#666" stroke-width="0.6" />
<line x1="684.6" y1="160.05" x2="682" y2="160.05" stroke="#666" stroke-width="0.6" />
<text x="401.3" y="162.78" font-family='"Liberation Sans", sans-serif' font-size="7.73" text-anchor="end" fill="#000" stroke="#000" stroke-width="0.14" textLength="9.54" lengthAdjust="spacingAndGlyphs" >15</text>
<line x1="404.3" y1="150.9" x2="406.9" y2="150.9" stroke="#666" stroke-width="0.6" />
<line x1="684.6" y1="150.9" x2="682" y2="150.9" stroke="#666" stroke-width="0.6" />
<text x="401.3" y="153.63" font-family='"Liberation Sans", sans-serif' font-size="7.73" text-anchor="end" fill="#000" stroke="#000" stroke-width="0.14" textLength="9.54" lengthAdjust="spacingAndGlyphs" >20</text>
<line x1="404.3" y1="141.75" x2="406.9" y2="141.75" stroke="#666" stroke-width="0.6" />
<line x1="684.6" y1="141.75" x2="682" y2="141.75" stroke="#666" stroke-width="0.6" />
<text x="401.3" y="144.48" font-family='"Liberation Sans", sans-serif' font-size="7.73" text-anchor="end" fill="#000" stroke="#000" stroke-width="0.14" textLength="9.54" lengthAdjust="spacingAndGlyphs" >25</text>
<line x1="404.3" y1="132.6" x2="406.9" y2="132.6" stroke="#666" stroke-width="0.6" />
<line x1="684.6" y1="132.6" x2="682" y2="132.6" stroke="#666" stroke-width="0.6" />
<text x="401.3" y="135.33" font-family='"Liberation Sans", sans-serif' font-size="7.73" text-anchor="end" fill="#000" stroke="#000" stroke-width="0.14" textLength="9.54" lengthAdjust="spacingAndGlyphs" >30</text>
<line x1="404.3" y1="182.93" x2="405.7" y2="182.93" stroke="#666" stroke-width="0.5" />
<line x1="684.6" y1="182.93" x2="683.2" y2="182.93" stroke="#666" stroke-width="0.5" />
<line x1="404.3" y1="173.78" x2="405.7" y2="173.78" stroke="#666" stroke-width="0.5" />
<line x1="684.6" y1="173.78" x2="683.2" y2="173.78" stroke="#666" stroke-width="0.5" />
<line x1="404.3" y1="164.62" x2="405.7" y2="164.62" stroke="#666" stroke-width="0.5" />
<line x1="684.6" y1="164.62" x2="683.2" y2="164.62" stroke="#666" stroke-width="0.5" />
<line x1="404.3" y1="155.47" x2="405.7" y2="155.47" stroke="#666" stroke-width="0.5" />
<line x1="684.6" y1="155.47" x2="683.2" y2="155.47" stroke="#666" stroke-width="0.5" />
<line x1="404.3" y1="146.32" x2="405.7" y2="146.32" stroke="#666" stroke-width="0.5" />
<line x1="684.6" y1="146.32" x2="683.2" y2="146.32" stroke="#666" stroke-width="0.5" />
<line x1="404.3" y1="137.17" x2="405.7" y2="137.17" stroke="#666" stroke-width="0.5" />
<line x1="684.6" y1="137.17" x2="683.2" y2="137.17" stroke="#666" stroke-width="0.5" />
<line x1="404.3" y1="301.7" x2="406.9" y2="301.7" stroke="#666" stroke-width="0.6" />
<line x1="684.6" y1="301.7" x2="682" y2="301.7" stroke="#666" stroke-width="0.6" />
<text x="401.3" y="304.43" font-family='"Liberation Sans", sans-serif' font-size="7.73" text-anchor="end" fill="#000" stroke="#000" stroke-width="0.14" textLength="14.32" lengthAdjust="spacingAndGlyphs" >300</text>
<line x1="404.3" y1="292.74" x2="406.9" y2="292.74" stroke="#666" stroke-width="0.6" />
<line x1="684.6" y1="292.74" x2="682" y2="292.74" stroke="#666" stroke-width="0.6" />
<text x="401.3" y="295.47" font-family='"Liberation Sans", sans-serif' font-size="7.73" text-anchor="end" fill="#000" stroke="#000" stroke-width="0.14" textLength="14.32" lengthAdjust="spacingAndGlyphs" >320</text>
<line x1="404.3" y1="283.78" x2="406.9" y2="283.78" stroke="#666" stroke-width="0.6" />
<line x1="684.6" y1="283.78" x2="682" y2="283.78" stroke="#666" stroke-width="0.6" />
<text x="401.3" y="286.51" font-family='"Liberation Sans", sans-serif' font-size="7.73" text-anchor="end" fill="#000" stroke="#000" stroke-width="0.14" textLength="14.32" lengthAdjust="spacingAndGlyphs" >340</text>
<line x1="404.3" y1="274.82" x2="406.9" y2="274.82" stroke="#666" stroke-width="0.6" />
<line x1="684.6" y1="274.82" x2="682" y2="274.82" stroke="#666" stroke-width="0.6" />
<text x="401.3" y="277.55" font-family='"Liberation Sans", sans-serif' font-size="7.73" text-anchor="end" fill="#000" stroke="#000" stroke-width="0.14" textLength="14.32" lengthAdjust="spacingAndGlyphs" >360</text>
<line x1="404.3" y1="265.86" x2="406.9" y2="265.86" stroke="#666" stroke-width="0.6" />
<line x1="684.6" y1="265.86" x2="682" y2="265.86" stroke="#666" stroke-width="0.6" />
<text x="401.3" y="268.59" font-family='"Liberation Sans", sans-serif' font-size="7.73" text-anchor="end" fill="#000" stroke="#000" stroke-width="0.14" textLength="14.32" lengthAdjust="spacingAndGlyphs" >380</text>
<line x1="404.3" y1="256.9" x2="406.9" y2="256.9" stroke="#666" stroke-width="0.6" />
<line x1="684.6" y1="256.9" x2="682" y2="256.9" stroke="#666" stroke-width="0.6" />
<text x="401.3" y="259.63" font-family='"Liberation Sans", sans-serif' font-size="7.73" text-anchor="end" fill="#000" stroke="#000" stroke-width="0.14" textLength="14.32" lengthAdjust="spacingAndGlyphs" >400</text>
<line x1="404.3" y1="297.22" x2="405.7" y2="297.22" stroke="#666" stroke-width="0.5" />
<line x1="684.6" y1="297.22" x2="683.2" y2="297.22" stroke="#666" stroke-width="0.5" />
<line x1="404.3" y1="288.26" x2="405.7" y2="288.26" stroke="#666" stroke-width="0.5" />
<line x1="684.6" y1="288.26" x2="683.2" y2="288.26" stroke="#666" stroke-width="0.5" />
<line x1="404.3" y1="279.3" x2="405.7" y2="279.3" stroke="#666" stroke-width="0.5" />
<line x1="684.6" y1="279.3" x2="683.2" y2="279.3" stroke="#666" stroke-width="0.5" />
<line x1="404.3" y1="270.34" x2="405.7" y2="270.34" stroke="#666" stroke-width="0.5" />
<line x1="684.6" y1="270.34" x2="683.2" y2="270.34" stroke="#666" stroke-width="0.5" />
<line x1="404.3" y1="261.38" x2="405.7" y2="261.38" stroke="#666" stroke-width="0.5" />
<line x1="684.6" y1="261.38" x2="683.2" y2="261.38" stroke="#666" stroke-width="0.5" />
<line x1="404.3" y1="252.42" x2="405.7" y2="252.42" stroke="#666" stroke-width="0.5" />
<line x1="684.6" y1="252.42" x2="683.2" y2="252.42" stroke="#666" stroke-width="0.5" />
<line x1="404.3" y1="359.6" x2="406.9" y2="359.6" stroke="#666" stroke-width="0.6" />
<text x="401.3" y="362.33" font-family='"Liberation Sans", sans-serif' font-size="7.73" text-anchor="end" fill="#000" stroke="#000" stroke-width="0.14" textLength="20.6" lengthAdjust="spacingAndGlyphs" >−100</text>
<line x1="404.3" y1="350.93" x2="406.9" y2="350.93" stroke="#666" stroke-width="0.6" />
<text x="401.3" y="353.66" font-family='"Liberation Sans", sans-serif' font-size="7.73" text-anchor="end" fill="#000" stroke="#000" stroke-width="0.14" textLength="15.83" lengthAdjust="spacingAndGlyphs" >−80</text>
<line x1="404.3" y1="342.27" x2="406.9" y2="342.27" stroke="#666" stroke-width="0.6" />
<text x="401.3" y="345" font-family='"Liberation Sans", sans-serif' font-size="7.73" text-anchor="end" fill="#000" stroke="#000" stroke-width="0.14" textLength="15.83" lengthAdjust="spacingAndGlyphs" >−60</text>
<line x1="404.3" y1="333.6" x2="406.9" y2="333.6" stroke="#666" stroke-width="0.6" />
<text x="401.3" y="336.33" font-family='"Liberation Sans", sans-serif' font-size="7.73" text-anchor="end" fill="#000" stroke="#000" stroke-width="0.14" textLength="15.83" lengthAdjust="spacingAndGlyphs" >−40</text>
<line x1="404.3" y1="324.93" x2="406.9" y2="324.93" stroke="#666" stroke-width="0.6" />
<text x="401.3" y="327.66" font-family='"Liberation Sans", sans-serif' font-size="7.73" text-anchor="end" fill="#000" stroke="#000" stroke-width="0.14" textLength="15.83" lengthAdjust="spacingAndGlyphs" >−20</text>
<line x1="404.3" y1="316.27" x2="406.9" y2="316.27" stroke="#666" stroke-width="0.6" />
<text x="401.3" y="319" font-family='"Liberation Sans", sans-serif' font-size="7.73" text-anchor="end" fill="#000" stroke="#000" stroke-width="0.14" textLength="4.77" lengthAdjust="spacingAndGlyphs" >0</text>
<line x1="404.3" y1="307.6" x2="406.9" y2="307.6" stroke="#666" stroke-width="0.6" />
<text x="401.3" y="310.33" font-family='"Liberation Sans", sans-serif' font-size="7.73" text-anchor="end" fill="#000" stroke="#000" stroke-width="0.14" textLength="9.54" lengthAdjust="spacingAndGlyphs" >20</text>
<line x1="404.3" y1="363.93" x2="405.7" y2="363.93" stroke="#666" stroke-width="0.5" />
<line x1="404.3" y1="355.27" x2="405.7" y2="355.27" stroke="#666" stroke-width="0.5" />
<line x1="404.3" y1="346.6" x2="405.7" y2="346.6" stroke="#666" stroke-width="0.5" />
<line x1="404.3" y1="337.93" x2="405.7" y2="337.93" stroke="#666" stroke-width="0.5" />
<line x1="404.3" y1="329.27" x2="405.7" y2="329.27" stroke="#666" stroke-width="0.5" />
<line x1="404.3" y1="320.6" x2="405.7" y2="320.6" stroke="#666" stroke-width="0.5" />
<line x1="404.3" y1="311.93" x2="405.7" y2="311.93" stroke="#666" stroke-width="0.5" />
<line x1="684.6" y1="356.3" x2="682" y2="356.3" stroke="#666" stroke-width="0.6" />
<text x="687.2" y="359.03" font-family='"Liberation Sans", sans-serif' font-size="7.73" text-anchor="start" fill="#ff0000" stroke="#ff0000" stroke-width="0.14" textLength="20.6" lengthAdjust="spacingAndGlyphs" >−800</text>
<line x1="684.6" y1="344" x2="682" y2="344" stroke="#666" stroke-width="0.6" />
<text x="687.2" y="346.73" font-family='"Liberation Sans", sans-serif' font-size="7.73" text-anchor="start" fill="#ff0000" stroke="#ff0000" stroke-width="0.14" textLength="20.6" lengthAdjust="spacingAndGlyphs" >−600</text>
<line x1="684.6" y1="331.7" x2="682" y2="331.7" stroke="#666" stroke-width="0.6" />
<text x="687.2" y="334.43" font-family='"Liberation Sans", sans-serif' font-size="7.73" text-anchor="start" fill="#ff0000" stroke="#ff0000" stroke-width="0.14" textLength="20.6" lengthAdjust="spacingAndGlyphs" >−400</text>
<line x1="684.6" y1="319.4" x2="682" y2="319.4" stroke="#666" stroke-width="0.6" />
<text x="687.2" y="322.13" font-family='"Liberation Sans", sans-serif' font-size="7.73" text-anchor="start" fill="#ff0000" stroke="#ff0000" stroke-width="0.14" textLength="20.6" lengthAdjust="spacingAndGlyphs" >−200</text>
<line x1="684.6" y1="307.1" x2="682" y2="307.1" stroke="#666" stroke-width="0.6" />
<text x="687.2" y="309.83" font-family='"Liberation Sans", sans-serif' font-size="7.73" text-anchor="start" fill="#ff0000" stroke="#ff0000" stroke-width="0.14" textLength="4.77" lengthAdjust="spacingAndGlyphs" >0</text>
<line x1="684.6" y1="362.45" x2="683.2" y2="362.45" stroke="#666" stroke-width="0.5" />
<line x1="684.6" y1="350.15" x2="683.2" y2="350.15" stroke="#666" stroke-width="0.5" />
<line x1="684.6" y1="337.85" x2="683.2" y2="337.85" stroke="#666" stroke-width="0.5" />
<line x1="684.6" y1="325.55" x2="683.2" y2="325.55" stroke="#666" stroke-width="0.5" />
<line x1="684.6" y1="313.25" x2="683.2" y2="313.25" stroke="#666" stroke-width="0.5" />
<line x1="404.3" y1="421.2" x2="406.9" y2="421.2" stroke="#666" stroke-width="0.6" />
<line x1="684.6" y1="421.2" x2="682" y2="421.2" stroke="#666" stroke-width="0.6" />
<text x="401.3" y="423.93" font-family='"Liberation Sans", sans-serif' font-size="7.73" text-anchor="end" fill="#000" stroke="#000" stroke-width="0.14" textLength="4.77" lengthAdjust="spacingAndGlyphs" >8</text>
<line x1="404.3" y1="410.68" x2="406.9" y2="410.68" stroke="#666" stroke-width="0.6" />
<line x1="684.6" y1="410.68" x2="682" y2="410.68" stroke="#666" stroke-width="0.6" />
<text x="401.3" y="413.41" font-family='"Liberation Sans", sans-serif' font-size="7.73" text-anchor="end" fill="#000" stroke="#000" stroke-width="0.14" textLength="4.77" lengthAdjust="spacingAndGlyphs" >9</text>
<line x1="404.3" y1="400.16" x2="406.9" y2="400.16" stroke="#666" stroke-width="0.6" />
<line x1="684.6" y1="400.16" x2="682" y2="400.16" stroke="#666" stroke-width="0.6" />
<text x="401.3" y="402.89" font-family='"Liberation Sans", sans-serif' font-size="7.73" text-anchor="end" fill="#000" stroke="#000" stroke-width="0.14" textLength="9.54" lengthAdjust="spacingAndGlyphs" >10</text>
<line x1="404.3" y1="389.64" x2="406.9" y2="389.64" stroke="#666" stroke-width="0.6" />
<line x1="684.6" y1="389.64" x2="682" y2="389.64" stroke="#666" stroke-width="0.6" />
<text x="401.3" y="392.37" font-family='"Liberation Sans", sans-serif' font-size="7.73" text-anchor="end" fill="#000" stroke="#000" stroke-width="0.14" textLength="9.54" lengthAdjust="spacingAndGlyphs" >11</text>
<line x1="404.3" y1="379.12" x2="406.9" y2="379.12" stroke="#666" stroke-width="0.6" />
<line x1="684.6" y1="379.12" x2="682" y2="379.12" stroke="#666" stroke-width="0.6" />
<text x="401.3" y="381.85" font-family='"Liberation Sans", sans-serif' font-size="7.73" text-anchor="end" fill="#000" stroke="#000" stroke-width="0.14" textLength="9.54" lengthAdjust="spacingAndGlyphs" >12</text>
<line x1="404.3" y1="368.6" x2="406.9" y2="368.6" stroke="#666" stroke-width="0.6" />
<line x1="684.6" y1="368.6" x2="682" y2="368.6" stroke="#666" stroke-width="0.6" />
<text x="401.3" y="371.33" font-family='"Liberation Sans", sans-serif' font-size="7.73" text-anchor="end" fill="#000" stroke="#000" stroke-width="0.14" textLength="9.54" lengthAdjust="spacingAndGlyphs" >13</text>
<line x1="404.3" y1="415.94" x2="405.7" y2="415.94" stroke="#666" stroke-width="0.5" />
<line x1="684.6" y1="415.94" x2="683.2" y2="415.94" stroke="#666" stroke-width="0.5" />
<line x1="404.3" y1="405.42" x2="405.7" y2="405.42" stroke="#666" stroke-width="0.5" />
<line x1="684.6" y1="405.42" x2="683.2" y2="405.42" stroke="#666" stroke-width="0.5" />
<line x1="404.3" y1="394.9" x2="405.7" y2="394.9" stroke="#666" stroke-width="0.5" />
<line x1="684.6" y1="394.9" x2="683.2" y2="394.9" stroke="#666" stroke-width="0.5" />
<line x1="404.3" y1="384.38" x2="405.7" y2="384.38" stroke="#666" stroke-width="0.5" />
<line x1="684.6" y1="384.38" x2="683.2" y2="384.38" stroke="#666" stroke-width="0.5" />
<line x1="404.3" y1="373.86" x2="405.7" y2="373.86" stroke="#666" stroke-width="0.5" />
<line x1="684.6" y1="373.86" x2="683.2" y2="373.86" stroke="#666" stroke-width="0.5" />
<line x1="29.45" y1="245.9" x2="32.05" y2="245.9" stroke="#666" stroke-width="0.6" />
<line x1="310.2" y1="245.9" x2="307.6" y2="245.9" stroke="#666" stroke-width="0.6" />
<line x1="29.45" y1="231.27" x2="30.85" y2="231.27" stroke="#666" stroke-width="0.6" />
<line x1="310.2" y1="231.27" x2="308.8" y2="231.27" stroke="#666" stroke-width="0.6" />
<line x1="29.45" y1="222.71" x2="30.85" y2="222.71" stroke="#666" stroke-width="0.6" />
<line x1="310.2" y1="222.71" x2="308.8" y2="222.71" stroke="#666" stroke-width="0.6" />
<line x1="29.45" y1="216.64" x2="30.85" y2="216.64" stroke="#666" stroke-width="0.6" />
<line x1="310.2" y1="216.64" x2="308.8" y2="216.64" stroke="#666" stroke-width="0.6" />
<line x1="29.45" y1="211.93" x2="30.85" y2="211.93" stroke="#666" stroke-width="0.6" />
<line x1="310.2" y1="211.93" x2="308.8" y2="211.93" stroke="#666" stroke-width="0.6" />
<line x1="29.45" y1="208.08" x2="30.85" y2="208.08" stroke="#666" stroke-width="0.6" />
<line x1="310.2" y1="208.08" x2="308.8" y2="208.08" stroke="#666" stroke-width="0.6" />
<line x1="29.45" y1="204.83" x2="30.85" y2="204.83" stroke="#666" stroke-width="0.6" />
<line x1="310.2" y1="204.83" x2="308.8" y2="204.83" stroke="#666" stroke-width="0.6" />
<line x1="29.45" y1="202.01" x2="30.85" y2="202.01" stroke="#666" stroke-width="0.6" />
<line x1="310.2" y1="202.01" x2="308.8" y2="202.01" stroke="#666" stroke-width="0.6" />
<line x1="29.45" y1="199.52" x2="30.85" y2="199.52" stroke="#666" stroke-width="0.6" />
<line x1="310.2" y1="199.52" x2="308.8" y2="199.52" stroke="#666" stroke-width="0.6" />
<line x1="29.45" y1="197.3" x2="32.05" y2="197.3" stroke="#666" stroke-width="0.6" />
<line x1="310.2" y1="197.3" x2="307.6" y2="197.3" stroke="#666" stroke-width="0.6" />
<text x="22.45" y="248.9" font-family='"Liberation Serif", serif' font-size="8.8" text-anchor="end" fill="#000" textLength="9.4" lengthAdjust="spacingAndGlyphs" stroke="#000" stroke-width="0.15">10</text>
<text x="25.95" y="245.9" font-family='"Liberation Serif", serif' font-size="6.9" text-anchor="end" fill="#000" textLength="3.4" lengthAdjust="spacingAndGlyphs" stroke="#000" stroke-width="0.1">4</text>
<text x="22.45" y="200.3" font-family='"Liberation Serif", serif' font-size="8.8" text-anchor="end" fill="#000" textLength="9.4" lengthAdjust="spacingAndGlyphs" stroke="#000" stroke-width="0.15">10</text>
<text x="25.95" y="197.3" font-family='"Liberation Serif", serif' font-size="6.9" text-anchor="end" fill="#000" textLength="3.4" lengthAdjust="spacingAndGlyphs" stroke="#000" stroke-width="0.1">5</text>
<line x1="404.3" y1="245.9" x2="406.9" y2="245.9" stroke="#666" stroke-width="0.6" />
<line x1="684.6" y1="245.9" x2="682" y2="245.9" stroke="#666" stroke-width="0.6" />
<line x1="404.3" y1="232.35" x2="405.7" y2="232.35" stroke="#666" stroke-width="0.6" />
<line x1="684.6" y1="232.35" x2="683.2" y2="232.35" stroke="#666" stroke-width="0.6" />
<line x1="404.3" y1="224.43" x2="405.7" y2="224.43" stroke="#666" stroke-width="0.6" />
<line x1="684.6" y1="224.43" x2="683.2" y2="224.43" stroke="#666" stroke-width="0.6" />
<line x1="404.3" y1="218.81" x2="405.7" y2="218.81" stroke="#666" stroke-width="0.6" />
<line x1="684.6" y1="218.81" x2="683.2" y2="218.81" stroke="#666" stroke-width="0.6" />
<line x1="404.3" y1="214.45" x2="405.7" y2="214.45" stroke="#666" stroke-width="0.6" />
<line x1="684.6" y1="214.45" x2="683.2" y2="214.45" stroke="#666" stroke-width="0.6" />
<line x1="404.3" y1="210.88" x2="405.7" y2="210.88" stroke="#666" stroke-width="0.6" />
<line x1="684.6" y1="210.88" x2="683.2" y2="210.88" stroke="#666" stroke-width="0.6" />
<line x1="404.3" y1="207.87" x2="405.7" y2="207.87" stroke="#666" stroke-width="0.6" />
<line x1="684.6" y1="207.87" x2="683.2" y2="207.87" stroke="#666" stroke-width="0.6" />
<line x1="404.3" y1="205.26" x2="405.7" y2="205.26" stroke="#666" stroke-width="0.6" />
<line x1="684.6" y1="205.26" x2="683.2" y2="205.26" stroke="#666" stroke-width="0.6" />
<line x1="404.3" y1="202.96" x2="405.7" y2="202.96" stroke="#666" stroke-width="0.6" />
<line x1="684.6" y1="202.96" x2="683.2" y2="202.96" stroke="#666" stroke-width="0.6" />
<line x1="404.3" y1="200.9" x2="406.9" y2="200.9" stroke="#666" stroke-width="0.6" />
<line x1="684.6" y1="200.9" x2="682" y2="200.9" stroke="#666" stroke-width="0.6" />
<text x="397.3" y="248.9" font-family='"Liberation Serif", serif' font-size="8.8" text-anchor="end" fill="#000" textLength="9.4" lengthAdjust="spacingAndGlyphs" stroke="#000" stroke-width="0.15">10</text>
<text x="400.8" y="245.9" font-family='"Liberation Serif", serif' font-size="6.9" text-anchor="end" fill="#000" textLength="3.4" lengthAdjust="spacingAndGlyphs" stroke="#000" stroke-width="0.1">4</text>
<text x="397.3" y="203.9" font-family='"Liberation Serif", serif' font-size="8.8" text-anchor="end" fill="#000" textLength="9.4" lengthAdjust="spacingAndGlyphs" stroke="#000" stroke-width="0.15">10</text>
<text x="400.8" y="200.9" font-family='"Liberation Serif", serif' font-size="6.9" text-anchor="end" fill="#000" textLength="3.4" lengthAdjust="spacingAndGlyphs" stroke="#000" stroke-width="0.1">5</text>
<text x="47" y="434" font-family='"Liberation Sans", sans-serif' font-size="7.73" text-anchor="middle" fill="#000" stroke="#000" stroke-width="0.14" textLength="11.06" lengthAdjust="spacingAndGlyphs" >−9</text>
<text x="64.54" y="434" font-family='"Liberation Sans", sans-serif' font-size="7.73" text-anchor="middle" fill="#000" stroke="#000" stroke-width="0.14" textLength="11.06" lengthAdjust="spacingAndGlyphs" >−6</text>
<text x="82.09" y="434" font-family='"Liberation Sans", sans-serif' font-size="7.73" text-anchor="middle" fill="#000" stroke="#000" stroke-width="0.14" textLength="11.06" lengthAdjust="spacingAndGlyphs" >−3</text>
<text x="99.64" y="434" font-family='"Liberation Sans", sans-serif' font-size="7.73" text-anchor="middle" fill="#000" stroke="#000" stroke-width="0.14" textLength="4.77" lengthAdjust="spacingAndGlyphs" >0</text>
<text x="117.18" y="434" font-family='"Liberation Sans", sans-serif' font-size="7.73" text-anchor="middle" fill="#000" stroke="#000" stroke-width="0.14" textLength="4.77" lengthAdjust="spacingAndGlyphs" >3</text>
<text x="134.73" y="434" font-family='"Liberation Sans", sans-serif' font-size="7.73" text-anchor="middle" fill="#000" stroke="#000" stroke-width="0.14" textLength="4.77" lengthAdjust="spacingAndGlyphs" >6</text>
<text x="152.28" y="434" font-family='"Liberation Sans", sans-serif' font-size="7.73" text-anchor="middle" fill="#000" stroke="#000" stroke-width="0.14" textLength="4.77" lengthAdjust="spacingAndGlyphs" >9</text>
<text x="169.82" y="434" font-family='"Liberation Sans", sans-serif' font-size="7.73" text-anchor="middle" fill="#000" stroke="#000" stroke-width="0.14" textLength="9.54" lengthAdjust="spacingAndGlyphs" >12</text>
<text x="187.37" y="434" font-family='"Liberation Sans", sans-serif' font-size="7.73" text-anchor="middle" fill="#000" stroke="#000" stroke-width="0.14" textLength="9.54" lengthAdjust="spacingAndGlyphs" >15</text>
<text x="204.92" y="434" font-family='"Liberation Sans", sans-serif' font-size="7.73" text-anchor="middle" fill="#000" stroke="#000" stroke-width="0.14" textLength="9.54" lengthAdjust="spacingAndGlyphs" >18</text>
<text x="222.47" y="434" font-family='"Liberation Sans", sans-serif' font-size="7.73" text-anchor="middle" fill="#000" stroke="#000" stroke-width="0.14" textLength="9.54" lengthAdjust="spacingAndGlyphs" >21</text>
<text x="240.01" y="434" font-family='"Liberation Sans", sans-serif' font-size="7.73" text-anchor="middle" fill="#000" stroke="#000" stroke-width="0.14" textLength="9.54" lengthAdjust="spacingAndGlyphs" >24</text>
<text x="257.56" y="434" font-family='"Liberation Sans", sans-serif' font-size="7.73" text-anchor="middle" fill="#000" stroke="#000" stroke-width="0.14" textLength="9.54" lengthAdjust="spacingAndGlyphs" >27</text>
<text x="275.11" y="434" font-family='"Liberation Sans", sans-serif' font-size="7.73" text-anchor="middle" fill="#000" stroke="#000" stroke-width="0.14" textLength="9.54" lengthAdjust="spacingAndGlyphs" >30</text>
<text x="292.65" y="434" font-family='"Liberation Sans", sans-serif' font-size="7.73" text-anchor="middle" fill="#000" stroke="#000" stroke-width="0.14" textLength="9.54" lengthAdjust="spacingAndGlyphs" >33</text>
<text x="404.3" y="434" font-family='"Liberation Sans", sans-serif' font-size="7.73" text-anchor="middle" fill="#000" stroke="#000" stroke-width="0.14" textLength="4.77" lengthAdjust="spacingAndGlyphs" >0</text>
<text x="424.32" y="434" font-family='"Liberation Sans", sans-serif' font-size="7.73" text-anchor="middle" fill="#000" stroke="#000" stroke-width="0.14" textLength="4.77" lengthAdjust="spacingAndGlyphs" >3</text>
<text x="444.34" y="434" font-family='"Liberation Sans", sans-serif' font-size="7.73" text-anchor="middle" fill="#000" stroke="#000" stroke-width="0.14" textLength="4.77" lengthAdjust="spacingAndGlyphs" >6</text>
<text x="464.36" y="434" font-family='"Liberation Sans", sans-serif' font-size="7.73" text-anchor="middle" fill="#000" stroke="#000" stroke-width="0.14" textLength="4.77" lengthAdjust="spacingAndGlyphs" >9</text>
<text x="484.39" y="434" font-family='"Liberation Sans", sans-serif' font-size="7.73" text-anchor="middle" fill="#000" stroke="#000" stroke-width="0.14" textLength="9.54" lengthAdjust="spacingAndGlyphs" >12</text>
<text x="504.41" y="434" font-family='"Liberation Sans", sans-serif' font-size="7.73" text-anchor="middle" fill="#000" stroke="#000" stroke-width="0.14" textLength="9.54" lengthAdjust="spacingAndGlyphs" >15</text>
<text x="524.43" y="434" font-family='"Liberation Sans", sans-serif' font-size="7.73" text-anchor="middle" fill="#000" stroke="#000" stroke-width="0.14" textLength="9.54" lengthAdjust="spacingAndGlyphs" >18</text>
<text x="544.45" y="434" font-family='"Liberation Sans", sans-serif' font-size="7.73" text-anchor="middle" fill="#000" stroke="#000" stroke-width="0.14" textLength="9.54" lengthAdjust="spacingAndGlyphs" >21</text>
<text x="564.47" y="434" font-family='"Liberation Sans", sans-serif' font-size="7.73" text-anchor="middle" fill="#000" stroke="#000" stroke-width="0.14" textLength="9.54" lengthAdjust="spacingAndGlyphs" >24</text>
<text x="584.49" y="434" font-family='"Liberation Sans", sans-serif' font-size="7.73" text-anchor="middle" fill="#000" stroke="#000" stroke-width="0.14" textLength="9.54" lengthAdjust="spacingAndGlyphs" >27</text>
<text x="604.51" y="434" font-family='"Liberation Sans", sans-serif' font-size="7.73" text-anchor="middle" fill="#000" stroke="#000" stroke-width="0.14" textLength="9.54" lengthAdjust="spacingAndGlyphs" >30</text>
<text x="624.54" y="434" font-family='"Liberation Sans", sans-serif' font-size="7.73" text-anchor="middle" fill="#000" stroke="#000" stroke-width="0.14" textLength="9.54" lengthAdjust="spacingAndGlyphs" >33</text>
<text x="644.56" y="434" font-family='"Liberation Sans", sans-serif' font-size="7.73" text-anchor="middle" fill="#000" stroke="#000" stroke-width="0.14" textLength="9.54" lengthAdjust="spacingAndGlyphs" >36</text>
<text x="664.58" y="434" font-family='"Liberation Sans", sans-serif' font-size="7.73" text-anchor="middle" fill="#000" stroke="#000" stroke-width="0.14" textLength="9.54" lengthAdjust="spacingAndGlyphs" >39</text>
<text x="684.6" y="434" font-family='"Liberation Sans", sans-serif' font-size="7.73" text-anchor="middle" fill="#000" stroke="#000" stroke-width="0.14" textLength="9.54" lengthAdjust="spacingAndGlyphs" >42</text>
<text x="169.3" y="444.3" font-family='"Liberation Sans", sans-serif' font-size="7.73" text-anchor="middle" fill="#000" stroke="#000" stroke-width="0.14" textLength="125.62" lengthAdjust="spacingAndGlyphs" >Time (h) since November 1, 2012</text>
<text x="544.1" y="444.3" font-family='"Liberation Sans", sans-serif' font-size="7.73" text-anchor="middle" fill="#000" stroke="#000" stroke-width="0.14" textLength="104.87" lengthAdjust="spacingAndGlyphs" >Time (h) since July 15, 1997</text>
<text transform="translate(12.6,39.7) rotate(-90)" x="0" y="0" font-family='"Liberation Sans", sans-serif' font-size="7.73" text-anchor="middle" fill="#000" stroke="#000" stroke-width="0.14" textLength="22.72" lengthAdjust="spacingAndGlyphs">B (nT)</text>
<text transform="translate(5.7,98.9) rotate(-90)" x="0" y="0" font-family='"Liberation Sans", sans-serif' font-size="7.73" text-anchor="middle" fill="#000" stroke="#000" stroke-width="0.14" textLength="33.48" lengthAdjust="spacingAndGlyphs">By,z (nT)</text>
<text transform="translate(12.6,158.2) rotate(-90)" x="0" y="0" font-family='"Liberation Sans", sans-serif' font-size="7.73" text-anchor="middle" fill="#000" stroke="#000" stroke-width="0.14" textLength="24.62" lengthAdjust="spacingAndGlyphs">N (/cc)</text>
<text transform="translate(7.4,218.3) rotate(-90)" x="0" y="0" font-family='"Liberation Sans", sans-serif' font-size="7.73" text-anchor="middle" fill="#000" stroke="#000" stroke-width="0.14" textLength="17.74" lengthAdjust="spacingAndGlyphs">T (K)</text>
<text transform="translate(7.6,277.2) rotate(-90)" x="0" y="0" font-family='"Liberation Sans", sans-serif' font-size="7.73" text-anchor="middle" fill="#000" stroke="#000" stroke-width="0.14" textLength="31.45" lengthAdjust="spacingAndGlyphs">V (km/s)</text>
<text transform="translate(6.3,337.3) rotate(-90)" x="0" y="0" font-family='"Liberation Sans", sans-serif' font-size="7.73" text-anchor="middle" fill="#000" stroke="#000" stroke-width="0.14" textLength="24.85" lengthAdjust="spacingAndGlyphs">Sym-H</text>
<text transform="translate(347.6,337) rotate(-90)" x="0" y="0" font-family='"Liberation Sans", sans-serif' font-size="7.73" text-anchor="middle" fill="#ff0000" stroke="#ff0000" stroke-width="0.14" textLength="26.88" lengthAdjust="spacingAndGlyphs">AL (nT)</text>
<text transform="translate(387.2,39.7) rotate(-90)" x="0" y="0" font-family='"Liberation Sans", sans-serif' font-size="7.73" text-anchor="middle" fill="#000" stroke="#000" stroke-width="0.14" textLength="22.72" lengthAdjust="spacingAndGlyphs">B (nT)</text>
<text transform="translate(381,98.9) rotate(-90)" x="0" y="0" font-family='"Liberation Sans", sans-serif' font-size="7.73" text-anchor="middle" fill="#000" stroke="#000" stroke-width="0.14" textLength="26.65" lengthAdjust="spacingAndGlyphs">Bz (nT)</text>
<text transform="translate(387.2,158.2) rotate(-90)" x="0" y="0" font-family='"Liberation Sans", sans-serif' font-size="7.73" text-anchor="middle" fill="#000" stroke="#000" stroke-width="0.14" textLength="24.62" lengthAdjust="spacingAndGlyphs">N (/cc)</text>
<text transform="translate(382.2,218.3) rotate(-90)" x="0" y="0" font-family='"Liberation Sans", sans-serif' font-size="7.73" text-anchor="middle" fill="#000" stroke="#000" stroke-width="0.14" textLength="17.74" lengthAdjust="spacingAndGlyphs">T (K)</text>
<text transform="translate(382.4,277.2) rotate(-90)" x="0" y="0" font-family='"Liberation Sans", sans-serif' font-size="7.73" text-anchor="middle" fill="#000" stroke="#000" stroke-width="0.14" textLength="31.45" lengthAdjust="spacingAndGlyphs">V (km/s)</text>
<text transform="translate(376.5,337.3) rotate(-90)" x="0" y="0" font-family='"Liberation Sans", sans-serif' font-size="7.73" text-anchor="middle" fill="#000" stroke="#000" stroke-width="0.14" textLength="24.85" lengthAdjust="spacingAndGlyphs">Sym-H</text>
<text transform="translate(717.6,337.9) rotate(-90)" x="0" y="0" font-family='"Liberation Sans", sans-serif' font-size="7.73" text-anchor="middle" fill="#ff0000" stroke="#ff0000" stroke-width="0.14" textLength="26.88" lengthAdjust="spacingAndGlyphs">AL (nT)</text>
<g transform="translate(11.8,413) rotate(-90)" fill="#2a2a2a"><text x="0" y="0" font-family='"Liberation Serif", serif' font-style="italic" font-size="7.8" textLength="6.3" lengthAdjust="spacingAndGlyphs">R</text><text x="6.7" y="0.5" font-family='"Liberation Serif", serif' font-style="italic" font-size="4.6" textLength="6.8" lengthAdjust="spacingAndGlyphs">MP</text><text x="14.3" y="0" font-family='"Liberation Sans", sans-serif' font-size="7.6" textLength="2.6" lengthAdjust="spacingAndGlyphs">(</text><text x="18.0" y="0" font-family='"Liberation Serif", serif' font-size="7.4" textLength="5.8" lengthAdjust="spacingAndGlyphs">R</text><text x="24.6" y="0" font-family='"Liberation Serif", serif' font-style="italic" font-size="4.6" textLength="3.3" lengthAdjust="spacingAndGlyphs">E</text><text x="29.6" y="0" font-family='"Liberation Sans", sans-serif' font-size="7.6" textLength="2.6" lengthAdjust="spacingAndGlyphs">)</text></g>
<g transform="translate(386.8,413) rotate(-90)" fill="#2a2a2a"><text x="0" y="0" font-family='"Liberation Serif", serif' font-style="italic" font-size="7.8" textLength="6.3" lengthAdjust="spacingAndGlyphs">R</text><text x="6.7" y="0.5" font-family='"Liberation Serif", serif' font-style="italic" font-size="4.6" textLength="6.8" lengthAdjust="spacingAndGlyphs">MP</text><text x="14.3" y="0" font-family='"Liberation Sans", sans-serif' font-size="7.6" textLength="2.6" lengthAdjust="spacingAndGlyphs">(</text><text x="18.0" y="0" font-family='"Liberation Serif", serif' font-size="7.4" textLength="5.8" lengthAdjust="spacingAndGlyphs">R</text><text x="24.6" y="0" font-family='"Liberation Serif", serif' font-style="italic" font-size="4.6" textLength="3.3" lengthAdjust="spacingAndGlyphs">E</text><text x="29.6" y="0" font-family='"Liberation Sans", sans-serif' font-size="7.6" textLength="2.6" lengthAdjust="spacingAndGlyphs">)</text></g>
<text x="117.2" y="288.5" font-family='"Liberation Sans", sans-serif' font-size="9.79" text-anchor="start" fill="#000" stroke="#000" stroke-width="0.14" textLength="75.11" lengthAdjust="spacingAndGlyphs" >Vexp = 30 km/s</text>
<text x="117.2" y="297.3" font-family='"Liberation Sans", sans-serif' font-size="9.79" text-anchor="start" fill="#000" stroke="#000" stroke-width="0.14" textLength="84.88" lengthAdjust="spacingAndGlyphs" >Vcme = 350 km/s</text>
<text x="484.6" y="286.6" font-family='"Liberation Sans", sans-serif' font-size="9.79" text-anchor="start" fill="#000" stroke="#000" stroke-width="0.14" textLength="75.11" lengthAdjust="spacingAndGlyphs" >Vexp = 12 km/s</text>
<text x="484.6" y="299.6" font-family='"Liberation Sans", sans-serif' font-size="9.79" text-anchor="start" fill="#000" stroke="#000" stroke-width="0.14" textLength="26.82" lengthAdjust="spacingAndGlyphs" >Vcme</text>
<rect x="515.1" y="295.3" width="6.1" height="3.6" fill="#7a7a7a"/>
<text x="525.42" y="299.6" font-family='"Liberation Sans", sans-serif' font-size="9.79" text-anchor="start" fill="#000" stroke="#000" stroke-width="0.14" textLength="44.06" lengthAdjust="spacingAndGlyphs" >365 km/s</text>
<text x="22.5" y="6.8" font-family='"Liberation Sans", sans-serif' font-size="9.27" text-anchor="start" fill="#000" stroke="#000" stroke-width="0.14" textLength="131.2" lengthAdjust="spacingAndGlyphs" >Shock-Driving Slow CME with</text>
<text x="158.3" y="6.8" font-family='"Liberation Serif", serif' font-size="9.4" text-anchor="start" fill="#000" textLength="3.6" lengthAdjust="spacingAndGlyphs" >1</text>
<text x="164.8" y="6.8" font-family='"Liberation Serif", serif' font-size="9.4" text-anchor="start" fill="#000" textLength="6.6" lengthAdjust="spacingAndGlyphs" >&lt;</text>
<text x="173" y="6.8" font-family='"Liberation Serif", serif' font-size="9.6" text-anchor="start" fill="#000" textLength="10.4" lengthAdjust="spacingAndGlyphs"  font-style="italic">M</text>
<text x="182.8" y="8.7" font-family='"Liberation Serif", serif' font-size="6.6" text-anchor="start" fill="#000" textLength="10.4" lengthAdjust="spacingAndGlyphs" >cme</text>
<text x="196.2" y="6.8" font-family='"Liberation Serif", serif' font-size="9.4" text-anchor="start" fill="#000" textLength="6.6" lengthAdjust="spacingAndGlyphs" >&lt;</text>
<text x="203.2" y="6.8" font-family='"Liberation Serif", serif' font-size="9.6" text-anchor="start" fill="#000" textLength="10.2" lengthAdjust="spacingAndGlyphs"  font-style="italic">M</text>
<text x="212.7" y="8.7" font-family='"Liberation Serif", serif' font-size="6.6" text-anchor="start" fill="#000" textLength="13.1" lengthAdjust="spacingAndGlyphs" >front</text>
<text x="230" y="6.8" font-family='"Liberation Sans", sans-serif' font-size="9.27" text-anchor="start" fill="#000" stroke="#000" stroke-width="0.14" textLength="7.02" lengthAdjust="spacingAndGlyphs" >&amp;</text>
<text x="242.8" y="6.8" font-family='"Liberation Serif", serif' font-size="9.6" text-anchor="start" fill="#000" textLength="6" lengthAdjust="spacingAndGlyphs"  font-style="italic">V</text>
<text x="247.2" y="6.8" font-family='"Liberation Serif", serif' font-size="9.4" text-anchor="start" fill="#000" textLength="12" lengthAdjust="spacingAndGlyphs" >ms</text>
<text x="259.6" y="8.8" font-family='"Liberation Serif", serif' font-size="6.2" text-anchor="start" fill="#000" textLength="7.4" lengthAdjust="spacingAndGlyphs" >up</text>
<text x="271.3" y="6.8" font-family='"Liberation Sans", sans-serif' font-size="9.27" text-anchor="start" fill="#000" stroke="#000" stroke-width="0.14" textLength="46.42" lengthAdjust="spacingAndGlyphs" >= 45 km/s</text>
<text x="448.4" y="6.8" font-family='"Liberation Sans", sans-serif' font-size="9.27" text-anchor="start" fill="#000" stroke="#000" stroke-width="0.14" textLength="113.35" lengthAdjust="spacingAndGlyphs" >Slow CME without Shock;</text>
<text x="565.7" y="6.8" font-family='"Liberation Serif", serif' font-size="9.6" text-anchor="start" fill="#000" textLength="6" lengthAdjust="spacingAndGlyphs"  font-style="italic">V</text>
<text x="570.1" y="6.8" font-family='"Liberation Serif", serif' font-size="9.4" text-anchor="start" fill="#000" textLength="12" lengthAdjust="spacingAndGlyphs" >ms</text>
<text x="582.5" y="8.8" font-family='"Liberation Serif", serif' font-size="6.2" text-anchor="start" fill="#000" textLength="7.4" lengthAdjust="spacingAndGlyphs" >up</text>
<text x="594.2" y="6.8" font-family='"Liberation Sans", sans-serif' font-size="9.27" text-anchor="start" fill="#000" stroke="#000" stroke-width="0.14" textLength="46.42" lengthAdjust="spacingAndGlyphs" >= 45 km/s</text></svg>
</body></html>
